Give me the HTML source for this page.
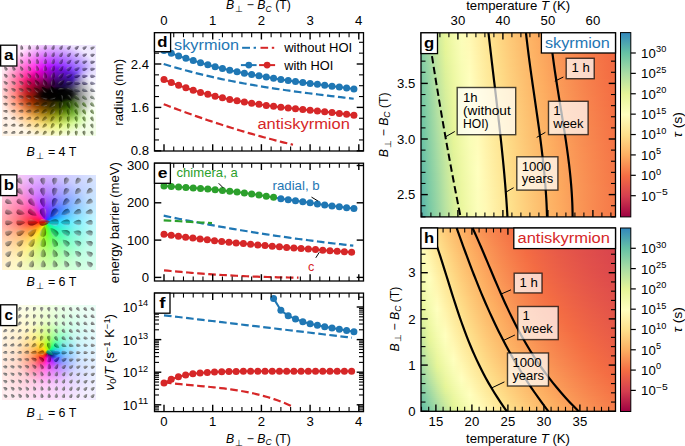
<!DOCTYPE html>
<html><head><meta charset="utf-8"><style>
html,body{margin:0;padding:0;background:#fff;}
#root{position:relative;width:685px;height:446px;overflow:hidden;background:#fff;font-family:"Liberation Sans",sans-serif;}
#root>div{position:absolute;}
svg{position:absolute;left:0;top:0;}
svg text{font-family:"Liberation Sans",sans-serif;}
</style></head><body><div id="root">
<div style="left:2px;top:44.5px;width:94px;height:91.5px;background:radial-gradient(ellipse 22px 8px at 55px 49.5px, rgba(0,0,0,0.97) 0%, rgba(0,0,0,0.9) 60%, rgba(0,0,0,0) 100%),radial-gradient(ellipse 40px 30px at 54px 50.5px, rgba(0,0,0,0.9) 0%, rgba(0,0,0,0.7) 40%, rgba(0,0,0,0.3) 70%, rgba(0,0,0,0) 100%),radial-gradient(ellipse 20px 30px at 88px 50.5px, rgba(255,255,255,0.95) 0%, rgba(255,255,255,0.75) 50%, rgba(255,255,255,0) 100%),radial-gradient(ellipse 52px 48px at 50px 44.5px, rgba(255,255,255,0) 0%, rgba(255,255,255,0) 45%, rgba(255,255,255,0.5) 75%, rgba(255,255,255,0.9) 100%),conic-gradient(from 0deg at 55px 48.5px, #9010ff 0deg, #6020ff 45deg, #c8c8ff 80deg, #e8fff0 95deg, #a0ff40 115deg, #80f000 140deg, #d8f000 180deg, #ffa000 225deg, #ff3000 260deg, #ff0060 290deg, #ff00e0 320deg, #c000ff 340deg, #9010ff 360deg)"></div>
<div style="left:2px;top:175px;width:94px;height:95px;background:radial-gradient(circle at 43.6px 47.3px, rgba(255,255,255,0) 0px, rgba(255,255,255,0.15) 12px, rgba(255,255,255,0.5) 30px, rgba(255,255,255,0.75) 48px, rgba(255,255,255,0.86) 68px),conic-gradient(from 0deg at 43.6px 47.3px, #7a00ff 0deg, #0050ff 50deg, #00e0ff 90deg, #00ff90 130deg, #60ff00 175deg, #ffe000 215deg, #ff6000 250deg, #ff0000 270deg, #ff0090 315deg, #b000ff 340deg, #7a00ff 360deg)"></div>
<div style="left:2px;top:305px;width:94px;height:95px;background:radial-gradient(ellipse 7px 5px at 48.7px 49.2px, rgba(0,0,40,0.8) 0%, rgba(0,0,0,0) 100%),radial-gradient(circle at 45.7px 48.2px, rgba(255,255,255,0) 0px, rgba(255,255,255,0.08) 7px, rgba(255,255,255,0.5) 18px, rgba(255,255,255,0.8) 32px, rgba(255,255,255,0.92) 55px),conic-gradient(from 0deg at 45.7px 48.2px, #90ff00 0deg, #00ff80 40deg, #00c0ff 80deg, #2040ff 120deg, #a000ff 150deg, #ff00e0 185deg, #ff0040 220deg, #ff4000 250deg, #ff9000 280deg, #ffe000 320deg, #90ff00 360deg)"></div>
<div style="left:421.00px;top:32.80px;width:194.50px;height:2.60px;background:linear-gradient(90deg,#88cfa5 0.0%,#acdea4 4.2%,#ceeb9d 8.3%,#e8f69b 12.5%,#f3faac 16.7%,#fcfeba 20.8%,#fff8b4 25.0%,#feefa4 29.2%,#fee696 33.3%,#fede89 37.5%,#fed380 41.7%,#fec977 45.8%,#fdbf70 50.0%,#fdb768 54.2%,#fdaf62 58.3%,#fca65d 62.5%,#fb9d59 66.7%,#f99455 70.8%,#f88d52 75.0%,#f7854e 79.2%,#f67f4b 83.3%,#f67848 87.5%,#f57245 91.7%,#f46d43 95.8%,#f16944 100.0%)"></div>
<div style="left:421.00px;top:34.80px;width:194.50px;height:2.60px;background:linear-gradient(90deg,#87cfa5 0.0%,#acdda4 4.2%,#cdeb9d 8.3%,#e8f69b 12.5%,#f2faab 16.7%,#fcfeba 20.8%,#fff8b4 25.0%,#feefa4 29.2%,#fee796 33.3%,#fede8a 37.5%,#fed380 41.7%,#fec978 45.8%,#fdc070 50.0%,#fdb769 54.2%,#fdaf62 58.3%,#fca65d 62.5%,#fb9d59 66.7%,#f99555 70.8%,#f88d52 75.0%,#f7864e 79.2%,#f67f4b 83.3%,#f67848 87.5%,#f57245 91.7%,#f46d43 95.8%,#f16944 100.0%)"></div>
<div style="left:421.00px;top:36.80px;width:194.50px;height:2.60px;background:linear-gradient(90deg,#87cfa5 0.0%,#abdda4 4.2%,#ccea9d 8.3%,#e7f69a 12.5%,#f2faab 16.7%,#fcfeba 20.8%,#fff9b5 25.0%,#feefa5 29.2%,#fee797 33.3%,#fedf8a 37.5%,#fed481 41.7%,#fec978 45.8%,#fdc070 50.0%,#fdb769 54.2%,#fdaf62 58.3%,#fca65d 62.5%,#fb9d59 66.7%,#fa9555 70.8%,#f88d52 75.0%,#f7864e 79.2%,#f67f4b 83.3%,#f67848 87.5%,#f57246 91.7%,#f46d43 95.8%,#f16944 100.0%)"></div>
<div style="left:421.00px;top:38.80px;width:194.50px;height:2.60px;background:linear-gradient(90deg,#86cea5 0.0%,#aadca4 4.2%,#cbea9d 8.3%,#e7f59a 12.5%,#f2faaa 16.7%,#fbfeb9 20.8%,#fff9b5 25.0%,#fff0a5 29.2%,#fee797 33.3%,#fedf8a 37.5%,#fed481 41.7%,#feca78 45.8%,#fdc070 50.0%,#fdb769 54.2%,#fdaf62 58.3%,#fca65d 62.5%,#fb9d59 66.7%,#fa9555 70.8%,#f88d52 75.0%,#f7864e 79.2%,#f67f4b 83.3%,#f67948 87.5%,#f57346 91.7%,#f46d43 95.8%,#f16944 100.0%)"></div>
<div style="left:421.00px;top:40.80px;width:194.50px;height:2.60px;background:linear-gradient(90deg,#85cea5 0.0%,#a9dca4 4.2%,#cbea9e 8.3%,#e7f599 12.5%,#f2faaa 16.7%,#fbfdb9 20.8%,#fff9b5 25.0%,#fff0a6 29.2%,#fee797 33.3%,#fedf8b 37.5%,#fed481 41.7%,#feca78 45.8%,#fdc070 50.0%,#fdb869 54.2%,#fdb062 58.3%,#fca75e 62.5%,#fb9e59 66.7%,#fa9556 70.8%,#f88d52 75.0%,#f7864f 79.2%,#f77f4b 83.3%,#f67948 87.5%,#f57346 91.7%,#f46d43 95.8%,#f16944 100.0%)"></div>
<div style="left:421.00px;top:42.80px;width:194.50px;height:2.60px;background:linear-gradient(90deg,#84cea5 0.0%,#a8dca4 4.2%,#caea9e 8.3%,#e6f599 12.5%,#f1faaa 16.7%,#fbfdb9 20.8%,#fffab6 25.0%,#fff0a6 29.2%,#fee898 33.3%,#fee08b 37.5%,#fed481 41.7%,#feca79 45.8%,#fdc171 50.0%,#fdb869 54.2%,#fdb063 58.3%,#fca75e 62.5%,#fb9e5a 66.7%,#fa9556 70.8%,#f98e52 75.0%,#f7864f 79.2%,#f77f4b 83.3%,#f67948 87.5%,#f57346 91.7%,#f46d43 95.8%,#f16944 100.0%)"></div>
<div style="left:421.00px;top:44.80px;width:194.50px;height:2.60px;background:linear-gradient(90deg,#83cea5 0.0%,#a7dba4 4.2%,#c9e99e 8.3%,#e6f598 12.5%,#f1f9a9 16.7%,#fbfdb8 20.8%,#fffab6 25.0%,#fff0a6 29.2%,#fee898 33.3%,#fee08b 37.5%,#fed582 41.7%,#feca79 45.8%,#fdc171 50.0%,#fdb86a 54.2%,#fdb063 58.3%,#fca75e 62.5%,#fb9e5a 66.7%,#fa9656 70.8%,#f98e52 75.0%,#f8864f 79.2%,#f7804c 83.3%,#f67949 87.5%,#f57346 91.7%,#f46d43 95.8%,#f26944 100.0%)"></div>
<div style="left:421.00px;top:46.80px;width:194.50px;height:2.60px;background:linear-gradient(90deg,#83cda5 0.0%,#a6dba4 4.2%,#c8e99e 8.3%,#e6f598 12.5%,#f1f9a9 16.7%,#fafdb8 20.8%,#fffab7 25.0%,#fff1a7 29.2%,#fee898 33.3%,#fee08c 37.5%,#fed582 41.7%,#fecb79 45.8%,#fdc171 50.0%,#fdb86a 54.2%,#fdb063 58.3%,#fca75e 62.5%,#fb9e5a 66.7%,#fa9656 70.8%,#f98e52 75.0%,#f8874f 79.2%,#f7804c 83.3%,#f67949 87.5%,#f57346 91.7%,#f46d43 95.8%,#f26944 100.0%)"></div>
<div style="left:421.00px;top:48.80px;width:194.50px;height:2.60px;background:linear-gradient(90deg,#82cda5 0.0%,#a5dba4 4.2%,#c8e99e 8.3%,#e5f598 12.5%,#f0f9a8 16.7%,#fafdb7 20.8%,#fffab7 25.0%,#fff1a7 29.2%,#fee899 33.3%,#fee18c 37.5%,#fed582 41.7%,#fecb79 45.8%,#fdc171 50.0%,#fdb96a 54.2%,#fdb163 58.3%,#fca85e 62.5%,#fb9f5a 66.7%,#fa9656 70.8%,#f98e52 75.0%,#f8874f 79.2%,#f7804c 83.3%,#f67949 87.5%,#f57346 91.7%,#f46e43 95.8%,#f26944 100.0%)"></div>
<div style="left:421.00px;top:50.80px;width:194.50px;height:2.60px;background:linear-gradient(90deg,#81cda5 0.0%,#a4daa4 4.2%,#c7e89e 8.3%,#e4f498 12.5%,#f0f9a8 16.7%,#fafdb7 20.8%,#fffbb8 25.0%,#fff1a8 29.2%,#fee999 33.3%,#fee18c 37.5%,#fed682 41.7%,#fecb7a 45.8%,#fdc272 50.0%,#fdb96a 54.2%,#fdb163 58.3%,#fca85e 62.5%,#fb9f5a 66.7%,#fa9656 70.8%,#f98e52 75.0%,#f8874f 79.2%,#f7804c 83.3%,#f67a49 87.5%,#f57346 91.7%,#f46e43 95.8%,#f26a44 100.0%)"></div>
<div style="left:421.00px;top:52.80px;width:194.50px;height:2.60px;background:linear-gradient(90deg,#80cca5 0.0%,#a3daa4 4.2%,#c6e89e 8.3%,#e4f498 12.5%,#f0f9a8 16.7%,#fafdb7 20.8%,#fffbb8 25.0%,#fff1a8 29.2%,#fee99a 33.3%,#fee18d 37.5%,#fed683 41.7%,#fecc7a 45.8%,#fdc272 50.0%,#fdb96a 54.2%,#fdb164 58.3%,#fca85e 62.5%,#fb9f5a 66.7%,#fa9756 70.8%,#f98f53 75.0%,#f8874f 79.2%,#f7804c 83.3%,#f67a49 87.5%,#f57446 91.7%,#f46e43 95.8%,#f26a44 100.0%)"></div>
<div style="left:421.00px;top:54.80px;width:194.50px;height:2.60px;background:linear-gradient(90deg,#80cca5 0.0%,#a2d9a4 4.2%,#c5e89f 8.3%,#e3f499 12.5%,#f0f9a7 16.7%,#f9fdb6 20.8%,#fffbb9 25.0%,#fff2a9 29.2%,#fee99a 33.3%,#fee18d 37.5%,#fed683 41.7%,#fecc7a 45.8%,#fdc272 50.0%,#fdb96b 54.2%,#fdb164 58.3%,#fca95e 62.5%,#fb9f5a 66.7%,#fa9756 70.8%,#f98f53 75.0%,#f8884f 79.2%,#f7814c 83.3%,#f67a49 87.5%,#f57446 91.7%,#f46e43 95.8%,#f26a44 100.0%)"></div>
<div style="left:421.00px;top:56.80px;width:194.50px;height:2.60px;background:linear-gradient(90deg,#7fcca5 0.0%,#a1d9a4 4.2%,#c5e79f 8.3%,#e2f499 12.5%,#eff9a7 16.7%,#f9fdb6 20.8%,#fffbb9 25.0%,#fff2a9 29.2%,#fee99a 33.3%,#fee18d 37.5%,#fed783 41.7%,#fecc7a 45.8%,#fdc372 50.0%,#fdba6b 54.2%,#fdb264 58.3%,#fca95f 62.5%,#fba05a 66.7%,#fa9756 70.8%,#f98f53 75.0%,#f8884f 79.2%,#f7814c 83.3%,#f67a49 87.5%,#f57446 91.7%,#f46e44 95.8%,#f26a44 100.0%)"></div>
<div style="left:421.00px;top:58.80px;width:194.50px;height:2.60px;background:linear-gradient(90deg,#7ecca5 0.0%,#a0d9a4 4.2%,#c4e79f 8.3%,#e2f399 12.5%,#eff9a6 16.7%,#f9fdb6 20.8%,#fffcba 25.0%,#fff2a9 29.2%,#fee99b 33.3%,#fee28e 37.5%,#fed783 41.7%,#fecd7b 45.8%,#fdc373 50.0%,#fdba6b 54.2%,#fdb264 58.3%,#fca95f 62.5%,#fba05b 66.7%,#fa9757 70.8%,#f98f53 75.0%,#f8884f 79.2%,#f7814c 83.3%,#f67a49 87.5%,#f57446 91.7%,#f46e44 95.8%,#f26a44 100.0%)"></div>
<div style="left:421.00px;top:60.80px;width:194.50px;height:2.60px;background:linear-gradient(90deg,#7ecba5 0.0%,#9fd8a4 4.2%,#c3e79f 8.3%,#e1f399 12.5%,#eff9a6 16.7%,#f9fcb5 20.8%,#fffcba 25.0%,#fff2aa 29.2%,#feea9b 33.3%,#fee28e 37.5%,#fed784 41.7%,#fecd7b 45.8%,#fdc373 50.0%,#fdba6b 54.2%,#fdb264 58.3%,#fca95f 62.5%,#fba05b 66.7%,#fa9857 70.8%,#f99053 75.0%,#f88850 79.2%,#f7814c 83.3%,#f67b49 87.5%,#f57446 91.7%,#f46f44 95.8%,#f26a44 100.0%)"></div>
<div style="left:421.00px;top:62.80px;width:194.50px;height:2.60px;background:linear-gradient(90deg,#7dcba5 0.0%,#9ed8a4 4.2%,#c2e79f 8.3%,#e0f399 12.5%,#eff8a6 16.7%,#f8fcb5 20.8%,#fffcba 25.0%,#fff3aa 29.2%,#feea9c 33.3%,#fee28e 37.5%,#fed884 41.7%,#fecd7b 45.8%,#fdc373 50.0%,#fdbb6c 54.2%,#fdb265 58.3%,#fcaa5f 62.5%,#fba15b 66.7%,#fa9857 70.8%,#f99053 75.0%,#f88850 79.2%,#f7814c 83.3%,#f67b49 87.5%,#f57547 91.7%,#f46f44 95.8%,#f26a44 100.0%)"></div>
<div style="left:421.00px;top:64.80px;width:194.50px;height:2.60px;background:linear-gradient(90deg,#7ccba5 0.0%,#9dd8a4 4.2%,#c2e69f 8.3%,#e0f299 12.5%,#eef8a5 16.7%,#f8fcb4 20.8%,#fffdbb 25.0%,#fff3ab 29.2%,#feea9c 33.3%,#fee28f 37.5%,#fed884 41.7%,#fecd7b 45.8%,#fdc473 50.0%,#fdbb6c 54.2%,#fdb365 58.3%,#fcaa5f 62.5%,#fba15b 66.7%,#fa9857 70.8%,#f99053 75.0%,#f88950 79.2%,#f7824d 83.3%,#f67b4a 87.5%,#f57547 91.7%,#f46f44 95.8%,#f26a44 100.0%)"></div>
<div style="left:421.00px;top:66.80px;width:194.50px;height:2.60px;background:linear-gradient(90deg,#7ccaa5 0.0%,#9cd7a4 4.2%,#c1e6a0 8.3%,#dff299 12.5%,#eef8a5 16.7%,#f8fcb4 20.8%,#fffdbb 25.0%,#fff3ab 29.2%,#feea9c 33.3%,#fee28f 37.5%,#fed885 41.7%,#fece7c 45.8%,#fdc474 50.0%,#fdbb6c 54.2%,#fdb365 58.3%,#fdaa5f 62.5%,#fba15b 66.7%,#fa9957 70.8%,#f99153 75.0%,#f88950 79.2%,#f7824d 83.3%,#f67b4a 87.5%,#f57547 91.7%,#f46f44 95.8%,#f26b44 100.0%)"></div>
<div style="left:421.00px;top:68.80px;width:194.50px;height:2.60px;background:linear-gradient(90deg,#7bcaa5 0.0%,#9cd7a4 4.2%,#c0e6a0 8.3%,#def29a 12.5%,#eef8a4 16.7%,#f8fcb4 20.8%,#fffdbc 25.0%,#fff3ac 29.2%,#feeb9d 33.3%,#fee390 37.5%,#fed985 41.7%,#fece7c 45.8%,#fdc474 50.0%,#fdbb6c 54.2%,#fdb365 58.3%,#fdab5f 62.5%,#fba15b 66.7%,#fa9957 70.8%,#f99154 75.0%,#f88950 79.2%,#f7824d 83.3%,#f67c4a 87.5%,#f57547 91.7%,#f46f44 95.8%,#f36b44 100.0%)"></div>
<div style="left:421.00px;top:70.80px;width:194.50px;height:2.60px;background:linear-gradient(90deg,#7acaa5 0.0%,#9bd7a4 4.2%,#c0e5a0 8.3%,#def29a 12.5%,#eef8a4 16.7%,#f8fcb3 20.8%,#fffdbc 25.0%,#fff4ac 29.2%,#feeb9d 33.3%,#fee390 37.5%,#fed985 41.7%,#fece7c 45.8%,#fdc574 50.0%,#fdbc6d 54.2%,#fdb366 58.3%,#fdab60 62.5%,#fba25b 66.7%,#fa9957 70.8%,#f99154 75.0%,#f88a50 79.2%,#f7834d 83.3%,#f67c4a 87.5%,#f57647 91.7%,#f47044 95.8%,#f36b44 100.0%)"></div>
<div style="left:421.00px;top:72.80px;width:194.50px;height:2.60px;background:linear-gradient(90deg,#7acaa5 0.0%,#9bd7a4 4.2%,#bfe5a0 8.3%,#ddf19a 12.5%,#edf8a4 16.7%,#f7fcb3 20.8%,#fffebd 25.0%,#fff4ac 29.2%,#feeb9e 33.3%,#fee390 37.5%,#fed985 41.7%,#fecf7d 45.8%,#fdc574 50.0%,#fdbc6d 54.2%,#fdb466 58.3%,#fdab60 62.5%,#fba25c 66.7%,#fa9958 70.8%,#f99154 75.0%,#f88a50 79.2%,#f7834d 83.3%,#f67c4a 87.5%,#f57647 91.7%,#f47044 95.8%,#f36b43 100.0%)"></div>
<div style="left:421.00px;top:74.80px;width:194.50px;height:2.60px;background:linear-gradient(90deg,#79c9a5 0.0%,#9ad6a4 4.2%,#bee5a0 8.3%,#ddf19a 12.5%,#edf8a3 16.7%,#f7fcb3 20.8%,#fffebd 25.0%,#fff4ad 29.2%,#feeb9e 33.3%,#fee391 37.5%,#feda86 41.7%,#fecf7d 45.8%,#fdc575 50.0%,#fdbc6d 54.2%,#fdb466 58.3%,#fdac60 62.5%,#fba25c 66.7%,#fa9a58 70.8%,#f99254 75.0%,#f88a50 79.2%,#f7834d 83.3%,#f67c4a 87.5%,#f57647 91.7%,#f47044 95.8%,#f36b43 100.0%)"></div>
<div style="left:421.00px;top:76.80px;width:194.50px;height:2.60px;background:linear-gradient(90deg,#78c9a5 0.0%,#99d6a4 4.2%,#bee5a0 8.3%,#dcf19a 12.5%,#edf8a3 16.7%,#f7fcb2 20.8%,#fffebe 25.0%,#fff4ad 29.2%,#feec9e 33.3%,#fee491 37.5%,#feda86 41.7%,#fecf7d 45.8%,#fdc675 50.0%,#fdbd6d 54.2%,#fdb466 58.3%,#fdac60 62.5%,#fba35c 66.7%,#fa9a58 70.8%,#f99254 75.0%,#f88a51 79.2%,#f7834d 83.3%,#f67d4a 87.5%,#f57647 91.7%,#f47045 95.8%,#f36b43 100.0%)"></div>
<div style="left:421.00px;top:78.80px;width:194.50px;height:2.60px;background:linear-gradient(90deg,#78c9a5 0.0%,#99d6a4 4.2%,#bde4a0 8.3%,#dbf19a 12.5%,#edf8a2 16.7%,#f7fcb2 20.8%,#fffebe 25.0%,#fff5ae 29.2%,#feec9f 33.3%,#fee491 37.5%,#feda86 41.7%,#fed07d 45.8%,#fdc675 50.0%,#fdbd6e 54.2%,#fdb567 58.3%,#fdac60 62.5%,#fba35c 66.7%,#fa9a58 70.8%,#f99254 75.0%,#f88b51 79.2%,#f7844d 83.3%,#f67d4a 87.5%,#f57747 91.7%,#f57145 95.8%,#f36c43 100.0%)"></div>
<div style="left:421.00px;top:80.80px;width:194.50px;height:2.60px;background:linear-gradient(90deg,#77c9a5 0.0%,#98d6a4 4.2%,#bce4a0 8.3%,#dbf09a 12.5%,#ecf8a2 16.7%,#f6fcb2 20.8%,#ffffbf 25.0%,#fff5ae 29.2%,#feec9f 33.3%,#fee492 37.5%,#fedb87 41.7%,#fed07e 45.8%,#fdc675 50.0%,#fdbd6e 54.2%,#fdb567 58.3%,#fdad60 62.5%,#fca35c 66.7%,#fa9b58 70.8%,#f99354 75.0%,#f88b51 79.2%,#f7844e 83.3%,#f67d4a 87.5%,#f57748 91.7%,#f57145 95.8%,#f36c43 100.0%)"></div>
<div style="left:421.00px;top:82.80px;width:194.50px;height:2.60px;background:linear-gradient(90deg,#76c8a5 0.0%,#98d5a4 4.2%,#bce4a1 8.3%,#daf09a 12.5%,#ecf7a2 16.7%,#f6fbb1 20.8%,#ffffbf 25.0%,#fff5ae 29.2%,#feeca0 33.3%,#fee492 37.5%,#fedb87 41.7%,#fed07e 45.8%,#fdc776 50.0%,#fdbd6e 54.2%,#fdb567 58.3%,#fdad61 62.5%,#fca45c 66.7%,#fa9b58 70.8%,#f99355 75.0%,#f88b51 79.2%,#f7844e 83.3%,#f67d4b 87.5%,#f57748 91.7%,#f57145 95.8%,#f36c43 100.0%)"></div>
<div style="left:421.00px;top:84.80px;width:194.50px;height:2.60px;background:linear-gradient(90deg,#76c8a5 0.0%,#97d5a4 4.2%,#bbe4a1 8.3%,#d9f09b 12.5%,#ecf7a1 16.7%,#f6fbb1 20.8%,#ffffbf 25.0%,#fff5af 29.2%,#feeda0 33.3%,#fee593 37.5%,#fedb87 41.7%,#fed17e 45.8%,#fdc776 50.0%,#fdbe6e 54.2%,#fdb567 58.3%,#fdae61 62.5%,#fca45c 66.7%,#fa9b58 70.8%,#f99355 75.0%,#f88c51 79.2%,#f7844e 83.3%,#f67e4b 87.5%,#f57748 91.7%,#f57145 95.8%,#f36c43 100.0%)"></div>
<div style="left:421.00px;top:86.80px;width:194.50px;height:2.60px;background:linear-gradient(90deg,#75c8a5 0.0%,#97d5a4 4.2%,#bae3a1 8.3%,#d9f09b 12.5%,#ecf7a1 16.7%,#f6fbb1 20.8%,#ffffbe 25.0%,#fff6af 29.2%,#feeda0 33.3%,#fee593 37.5%,#fedc87 41.7%,#fed17e 45.8%,#fec776 50.0%,#fdbe6f 54.2%,#fdb667 58.3%,#fdae61 62.5%,#fca55d 66.7%,#fa9c59 70.8%,#f99455 75.0%,#f88c51 79.2%,#f7854e 83.3%,#f67e4b 87.5%,#f57848 91.7%,#f57245 95.8%,#f46c43 100.0%)"></div>
<div style="left:421.00px;top:88.80px;width:194.50px;height:2.60px;background:linear-gradient(90deg,#74c8a5 0.0%,#96d5a4 4.2%,#bae3a1 8.3%,#d8ef9b 12.5%,#ebf7a1 16.7%,#f5fbb0 20.8%,#feffbe 25.0%,#fff6b0 29.2%,#feeda1 33.3%,#fee593 37.5%,#fedc88 41.7%,#fed17f 45.8%,#fec776 50.0%,#fdbe6f 54.2%,#fdb668 58.3%,#fdae61 62.5%,#fca55d 66.7%,#fb9c59 70.8%,#f99455 75.0%,#f88c51 79.2%,#f7854e 83.3%,#f67e4b 87.5%,#f67848 91.7%,#f57245 95.8%,#f46d43 100.0%)"></div>
<div style="left:421.00px;top:90.80px;width:194.50px;height:2.60px;background:linear-gradient(90deg,#74c7a5 0.0%,#95d5a4 4.2%,#b9e3a1 8.3%,#d8ef9b 12.5%,#ebf7a0 16.7%,#f5fbb0 20.8%,#feffbe 25.0%,#fff6b0 29.2%,#feeda1 33.3%,#fee594 37.5%,#fedd88 41.7%,#fed27f 45.8%,#fec877 50.0%,#fdbf6f 54.2%,#fdb668 58.3%,#fdae61 62.5%,#fca55d 66.7%,#fb9c59 70.8%,#f99455 75.0%,#f88d52 79.2%,#f7854e 83.3%,#f67f4b 87.5%,#f67848 91.7%,#f57245 95.8%,#f46d43 100.0%)"></div>
<div style="left:421.00px;top:92.80px;width:194.50px;height:2.60px;background:linear-gradient(90deg,#73c7a5 0.0%,#95d4a4 4.2%,#b8e2a1 8.3%,#d7ef9b 12.5%,#ebf7a0 16.7%,#f5fbaf 20.8%,#feffbd 25.0%,#fff6b1 29.2%,#feeda2 33.3%,#fee594 37.5%,#fedd88 41.7%,#fed27f 45.8%,#fec877 50.0%,#fdbf6f 54.2%,#fdb768 58.3%,#fdaf62 62.5%,#fca65d 66.7%,#fb9d59 70.8%,#f99555 75.0%,#f88d52 79.2%,#f7864e 83.3%,#f67f4b 87.5%,#f67948 91.7%,#f57346 95.8%,#f46d43 100.0%)"></div>
<div style="left:421.00px;top:94.80px;width:194.50px;height:2.60px;background:linear-gradient(90deg,#73c7a5 0.0%,#94d4a4 4.2%,#b8e2a1 8.3%,#d6ef9b 12.5%,#ebf79f 16.7%,#f5fbaf 20.8%,#fefebd 25.0%,#fff7b1 29.2%,#feeea2 33.3%,#fee694 37.5%,#fedd89 41.7%,#fed280 45.8%,#fec877 50.0%,#fdbf70 54.2%,#fdb768 58.3%,#fdaf62 62.5%,#fca65d 66.7%,#fb9d59 70.8%,#fa9555 75.0%,#f88d52 79.2%,#f7864f 83.3%,#f77f4b 87.5%,#f67948 91.7%,#f57346 95.8%,#f46d43 100.0%)"></div>
<div style="left:421.00px;top:96.80px;width:194.50px;height:2.60px;background:linear-gradient(90deg,#72c7a5 0.0%,#94d4a4 4.2%,#b7e2a2 8.3%,#d6ee9b 12.5%,#ebf79f 16.7%,#f5fbaf 20.8%,#fefebd 25.0%,#fff7b1 29.2%,#feeea2 33.3%,#fee695 37.5%,#fede89 41.7%,#fed380 45.8%,#fec977 50.0%,#fdc070 54.2%,#fdb769 58.3%,#fdaf62 62.5%,#fca65d 66.7%,#fb9d59 70.8%,#fa9556 75.0%,#f98e52 79.2%,#f8864f 83.3%,#f7804c 87.5%,#f67949 91.7%,#f57346 95.8%,#f46d43 100.0%)"></div>
<div style="left:421.00px;top:98.80px;width:194.50px;height:2.60px;background:linear-gradient(90deg,#71c6a5 0.0%,#93d4a4 4.2%,#b7e2a2 8.3%,#d5ee9b 12.5%,#eaf79f 16.7%,#f4fbae 20.8%,#fdfebc 25.0%,#fff7b2 29.2%,#feeea3 33.3%,#fee695 37.5%,#fede89 41.7%,#fed380 45.8%,#fec978 50.0%,#fdc070 54.2%,#fdb769 58.3%,#fdb062 62.5%,#fca75e 66.7%,#fb9e5a 70.8%,#fa9656 75.0%,#f98e52 79.2%,#f8874f 83.3%,#f7804c 87.5%,#f67949 91.7%,#f57346 95.8%,#f46e43 100.0%)"></div>
<div style="left:421.00px;top:100.80px;width:194.50px;height:2.60px;background:linear-gradient(90deg,#71c6a5 0.0%,#93d3a4 4.2%,#b6e1a2 8.3%,#d5ee9c 12.5%,#eaf79e 16.7%,#f4fbae 20.8%,#fdfebc 25.0%,#fff7b2 29.2%,#feeea3 33.3%,#fee696 37.5%,#fede8a 41.7%,#fed380 45.8%,#fec978 50.0%,#fdc070 54.2%,#fdb869 58.3%,#fdb063 62.5%,#fca75e 66.7%,#fb9e5a 70.8%,#fa9656 75.0%,#f98e52 79.2%,#f8874f 83.3%,#f7804c 87.5%,#f67a49 91.7%,#f57446 95.8%,#f46e43 100.0%)"></div>
<div style="left:421.00px;top:102.80px;width:194.50px;height:2.60px;background:linear-gradient(90deg,#70c6a5 0.0%,#92d3a4 4.2%,#b5e1a2 8.3%,#d4ee9c 12.5%,#eaf79e 16.7%,#f4fbae 20.8%,#fdfebc 25.0%,#fff8b3 29.2%,#feefa4 33.3%,#fee796 37.5%,#fedf8a 41.7%,#fed481 45.8%,#feca78 50.0%,#fdc071 54.2%,#fdb869 58.3%,#fdb063 62.5%,#fca75e 66.7%,#fb9e5a 70.8%,#fa9656 75.0%,#f98e52 79.2%,#f8874f 83.3%,#f7804c 87.5%,#f67a49 91.7%,#f57446 95.8%,#f46e44 100.0%)"></div>
<div style="left:421.00px;top:104.80px;width:194.50px;height:2.60px;background:linear-gradient(90deg,#70c6a5 0.0%,#91d3a4 4.2%,#b5e1a2 8.3%,#d4ed9c 12.5%,#eaf69e 16.7%,#f4faad 20.8%,#fdfebb 25.0%,#fff8b3 29.2%,#feefa4 33.3%,#fee796 37.5%,#fedf8a 41.7%,#fed481 45.8%,#feca79 50.0%,#fdc171 54.2%,#fdb86a 58.3%,#fdb063 62.5%,#fca85e 66.7%,#fb9f5a 70.8%,#fa9756 75.0%,#f98f53 79.2%,#f8884f 83.3%,#f7814c 87.5%,#f67a49 91.7%,#f57446 95.8%,#f46f44 100.0%)"></div>
<div style="left:421.00px;top:106.80px;width:194.50px;height:2.60px;background:linear-gradient(90deg,#6fc6a5 0.0%,#91d3a4 4.2%,#b4e1a2 8.3%,#d3ed9c 12.5%,#e9f69d 16.7%,#f4faad 20.8%,#fdfebb 25.0%,#fff8b3 29.2%,#feefa4 33.3%,#fee797 37.5%,#fedf8a 41.7%,#fed481 45.8%,#feca79 50.0%,#fdc171 54.2%,#fdb96a 58.3%,#fdb163 62.5%,#fca85e 66.7%,#fb9f5a 70.8%,#fa9756 75.0%,#f98f53 79.2%,#f8884f 83.3%,#f7814c 87.5%,#f67b49 91.7%,#f57546 95.8%,#f46f44 100.0%)"></div>
<div style="left:421.00px;top:108.80px;width:194.50px;height:2.60px;background:linear-gradient(90deg,#6ec5a5 0.0%,#90d3a4 4.2%,#b3e0a2 8.3%,#d2ed9c 12.5%,#e9f69d 16.7%,#f3faad 20.8%,#fcfebb 25.0%,#fff8b4 29.2%,#feefa5 33.3%,#fee797 37.5%,#fee08b 41.7%,#fed581 45.8%,#fecb79 50.0%,#fdc171 54.2%,#fdb96a 58.3%,#fdb164 62.5%,#fca85e 66.7%,#fb9f5a 70.8%,#fa9756 75.0%,#f98f53 79.2%,#f88850 83.3%,#f7814c 87.5%,#f67b49 91.7%,#f57547 95.8%,#f46f44 100.0%)"></div>
<div style="left:421.00px;top:110.80px;width:194.50px;height:2.60px;background:linear-gradient(90deg,#6ec5a5 0.0%,#90d2a4 4.2%,#b3e0a2 8.3%,#d2ed9c 12.5%,#e9f69d 16.7%,#f3faac 20.8%,#fcfeba 25.0%,#fff9b4 29.2%,#fff0a5 33.3%,#fee797 37.5%,#fee08b 41.7%,#fed582 45.8%,#fecb79 50.0%,#fdc272 54.2%,#fdb96a 58.3%,#fdb164 62.5%,#fca95f 66.7%,#fba05a 70.8%,#fa9857 75.0%,#f99053 79.2%,#f88850 83.3%,#f7824d 87.5%,#f67b4a 91.7%,#f57547 95.8%,#f46f44 100.0%)"></div>
<div style="left:421.00px;top:112.80px;width:194.50px;height:2.60px;background:linear-gradient(90deg,#6dc5a5 0.0%,#8fd2a4 4.2%,#b2e0a3 8.3%,#d1ed9c 12.5%,#e9f69c 16.7%,#f3faac 20.8%,#fcfeba 25.0%,#fff9b5 29.2%,#fff0a5 33.3%,#fee898 37.5%,#fee08b 41.7%,#fed582 45.8%,#fecb7a 50.0%,#fdc272 54.2%,#fdb96b 58.3%,#fdb264 62.5%,#fca95f 66.7%,#fba05b 70.8%,#fa9857 75.0%,#f99053 79.2%,#f88950 83.3%,#f7824d 87.5%,#f67c4a 91.7%,#f57547 95.8%,#f47044 100.0%)"></div>
<div style="left:421.00px;top:114.80px;width:194.50px;height:2.60px;background:linear-gradient(90deg,#6dc5a5 0.0%,#8fd2a4 4.2%,#b2e0a3 8.3%,#d1ec9c 12.5%,#e8f69c 16.7%,#f3faac 20.8%,#fcfeba 25.0%,#fff9b5 29.2%,#fff0a6 33.3%,#fee898 37.5%,#fee08c 41.7%,#fed682 45.8%,#fecc7a 50.0%,#fdc272 54.2%,#fdba6b 58.3%,#fdb264 62.5%,#fca95f 66.7%,#fba05b 70.8%,#fa9857 75.0%,#f99053 79.2%,#f88950 83.3%,#f7824d 87.5%,#f67c4a 91.7%,#f57647 95.8%,#f47044 100.0%)"></div>
<div style="left:421.00px;top:116.80px;width:194.50px;height:2.60px;background:linear-gradient(90deg,#6cc4a5 0.0%,#8ed2a4 4.2%,#b1dfa3 8.3%,#d0ec9c 12.5%,#e8f69c 16.7%,#f2faab 20.8%,#fbfeba 25.0%,#fff9b5 29.2%,#fff0a6 33.3%,#fee898 37.5%,#fee18c 41.7%,#fed683 45.8%,#fecc7a 50.0%,#fdc372 54.2%,#fdba6b 58.3%,#fdb264 62.5%,#fcaa5f 66.7%,#fba15b 70.8%,#fa9957 75.0%,#f99153 79.2%,#f88950 83.3%,#f7834d 87.5%,#f67c4a 91.7%,#f57647 95.8%,#f47044 100.0%)"></div>
<div style="left:421.00px;top:118.80px;width:194.50px;height:2.60px;background:linear-gradient(90deg,#6cc4a5 0.0%,#8ed2a4 4.2%,#b0dfa3 8.3%,#d0ec9d 12.5%,#e8f69b 16.7%,#f2faab 20.8%,#fbfeb9 25.0%,#fffab6 29.2%,#fff0a7 33.3%,#fee899 37.5%,#fee18c 41.7%,#fed683 45.8%,#fecc7a 50.0%,#fdc373 54.2%,#fdba6b 58.3%,#fdb265 62.5%,#fcaa5f 66.7%,#fba15b 70.8%,#fa9957 75.0%,#f99154 79.2%,#f88a50 83.3%,#f7834d 87.5%,#f67c4a 91.7%,#f57647 95.8%,#f47145 100.0%)"></div>
<div style="left:421.00px;top:120.80px;width:194.50px;height:2.60px;background:linear-gradient(90deg,#6bc4a5 0.0%,#8dd1a4 4.2%,#b0dfa3 8.3%,#cfec9d 12.5%,#e8f69b 16.7%,#f2faab 20.8%,#fbfdb9 25.0%,#fffab6 29.2%,#fff1a7 33.3%,#fee899 37.5%,#fee18d 41.7%,#fed783 45.8%,#fecc7b 50.0%,#fdc373 54.2%,#fdbb6c 58.3%,#fdb365 62.5%,#fdaa5f 66.7%,#fba25b 70.8%,#fa9957 75.0%,#f99154 79.2%,#f88a50 83.3%,#f7834d 87.5%,#f67d4a 91.7%,#f57747 95.8%,#f57145 100.0%)"></div>
<div style="left:421.00px;top:122.80px;width:194.50px;height:2.60px;background:linear-gradient(90deg,#6ac4a5 0.0%,#8dd1a4 4.2%,#afdfa3 8.3%,#ceeb9d 12.5%,#e8f69a 16.7%,#f2faaa 20.8%,#fbfdb9 25.0%,#fffab7 29.2%,#fff1a7 33.3%,#fee99a 37.5%,#fee18d 41.7%,#fed783 45.8%,#fecd7b 50.0%,#fdc373 54.2%,#fdbb6c 58.3%,#fdb365 62.5%,#fdab60 66.7%,#fba25b 70.8%,#fa9958 75.0%,#f99254 79.2%,#f88a51 83.3%,#f7834d 87.5%,#f67d4a 91.7%,#f57748 95.8%,#f57145 100.0%)"></div>
<div style="left:421.00px;top:124.80px;width:194.50px;height:2.60px;background:linear-gradient(90deg,#6ac4a5 0.0%,#8cd1a4 4.2%,#afdea3 8.3%,#ceeb9d 12.5%,#e7f69a 16.7%,#f2faaa 20.8%,#fbfdb8 25.0%,#fffab7 29.2%,#fff1a8 33.3%,#fee99a 37.5%,#fee18d 41.7%,#fed784 45.8%,#fecd7b 50.0%,#fdc473 54.2%,#fdbb6c 58.3%,#fdb365 62.5%,#fdab60 66.7%,#fba25c 70.8%,#fa9a58 75.0%,#f99254 79.2%,#f88b51 83.3%,#f7844d 87.5%,#f67d4a 91.7%,#f57748 95.8%,#f57145 100.0%)"></div>
<div style="left:421.00px;top:126.80px;width:194.50px;height:2.60px;background:linear-gradient(90deg,#69c3a5 0.0%,#8cd1a4 4.2%,#aedea3 8.3%,#cdeb9d 12.5%,#e7f59a 16.7%,#f1faaa 20.8%,#fbfdb8 25.0%,#fffab7 29.2%,#fff1a8 33.3%,#fee99a 37.5%,#fee28e 41.7%,#fed884 45.8%,#fecd7b 50.0%,#fdc474 54.2%,#fdbb6c 58.3%,#fdb366 62.5%,#fdab60 66.7%,#fba25c 70.8%,#fa9a58 75.0%,#f99254 79.2%,#f88b51 83.3%,#f7844e 87.5%,#f67e4b 91.7%,#f57748 95.8%,#f57245 100.0%)"></div>
<div style="left:421.00px;top:128.80px;width:194.50px;height:2.60px;background:linear-gradient(90deg,#69c3a5 0.0%,#8bd1a4 4.2%,#aedea3 8.3%,#cdeb9d 12.5%,#e7f599 16.7%,#f1f9a9 20.8%,#fafdb8 25.0%,#fffbb8 29.2%,#fff2a8 33.3%,#fee99b 37.5%,#fee28e 41.7%,#fed884 45.8%,#fece7c 50.0%,#fdc474 54.2%,#fdbc6d 58.3%,#fdb466 62.5%,#fdac60 66.7%,#fba35c 70.8%,#fa9a58 75.0%,#f99354 79.2%,#f88b51 83.3%,#f7844e 87.5%,#f67e4b 91.7%,#f57848 95.8%,#f57245 100.0%)"></div>
<div style="left:421.00px;top:130.80px;width:194.50px;height:2.60px;background:linear-gradient(90deg,#68c3a5 0.0%,#8bd0a4 4.2%,#addea4 8.3%,#cceb9d 12.5%,#e7f599 16.7%,#f1f9a9 20.8%,#fafdb7 25.0%,#fffbb8 29.2%,#fff2a9 33.3%,#feea9b 37.5%,#fee28e 41.7%,#fed884 45.8%,#fece7c 50.0%,#fdc574 54.2%,#fdbc6d 58.3%,#fdb466 62.5%,#fdac60 66.7%,#fba35c 70.8%,#fa9b58 75.0%,#f99354 79.2%,#f88c51 83.3%,#f7854e 87.5%,#f67e4b 91.7%,#f67848 95.8%,#f57245 100.0%)"></div>
<div style="left:421.00px;top:132.80px;width:194.50px;height:2.60px;background:linear-gradient(90deg,#68c3a5 0.0%,#8ad0a4 4.2%,#acdea4 8.3%,#ccea9d 12.5%,#e7f599 16.7%,#f1f9a9 20.8%,#fafdb7 25.0%,#fffbb8 29.2%,#fff2a9 33.3%,#feea9b 37.5%,#fee28f 41.7%,#fed885 45.8%,#fece7c 50.0%,#fdc574 54.2%,#fdbc6d 58.3%,#fdb466 62.5%,#fdac60 66.7%,#fca35c 70.8%,#fa9b58 75.0%,#f99355 79.2%,#f88c51 83.3%,#f7854e 87.5%,#f67e4b 91.7%,#f67848 95.8%,#f57245 100.0%)"></div>
<div style="left:421.00px;top:134.80px;width:194.50px;height:2.60px;background:linear-gradient(90deg,#67c2a5 0.0%,#8ad0a4 4.2%,#acdda4 8.3%,#cbea9d 12.5%,#e6f598 16.7%,#f1f9a9 20.8%,#fafdb7 25.0%,#fffbb9 29.2%,#fff2aa 33.3%,#feea9c 37.5%,#fee28f 41.7%,#fed985 45.8%,#fecf7c 50.0%,#fdc574 54.2%,#fdbd6d 58.3%,#fdb566 62.5%,#fdad60 66.7%,#fca45c 70.8%,#fa9b58 75.0%,#f99355 79.2%,#f88c51 83.3%,#f7854e 87.5%,#f67f4b 91.7%,#f67848 95.8%,#f57346 100.0%)"></div>
<div style="left:421.00px;top:136.80px;width:194.50px;height:2.60px;background:linear-gradient(90deg,#67c2a5 0.0%,#89d0a4 4.2%,#abdda4 8.3%,#cbea9e 12.5%,#e6f598 16.7%,#f0f9a8 20.8%,#fafdb7 25.0%,#fffcb9 29.2%,#fff2aa 33.3%,#feea9c 37.5%,#fee38f 41.7%,#fed985 45.8%,#fecf7d 50.0%,#fdc575 54.2%,#fdbd6d 58.3%,#fdb567 62.5%,#fdad61 66.7%,#fca45c 70.8%,#fa9c59 75.0%,#f99455 79.2%,#f88c51 83.3%,#f7854e 87.5%,#f67f4b 91.7%,#f67948 95.8%,#f57346 100.0%)"></div>
<div style="left:421.00px;top:138.80px;width:194.50px;height:2.60px;background:linear-gradient(90deg,#66c2a5 0.0%,#89d0a4 4.2%,#abdda4 8.3%,#caea9e 12.5%,#e6f598 16.7%,#f0f9a8 20.8%,#f9fdb6 25.0%,#fffcba 29.2%,#fff3aa 33.3%,#feea9c 37.5%,#fee390 41.7%,#fed985 45.8%,#fecf7d 50.0%,#fdc675 54.2%,#fdbd6e 58.3%,#fdb567 62.5%,#fdad61 66.7%,#fca45d 70.8%,#fb9c59 75.0%,#f99455 79.2%,#f88d52 83.3%,#f7864e 87.5%,#f77f4b 91.7%,#f67949 95.8%,#f57346 100.0%)"></div>
<div style="left:421.00px;top:140.80px;width:194.50px;height:2.60px;background:linear-gradient(90deg,#66c2a5 0.0%,#88cfa5 4.2%,#aadda4 8.3%,#cae99e 12.5%,#e5f598 16.7%,#f0f9a8 20.8%,#f9fdb6 25.0%,#fffcba 29.2%,#fff3ab 33.3%,#feeb9d 37.5%,#fee390 41.7%,#feda86 45.8%,#fecf7d 50.0%,#fdc675 54.2%,#fdbd6e 58.3%,#fdb567 62.5%,#fdae61 66.7%,#fca55d 70.8%,#fb9c59 75.0%,#f99455 79.2%,#f88d52 83.3%,#f7864f 87.5%,#f77f4c 91.7%,#f67949 95.8%,#f57346 100.0%)"></div>
<div style="left:421.00px;top:142.80px;width:194.50px;height:2.60px;background:linear-gradient(90deg,#65c1a5 0.0%,#88cfa5 4.2%,#a9dca4 8.3%,#c9e99e 12.5%,#e5f498 16.7%,#f0f9a7 20.8%,#f9fdb6 25.0%,#fffcba 29.2%,#fff3ab 33.3%,#feeb9d 37.5%,#fee390 41.7%,#feda86 45.8%,#fed07d 50.0%,#fdc675 54.2%,#fdbe6e 58.3%,#fdb667 62.5%,#fdae61 66.7%,#fca55d 70.8%,#fb9d59 75.0%,#f99555 79.2%,#f88d52 83.3%,#f7864f 87.5%,#f7804c 91.7%,#f67a49 95.8%,#f57446 100.0%)"></div>
<div style="left:421.00px;top:144.80px;width:194.50px;height:2.60px;background:linear-gradient(90deg,#65c1a6 0.0%,#87cfa5 4.2%,#a9dca4 8.3%,#c9e99e 12.5%,#e4f498 16.7%,#f0f9a7 20.8%,#f9fdb5 25.0%,#fffcbb 29.2%,#fff3ab 33.3%,#feeb9d 37.5%,#fee391 41.7%,#feda86 45.8%,#fed07e 50.0%,#fdc776 54.2%,#fdbe6e 58.3%,#fdb668 62.5%,#fdae61 66.7%,#fca55d 70.8%,#fb9d59 75.0%,#fa9555 79.2%,#f88d52 83.3%,#f8874f 87.5%,#f7804c 91.7%,#f67a49 95.8%,#f57446 100.0%)"></div>
<div style="left:421.00px;top:146.80px;width:194.50px;height:2.60px;background:linear-gradient(90deg,#64c0a6 0.0%,#87cfa5 4.2%,#a8dca4 8.3%,#c8e99e 12.5%,#e4f498 16.7%,#eff9a7 20.8%,#f9fcb5 25.0%,#fffdbb 29.2%,#fff3ac 33.3%,#feeb9e 37.5%,#fee491 41.7%,#feda86 45.8%,#fed07e 50.0%,#fdc776 54.2%,#fdbe6f 58.3%,#fdb668 62.5%,#fdaf61 66.7%,#fca65d 70.8%,#fb9d59 75.0%,#fa9556 79.2%,#f98e52 83.3%,#f8874f 87.5%,#f7804c 91.7%,#f67a49 95.8%,#f57446 100.0%)"></div>
<div style="left:421.00px;top:148.80px;width:194.50px;height:2.60px;background:linear-gradient(90deg,#64c0a6 0.0%,#86cfa5 4.2%,#a7dca4 8.3%,#c8e99e 12.5%,#e3f499 16.7%,#eff9a6 20.8%,#f8fcb5 25.0%,#fffdbb 29.2%,#fff4ac 33.3%,#feeb9e 37.5%,#fee491 41.7%,#fedb87 45.8%,#fed17e 50.0%,#fec776 54.2%,#fdbe6f 58.3%,#fdb668 62.5%,#fdaf62 66.7%,#fca65d 70.8%,#fb9d59 75.0%,#fa9556 79.2%,#f98e52 83.3%,#f8874f 87.5%,#f7804c 91.7%,#f67a49 95.8%,#f57446 100.0%)"></div>
<div style="left:421.00px;top:150.80px;width:194.50px;height:2.60px;background:linear-gradient(90deg,#64bfa6 0.0%,#86cea5 4.2%,#a7dba4 8.3%,#c7e89e 12.5%,#e3f499 16.7%,#eff9a6 20.8%,#f8fcb4 25.0%,#fffdbc 29.2%,#fff4ac 33.3%,#feeb9e 37.5%,#fee492 41.7%,#fedb87 45.8%,#fed17e 50.0%,#fec776 54.2%,#fdbf6f 58.3%,#fdb668 62.5%,#fdaf62 66.7%,#fca65d 70.8%,#fb9e59 75.0%,#fa9656 79.2%,#f98e52 83.3%,#f8874f 87.5%,#f7814c 91.7%,#f67a49 95.8%,#f57547 100.0%)"></div>
<div style="left:421.00px;top:152.80px;width:194.50px;height:2.60px;background:linear-gradient(90deg,#63bfa6 0.0%,#85cea5 4.2%,#a6dba4 8.3%,#c6e89e 12.5%,#e2f399 16.7%,#eff9a6 20.8%,#f8fcb4 25.0%,#fffdbc 29.2%,#fff4ad 33.3%,#feec9f 37.5%,#fee492 41.7%,#fedb87 45.8%,#fed17e 50.0%,#fec876 54.2%,#fdbf6f 58.3%,#fdb768 62.5%,#fdaf62 66.7%,#fca65e 70.8%,#fb9e5a 75.0%,#fa9656 79.2%,#f98f52 83.3%,#f8884f 87.5%,#f7814c 91.7%,#f67b49 95.8%,#f57547 100.0%)"></div>
<div style="left:421.00px;top:154.80px;width:194.50px;height:2.60px;background:linear-gradient(90deg,#63bea6 0.0%,#85cea5 4.2%,#a5dba4 8.3%,#c6e89f 12.5%,#e2f399 16.7%,#eff8a5 20.8%,#f8fcb4 25.0%,#fffebd 29.2%,#fff4ad 33.3%,#feec9f 37.5%,#fee492 41.7%,#fedc87 45.8%,#fed17f 50.0%,#fec877 54.2%,#fdbf6f 58.3%,#fdb769 62.5%,#fdaf62 66.7%,#fca75e 70.8%,#fb9e5a 75.0%,#fa9656 79.2%,#f98f53 83.3%,#f8884f 87.5%,#f7814c 91.7%,#f67b49 95.8%,#f57547 100.0%)"></div>
<div style="left:421.00px;top:156.80px;width:194.50px;height:2.60px;background:linear-gradient(90deg,#62bea7 0.0%,#84cea5 4.2%,#a5dba4 8.3%,#c5e89f 12.5%,#e1f399 16.7%,#eef8a5 20.8%,#f8fcb4 25.0%,#fffebd 29.2%,#fff4ad 33.3%,#feec9f 37.5%,#fee492 41.7%,#fedc88 45.8%,#fed27f 50.0%,#fec877 54.2%,#fdbf70 58.3%,#fdb769 62.5%,#fdb062 66.7%,#fca75e 70.8%,#fb9e5a 75.0%,#fa9656 79.2%,#f98f53 83.3%,#f8884f 87.5%,#f7814c 91.7%,#f67b4a 95.8%,#f57547 100.0%)"></div>
<div style="left:421.00px;top:158.80px;width:194.50px;height:2.60px;background:linear-gradient(90deg,#62bea7 0.0%,#84cea5 4.2%,#a4daa4 8.3%,#c5e89f 12.5%,#e1f399 16.7%,#eef8a5 20.8%,#f8fcb3 25.0%,#fffebd 29.2%,#fff5ae 33.3%,#feeca0 37.5%,#fee593 41.7%,#fedc88 45.8%,#fed27f 50.0%,#fec877 54.2%,#fdc070 58.3%,#fdb769 62.5%,#fdb063 66.7%,#fca75e 70.8%,#fb9f5a 75.0%,#fa9756 79.2%,#f98f53 83.3%,#f88850 87.5%,#f7824c 91.7%,#f67b4a 95.8%,#f57547 100.0%)"></div>
<div style="left:421.00px;top:160.80px;width:194.50px;height:2.60px;background:linear-gradient(90deg,#62bda7 0.0%,#83cda5 4.2%,#a3daa4 8.3%,#c4e79f 12.5%,#e0f399 16.7%,#eef8a5 20.8%,#f7fcb3 25.0%,#fffebe 29.2%,#fff5ae 33.3%,#feeca0 37.5%,#fee593 41.7%,#fedc88 45.8%,#fed27f 50.0%,#fec977 54.2%,#fdc070 58.3%,#fdb869 62.5%,#fdb063 66.7%,#fca85e 70.8%,#fb9f5a 75.0%,#fa9756 79.2%,#f98f53 83.3%,#f88850 87.5%,#f7824d 91.7%,#f67c4a 95.8%,#f57647 100.0%)"></div>
<div style="left:421.00px;top:162.80px;width:194.50px;height:2.60px;background:linear-gradient(90deg,#61bda7 0.0%,#83cda5 4.2%,#a3daa4 8.3%,#c4e79f 12.5%,#e0f399 16.7%,#eef8a4 20.8%,#f7fcb3 25.0%,#fffebe 29.2%,#fff5ae 33.3%,#feeda0 37.5%,#fee593 41.7%,#fedd88 45.8%,#fed280 50.0%,#fec977 54.2%,#fdc070 58.3%,#fdb869 62.5%,#fdb063 66.7%,#fca85e 70.8%,#fb9f5a 75.0%,#fa9756 79.2%,#f99053 83.3%,#f88950 87.5%,#f7824d 91.7%,#f67c4a 95.8%,#f57647 100.0%)"></div>
<div style="left:421.00px;top:164.80px;width:194.50px;height:2.60px;background:linear-gradient(90deg,#61bca7 0.0%,#82cda5 4.2%,#a2daa4 8.3%,#c3e79f 12.5%,#dff299 16.7%,#eef8a4 20.8%,#f7fcb3 25.0%,#ffffbe 29.2%,#fff5af 33.3%,#feeda0 37.5%,#fee594 41.7%,#fedd88 45.8%,#fed380 50.0%,#fec978 54.2%,#fdc070 58.3%,#fdb869 62.5%,#fdb063 66.7%,#fca85e 70.8%,#fb9f5a 75.0%,#fa9757 79.2%,#f99053 83.3%,#f88950 87.5%,#f7824d 91.7%,#f67c4a 95.8%,#f57647 100.0%)"></div>
<div style="left:421.00px;top:166.80px;width:194.50px;height:2.60px;background:linear-gradient(90deg,#60bca8 0.0%,#82cda5 4.2%,#a1d9a4 8.3%,#c3e79f 12.5%,#dff299 16.7%,#edf8a4 20.8%,#f7fcb2 25.0%,#ffffbf 29.2%,#fff5af 33.3%,#feeda1 37.5%,#fee594 41.7%,#fedd89 45.8%,#fed380 50.0%,#fec978 54.2%,#fdc070 58.3%,#fdb86a 62.5%,#fdb163 66.7%,#fca85e 70.8%,#fba05a 75.0%,#fa9857 79.2%,#f99053 83.3%,#f88950 87.5%,#f7824d 91.7%,#f67c4a 95.8%,#f57647 100.0%)"></div>
<div style="left:421.00px;top:168.80px;width:194.50px;height:2.60px;background:linear-gradient(90deg,#60bba8 0.0%,#81cda5 4.2%,#a1d9a4 8.3%,#c2e69f 12.5%,#def29a 16.7%,#edf8a3 20.8%,#f7fcb2 25.0%,#ffffbf 29.2%,#fff6af 33.3%,#feeda1 37.5%,#fee594 41.7%,#fedd89 45.8%,#fed380 50.0%,#fec978 54.2%,#fdc171 58.3%,#fdb86a 62.5%,#fdb163 66.7%,#fca85e 70.8%,#fba05a 75.0%,#fa9857 79.2%,#f99053 83.3%,#f88950 87.5%,#f7834d 91.7%,#f67c4a 95.8%,#f57647 100.0%)"></div>
<div style="left:421.00px;top:170.80px;width:194.50px;height:2.60px;background:linear-gradient(90deg,#60bba8 0.0%,#81cca5 4.2%,#a0d9a4 8.3%,#c2e69f 12.5%,#def29a 16.7%,#edf8a3 20.8%,#f6fcb2 25.0%,#ffffbf 29.2%,#fff6b0 33.3%,#feeda1 37.5%,#fee694 41.7%,#fede89 45.8%,#fed380 50.0%,#feca78 54.2%,#fdc171 58.3%,#fdb96a 62.5%,#fdb164 66.7%,#fca95f 70.8%,#fba05b 75.0%,#fa9857 79.2%,#f99153 83.3%,#f88950 87.5%,#f7834d 91.7%,#f67c4a 95.8%,#f57647 100.0%)"></div>
<div style="left:421.00px;top:172.80px;width:194.50px;height:2.60px;background:linear-gradient(90deg,#5fbaa8 0.0%,#80cca5 4.2%,#9fd8a4 8.3%,#c1e69f 12.5%,#ddf29a 16.7%,#edf8a3 20.8%,#f6fcb1 25.0%,#ffffbf 29.2%,#fff6b0 33.3%,#feeda2 37.5%,#fee695 41.7%,#fede89 45.8%,#fed481 50.0%,#feca78 54.2%,#fdc171 58.3%,#fdb96a 62.5%,#fdb164 66.7%,#fca95f 70.8%,#fba05b 75.0%,#fa9857 79.2%,#f99153 83.3%,#f88a50 87.5%,#f7834d 91.7%,#f67d4a 95.8%,#f57747 100.0%)"></div>
<div style="left:421.00px;top:174.80px;width:194.50px;height:2.60px;background:linear-gradient(90deg,#5fbaa8 0.0%,#80cca5 4.2%,#9fd8a4 8.3%,#c1e6a0 12.5%,#ddf19a 16.7%,#edf8a3 20.8%,#f6fbb1 25.0%,#ffffbe 29.2%,#fff6b0 33.3%,#feeea2 37.5%,#fee695 41.7%,#fede89 45.8%,#fed481 50.0%,#feca79 54.2%,#fdc171 58.3%,#fdb96a 62.5%,#fdb164 66.7%,#fca95f 70.8%,#fba15b 75.0%,#fa9857 79.2%,#f99154 83.3%,#f88a50 87.5%,#f7834d 91.7%,#f67d4a 95.8%,#f57748 100.0%)"></div>
<div style="left:421.00px;top:176.80px;width:194.50px;height:2.60px;background:linear-gradient(90deg,#5eb9a9 0.0%,#7fcca5 4.2%,#9ed8a4 8.3%,#c0e6a0 12.5%,#ddf19a 16.7%,#edf8a2 20.8%,#f6fbb1 25.0%,#feffbe 29.2%,#fff6b0 33.3%,#feeea2 37.5%,#fee695 41.7%,#fede8a 45.8%,#fed481 50.0%,#feca79 54.2%,#fdc171 58.3%,#fdb96a 62.5%,#fdb264 66.7%,#fca95f 70.8%,#fba15b 75.0%,#fa9957 79.2%,#f99154 83.3%,#f88a50 87.5%,#f7834d 91.7%,#f67d4a 95.8%,#f57748 100.0%)"></div>
<div style="left:421.00px;top:178.80px;width:194.50px;height:2.60px;background:linear-gradient(90deg,#5eb9a9 0.0%,#7fcca5 4.2%,#9ed8a4 8.3%,#c0e5a0 12.5%,#dcf19a 16.7%,#ecf8a2 20.8%,#f6fbb1 25.0%,#feffbe 29.2%,#fff7b1 33.3%,#feeea2 37.5%,#fee695 41.7%,#fedf8a 45.8%,#fed481 50.0%,#fecb79 54.2%,#fdc271 58.3%,#fdb96b 62.5%,#fdb264 66.7%,#fcaa5f 70.8%,#fba15b 75.0%,#fa9957 79.2%,#f99154 83.3%,#f88a50 87.5%,#f7834d 91.7%,#f67d4a 95.8%,#f57748 100.0%)"></div>
<div style="left:421.00px;top:180.80px;width:194.50px;height:2.60px;background:linear-gradient(90deg,#5db8a9 0.0%,#7ecba5 4.2%,#9dd7a4 8.3%,#bfe5a0 12.5%,#dcf19a 16.7%,#ecf7a2 20.8%,#f6fbb0 25.0%,#feffbe 29.2%,#fff7b1 33.3%,#feeea3 37.5%,#fee696 41.7%,#fedf8a 45.8%,#fed481 50.0%,#fecb79 54.2%,#fdc272 58.3%,#fdba6b 62.5%,#fdb264 66.7%,#fcaa5f 70.8%,#fba15b 75.0%,#fa9957 79.2%,#f99154 83.3%,#f88a50 87.5%,#f7844d 91.7%,#f67d4a 95.8%,#f57748 100.0%)"></div>
<div style="left:421.00px;top:182.80px;width:194.50px;height:2.60px;background:linear-gradient(90deg,#5db8a9 0.0%,#7ecba5 4.2%,#9cd7a4 8.3%,#bfe5a0 12.5%,#dbf19a 16.7%,#ecf7a1 20.8%,#f5fbb0 25.0%,#feffbd 29.2%,#fff7b1 33.3%,#feeea3 37.5%,#fee796 41.7%,#fedf8a 45.8%,#fed581 50.0%,#fecb79 54.2%,#fdc272 58.3%,#fdba6b 62.5%,#fdb264 66.7%,#fcaa5f 70.8%,#fba15b 75.0%,#fa9957 79.2%,#f99254 83.3%,#f88a51 87.5%,#f7844d 91.7%,#f67d4b 95.8%,#f57748 100.0%)"></div>
<div style="left:421.00px;top:184.80px;width:194.50px;height:2.60px;background:linear-gradient(90deg,#5db8a9 0.0%,#7dcba5 4.2%,#9cd7a4 8.3%,#bee5a0 12.5%,#dbf09a 16.7%,#ecf7a1 20.8%,#f5fbb0 25.0%,#feffbd 29.2%,#fff7b2 33.3%,#feeea3 37.5%,#fee796 41.7%,#fedf8a 45.8%,#fed582 50.0%,#fecb79 54.2%,#fdc272 58.3%,#fdba6b 62.5%,#fdb265 66.7%,#fcaa5f 70.8%,#fba15b 75.0%,#fa9957 79.2%,#f99254 83.3%,#f88b51 87.5%,#f7844e 91.7%,#f67d4b 95.8%,#f57748 100.0%)"></div>
<div style="left:421.00px;top:186.80px;width:194.50px;height:2.60px;background:linear-gradient(90deg,#5cb7aa 0.0%,#7dcba5 4.2%,#9bd7a4 8.3%,#bee5a0 12.5%,#daf09a 16.7%,#ecf7a1 20.8%,#f5fbb0 25.0%,#fefebd 29.2%,#fff7b2 33.3%,#feefa4 37.5%,#fee796 41.7%,#fee08b 45.8%,#fed582 50.0%,#fecb7a 54.2%,#fdc272 58.3%,#fdba6b 62.5%,#fdb265 66.7%,#fcaa5f 70.8%,#fba25b 75.0%,#fa9958 79.2%,#f99254 83.3%,#f88b51 87.5%,#f7844e 91.7%,#f67e4b 95.8%,#f57748 100.0%)"></div>
<div style="left:421.00px;top:188.80px;width:194.50px;height:2.60px;background:linear-gradient(90deg,#5cb7aa 0.0%,#7ccba5 4.2%,#9bd7a4 8.3%,#bde4a0 12.5%,#daf09a 16.7%,#ebf7a1 20.8%,#f5fbaf 25.0%,#fdfebd 29.2%,#fff7b2 33.3%,#feefa4 37.5%,#fee797 41.7%,#fee08b 45.8%,#fed582 50.0%,#fecb7a 54.2%,#fdc372 58.3%,#fdba6b 62.5%,#fdb265 66.7%,#fdaa5f 70.8%,#fba25b 75.0%,#fa9a58 79.2%,#f99254 83.3%,#f88b51 87.5%,#f7844e 91.7%,#f67e4b 95.8%,#f57848 100.0%)"></div>
<div style="left:421.00px;top:190.80px;width:194.50px;height:2.60px;background:linear-gradient(90deg,#5bb6aa 0.0%,#7ccaa5 4.2%,#9ad7a4 8.3%,#bde4a0 12.5%,#d9f09b 16.7%,#ebf7a0 20.8%,#f5fbaf 25.0%,#fdfebc 29.2%,#fff8b3 33.3%,#feefa4 37.5%,#fee797 41.7%,#fee08b 45.8%,#fed582 50.0%,#fecc7a 54.2%,#fdc372 58.3%,#fdba6b 62.5%,#fdb365 66.7%,#fdab5f 70.8%,#fba25b 75.0%,#fa9a58 79.2%,#f99254 83.3%,#f88b51 87.5%,#f7844e 91.7%,#f67e4b 95.8%,#f57848 100.0%)"></div>
<div style="left:421.00px;top:192.80px;width:194.50px;height:2.60px;background:linear-gradient(90deg,#5bb6aa 0.0%,#7bcaa5 4.2%,#9ad6a4 8.3%,#bce4a1 12.5%,#d9f09b 16.7%,#ebf7a0 20.8%,#f5fbaf 25.0%,#fdfebc 29.2%,#fff8b3 33.3%,#feefa4 37.5%,#fee797 41.7%,#fee08b 45.8%,#fed682 50.0%,#fecc7a 54.2%,#fdc372 58.3%,#fdba6b 62.5%,#fdb365 66.7%,#fdab60 70.8%,#fba25b 75.0%,#fa9a58 79.2%,#f99254 83.3%,#f88b51 87.5%,#f7844e 91.7%,#f67e4b 95.8%,#f57848 100.0%)"></div>
<div style="left:421.00px;top:194.80px;width:194.50px;height:2.60px;background:linear-gradient(90deg,#5ab5aa 0.0%,#7bcaa5 4.2%,#9ad6a4 8.3%,#bce4a1 12.5%,#d8ef9b 16.7%,#ebf7a0 20.8%,#f4fbaf 25.0%,#fdfebc 29.2%,#fff8b3 33.3%,#feefa5 37.5%,#fee797 41.7%,#fee08b 45.8%,#fed682 50.0%,#fecc7a 54.2%,#fdc373 58.3%,#fdbb6c 62.5%,#fdb365 66.7%,#fdab60 70.8%,#fba25c 75.0%,#fa9a58 79.2%,#f99254 83.3%,#f88b51 87.5%,#f7844e 91.7%,#f67e4b 95.8%,#f57848 100.0%)"></div>
<div style="left:421.00px;top:196.80px;width:194.50px;height:2.60px;background:linear-gradient(90deg,#5ab5ab 0.0%,#7acaa5 4.2%,#99d6a4 8.3%,#bbe4a1 12.5%,#d8ef9b 16.7%,#ebf79f 20.8%,#f4fbae 25.0%,#fdfebc 29.2%,#fff8b3 33.3%,#feefa5 37.5%,#fee898 41.7%,#fee08c 45.8%,#fed683 50.0%,#fecc7a 54.2%,#fdc373 58.3%,#fdbb6c 62.5%,#fdb365 66.7%,#fdab60 70.8%,#fba25c 75.0%,#fa9a58 79.2%,#f99254 83.3%,#f88b51 87.5%,#f7844e 91.7%,#f67e4b 95.8%,#f57848 100.0%)"></div>
<div style="left:421.00px;top:198.80px;width:194.50px;height:2.60px;background:linear-gradient(90deg,#5ab4ab 0.0%,#7acaa5 4.2%,#99d6a4 8.3%,#bbe3a1 12.5%,#d7ef9b 16.7%,#ebf79f 20.8%,#f4fbae 25.0%,#fdfebb 29.2%,#fff8b4 33.3%,#fff0a5 37.5%,#fee898 41.7%,#fee08c 45.8%,#fed683 50.0%,#fecc7a 54.2%,#fdc373 58.3%,#fdbb6c 62.5%,#fdb365 66.7%,#fdab60 70.8%,#fba25c 75.0%,#fa9a58 79.2%,#f99254 83.3%,#f88b51 87.5%,#f7844e 91.7%,#f67e4b 95.8%,#f57848 100.0%)"></div>
<div style="left:421.00px;top:200.80px;width:194.50px;height:2.60px;background:linear-gradient(90deg,#59b4ab 0.0%,#79c9a5 4.2%,#98d6a4 8.3%,#bae3a1 12.5%,#d7ef9b 16.7%,#eaf79f 20.8%,#f4fbae 25.0%,#fdfebb 29.2%,#fff8b4 33.3%,#fff0a5 37.5%,#fee898 41.7%,#fee18c 45.8%,#fed683 50.0%,#fecc7b 54.2%,#fdc373 58.3%,#fdbb6c 62.5%,#fdb365 66.7%,#fdab60 70.8%,#fba25c 75.0%,#fa9a58 79.2%,#f99354 83.3%,#f88b51 87.5%,#f7844e 91.7%,#f67e4b 95.8%,#f67848 100.0%)"></div>
<div style="left:421.00px;top:202.80px;width:194.50px;height:2.60px;background:linear-gradient(90deg,#59b3ab 0.0%,#79c9a5 4.2%,#98d5a4 8.3%,#bae3a1 12.5%,#d6ef9b 16.7%,#eaf79f 20.8%,#f4fbae 25.0%,#fcfebb 29.2%,#fff9b4 33.3%,#fff0a6 37.5%,#fee898 41.7%,#fee18c 45.8%,#fed683 50.0%,#fecd7b 54.2%,#fdc473 58.3%,#fdbb6c 62.5%,#fdb365 66.7%,#fdab60 70.8%,#fba35c 75.0%,#fa9a58 79.2%,#f99354 83.3%,#f88b51 87.5%,#f7844e 91.7%,#f67e4b 95.8%,#f67848 100.0%)"></div>
<div style="left:421.00px;top:204.80px;width:194.50px;height:2.60px;background:linear-gradient(90deg,#58b3ab 0.0%,#78c9a5 4.2%,#97d5a4 8.3%,#b9e3a1 12.5%,#d6ee9b 16.7%,#eaf79e 20.8%,#f4faad 25.0%,#fcfebb 29.2%,#fff9b4 33.3%,#fff0a6 37.5%,#fee899 41.7%,#fee18c 45.8%,#fed783 50.0%,#fecd7b 54.2%,#fdc473 58.3%,#fdbb6c 62.5%,#fdb366 66.7%,#fdac60 70.8%,#fba35c 75.0%,#fa9a58 79.2%,#f99354 83.3%,#f88b51 87.5%,#f7844e 91.7%,#f67e4b 95.8%,#f67848 100.0%)"></div>
<div style="left:421.00px;top:206.80px;width:194.50px;height:2.60px;background:linear-gradient(90deg,#58b2ac 0.0%,#77c9a5 4.2%,#97d5a4 8.3%,#b9e2a1 12.5%,#d6ee9b 16.7%,#eaf79e 20.8%,#f4faad 25.0%,#fcfebb 29.2%,#fff9b5 33.3%,#fff0a6 37.5%,#fee899 41.7%,#fee18d 45.8%,#fed783 50.0%,#fecd7b 54.2%,#fdc473 58.3%,#fdbb6c 62.5%,#fdb366 66.7%,#fdac60 70.8%,#fba35c 75.0%,#fa9a58 79.2%,#f99354 83.3%,#f88b51 87.5%,#f7844e 91.7%,#f67e4b 95.8%,#f57848 100.0%)"></div>
<div style="left:421.00px;top:208.80px;width:194.50px;height:2.60px;background:linear-gradient(90deg,#57b1ac 0.0%,#77c9a5 4.2%,#96d5a4 8.3%,#b8e2a1 12.5%,#d5ee9b 16.7%,#eaf69e 20.8%,#f3faad 25.0%,#fcfeba 29.2%,#fff9b5 33.3%,#fff0a6 37.5%,#fee899 41.7%,#fee18d 45.8%,#fed783 50.0%,#fecd7b 54.2%,#fdc473 58.3%,#fdbb6c 62.5%,#fdb466 66.7%,#fdac60 70.8%,#fba35c 75.0%,#fa9a58 79.2%,#f99354 83.3%,#f88b51 87.5%,#f7844e 91.7%,#f67e4b 95.8%,#f57848 100.0%)"></div>
<div style="left:421.00px;top:210.80px;width:194.50px;height:2.60px;background:linear-gradient(90deg,#57b1ac 0.0%,#76c8a5 4.2%,#96d5a4 8.3%,#b7e2a1 12.5%,#d5ee9c 16.7%,#eaf69d 20.8%,#f3faad 25.0%,#fcfeba 29.2%,#fff9b5 33.3%,#fff0a7 37.5%,#fee899 41.7%,#fee18d 45.8%,#fed783 50.0%,#fecd7b 54.2%,#fdc473 58.3%,#fdbb6c 62.5%,#fdb466 66.7%,#fdac60 70.8%,#fba35c 75.0%,#fa9b58 79.2%,#f99354 83.3%,#f88b51 87.5%,#f7844e 91.7%,#f67e4b 95.8%,#f57848 100.0%)"></div>
<div style="left:421.00px;top:212.80px;width:194.50px;height:2.60px;background:linear-gradient(90deg,#56b0ac 0.0%,#76c8a5 4.2%,#95d4a4 8.3%,#b7e2a2 12.5%,#d4ee9c 16.7%,#e9f69d 20.8%,#f3faac 25.0%,#fcfeba 29.2%,#fff9b5 33.3%,#fff1a7 37.5%,#fee999 41.7%,#fee18d 45.8%,#fed784 50.0%,#fecd7b 54.2%,#fdc474 58.3%,#fdbc6c 62.5%,#fdb466 66.7%,#fdac60 70.8%,#fba35c 75.0%,#fa9b58 79.2%,#f99354 83.3%,#f88b51 87.5%,#f7844e 91.7%,#f67e4b 95.8%,#f57848 100.0%)"></div>
<div style="left:421.00px;top:214.80px;width:194.50px;height:2.60px;background:linear-gradient(90deg,#56b0ad 0.0%,#75c8a5 4.2%,#95d4a4 8.3%,#b6e2a2 12.5%,#d4ee9c 16.7%,#e9f69d 20.8%,#f3faac 25.0%,#fcfeba 29.2%,#fff9b6 33.3%,#fff1a7 37.5%,#fee99a 41.7%,#fee18d 45.8%,#fed784 50.0%,#fecd7b 54.2%,#fdc474 58.3%,#fdbc6c 62.5%,#fdb466 66.7%,#fdac60 70.8%,#fba35c 75.0%,#fa9b58 79.2%,#f99354 83.3%,#f88b51 87.5%,#f7844e 91.7%,#f67e4b 95.8%,#f57848 100.0%)"></div>
<div style="left:421.00px;top:216.80px;width:194.50px;height:0.70px;background:linear-gradient(90deg,#55b0ad 0.0%,#75c8a5 4.2%,#94d4a4 8.3%,#b6e1a2 12.5%,#d3ed9c 16.7%,#e9f69d 20.8%,#f3faac 25.0%,#fcfeba 29.2%,#fffab6 33.3%,#fff1a7 37.5%,#fee99a 41.7%,#fee18d 45.8%,#fed784 50.0%,#fecd7b 54.2%,#fdc474 58.3%,#fdbc6c 62.5%,#fdb466 66.7%,#fdac60 70.8%,#fba35c 75.0%,#fa9b58 79.2%,#f99354 83.3%,#f88b51 87.5%,#f7844e 91.7%,#f67e4b 95.8%,#f57848 100.0%)"></div>
<div style="left:421.00px;top:228.00px;width:194.50px;height:2.60px;background:linear-gradient(90deg,#fff3ac 0.0%,#fee696 4.2%,#fed885 8.3%,#fec978 12.5%,#fdbc6d 16.7%,#fdb063 20.8%,#fba35c 25.0%,#fa9756 29.2%,#f88c51 33.3%,#f7824d 37.5%,#f67949 41.7%,#f57145 45.8%,#f36b44 50.0%,#ef6645 54.2%,#ec6146 58.3%,#ea5d47 62.5%,#e75948 66.7%,#e55649 70.8%,#e2524a 75.0%,#e04f4b 79.2%,#de4c4b 83.3%,#dd494c 87.5%,#db474d 91.7%,#d9444d 95.8%,#d8424e 100.0%)"></div>
<div style="left:421.00px;top:230.00px;width:194.50px;height:2.60px;background:linear-gradient(90deg,#fff5ae 0.0%,#fee798 4.2%,#feda86 8.3%,#feca79 12.5%,#fdbd6e 16.7%,#fdb164 20.8%,#fca45d 25.0%,#fa9857 29.2%,#f88d52 33.3%,#f7834d 37.5%,#f67a49 41.7%,#f57245 45.8%,#f36b43 50.0%,#f06645 54.2%,#ed6246 58.3%,#ea5e47 62.5%,#e75a48 66.7%,#e55649 70.8%,#e3534a 75.0%,#e04f4b 79.2%,#df4c4b 83.3%,#dd4a4c 87.5%,#db474d 91.7%,#d9454d 95.8%,#d8424e 100.0%)"></div>
<div style="left:421.00px;top:232.00px;width:194.50px;height:2.60px;background:linear-gradient(90deg,#fff6b0 0.0%,#fee999 4.2%,#fedc87 8.3%,#fecc7a 12.5%,#fdbe6f 16.7%,#fdb265 20.8%,#fca65d 25.0%,#fa9957 29.2%,#f98e52 33.3%,#f7844e 37.5%,#f67b4a 41.7%,#f57346 45.8%,#f36c43 50.0%,#f06745 54.2%,#ed6246 58.3%,#ea5e47 62.5%,#e75a48 66.7%,#e55649 70.8%,#e3534a 75.0%,#e1504a 79.2%,#df4d4b 83.3%,#dd4a4c 87.5%,#db474d 91.7%,#d9454d 95.8%,#d8424e 100.0%)"></div>
<div style="left:421.00px;top:234.00px;width:194.50px;height:2.60px;background:linear-gradient(90deg,#fff7b1 0.0%,#feea9b 4.2%,#fedd89 8.3%,#fecd7b 12.5%,#fdbf70 16.7%,#fdb365 20.8%,#fca75e 25.0%,#fa9a58 29.2%,#f98f53 33.3%,#f7854e 37.5%,#f67c4a 41.7%,#f57446 45.8%,#f46c43 50.0%,#f06744 54.2%,#ed6346 58.3%,#ea5e47 62.5%,#e85a48 66.7%,#e55749 70.8%,#e3534a 75.0%,#e1504a 79.2%,#df4d4b 83.3%,#dd4a4c 87.5%,#db474d 91.7%,#da454d 95.8%,#d8434e 100.0%)"></div>
<div style="left:421.00px;top:236.00px;width:194.50px;height:2.60px;background:linear-gradient(90deg,#fff8b3 0.0%,#feeb9d 4.2%,#fedf8a 8.3%,#fecf7c 12.5%,#fdc171 16.7%,#fdb466 20.8%,#fca85e 25.0%,#fa9c59 29.2%,#f99053 33.3%,#f7864f 37.5%,#f67d4a 41.7%,#f57547 45.8%,#f46d43 50.0%,#f16844 54.2%,#ee6346 58.3%,#eb5f47 62.5%,#e85b48 66.7%,#e65749 70.8%,#e3544a 75.0%,#e1504a 79.2%,#df4d4b 83.3%,#dd4a4c 87.5%,#db484d 91.7%,#da454d 95.8%,#d8434e 100.0%)"></div>
<div style="left:421.00px;top:238.00px;width:194.50px;height:2.60px;background:linear-gradient(90deg,#fff9b5 0.0%,#feec9f 4.2%,#fee08b 8.3%,#fed07e 12.5%,#fdc272 16.7%,#fdb667 20.8%,#fcaa5f 25.0%,#fb9d59 29.2%,#f99254 33.3%,#f8874f 37.5%,#f67e4b 41.7%,#f57647 45.8%,#f46e43 50.0%,#f16844 54.2%,#ee6445 58.3%,#eb5f47 62.5%,#e85b48 66.7%,#e65749 70.8%,#e35449 75.0%,#e1514a 79.2%,#df4d4b 83.3%,#dd4b4c 87.5%,#dc484c 91.7%,#da454d 95.8%,#d8434e 100.0%)"></div>
<div style="left:421.00px;top:240.00px;width:194.50px;height:2.60px;background:linear-gradient(90deg,#fffab7 0.0%,#feeda0 4.2%,#fee18d 8.3%,#fed17f 12.5%,#fdc373 16.7%,#fdb768 20.8%,#fdab60 25.0%,#fb9e5a 29.2%,#f99354 33.3%,#f88850 37.5%,#f67f4b 41.7%,#f57647 45.8%,#f46f44 50.0%,#f16944 54.2%,#ee6445 58.3%,#eb6046 62.5%,#e95c47 66.7%,#e65848 70.8%,#e45449 75.0%,#e1514a 79.2%,#df4e4b 83.3%,#dd4b4c 87.5%,#dc484c 91.7%,#da464d 95.8%,#d8434e 100.0%)"></div>
<div style="left:421.00px;top:242.00px;width:194.50px;height:2.60px;background:linear-gradient(90deg,#fffcb9 0.0%,#feeea2 4.2%,#fee28e 8.3%,#fed380 12.5%,#fdc474 16.7%,#fdb869 20.8%,#fdac60 25.0%,#fb9f5a 29.2%,#f99455 33.3%,#f88950 37.5%,#f7804c 41.7%,#f57748 45.8%,#f46f44 50.0%,#f26944 54.2%,#ef6545 58.3%,#ec6046 62.5%,#e95c47 66.7%,#e65848 70.8%,#e45549 75.0%,#e2514a 79.2%,#e04e4b 83.3%,#de4b4c 87.5%,#dc484c 91.7%,#da464d 95.8%,#d9434e 100.0%)"></div>
<div style="left:421.00px;top:244.00px;width:194.50px;height:2.60px;background:linear-gradient(90deg,#fffdbb 0.0%,#feefa4 4.2%,#fee390 8.3%,#fed481 12.5%,#fdc675 16.7%,#fdb96a 20.8%,#fdae61 25.0%,#fba15b 29.2%,#fa9555 33.3%,#f88a51 37.5%,#f7814c 41.7%,#f67848 45.8%,#f47044 50.0%,#f26a44 54.2%,#ef6545 58.3%,#ec6146 62.5%,#e95d47 66.7%,#e75948 70.8%,#e45549 75.0%,#e2524a 79.2%,#e04e4b 83.3%,#de4c4c 87.5%,#dc494c 91.7%,#da464d 95.8%,#d9444e 100.0%)"></div>
<div style="left:421.00px;top:246.00px;width:194.50px;height:2.60px;background:linear-gradient(90deg,#fffebd 0.0%,#fff0a5 4.2%,#fee491 8.3%,#fed582 12.5%,#fdc776 16.7%,#fdba6b 20.8%,#fdaf62 25.0%,#fba25b 29.2%,#fa9656 33.3%,#f88c51 37.5%,#f7824d 41.7%,#f67949 45.8%,#f57145 50.0%,#f26b44 54.2%,#ef6645 58.3%,#ec6146 62.5%,#e95d47 66.7%,#e75948 70.8%,#e45549 75.0%,#e2524a 79.2%,#e04f4b 83.3%,#de4c4b 87.5%,#dc494c 91.7%,#db464d 95.8%,#d9444e 100.0%)"></div>
<div style="left:421.00px;top:248.00px;width:194.50px;height:2.60px;background:linear-gradient(90deg,#ffffbf 0.0%,#fff1a7 4.2%,#fee593 8.3%,#fed783 12.5%,#fec877 16.7%,#fdbb6c 20.8%,#fdb063 25.0%,#fba35c 29.2%,#fa9757 33.3%,#f88d52 37.5%,#f7834d 41.7%,#f67a49 45.8%,#f57245 50.0%,#f36b43 54.2%,#f06645 58.3%,#ed6246 62.5%,#ea5d47 66.7%,#e75a48 70.8%,#e55649 75.0%,#e2524a 79.2%,#e04f4b 83.3%,#de4c4b 87.5%,#dc494c 91.7%,#db474d 95.8%,#d9444d 100.0%)"></div>
<div style="left:421.00px;top:250.00px;width:194.50px;height:2.60px;background:linear-gradient(90deg,#feffbe 0.0%,#fff2a9 4.2%,#fee694 8.3%,#fed884 12.5%,#fec978 16.7%,#fdbc6d 20.8%,#fdb163 25.0%,#fca45d 29.2%,#fa9857 33.3%,#f98e52 37.5%,#f7844e 41.7%,#f67b49 45.8%,#f57346 50.0%,#f36c43 54.2%,#f06745 58.3%,#ed6246 62.5%,#ea5e47 66.7%,#e75a48 70.8%,#e55649 75.0%,#e3534a 79.2%,#e1504b 83.3%,#df4d4b 87.5%,#dd4a4c 91.7%,#db474d 95.8%,#d9444d 100.0%)"></div>
<div style="left:421.00px;top:252.00px;width:194.50px;height:2.60px;background:linear-gradient(90deg,#fdfebc 0.0%,#fff3aa 4.2%,#fee696 8.3%,#fed985 12.5%,#fecb79 16.7%,#fdbd6e 20.8%,#fdb264 25.0%,#fca65d 29.2%,#fa9a58 33.3%,#f98f53 37.5%,#f7854e 41.7%,#f67c4a 45.8%,#f57446 50.0%,#f46c43 54.2%,#f06744 58.3%,#ed6346 62.5%,#ea5e47 66.7%,#e85a48 70.8%,#e55749 75.0%,#e3534a 79.2%,#e1504a 83.3%,#df4d4b 87.5%,#dd4a4c 91.7%,#db474d 95.8%,#d9454d 100.0%)"></div>
<div style="left:421.00px;top:254.00px;width:194.50px;height:2.60px;background:linear-gradient(90deg,#fcfebb 0.0%,#fff4ac 4.2%,#fee797 8.3%,#fedb87 12.5%,#fecc7a 16.7%,#fdbf6f 20.8%,#fdb365 25.0%,#fca75e 29.2%,#fa9b58 33.3%,#f99053 37.5%,#f7864f 41.7%,#f67d4a 45.8%,#f57547 50.0%,#f46d43 54.2%,#f16844 58.3%,#ee6345 62.5%,#eb5f47 66.7%,#e85b48 70.8%,#e65749 75.0%,#e35449 79.2%,#e1504a 83.3%,#df4d4b 87.5%,#dd4a4c 91.7%,#db484d 95.8%,#da454d 100.0%)"></div>
<div style="left:421.00px;top:256.00px;width:194.50px;height:2.60px;background:linear-gradient(90deg,#fcfeba 0.0%,#fff5ae 4.2%,#fee899 8.3%,#fedc88 12.5%,#fecd7b 16.7%,#fdc070 20.8%,#fdb466 25.0%,#fca85e 29.2%,#fb9c59 33.3%,#f99154 37.5%,#f8874f 41.7%,#f67e4b 45.8%,#f57647 50.0%,#f46e43 54.2%,#f16944 58.3%,#ee6445 62.5%,#eb6046 66.7%,#e85b47 70.8%,#e65848 75.0%,#e45449 79.2%,#e1514a 83.3%,#df4e4b 87.5%,#dd4b4c 91.7%,#dc484c 95.8%,#da454d 100.0%)"></div>
<div style="left:421.00px;top:258.00px;width:194.50px;height:2.60px;background:linear-gradient(90deg,#fbfdb8 0.0%,#fff6af 4.2%,#fee99a 8.3%,#fedd89 12.5%,#fece7c 16.7%,#fdc171 20.8%,#fdb567 25.0%,#fca95f 29.2%,#fb9d59 33.3%,#f99254 37.5%,#f8884f 41.7%,#f67f4b 45.8%,#f57747 50.0%,#f46f44 54.2%,#f16944 58.3%,#ee6445 62.5%,#eb6046 66.7%,#e95c47 70.8%,#e65848 75.0%,#e45549 79.2%,#e2514a 83.3%,#e04e4b 87.5%,#de4b4c 91.7%,#dc484c 95.8%,#da464d 100.0%)"></div>
<div style="left:421.00px;top:260.00px;width:194.50px;height:2.60px;background:linear-gradient(90deg,#fafdb7 0.0%,#fff7b1 4.2%,#feea9c 8.3%,#fedf8a 12.5%,#fecf7d 16.7%,#fdc272 20.8%,#fdb668 25.0%,#fdab5f 29.2%,#fb9e5a 33.3%,#f99355 37.5%,#f88950 41.7%,#f7804c 45.8%,#f57748 50.0%,#f47044 54.2%,#f26a44 58.3%,#ef6545 62.5%,#ec6146 66.7%,#e95d47 70.8%,#e75948 75.0%,#e45549 79.2%,#e2524a 83.3%,#e04f4b 87.5%,#de4c4c 91.7%,#dc494c 95.8%,#da464d 100.0%)"></div>
<div style="left:421.00px;top:262.00px;width:194.50px;height:2.60px;background:linear-gradient(90deg,#f9fdb6 0.0%,#fff8b3 4.2%,#feeb9d 8.3%,#fee08b 12.5%,#fed17e 16.7%,#fdc373 20.8%,#fdb769 25.0%,#fdac60 29.2%,#fba05a 33.3%,#f99455 37.5%,#f88a50 41.7%,#f7814c 45.8%,#f67848 50.0%,#f57145 54.2%,#f26a44 58.3%,#ef6645 62.5%,#ec6146 66.7%,#e95d47 70.8%,#e75948 75.0%,#e55649 79.2%,#e2524a 83.3%,#e04f4b 87.5%,#de4c4b 91.7%,#dc494c 95.8%,#db474d 100.0%)"></div>
<div style="left:421.00px;top:264.00px;width:194.50px;height:2.60px;background:linear-gradient(90deg,#f8fcb4 0.0%,#fff9b4 4.2%,#feec9f 8.3%,#fee18c 12.5%,#fed27f 16.7%,#fdc474 20.8%,#fdb86a 25.0%,#fdad61 29.2%,#fba15b 33.3%,#fa9656 37.5%,#f88b51 41.7%,#f7824d 45.8%,#f67949 50.0%,#f57245 54.2%,#f36b43 58.3%,#f06645 62.5%,#ed6246 66.7%,#ea5e47 70.8%,#e75a48 75.0%,#e55649 79.2%,#e3534a 83.3%,#e14f4b 87.5%,#df4d4b 91.7%,#dd4a4c 95.8%,#db474d 100.0%)"></div>
<div style="left:421.00px;top:266.00px;width:194.50px;height:2.60px;background:linear-gradient(90deg,#f7fcb3 0.0%,#fffab6 4.2%,#feeda0 8.3%,#fee28e 12.5%,#fed380 16.7%,#fdc575 20.8%,#fdb96a 25.0%,#fdae61 29.2%,#fba25b 33.3%,#fa9756 37.5%,#f88c51 41.7%,#f7834d 45.8%,#f67a49 50.0%,#f57246 54.2%,#f36c43 58.3%,#f06745 62.5%,#ed6246 66.7%,#ea5e47 70.8%,#e85a48 75.0%,#e55749 79.2%,#e3534a 83.3%,#e1504a 87.5%,#df4d4b 91.7%,#dd4a4c 95.8%,#db474d 100.0%)"></div>
<div style="left:421.00px;top:268.00px;width:194.50px;height:2.60px;background:linear-gradient(90deg,#f6fcb2 0.0%,#fffab7 4.2%,#feeea2 8.3%,#fee28f 12.5%,#fed481 16.7%,#fdc776 20.8%,#fdba6b 25.0%,#fdaf62 29.2%,#fca35c 33.3%,#fa9857 37.5%,#f88d52 41.7%,#f7844e 45.8%,#f67b4a 50.0%,#f57346 54.2%,#f46c43 58.3%,#f06744 62.5%,#ed6346 66.7%,#eb5f47 70.8%,#e85b48 75.0%,#e65749 79.2%,#e35449 83.3%,#e1504a 87.5%,#df4d4b 91.7%,#dd4b4c 95.8%,#dc484c 100.0%)"></div>
<div style="left:421.00px;top:270.00px;width:194.50px;height:2.60px;background:linear-gradient(90deg,#f6fbb0 0.0%,#fffbb9 4.2%,#feeea3 8.3%,#fee390 12.5%,#fed582 16.7%,#fec877 20.8%,#fdbb6c 25.0%,#fdb063 29.2%,#fca45d 33.3%,#fa9957 37.5%,#f98f52 41.7%,#f7854e 45.8%,#f67c4a 50.0%,#f57446 54.2%,#f46d43 58.3%,#f16844 62.5%,#ee6445 66.7%,#eb5f47 70.8%,#e85b48 75.0%,#e65848 79.2%,#e45449 83.3%,#e1514a 87.5%,#df4e4b 91.7%,#de4b4c 95.8%,#dc484c 100.0%)"></div>
<div style="left:421.00px;top:272.00px;width:194.50px;height:2.60px;background:linear-gradient(90deg,#f5fbaf 0.0%,#fffcbb 4.2%,#feefa5 8.3%,#fee492 12.5%,#fed783 16.7%,#fec977 20.8%,#fdbc6d 25.0%,#fdb164 29.2%,#fca65d 33.3%,#fa9a58 37.5%,#f99053 41.7%,#f7864f 45.8%,#f67d4b 50.0%,#f57547 54.2%,#f46e43 58.3%,#f16944 62.5%,#ee6445 66.7%,#eb6046 70.8%,#e95c47 75.0%,#e65848 79.2%,#e45549 83.3%,#e2514a 87.5%,#e04e4b 91.7%,#de4b4c 95.8%,#dc494c 100.0%)"></div>
<div style="left:421.00px;top:274.00px;width:194.50px;height:2.60px;background:linear-gradient(90deg,#f4fbae 0.0%,#fffdbc 4.2%,#fff0a6 8.3%,#fee593 12.5%,#fed884 16.7%,#feca78 20.8%,#fdbe6e 25.0%,#fdb265 29.2%,#fca75e 33.3%,#fa9b58 37.5%,#f99154 41.7%,#f8874f 45.8%,#f67e4b 50.0%,#f57647 54.2%,#f46f44 58.3%,#f26944 62.5%,#ef6545 66.7%,#ec6046 70.8%,#e95c47 75.0%,#e75948 79.2%,#e45549 83.3%,#e2524a 87.5%,#e04f4b 91.7%,#de4c4b 95.8%,#dc494c 100.0%)"></div>
<div style="left:421.00px;top:276.00px;width:194.50px;height:2.60px;background:linear-gradient(90deg,#f3faac 0.0%,#fffebe 4.2%,#fff1a8 8.3%,#fee694 12.5%,#fed985 16.7%,#fecb79 20.8%,#fdbf6f 25.0%,#fdb366 29.2%,#fca85e 33.3%,#fb9c59 37.5%,#f99254 41.7%,#f88850 45.8%,#f77f4b 50.0%,#f57748 54.2%,#f47044 58.3%,#f26a44 62.5%,#ef6545 66.7%,#ec6146 70.8%,#e95d47 75.0%,#e75948 79.2%,#e55649 83.3%,#e3524a 87.5%,#e04f4b 91.7%,#df4c4b 95.8%,#dd4a4c 100.0%)"></div>
<div style="left:421.00px;top:278.00px;width:194.50px;height:2.60px;background:linear-gradient(90deg,#f2faab 0.0%,#ffffbf 4.2%,#fff2a9 8.3%,#fee696 12.5%,#feda86 16.7%,#fecc7a 20.8%,#fdc070 25.0%,#fdb566 29.2%,#fca95f 33.3%,#fb9e59 37.5%,#f99355 41.7%,#f88950 45.8%,#f7804c 50.0%,#f67848 54.2%,#f57145 58.3%,#f26b44 62.5%,#ef6645 66.7%,#ed6246 70.8%,#ea5e47 75.0%,#e75a48 79.2%,#e55649 83.3%,#e3534a 87.5%,#e1504a 91.7%,#df4d4b 95.8%,#dd4a4c 100.0%)"></div>
<div style="left:421.00px;top:280.00px;width:194.50px;height:2.60px;background:linear-gradient(90deg,#f1faaa 0.0%,#feffbe 4.2%,#fff3ab 8.3%,#fee797 12.5%,#fedc87 16.7%,#fecd7b 20.8%,#fdc171 25.0%,#fdb667 29.2%,#fdab5f 33.3%,#fb9f5a 37.5%,#f99455 41.7%,#f88a51 45.8%,#f7814c 50.0%,#f67949 54.2%,#f57245 58.3%,#f36b43 62.5%,#f06745 66.7%,#ed6246 70.8%,#ea5e47 75.0%,#e85a48 79.2%,#e55749 83.3%,#e3544a 87.5%,#e1504a 91.7%,#df4d4b 95.8%,#dd4b4c 100.0%)"></div>
<div style="left:421.00px;top:282.00px;width:194.50px;height:2.60px;background:linear-gradient(90deg,#f1f9a9 0.0%,#fdfebc 4.2%,#fff4ac 8.3%,#fee899 12.5%,#fedd88 16.7%,#fecf7c 20.8%,#fdc272 25.0%,#fdb768 29.2%,#fdac60 33.3%,#fba05b 37.5%,#fa9556 41.7%,#f88b51 45.8%,#f7824d 50.0%,#f67a49 54.2%,#f57346 58.3%,#f36c43 62.5%,#f06744 66.7%,#ed6346 70.8%,#eb5f47 75.0%,#e85b48 79.2%,#e65749 83.3%,#e45449 87.5%,#e1514a 91.7%,#e04e4b 95.8%,#de4b4c 100.0%)"></div>
<div style="left:421.00px;top:284.00px;width:194.50px;height:2.60px;background:linear-gradient(90deg,#f0f9a7 0.0%,#fdfebb 4.2%,#fff5ad 8.3%,#fee99a 12.5%,#fede89 16.7%,#fed07d 20.8%,#fdc373 25.0%,#fdb869 29.2%,#fdad61 33.3%,#fba15b 37.5%,#fa9656 41.7%,#f88d52 45.8%,#f7844d 50.0%,#f67b4a 54.2%,#f57446 58.3%,#f46d43 62.5%,#f16844 66.7%,#ee6445 70.8%,#eb5f46 75.0%,#e95c47 79.2%,#e65848 83.3%,#e45549 87.5%,#e2514a 91.7%,#e04e4b 95.8%,#de4c4c 100.0%)"></div>
<div style="left:421.00px;top:286.00px;width:194.50px;height:2.60px;background:linear-gradient(90deg,#eff9a6 0.0%,#fcfeba 4.2%,#fff5af 8.3%,#feea9b 12.5%,#fedf8a 16.7%,#fed17e 20.8%,#fdc474 25.0%,#fdb96a 29.2%,#fdae61 33.3%,#fba35c 37.5%,#fa9857 41.7%,#f98e52 45.8%,#f7854e 50.0%,#f67c4a 54.2%,#f57547 58.3%,#f46e43 62.5%,#f16944 66.7%,#ee6445 70.8%,#eb6046 75.0%,#e95c47 79.2%,#e75948 83.3%,#e45549 87.5%,#e2524a 91.7%,#e04f4b 95.8%,#de4c4b 100.0%)"></div>
<div style="left:421.00px;top:288.00px;width:194.50px;height:2.60px;background:linear-gradient(90deg,#eef8a5 0.0%,#fbfdb9 4.2%,#fff6b0 8.3%,#feeb9d 12.5%,#fee08b 16.7%,#fed27f 20.8%,#fdc574 25.0%,#fdba6b 29.2%,#fdaf62 33.3%,#fca45c 37.5%,#fa9957 41.7%,#f98f53 45.8%,#f7864e 50.0%,#f67d4b 54.2%,#f57647 58.3%,#f46e44 62.5%,#f26944 66.7%,#ef6545 70.8%,#ec6146 75.0%,#e95d47 79.2%,#e75948 83.3%,#e55649 87.5%,#e3534a 91.7%,#e1504b 95.8%,#df4d4b 100.0%)"></div>
<div style="left:421.00px;top:290.00px;width:194.50px;height:2.60px;background:linear-gradient(90deg,#edf8a3 0.0%,#fafdb8 4.2%,#fff7b2 8.3%,#feeb9e 12.5%,#fee18d 16.7%,#fed380 20.8%,#fdc675 25.0%,#fdbb6c 29.2%,#fdb063 33.3%,#fca55d 37.5%,#fa9a58 41.7%,#f99053 45.8%,#f8874f 50.0%,#f67e4b 54.2%,#f57747 58.3%,#f46f44 62.5%,#f26a44 66.7%,#ef6545 70.8%,#ec6146 75.0%,#ea5d47 79.2%,#e75a48 83.3%,#e55649 87.5%,#e3534a 91.7%,#e1504a 95.8%,#df4d4b 100.0%)"></div>
<div style="left:421.00px;top:292.00px;width:194.50px;height:2.60px;background:linear-gradient(90deg,#ecf8a2 0.0%,#fafdb6 4.2%,#fff8b3 8.3%,#feec9f 12.5%,#fee28e 16.7%,#fed481 20.8%,#fec776 25.0%,#fdbc6d 29.2%,#fdb164 33.3%,#fca65d 37.5%,#fa9b58 41.7%,#f99154 45.8%,#f8884f 50.0%,#f77f4c 54.2%,#f57848 58.3%,#f47045 62.5%,#f26b44 66.7%,#ef6645 70.8%,#ed6246 75.0%,#ea5e47 79.2%,#e85a48 83.3%,#e55749 87.5%,#e35449 91.7%,#e1514a 95.8%,#df4e4b 100.0%)"></div>
<div style="left:421.00px;top:294.00px;width:194.50px;height:2.60px;background:linear-gradient(90deg,#ecf7a1 0.0%,#f9fcb5 4.2%,#fff9b5 8.3%,#feeda1 12.5%,#fee38f 16.7%,#fed582 20.8%,#fec877 25.0%,#fdbd6d 29.2%,#fdb265 33.3%,#fca75e 37.5%,#fb9c59 41.7%,#f99254 45.8%,#f88950 50.0%,#f7804c 54.2%,#f67948 58.3%,#f57145 62.5%,#f36b43 66.7%,#f06745 70.8%,#ed6346 75.0%,#eb5f47 79.2%,#e85b48 83.3%,#e65848 87.5%,#e45449 91.7%,#e2514a 95.8%,#e04e4b 100.0%)"></div>
<div style="left:421.00px;top:296.00px;width:194.50px;height:2.60px;background:linear-gradient(90deg,#ebf7a0 0.0%,#f8fcb4 4.2%,#fffab6 8.3%,#feeea2 12.5%,#fee391 16.7%,#fed783 20.8%,#feca78 25.0%,#fdbe6e 29.2%,#fdb366 33.3%,#fca95f 37.5%,#fb9e59 41.7%,#f99355 45.8%,#f88a50 50.0%,#f7824c 54.2%,#f67a49 58.3%,#f57245 62.5%,#f36c43 66.7%,#f06844 70.8%,#ee6345 75.0%,#eb5f46 79.2%,#e95c47 83.3%,#e65848 87.5%,#e45549 91.7%,#e2524a 95.8%,#e04f4b 100.0%)"></div>
<div style="left:421.00px;top:298.00px;width:194.50px;height:2.60px;background:linear-gradient(90deg,#eaf79e 0.0%,#f7fcb3 4.2%,#fffbb8 8.3%,#feefa4 12.5%,#fee492 16.7%,#fed884 20.8%,#fecb79 25.0%,#fdbf6f 29.2%,#fdb466 33.3%,#fcaa5f 37.5%,#fb9f5a 41.7%,#f99555 45.8%,#f88b51 50.0%,#f7834d 54.2%,#f67b49 58.3%,#f57346 62.5%,#f46d43 66.7%,#f16844 70.8%,#ee6445 75.0%,#eb6046 79.2%,#e95c47 83.3%,#e75948 87.5%,#e45549 91.7%,#e2524a 95.8%,#e14f4b 100.0%)"></div>
<div style="left:421.00px;top:300.00px;width:194.50px;height:2.60px;background:linear-gradient(90deg,#e9f69d 0.0%,#f6fcb2 4.2%,#fffcb9 8.3%,#feefa5 12.5%,#fee593 16.7%,#fed985 20.8%,#fecc7a 25.0%,#fdc070 29.2%,#fdb567 33.3%,#fdab60 37.5%,#fba05b 41.7%,#fa9656 45.8%,#f88c51 50.0%,#f7844d 54.2%,#f67c4a 58.3%,#f57446 62.5%,#f46e43 66.7%,#f16944 70.8%,#ee6545 75.0%,#ec6146 79.2%,#e95d47 83.3%,#e75948 87.5%,#e55649 91.7%,#e3534a 95.8%,#e1504a 100.0%)"></div>
<div style="left:421.00px;top:302.00px;width:194.50px;height:2.60px;background:linear-gradient(90deg,#e8f69c 0.0%,#f6fbb0 4.2%,#fffcbb 8.3%,#fff0a6 12.5%,#fee695 16.7%,#feda86 20.8%,#fecd7b 25.0%,#fdc171 29.2%,#fdb668 33.3%,#fdad60 37.5%,#fba15b 41.7%,#fa9756 45.8%,#f88d52 50.0%,#f7854e 54.2%,#f67d4a 58.3%,#f57547 62.5%,#f46f44 66.7%,#f26a44 70.8%,#ef6545 75.0%,#ec6146 79.2%,#ea5e47 83.3%,#e75a48 87.5%,#e55749 91.7%,#e35449 95.8%,#e1514a 100.0%)"></div>
<div style="left:421.00px;top:304.00px;width:194.50px;height:2.60px;background:linear-gradient(90deg,#e7f69a 0.0%,#f5fbaf 4.2%,#fffdbc 8.3%,#fff1a8 12.5%,#fee796 16.7%,#fedb87 20.8%,#fece7c 25.0%,#fdc272 29.2%,#fdb869 33.3%,#fdae61 37.5%,#fba25c 41.7%,#fa9857 45.8%,#f98f53 50.0%,#f7864f 54.2%,#f67e4b 58.3%,#f57747 62.5%,#f47044 66.7%,#f26a44 70.8%,#ef6645 75.0%,#ed6246 79.2%,#ea5e47 83.3%,#e85b48 87.5%,#e65749 91.7%,#e45449 95.8%,#e2514a 100.0%)"></div>
<div style="left:421.00px;top:306.00px;width:194.50px;height:2.60px;background:linear-gradient(90deg,#e7f599 0.0%,#f4fbae 4.2%,#fffebe 8.3%,#fff2a9 12.5%,#fee797 16.7%,#fedd88 20.8%,#fecf7d 25.0%,#fdc373 29.2%,#fdb96a 33.3%,#fdaf62 37.5%,#fca45c 41.7%,#fa9957 45.8%,#f99053 50.0%,#f8874f 54.2%,#f67f4b 58.3%,#f57848 62.5%,#f57145 66.7%,#f36b44 70.8%,#f06745 75.0%,#ed6346 79.2%,#eb5f47 83.3%,#e85b48 87.5%,#e65848 91.7%,#e45549 95.8%,#e2524a 100.0%)"></div>
<div style="left:421.00px;top:308.00px;width:194.50px;height:2.60px;background:linear-gradient(90deg,#e5f598 0.0%,#f3faad 4.2%,#ffffbf 8.3%,#fff3ab 12.5%,#fee899 16.7%,#fede89 20.8%,#fed07e 25.0%,#fdc474 29.2%,#fdba6b 33.3%,#fdb063 37.5%,#fca55d 41.7%,#fa9b58 45.8%,#f99154 50.0%,#f88850 54.2%,#f7804c 58.3%,#f67948 62.5%,#f57245 66.7%,#f36c43 70.8%,#f06744 75.0%,#ee6345 79.2%,#eb6046 83.3%,#e95c47 87.5%,#e75948 91.7%,#e45549 95.8%,#e2524a 100.0%)"></div>
<div style="left:421.00px;top:310.00px;width:194.50px;height:2.60px;background:linear-gradient(90deg,#e3f499 0.0%,#f3faac 4.2%,#feffbe 8.3%,#fff4ac 12.5%,#fee99a 16.7%,#fedf8a 20.8%,#fed27f 25.0%,#fdc675 29.2%,#fdbb6c 33.3%,#fdb163 37.5%,#fca65d 41.7%,#fa9c59 45.8%,#f99254 50.0%,#f88950 54.2%,#f7814c 58.3%,#f67a49 62.5%,#f57346 66.7%,#f46c43 70.8%,#f16844 75.0%,#ee6445 79.2%,#ec6046 83.3%,#e95d47 87.5%,#e75948 91.7%,#e55649 95.8%,#e3534a 100.0%)"></div>
<div style="left:421.00px;top:312.00px;width:194.50px;height:2.60px;background:linear-gradient(90deg,#e1f399 0.0%,#f2faaa 4.2%,#fdfebc 8.3%,#fff5ae 12.5%,#feea9b 16.7%,#fee08b 20.8%,#fed380 25.0%,#fdc776 29.2%,#fdbc6d 33.3%,#fdb264 37.5%,#fca85e 41.7%,#fb9d59 45.8%,#f99355 50.0%,#f88a51 54.2%,#f7824d 58.3%,#f67b49 62.5%,#f57446 66.7%,#f46d43 70.8%,#f16944 75.0%,#ef6545 79.2%,#ec6146 83.3%,#ea5d47 87.5%,#e75a48 91.7%,#e55749 95.8%,#e35449 100.0%)"></div>
<div style="left:421.00px;top:314.00px;width:194.50px;height:2.60px;background:linear-gradient(90deg,#dff299 0.0%,#f1f9a9 4.2%,#fdfebb 8.3%,#fff5af 12.5%,#feeb9d 16.7%,#fee18d 20.8%,#fed481 25.0%,#fec877 29.2%,#fdbd6d 33.3%,#fdb365 37.5%,#fca95f 41.7%,#fb9e5a 45.8%,#f99555 50.0%,#f88c51 54.2%,#f7834d 58.3%,#f67c4a 62.5%,#f57547 66.7%,#f46e44 70.8%,#f26a44 75.0%,#ef6545 79.2%,#ec6246 83.3%,#ea5e47 87.5%,#e85b48 91.7%,#e65749 95.8%,#e45449 100.0%)"></div>
<div style="left:421.00px;top:316.00px;width:194.50px;height:2.60px;background:linear-gradient(90deg,#ddf19a 0.0%,#f0f9a8 4.2%,#fcfeba 8.3%,#fff6b0 12.5%,#feeb9e 16.7%,#fee28e 20.8%,#fed582 25.0%,#fec978 29.2%,#fdbe6e 33.3%,#fdb466 37.5%,#fcaa5f 41.7%,#fb9f5a 45.8%,#fa9656 50.0%,#f88d52 54.2%,#f7854e 58.3%,#f67d4a 62.5%,#f57647 66.7%,#f46f44 70.8%,#f26a44 75.0%,#ef6645 79.2%,#ed6246 83.3%,#ea5f47 87.5%,#e85b48 91.7%,#e65848 95.8%,#e45549 100.0%)"></div>
<div style="left:421.00px;top:318.00px;width:194.50px;height:2.60px;background:linear-gradient(90deg,#dbf19a 0.0%,#eff9a7 4.2%,#fbfdb9 8.3%,#fff7b2 12.5%,#feeca0 16.7%,#fee38f 20.8%,#fed683 25.0%,#feca79 29.2%,#fdbf6f 33.3%,#fdb567 37.5%,#fdab60 41.7%,#fba15b 45.8%,#fa9756 50.0%,#f98e52 54.2%,#f7864e 58.3%,#f67e4b 62.5%,#f57748 66.7%,#f47045 70.8%,#f36b44 75.0%,#f06745 79.2%,#ed6346 83.3%,#eb5f47 87.5%,#e95c47 91.7%,#e75948 95.8%,#e55649 100.0%)"></div>
<div style="left:421.00px;top:320.00px;width:194.50px;height:2.60px;background:linear-gradient(90deg,#d9f09b 0.0%,#eef8a5 4.2%,#fafdb8 8.3%,#fff8b3 12.5%,#feeda1 16.7%,#fee391 20.8%,#fed884 25.0%,#fecb7a 29.2%,#fdc070 33.3%,#fdb668 37.5%,#fdad60 41.7%,#fba25b 45.8%,#fa9857 50.0%,#f98f53 54.2%,#f8874f 58.3%,#f77f4b 62.5%,#f67848 66.7%,#f57145 70.8%,#f36c43 75.0%,#f06844 79.2%,#ee6445 83.3%,#eb6046 87.5%,#e95d47 91.7%,#e75948 95.8%,#e55649 100.0%)"></div>
<div style="left:421.00px;top:322.00px;width:194.50px;height:2.60px;background:linear-gradient(90deg,#d7ef9b 0.0%,#eef8a4 4.2%,#fafdb7 8.3%,#fff9b5 12.5%,#feeea2 16.7%,#fee492 20.8%,#fed985 25.0%,#fecc7b 29.2%,#fdc171 33.3%,#fdb769 37.5%,#fdae61 41.7%,#fca35c 45.8%,#fa9958 50.0%,#f99053 54.2%,#f8884f 58.3%,#f7804c 62.5%,#f67949 66.7%,#f57246 70.8%,#f46c43 75.0%,#f16844 79.2%,#ee6445 83.3%,#ec6146 87.5%,#ea5d47 91.7%,#e75a48 95.8%,#e55749 100.0%)"></div>
<div style="left:421.00px;top:324.00px;width:194.50px;height:2.60px;background:linear-gradient(90deg,#d5ee9b 0.0%,#edf8a3 4.2%,#f9fdb5 8.3%,#fffab6 12.5%,#feefa4 16.7%,#fee593 20.8%,#feda86 25.0%,#fece7c 29.2%,#fdc272 33.3%,#fdb86a 37.5%,#fdaf62 41.7%,#fca55d 45.8%,#fa9b58 50.0%,#f99254 54.2%,#f88950 58.3%,#f7814c 62.5%,#f67a49 66.7%,#f57446 70.8%,#f46d43 75.0%,#f16944 79.2%,#ef6545 83.3%,#ec6146 87.5%,#ea5e47 91.7%,#e85b48 95.8%,#e65748 100.0%)"></div>
<div style="left:421.00px;top:326.00px;width:194.50px;height:2.60px;background:linear-gradient(90deg,#d3ed9c 0.0%,#ecf7a1 4.2%,#f8fcb4 8.3%,#fffbb8 12.5%,#fff0a5 16.7%,#fee695 20.8%,#fedb87 25.0%,#fecf7d 29.2%,#fdc473 33.3%,#fdb96b 37.5%,#fdb063 41.7%,#fca65d 45.8%,#fb9c59 50.0%,#f99354 54.2%,#f88a51 58.3%,#f7834d 62.5%,#f67b4a 66.7%,#f57547 70.8%,#f46e44 75.0%,#f26a44 79.2%,#ef6645 83.3%,#ed6246 87.5%,#ea5f47 91.7%,#e85b48 95.8%,#e65848 100.0%)"></div>
<div style="left:421.00px;top:328.00px;width:194.50px;height:2.60px;background:linear-gradient(90deg,#d1ec9c 0.0%,#ebf7a0 4.2%,#f7fcb3 8.3%,#fffcba 12.5%,#fff1a7 16.7%,#fee796 20.8%,#fedd88 25.0%,#fed07e 29.2%,#fdc574 33.3%,#fdba6b 37.5%,#fdb164 41.7%,#fca75e 45.8%,#fb9d59 50.0%,#f99455 54.2%,#f88c51 58.3%,#f7844d 62.5%,#f67c4a 66.7%,#f57647 70.8%,#f46f44 75.0%,#f26a44 79.2%,#f06745 83.3%,#ed6346 87.5%,#eb5f47 91.7%,#e95c47 95.8%,#e75948 100.0%)"></div>
<div style="left:421.00px;top:330.00px;width:194.50px;height:2.60px;background:linear-gradient(90deg,#ceeb9d 0.0%,#eaf79f 4.2%,#f6fcb2 8.3%,#fffdbb 12.5%,#fff1a8 16.7%,#fee798 20.8%,#fede89 25.0%,#fed17f 29.2%,#fdc675 33.3%,#fdbc6c 37.5%,#fdb265 41.7%,#fca95f 45.8%,#fb9f5a 50.0%,#fa9556 54.2%,#f88d52 58.3%,#f7854e 62.5%,#f67e4b 66.7%,#f57748 70.8%,#f47045 75.0%,#f36b43 79.2%,#f06744 83.3%,#ee6345 87.5%,#eb6046 91.7%,#e95d47 95.8%,#e75948 100.0%)"></div>
<div style="left:421.00px;top:332.00px;width:194.50px;height:2.60px;background:linear-gradient(90deg,#ccea9d 0.0%,#e9f69d 4.2%,#f6fbb0 8.3%,#fffebd 12.5%,#fff2aa 16.7%,#fee899 20.8%,#fedf8a 25.0%,#fed280 29.2%,#fec776 33.3%,#fdbd6d 37.5%,#fdb366 41.7%,#fcaa5f 45.8%,#fba05a 50.0%,#fa9756 54.2%,#f98e52 58.3%,#f7864f 62.5%,#f67f4b 66.7%,#f67848 70.8%,#f57245 75.0%,#f36c43 79.2%,#f16844 83.3%,#ee6445 87.5%,#ec6146 91.7%,#ea5d47 95.8%,#e85a48 100.0%)"></div>
<div style="left:421.00px;top:334.00px;width:194.50px;height:2.60px;background:linear-gradient(90deg,#caea9e 0.0%,#e8f69c 4.2%,#f5fbaf 8.3%,#ffffbe 12.5%,#fff3ab 16.7%,#fee99a 20.8%,#fee08c 25.0%,#fed481 29.2%,#fec877 33.3%,#fdbe6e 37.5%,#fdb566 41.7%,#fdab60 45.8%,#fba15b 50.0%,#fa9857 54.2%,#f98f53 58.3%,#f8874f 62.5%,#f7804c 66.7%,#f67949 70.8%,#f57346 75.0%,#f46d43 79.2%,#f16944 83.3%,#ef6545 87.5%,#ec6146 91.7%,#ea5e47 95.8%,#e85b48 100.0%)"></div>
<div style="left:421.00px;top:336.00px;width:194.50px;height:2.60px;background:linear-gradient(90deg,#c8e99e 0.0%,#e8f69a 4.2%,#f4fbae 8.3%,#ffffbe 12.5%,#fff4ad 16.7%,#feea9c 20.8%,#fee18d 25.0%,#fed582 29.2%,#fec978 33.3%,#fdbf6f 37.5%,#fdb667 41.7%,#fdad60 45.8%,#fba35c 50.0%,#fa9957 54.2%,#f99053 58.3%,#f88850 62.5%,#f7814c 66.7%,#f67a49 70.8%,#f57446 75.0%,#f46e43 79.2%,#f26944 83.3%,#ef6645 87.5%,#ed6246 91.7%,#eb5f47 95.8%,#e85c47 100.0%)"></div>
<div style="left:421.00px;top:338.00px;width:194.50px;height:2.60px;background:linear-gradient(90deg,#c5e89f 0.0%,#e7f599 4.2%,#f3faac 8.3%,#fefebd 12.5%,#fff5ae 16.7%,#feeb9d 20.8%,#fee28e 25.0%,#fed683 29.2%,#fecb79 33.3%,#fdc070 37.5%,#fdb768 41.7%,#fdae61 45.8%,#fca45c 50.0%,#fa9a58 54.2%,#f99254 58.3%,#f88a50 62.5%,#f7824d 66.7%,#f67b4a 70.8%,#f57547 75.0%,#f46f44 79.2%,#f26a44 83.3%,#f06645 87.5%,#ed6346 91.7%,#eb5f46 95.8%,#e95c47 100.0%)"></div>
<div style="left:421.00px;top:340.00px;width:194.50px;height:2.60px;background:linear-gradient(90deg,#c3e79f 0.0%,#e5f598 4.2%,#f2faab 8.3%,#fdfebc 12.5%,#fff6b0 16.7%,#feec9f 20.8%,#fee390 25.0%,#fed884 29.2%,#fecc7a 33.3%,#fdc171 37.5%,#fdb869 41.7%,#fdaf62 45.8%,#fca55d 50.0%,#fa9c59 54.2%,#f99355 58.3%,#f88b51 62.5%,#f7834d 66.7%,#f67c4a 70.8%,#f57647 75.0%,#f47044 79.2%,#f36b44 83.3%,#f06744 87.5%,#ee6445 91.7%,#ec6046 95.8%,#e95d47 100.0%)"></div>
<div style="left:421.00px;top:342.00px;width:194.50px;height:2.60px;background:linear-gradient(90deg,#c0e6a0 0.0%,#e3f499 4.2%,#f1faaa 8.3%,#fcfeba 12.5%,#fff7b2 16.7%,#feeda0 20.8%,#fee491 25.0%,#fed985 29.2%,#fecd7b 33.3%,#fdc372 37.5%,#fdb96a 41.7%,#fdb063 45.8%,#fca75e 50.0%,#fb9d59 54.2%,#f99455 58.3%,#f88c51 62.5%,#f7854e 66.7%,#f67e4b 70.8%,#f57748 75.0%,#f57145 79.2%,#f36c43 83.3%,#f16844 87.5%,#ee6445 91.7%,#ec6146 95.8%,#ea5e47 100.0%)"></div>
<div style="left:421.00px;top:344.00px;width:194.50px;height:2.60px;background:linear-gradient(90deg,#bee5a0 0.0%,#e1f399 4.2%,#f0f9a8 8.3%,#fbfeb9 12.5%,#fff8b3 16.7%,#feeea2 20.8%,#fee593 25.0%,#feda86 29.2%,#fece7c 33.3%,#fdc473 37.5%,#fdba6b 41.7%,#fdb164 45.8%,#fca85e 50.0%,#fb9e5a 54.2%,#fa9656 58.3%,#f88d52 62.5%,#f7864e 66.7%,#f67f4b 70.8%,#f67848 75.0%,#f57245 79.2%,#f46d43 83.3%,#f16944 87.5%,#ef6545 91.7%,#ec6246 95.8%,#ea5e47 100.0%)"></div>
<div style="left:421.00px;top:346.00px;width:194.50px;height:2.60px;background:linear-gradient(90deg,#bce4a1 0.0%,#dff29a 4.2%,#f0f9a7 8.3%,#fafdb8 12.5%,#fff9b5 16.7%,#feefa3 20.8%,#fee594 25.0%,#fedc87 29.2%,#fed07d 33.3%,#fdc574 37.5%,#fdbb6c 41.7%,#fdb365 45.8%,#fca95f 50.0%,#fba05a 54.2%,#fa9756 58.3%,#f98f53 62.5%,#f8874f 66.7%,#f7804c 70.8%,#f67949 75.0%,#f57346 79.2%,#f46d43 83.3%,#f26944 87.5%,#ef6645 91.7%,#ed6246 95.8%,#eb5f47 100.0%)"></div>
<div style="left:421.00px;top:348.00px;width:194.50px;height:2.60px;background:linear-gradient(90deg,#b9e3a1 0.0%,#dcf19a 4.2%,#eff8a5 8.3%,#fafdb6 12.5%,#fffab6 16.7%,#fff0a5 20.8%,#fee696 25.0%,#fedd88 29.2%,#fed17e 33.3%,#fdc675 37.5%,#fdbd6d 41.7%,#fdb466 45.8%,#fdab60 50.0%,#fba15b 54.2%,#fa9857 58.3%,#f99053 62.5%,#f88850 66.7%,#f7814c 70.8%,#f67b49 75.0%,#f57446 79.2%,#f46f44 83.3%,#f26a44 87.5%,#f06745 91.7%,#ed6346 95.8%,#eb6046 100.0%)"></div>
<div style="left:421.00px;top:350.00px;width:194.50px;height:2.60px;background:linear-gradient(90deg,#b6e2a2 0.0%,#daf09a 4.2%,#eef8a4 8.3%,#f9fcb5 12.5%,#fffbb8 16.7%,#fff0a7 20.8%,#fee797 25.0%,#fede8a 29.2%,#fed280 33.3%,#fec876 37.5%,#fdbe6e 41.7%,#fdb567 45.8%,#fdac60 50.0%,#fba35c 54.2%,#fa9a58 58.3%,#f99154 62.5%,#f88a50 66.7%,#f7824d 70.8%,#f67c4a 75.0%,#f57647 79.2%,#f47044 83.3%,#f36b44 87.5%,#f06744 91.7%,#ee6445 95.8%,#ec6046 100.0%)"></div>
<div style="left:421.00px;top:352.00px;width:194.50px;height:2.60px;background:linear-gradient(90deg,#b4e1a2 0.0%,#d7ef9b 4.2%,#edf8a2 8.3%,#f8fcb4 12.5%,#fffcba 16.7%,#fff1a8 20.8%,#fee899 25.0%,#fee08b 29.2%,#fed481 33.3%,#fec978 37.5%,#fdbf6f 41.7%,#fdb668 45.8%,#fdae61 50.0%,#fca45c 54.2%,#fa9b58 58.3%,#f99354 62.5%,#f88b51 66.7%,#f7844d 70.8%,#f67d4a 75.0%,#f57747 79.2%,#f57145 83.3%,#f36c43 87.5%,#f16844 91.7%,#ee6545 95.8%,#ec6146 100.0%)"></div>
<div style="left:421.00px;top:354.00px;width:194.50px;height:2.60px;background:linear-gradient(90deg,#b1e0a3 0.0%,#d5ee9b 4.2%,#ecf7a1 8.3%,#f7fcb2 12.5%,#fffdbc 16.7%,#fff2aa 20.8%,#fee99a 25.0%,#fee18c 29.2%,#fed582 33.3%,#feca79 37.5%,#fdc070 41.7%,#fdb769 45.8%,#fdaf62 50.0%,#fca55d 54.2%,#fb9c59 58.3%,#f99455 62.5%,#f88c51 66.7%,#f7854e 70.8%,#f67e4b 75.0%,#f67848 79.2%,#f57245 83.3%,#f46d43 87.5%,#f16944 91.7%,#ef6545 95.8%,#ed6246 100.0%)"></div>
<div style="left:421.00px;top:356.00px;width:194.50px;height:2.60px;background:linear-gradient(90deg,#aedea3 0.0%,#d3ed9c 4.2%,#ebf79f 8.3%,#f6fbb1 12.5%,#fffebd 16.7%,#fff3ac 20.8%,#feea9c 25.0%,#fee28e 29.2%,#fed683 33.3%,#fecb7a 37.5%,#fdc171 41.7%,#fdb86a 45.8%,#fdb063 50.0%,#fca75e 54.2%,#fb9e59 58.3%,#fa9556 62.5%,#f88d52 66.7%,#f7864f 70.8%,#f77f4b 75.0%,#f67949 79.2%,#f57346 83.3%,#f46e43 87.5%,#f26a44 91.7%,#ef6645 95.8%,#ed6346 100.0%)"></div>
<div style="left:421.00px;top:358.00px;width:194.50px;height:2.60px;background:linear-gradient(90deg,#acdda4 0.0%,#d0ec9c 4.2%,#eaf79e 8.3%,#f5fbaf 12.5%,#ffffbf 16.7%,#fff4ad 20.8%,#feeb9d 25.0%,#fee38f 29.2%,#fed884 33.3%,#fecd7b 37.5%,#fdc372 41.7%,#fdba6b 45.8%,#fdb164 50.0%,#fca85e 54.2%,#fb9f5a 58.3%,#fa9756 62.5%,#f98f53 66.7%,#f8874f 70.8%,#f7814c 75.0%,#f67a49 79.2%,#f57446 83.3%,#f46f44 87.5%,#f26a44 91.7%,#f06745 95.8%,#ee6345 100.0%)"></div>
<div style="left:421.00px;top:360.00px;width:194.50px;height:2.60px;background:linear-gradient(90deg,#a9dca4 0.0%,#cdeb9d 4.2%,#e9f69c 8.3%,#f4fbae 12.5%,#feffbd 16.7%,#fff5af 20.8%,#feec9f 25.0%,#fee391 29.2%,#fed985 33.3%,#fece7c 37.5%,#fdc474 41.7%,#fdbb6c 45.8%,#fdb265 50.0%,#fcaa5f 54.2%,#fba15b 58.3%,#fa9857 62.5%,#f99053 66.7%,#f88950 70.8%,#f7824d 75.0%,#f67b4a 79.2%,#f57547 83.3%,#f47044 87.5%,#f36b43 91.7%,#f06844 95.8%,#ee6445 100.0%)"></div>
<div style="left:421.00px;top:362.00px;width:194.50px;height:2.60px;background:linear-gradient(90deg,#a5dba4 0.0%,#cbea9e 4.2%,#e8f69b 8.3%,#f3faad 12.5%,#fdfebc 16.7%,#fff7b1 20.8%,#feeda1 25.0%,#fee492 29.2%,#fedb87 33.3%,#fecf7d 37.5%,#fdc575 41.7%,#fdbc6d 45.8%,#fdb466 50.0%,#fdab60 54.2%,#fba25b 58.3%,#fa9957 62.5%,#f99154 66.7%,#f88a50 70.8%,#f7834d 75.0%,#f67d4a 79.2%,#f57747 83.3%,#f57145 87.5%,#f36c43 91.7%,#f16844 95.8%,#ef6545 100.0%)"></div>
<div style="left:421.00px;top:364.00px;width:194.50px;height:2.60px;background:linear-gradient(90deg,#a2d9a4 0.0%,#c8e99e 4.2%,#e7f599 8.3%,#f2faab 12.5%,#fcfebb 16.7%,#fff8b3 20.8%,#feeea2 25.0%,#fee594 29.2%,#fedc88 33.3%,#fed17e 37.5%,#fdc776 41.7%,#fdbd6e 45.8%,#fdb567 50.0%,#fdad60 54.2%,#fca35c 58.3%,#fa9b58 62.5%,#f99354 66.7%,#f88b51 70.8%,#f7844e 75.0%,#f67e4b 79.2%,#f57848 83.3%,#f57245 87.5%,#f46d43 91.7%,#f16944 95.8%,#ef6645 100.0%)"></div>
<div style="left:421.00px;top:366.00px;width:194.50px;height:2.60px;background:linear-gradient(90deg,#9ed8a4 0.0%,#c5e89f 4.2%,#e5f598 8.3%,#f1f9a9 12.5%,#fbfdb9 16.7%,#fff9b4 20.8%,#feefa4 25.0%,#fee696 29.2%,#fede89 33.3%,#fed27f 37.5%,#fec877 41.7%,#fdbf6f 45.8%,#fdb668 50.0%,#fdae61 54.2%,#fca55d 58.3%,#fb9c59 62.5%,#f99455 66.7%,#f88d52 70.8%,#f7864e 75.0%,#f77f4b 79.2%,#f67949 83.3%,#f57346 87.5%,#f46e43 91.7%,#f26a44 95.8%,#f06645 100.0%)"></div>
<div style="left:421.00px;top:368.00px;width:194.50px;height:2.60px;background:linear-gradient(90deg,#9bd7a4 0.0%,#c3e79f 4.2%,#e2f499 8.3%,#f0f9a8 12.5%,#fafdb8 16.7%,#fffab6 20.8%,#fff0a6 25.0%,#fee797 29.2%,#fedf8a 33.3%,#fed481 37.5%,#fec978 41.7%,#fdc070 45.8%,#fdb769 50.0%,#fdaf62 54.2%,#fca65e 58.3%,#fb9e59 62.5%,#fa9656 66.7%,#f98e52 70.8%,#f8874f 75.0%,#f7804c 79.2%,#f67a49 83.3%,#f57446 87.5%,#f46f44 91.7%,#f36b44 95.8%,#f06744 100.0%)"></div>
<div style="left:421.00px;top:370.00px;width:194.50px;height:2.60px;background:linear-gradient(90deg,#99d6a4 0.0%,#c0e5a0 4.2%,#e0f399 8.3%,#eff9a6 12.5%,#f9fdb6 16.7%,#fffbb8 20.8%,#fff1a8 25.0%,#fee899 29.2%,#fee08c 33.3%,#fed582 37.5%,#fecb79 41.7%,#fdc171 45.8%,#fdb96a 50.0%,#fdb163 54.2%,#fca85e 58.3%,#fb9f5a 62.5%,#fa9756 66.7%,#f98f53 70.8%,#f88850 75.0%,#f7824d 79.2%,#f67b4a 83.3%,#f57647 87.5%,#f47044 91.7%,#f36c43 95.8%,#f16844 100.0%)"></div>
<div style="left:421.00px;top:372.00px;width:194.50px;height:2.60px;background:linear-gradient(90deg,#96d5a4 0.0%,#bde4a0 4.2%,#ddf19a 8.3%,#eef8a5 12.5%,#f8fcb5 16.7%,#fffcba 20.8%,#fff2a9 25.0%,#fee99b 29.2%,#fee18d 33.3%,#fed783 37.5%,#fecc7a 41.7%,#fdc372 45.8%,#fdba6b 50.0%,#fdb264 54.2%,#fcaa5f 58.3%,#fba15b 62.5%,#fa9857 66.7%,#f99154 70.8%,#f88a50 75.0%,#f7834d 79.2%,#f67d4a 83.3%,#f57748 87.5%,#f57145 91.7%,#f46c43 95.8%,#f16944 100.0%)"></div>
<div style="left:421.00px;top:374.00px;width:194.50px;height:2.60px;background:linear-gradient(90deg,#94d4a4 0.0%,#bae3a1 4.2%,#daf09a 8.3%,#edf8a3 12.5%,#f7fcb3 16.7%,#fffdbc 20.8%,#fff3ab 25.0%,#feea9c 29.2%,#fee28f 33.3%,#fed884 37.5%,#fece7c 41.7%,#fdc474 45.8%,#fdbb6c 50.0%,#fdb365 54.2%,#fdab60 58.3%,#fba25c 62.5%,#fa9a58 66.7%,#f99254 70.8%,#f88b51 75.0%,#f7844e 79.2%,#f67e4b 83.3%,#f67848 87.5%,#f57346 91.7%,#f46d43 95.8%,#f26a44 100.0%)"></div>
<div style="left:421.00px;top:376.00px;width:194.50px;height:2.60px;background:linear-gradient(90deg,#91d3a4 0.0%,#b7e2a2 4.2%,#d8ef9b 8.3%,#ecf7a1 12.5%,#f6fcb1 16.7%,#fffebe 20.8%,#fff4ad 25.0%,#feeb9e 29.2%,#fee391 33.3%,#feda86 37.5%,#fecf7d 41.7%,#fdc575 45.8%,#fdbd6d 50.0%,#fdb466 54.2%,#fdad60 58.3%,#fca45c 62.5%,#fa9b58 66.7%,#f99455 70.8%,#f88c51 75.0%,#f7864e 79.2%,#f77f4b 83.3%,#f67949 87.5%,#f57446 91.7%,#f46e44 95.8%,#f26a44 100.0%)"></div>
<div style="left:421.00px;top:378.00px;width:194.50px;height:2.60px;background:linear-gradient(90deg,#8ed2a4 0.0%,#b4e1a2 4.2%,#d5ee9b 8.3%,#ebf79f 12.5%,#f5fbb0 16.7%,#feffbe 20.8%,#fff6af 25.0%,#feeca0 29.2%,#fee492 33.3%,#fedb87 37.5%,#fed17e 41.7%,#fdc776 45.8%,#fdbe6e 50.0%,#fdb668 54.2%,#fdae61 58.3%,#fca55d 62.5%,#fb9d59 66.7%,#fa9555 70.8%,#f98e52 75.0%,#f8874f 79.2%,#f7814c 83.3%,#f67b49 87.5%,#f57547 91.7%,#f47044 95.8%,#f36b43 100.0%)"></div>
<div style="left:421.00px;top:380.00px;width:194.50px;height:2.60px;background:linear-gradient(90deg,#8cd1a4 0.0%,#b1dfa3 4.2%,#d2ed9c 8.3%,#eaf69e 12.5%,#f4fbae 16.7%,#fefebd 20.8%,#fff7b1 25.0%,#feeea2 29.2%,#fee594 33.3%,#fedd88 37.5%,#fed27f 41.7%,#fec877 45.8%,#fdbf70 50.0%,#fdb769 54.2%,#fdaf62 58.3%,#fca75e 62.5%,#fb9e5a 66.7%,#fa9656 70.8%,#f98f53 75.0%,#f88850 79.2%,#f7824d 83.3%,#f67c4a 87.5%,#f57647 91.7%,#f57145 95.8%,#f36c43 100.0%)"></div>
<div style="left:421.00px;top:382.00px;width:194.50px;height:2.60px;background:linear-gradient(90deg,#89d0a4 0.0%,#aedea3 4.2%,#cfec9d 8.3%,#e9f69c 12.5%,#f3faad 16.7%,#fcfebb 20.8%,#fff8b3 25.0%,#feefa4 29.2%,#fee696 33.3%,#fede8a 37.5%,#fed481 41.7%,#feca78 45.8%,#fdc171 50.0%,#fdb86a 54.2%,#fdb163 58.3%,#fca85e 62.5%,#fba05a 66.7%,#fa9857 70.8%,#f99153 75.0%,#f88a50 79.2%,#f7834d 83.3%,#f67d4a 87.5%,#f57748 91.7%,#f57245 95.8%,#f46d43 100.0%)"></div>
<div style="left:421.00px;top:384.00px;width:194.50px;height:2.60px;background:linear-gradient(90deg,#86cea5 0.0%,#aadda4 4.2%,#ccea9d 8.3%,#e7f69a 12.5%,#f2faab 16.7%,#fbfeb9 20.8%,#fff9b5 25.0%,#fff0a6 29.2%,#fee898 33.3%,#fee08b 37.5%,#fed582 41.7%,#fecb7a 45.8%,#fdc272 50.0%,#fdba6b 54.2%,#fdb264 58.3%,#fcaa5f 62.5%,#fba15b 66.7%,#fa9958 70.8%,#f99254 75.0%,#f88b51 79.2%,#f7854e 83.3%,#f67e4b 87.5%,#f67948 91.7%,#f57346 95.8%,#f46e44 100.0%)"></div>
<div style="left:421.00px;top:386.00px;width:194.50px;height:2.60px;background:linear-gradient(90deg,#83cda5 0.0%,#a6dba4 4.2%,#c9e99e 8.3%,#e6f598 12.5%,#f1f9a9 16.7%,#fafdb8 20.8%,#fffab7 25.0%,#fff1a7 29.2%,#fee999 33.3%,#fee18d 37.5%,#fed783 41.7%,#fecd7b 45.8%,#fdc473 50.0%,#fdbb6c 54.2%,#fdb366 58.3%,#fdac60 62.5%,#fba35c 66.7%,#fa9b58 70.8%,#f99355 75.0%,#f88c52 79.2%,#f7864f 83.3%,#f7804c 87.5%,#f67a49 91.7%,#f57546 95.8%,#f46f44 100.0%)"></div>
<div style="left:421.00px;top:388.00px;width:194.50px;height:2.60px;background:linear-gradient(90deg,#80cca5 0.0%,#a3daa4 4.2%,#c6e89f 8.3%,#e3f499 12.5%,#f0f9a7 16.7%,#f9fdb6 20.8%,#fffcb9 25.0%,#fff2a9 29.2%,#feea9b 33.3%,#fee28f 37.5%,#fed885 41.7%,#fece7c 45.8%,#fdc574 50.0%,#fdbd6d 54.2%,#fdb567 58.3%,#fdad61 62.5%,#fca55d 66.7%,#fb9d59 70.8%,#fa9555 75.0%,#f98e52 79.2%,#f8874f 83.3%,#f7814c 87.5%,#f67b4a 91.7%,#f57647 95.8%,#f47145 100.0%)"></div>
<div style="left:421.00px;top:390.00px;width:194.50px;height:2.60px;background:linear-gradient(90deg,#7dcba5 0.0%,#9fd8a4 4.2%,#c3e79f 8.3%,#e1f399 12.5%,#eff8a5 16.7%,#f8fcb4 20.8%,#fffdbb 25.0%,#fff3ab 29.2%,#feeb9d 33.3%,#fee390 37.5%,#feda86 41.7%,#fed07d 45.8%,#fdc776 50.0%,#fdbe6e 54.2%,#fdb668 58.3%,#fdaf62 62.5%,#fca65d 66.7%,#fb9e5a 70.8%,#fa9656 75.0%,#f98f53 79.2%,#f88950 83.3%,#f7824d 87.5%,#f67d4a 91.7%,#f57748 95.8%,#f57245 100.0%)"></div>
<div style="left:421.00px;top:392.00px;width:194.50px;height:2.60px;background:linear-gradient(90deg,#7acaa5 0.0%,#9bd7a4 4.2%,#c0e5a0 8.3%,#def29a 12.5%,#edf8a4 16.7%,#f7fcb3 20.8%,#fffebd 25.0%,#fff5ad 29.2%,#feec9f 33.3%,#fee492 37.5%,#fedc87 41.7%,#fed17f 45.8%,#fec877 50.0%,#fdbf70 54.2%,#fdb769 58.3%,#fdb063 62.5%,#fca85e 66.7%,#fba05a 70.8%,#fa9857 75.0%,#f99154 79.2%,#f88a50 83.3%,#f7844e 87.5%,#f67e4b 91.7%,#f67848 95.8%,#f57346 100.0%)"></div>
<div style="left:421.00px;top:394.00px;width:194.50px;height:2.60px;background:linear-gradient(90deg,#77c8a5 0.0%,#98d6a4 4.2%,#bce4a0 8.3%,#daf09a 12.5%,#ecf7a2 16.7%,#f6fbb1 20.8%,#ffffbf 25.0%,#fff6b0 29.2%,#feeda1 33.3%,#fee594 37.5%,#fedd89 41.7%,#fed380 45.8%,#feca78 50.0%,#fdc171 54.2%,#fdb96a 58.3%,#fdb164 62.5%,#fcaa5f 66.7%,#fba15b 70.8%,#fa9a58 75.0%,#f99254 79.2%,#f88c51 83.3%,#f7854e 87.5%,#f77f4b 91.7%,#f67a49 95.8%,#f57446 100.0%)"></div>
<div style="left:421.00px;top:396.00px;width:194.50px;height:2.60px;background:linear-gradient(90deg,#73c7a5 0.0%,#95d4a4 4.2%,#b9e3a1 8.3%,#d7ef9b 12.5%,#ebf7a0 16.7%,#f5fbaf 20.8%,#fefebd 25.0%,#fff7b2 29.2%,#feeea3 33.3%,#fee796 37.5%,#fedf8a 41.7%,#fed582 45.8%,#fecb79 50.0%,#fdc272 54.2%,#fdba6b 58.3%,#fdb365 62.5%,#fdab60 66.7%,#fba35c 70.8%,#fa9b58 75.0%,#f99455 79.2%,#f88d52 83.3%,#f8874f 87.5%,#f7814c 91.7%,#f67b49 95.8%,#f57647 100.0%)"></div>
<div style="left:421.00px;top:398.00px;width:194.50px;height:2.60px;background:linear-gradient(90deg,#70c6a5 0.0%,#92d3a4 4.2%,#b5e1a2 8.3%,#d4ee9c 12.5%,#eaf79e 16.7%,#f4faad 20.8%,#fdfebb 25.0%,#fff8b4 29.2%,#fff0a5 33.3%,#fee898 37.5%,#fee18c 41.7%,#fed683 45.8%,#fecd7b 50.0%,#fdc473 54.2%,#fdbc6d 58.3%,#fdb466 62.5%,#fdad61 66.7%,#fca55d 70.8%,#fb9d59 75.0%,#fa9556 79.2%,#f98f52 83.3%,#f88850 87.5%,#f7824d 91.7%,#f67c4a 95.8%,#f57748 100.0%)"></div>
<div style="left:421.00px;top:400.00px;width:194.50px;height:2.60px;background:linear-gradient(90deg,#6dc5a5 0.0%,#8fd2a4 4.2%,#b2e0a3 8.3%,#d1ec9c 12.5%,#e8f69c 16.7%,#f3faac 20.8%,#fbfeb9 25.0%,#fffab6 29.2%,#fff1a7 33.3%,#fee99a 37.5%,#fee28e 41.7%,#fed884 45.8%,#fece7c 50.0%,#fdc575 54.2%,#fdbd6e 58.3%,#fdb667 62.5%,#fdaf62 66.7%,#fca65d 70.8%,#fb9e5a 75.0%,#fa9756 79.2%,#f99053 83.3%,#f88a50 87.5%,#f7834d 91.7%,#f67e4b 95.8%,#f67848 100.0%)"></div>
<div style="left:421.00px;top:402.00px;width:194.50px;height:2.60px;background:linear-gradient(90deg,#69c3a5 0.0%,#8cd1a4 4.2%,#aedea3 8.3%,#ceeb9d 12.5%,#e7f59a 16.7%,#f1faaa 20.8%,#fafdb8 25.0%,#fffbb8 29.2%,#fff2a9 33.3%,#feea9c 37.5%,#fee390 41.7%,#feda86 45.8%,#fed07e 50.0%,#fec776 54.2%,#fdbf6f 58.3%,#fdb769 62.5%,#fdb063 66.7%,#fca85e 70.8%,#fba05b 75.0%,#fa9957 79.2%,#f99254 83.3%,#f88b51 87.5%,#f7854e 91.7%,#f77f4b 95.8%,#f67a49 100.0%)"></div>
<div style="left:421.00px;top:404.00px;width:194.50px;height:2.60px;background:linear-gradient(90deg,#66c2a5 0.0%,#89d0a4 4.2%,#abdda4 8.3%,#caea9e 12.5%,#e6f598 16.7%,#f0f9a8 20.8%,#f9fdb6 25.0%,#fffcbb 29.2%,#fff3ab 33.3%,#feeb9e 37.5%,#fee492 41.7%,#fedc87 45.8%,#fed27f 50.0%,#fec977 54.2%,#fdc070 58.3%,#fdb96a 62.5%,#fdb164 66.7%,#fcaa5f 70.8%,#fba25b 75.0%,#fa9a58 79.2%,#f99355 83.3%,#f88d52 87.5%,#f8864f 91.7%,#f7804c 95.8%,#f67b49 100.0%)"></div>
<div style="left:421.00px;top:406.00px;width:194.50px;height:2.60px;background:linear-gradient(90deg,#63bfa6 0.0%,#85cea5 4.2%,#a6dba4 8.3%,#c7e89e 12.5%,#e2f499 16.7%,#eff9a6 20.8%,#f8fcb4 25.0%,#fffebd 29.2%,#fff5ae 33.3%,#feeda0 37.5%,#fee594 41.7%,#fedd89 45.8%,#fed380 50.0%,#feca79 54.2%,#fdc272 58.3%,#fdba6b 62.5%,#fdb365 66.7%,#fdac60 70.8%,#fca35c 75.0%,#fa9c59 79.2%,#fa9555 83.3%,#f98e52 87.5%,#f8884f 91.7%,#f7824d 95.8%,#f67c4a 100.0%)"></div>
<div style="left:421.00px;top:408.00px;width:194.50px;height:2.60px;background:linear-gradient(90deg,#60bca8 0.0%,#82cda5 4.2%,#a2daa4 8.3%,#c3e79f 12.5%,#dff299 16.7%,#eef8a4 20.8%,#f7fcb2 25.0%,#ffffbf 29.2%,#fff6b0 33.3%,#feeea2 37.5%,#fee696 41.7%,#fedf8a 45.8%,#fed582 50.0%,#fecc7a 54.2%,#fdc373 58.3%,#fdbc6c 62.5%,#fdb466 66.7%,#fdad61 70.8%,#fca55d 75.0%,#fb9e59 79.2%,#fa9656 83.3%,#f99053 87.5%,#f88950 91.7%,#f7834d 95.8%,#f67e4b 100.0%)"></div>
<div style="left:421.00px;top:410.00px;width:194.50px;height:1.90px;background:linear-gradient(90deg,#5db8a9 0.0%,#7fcca5 4.2%,#9ed8a4 8.3%,#c0e5a0 12.5%,#dcf19a 16.7%,#ecf7a2 20.8%,#f5fbb0 25.0%,#fefebd 29.2%,#fff7b2 33.3%,#feefa4 37.5%,#fee898 41.7%,#fee18c 45.8%,#fed783 50.0%,#fece7c 54.2%,#fdc574 58.3%,#fdbd6e 62.5%,#fdb668 66.7%,#fdaf62 70.8%,#fca75e 75.0%,#fb9f5a 79.2%,#fa9857 83.3%,#f99154 87.5%,#f88b51 91.7%,#f7854e 95.8%,#f77f4b 100.0%)"></div>
<svg width="685" height="446" viewBox="0 0 685 446">
<defs><linearGradient id="cg" x1="0" y1="0" x2="1" y2="0"><stop offset="0" stop-color="#000" stop-opacity="0.45"/><stop offset="0.5" stop-color="#000" stop-opacity="0.1"/><stop offset="1" stop-color="#fff" stop-opacity="0.45"/></linearGradient></defs>
<path d="M0,3.01 C2.01,0.60 2.01,-1.66 0,-1.66 C-2.01,-1.66 -2.01,0.60 0,3.01Z" fill="#8e888c" fill-opacity="0.85" transform="translate(5.9,48.0) rotate(-199)"/>
<path d="M0,3.01 C2.01,0.60 2.01,-1.66 0,-1.66 C-2.01,-1.66 -2.01,0.60 0,3.01Z" fill="url(#cg)" transform="translate(5.9,48.0) rotate(-199)"/>
<path d="M0,3.03 C2.02,0.61 2.02,-1.67 0,-1.67 C-2.02,-1.67 -2.02,0.61 0,3.03Z" fill="#8f858c" fill-opacity="0.85" transform="translate(5.9,55.1) rotate(-203)"/>
<path d="M0,3.03 C2.02,0.61 2.02,-1.67 0,-1.67 C-2.02,-1.67 -2.02,0.61 0,3.03Z" fill="url(#cg)" transform="translate(5.9,55.1) rotate(-203)"/>
<path d="M0,3.06 C2.03,0.61 2.03,-1.68 0,-1.68 C-2.03,-1.68 -2.03,0.61 0,3.06Z" fill="#91828a" fill-opacity="0.85" transform="translate(5.9,62.1) rotate(-209)"/>
<path d="M0,3.06 C2.03,0.61 2.03,-1.68 0,-1.68 C-2.03,-1.68 -2.03,0.61 0,3.06Z" fill="url(#cg)" transform="translate(5.9,62.1) rotate(-209)"/>
<path d="M0,3.10 C2.04,0.62 2.04,-1.70 0,-1.70 C-2.04,-1.70 -2.04,0.62 0,3.10Z" fill="#937e87" fill-opacity="0.85" transform="translate(5.9,69.1) rotate(-215)"/>
<path d="M0,3.10 C2.04,0.62 2.04,-1.70 0,-1.70 C-2.04,-1.70 -2.04,0.62 0,3.10Z" fill="url(#cg)" transform="translate(5.9,69.1) rotate(-215)"/>
<path d="M0,3.13 C2.05,0.63 2.05,-1.72 0,-1.72 C-2.05,-1.72 -2.05,0.63 0,3.13Z" fill="#947a83" fill-opacity="0.85" transform="translate(5.9,76.2) rotate(-222)"/>
<path d="M0,3.13 C2.05,0.63 2.05,-1.72 0,-1.72 C-2.05,-1.72 -2.05,0.63 0,3.13Z" fill="url(#cg)" transform="translate(5.9,76.2) rotate(-222)"/>
<path d="M0,3.16 C2.06,0.63 2.06,-1.74 0,-1.74 C-2.06,-1.74 -2.06,0.63 0,3.16Z" fill="#96787f" fill-opacity="0.85" transform="translate(5.9,83.2) rotate(-229)"/>
<path d="M0,3.16 C2.06,0.63 2.06,-1.74 0,-1.74 C-2.06,-1.74 -2.06,0.63 0,3.16Z" fill="url(#cg)" transform="translate(5.9,83.2) rotate(-229)"/>
<path d="M0,3.18 C2.06,0.64 2.06,-1.75 0,-1.75 C-2.06,-1.75 -2.06,0.64 0,3.18Z" fill="#97787a" fill-opacity="0.85" transform="translate(5.9,90.2) rotate(-237)"/>
<path d="M0,3.18 C2.06,0.64 2.06,-1.75 0,-1.75 C-2.06,-1.75 -2.06,0.64 0,3.18Z" fill="url(#cg)" transform="translate(5.9,90.2) rotate(-237)"/>
<path d="M0,3.17 C2.06,0.63 2.06,-1.75 0,-1.75 C-2.06,-1.75 -2.06,0.63 0,3.17Z" fill="#977a77" fill-opacity="0.85" transform="translate(5.9,97.3) rotate(115)"/>
<path d="M0,3.17 C2.06,0.63 2.06,-1.75 0,-1.75 C-2.06,-1.75 -2.06,0.63 0,3.17Z" fill="url(#cg)" transform="translate(5.9,97.3) rotate(115)"/>
<path d="M0,3.16 C2.06,0.63 2.06,-1.74 0,-1.74 C-2.06,-1.74 -2.06,0.63 0,3.16Z" fill="#967e77" fill-opacity="0.85" transform="translate(5.9,104.3) rotate(107)"/>
<path d="M0,3.16 C2.06,0.63 2.06,-1.74 0,-1.74 C-2.06,-1.74 -2.06,0.63 0,3.16Z" fill="url(#cg)" transform="translate(5.9,104.3) rotate(107)"/>
<path d="M0,3.13 C2.05,0.63 2.05,-1.72 0,-1.72 C-2.05,-1.72 -2.05,0.63 0,3.13Z" fill="#94827a" fill-opacity="0.85" transform="translate(5.9,111.4) rotate(100)"/>
<path d="M0,3.13 C2.05,0.63 2.05,-1.72 0,-1.72 C-2.05,-1.72 -2.05,0.63 0,3.13Z" fill="url(#cg)" transform="translate(5.9,111.4) rotate(100)"/>
<path d="M0,3.09 C2.04,0.62 2.04,-1.70 0,-1.70 C-2.04,-1.70 -2.04,0.62 0,3.09Z" fill="#92867f" fill-opacity="0.85" transform="translate(5.9,118.4) rotate(94)"/>
<path d="M0,3.09 C2.04,0.62 2.04,-1.70 0,-1.70 C-2.04,-1.70 -2.04,0.62 0,3.09Z" fill="url(#cg)" transform="translate(5.9,118.4) rotate(94)"/>
<path d="M0,3.06 C2.03,0.61 2.03,-1.68 0,-1.68 C-2.03,-1.68 -2.03,0.61 0,3.06Z" fill="#908983" fill-opacity="0.85" transform="translate(5.9,125.4) rotate(88)"/>
<path d="M0,3.06 C2.03,0.61 2.03,-1.68 0,-1.68 C-2.03,-1.68 -2.03,0.61 0,3.06Z" fill="url(#cg)" transform="translate(5.9,125.4) rotate(88)"/>
<path d="M0,3.03 C2.02,0.61 2.02,-1.67 0,-1.67 C-2.02,-1.67 -2.02,0.61 0,3.03Z" fill="#8f8b86" fill-opacity="0.85" transform="translate(5.9,132.5) rotate(82)"/>
<path d="M0,3.03 C2.02,0.61 2.02,-1.67 0,-1.67 C-2.02,-1.67 -2.02,0.61 0,3.03Z" fill="url(#cg)" transform="translate(5.9,132.5) rotate(82)"/>
<path d="M0,3.04 C2.02,0.61 2.02,-1.67 0,-1.67 C-2.02,-1.67 -2.02,0.61 0,3.04Z" fill="#90848d" fill-opacity="0.85" transform="translate(13.8,48.0) rotate(-194)"/>
<path d="M0,3.04 C2.02,0.61 2.02,-1.67 0,-1.67 C-2.02,-1.67 -2.02,0.61 0,3.04Z" fill="url(#cg)" transform="translate(13.8,48.0) rotate(-194)"/>
<path d="M0,3.08 C2.03,0.62 2.03,-1.70 0,-1.70 C-2.03,-1.70 -2.03,0.62 0,3.08Z" fill="#927f8d" fill-opacity="0.85" transform="translate(13.8,55.1) rotate(-199)"/>
<path d="M0,3.08 C2.03,0.62 2.03,-1.70 0,-1.70 C-2.03,-1.70 -2.03,0.62 0,3.08Z" fill="url(#cg)" transform="translate(13.8,55.1) rotate(-199)"/>
<path d="M0,3.14 C2.05,0.63 2.05,-1.73 0,-1.73 C-2.05,-1.73 -2.05,0.63 0,3.14Z" fill="#95798b" fill-opacity="0.85" transform="translate(13.8,62.1) rotate(-204)"/>
<path d="M0,3.14 C2.05,0.63 2.05,-1.73 0,-1.73 C-2.05,-1.73 -2.05,0.63 0,3.14Z" fill="url(#cg)" transform="translate(13.8,62.1) rotate(-204)"/>
<path d="M0,3.21 C2.07,0.64 2.07,-1.76 0,-1.76 C-2.07,-1.76 -2.07,0.64 0,3.21Z" fill="#987186" fill-opacity="0.85" transform="translate(13.8,69.1) rotate(-211)"/>
<path d="M0,3.21 C2.07,0.64 2.07,-1.76 0,-1.76 C-2.07,-1.76 -2.07,0.64 0,3.21Z" fill="url(#cg)" transform="translate(13.8,69.1) rotate(-211)"/>
<path d="M0,3.27 C2.09,0.65 2.09,-1.80 0,-1.80 C-2.09,-1.80 -2.09,0.65 0,3.27Z" fill="#9c697d" fill-opacity="0.85" transform="translate(13.8,76.2) rotate(-219)"/>
<path d="M0,3.27 C2.09,0.65 2.09,-1.80 0,-1.80 C-2.09,-1.80 -2.09,0.65 0,3.27Z" fill="url(#cg)" transform="translate(13.8,76.2) rotate(-219)"/>
<path d="M0,3.33 C2.11,0.67 2.11,-1.83 0,-1.83 C-2.11,-1.83 -2.11,0.67 0,3.33Z" fill="#9f6674" fill-opacity="0.85" transform="translate(13.8,83.2) rotate(-227)"/>
<path d="M0,3.33 C2.11,0.67 2.11,-1.83 0,-1.83 C-2.11,-1.83 -2.11,0.67 0,3.33Z" fill="url(#cg)" transform="translate(13.8,83.2) rotate(-227)"/>
<path d="M0,3.35 C2.12,0.67 2.12,-1.84 0,-1.84 C-2.12,-1.84 -2.12,0.67 0,3.35Z" fill="#a0666b" fill-opacity="0.85" transform="translate(13.8,90.2) rotate(-236)"/>
<path d="M0,3.35 C2.12,0.67 2.12,-1.84 0,-1.84 C-2.12,-1.84 -2.12,0.67 0,3.35Z" fill="url(#cg)" transform="translate(13.8,90.2) rotate(-236)"/>
<path d="M0,3.35 C2.12,0.67 2.12,-1.84 0,-1.84 C-2.12,-1.84 -2.12,0.67 0,3.35Z" fill="#a06b64" fill-opacity="0.85" transform="translate(13.8,97.3) rotate(114)"/>
<path d="M0,3.35 C2.12,0.67 2.12,-1.84 0,-1.84 C-2.12,-1.84 -2.12,0.67 0,3.35Z" fill="url(#cg)" transform="translate(13.8,97.3) rotate(114)"/>
<path d="M0,3.32 C2.11,0.66 2.11,-1.82 0,-1.82 C-2.11,-1.82 -2.11,0.66 0,3.32Z" fill="#9e7364" fill-opacity="0.85" transform="translate(13.8,104.3) rotate(105)"/>
<path d="M0,3.32 C2.11,0.66 2.11,-1.82 0,-1.82 C-2.11,-1.82 -2.11,0.66 0,3.32Z" fill="url(#cg)" transform="translate(13.8,104.3) rotate(105)"/>
<path d="M0,3.26 C2.09,0.65 2.09,-1.79 0,-1.79 C-2.09,-1.79 -2.09,0.65 0,3.26Z" fill="#9b7c6b" fill-opacity="0.85" transform="translate(13.8,111.4) rotate(97)"/>
<path d="M0,3.26 C2.09,0.65 2.09,-1.79 0,-1.79 C-2.09,-1.79 -2.09,0.65 0,3.26Z" fill="url(#cg)" transform="translate(13.8,111.4) rotate(97)"/>
<path d="M0,3.19 C2.07,0.64 2.07,-1.76 0,-1.76 C-2.07,-1.76 -2.07,0.64 0,3.19Z" fill="#988373" fill-opacity="0.85" transform="translate(13.8,118.4) rotate(90)"/>
<path d="M0,3.19 C2.07,0.64 2.07,-1.76 0,-1.76 C-2.07,-1.76 -2.07,0.64 0,3.19Z" fill="url(#cg)" transform="translate(13.8,118.4) rotate(90)"/>
<path d="M0,3.13 C2.05,0.63 2.05,-1.72 0,-1.72 C-2.05,-1.72 -2.05,0.63 0,3.13Z" fill="#94887a" fill-opacity="0.85" transform="translate(13.8,125.4) rotate(83)"/>
<path d="M0,3.13 C2.05,0.63 2.05,-1.72 0,-1.72 C-2.05,-1.72 -2.05,0.63 0,3.13Z" fill="url(#cg)" transform="translate(13.8,125.4) rotate(83)"/>
<path d="M0,3.07 C2.03,0.61 2.03,-1.69 0,-1.69 C-2.03,-1.69 -2.03,0.61 0,3.07Z" fill="#918a80" fill-opacity="0.85" transform="translate(13.8,132.5) rotate(78)"/>
<path d="M0,3.07 C2.03,0.61 2.03,-1.69 0,-1.69 C-2.03,-1.69 -2.03,0.61 0,3.07Z" fill="url(#cg)" transform="translate(13.8,132.5) rotate(78)"/>
<path d="M0,3.09 C2.04,0.62 2.04,-1.70 0,-1.70 C-2.04,-1.70 -2.04,0.62 0,3.09Z" fill="#927f90" fill-opacity="0.85" transform="translate(21.6,48.0) rotate(-188)"/>
<path d="M0,3.09 C2.04,0.62 2.04,-1.70 0,-1.70 C-2.04,-1.70 -2.04,0.62 0,3.09Z" fill="url(#cg)" transform="translate(21.6,48.0) rotate(-188)"/>
<path d="M0,3.16 C2.06,0.63 2.06,-1.74 0,-1.74 C-2.06,-1.74 -2.06,0.63 0,3.16Z" fill="#967690" fill-opacity="0.85" transform="translate(21.6,55.1) rotate(-193)"/>
<path d="M0,3.16 C2.06,0.63 2.06,-1.74 0,-1.74 C-2.06,-1.74 -2.06,0.63 0,3.16Z" fill="url(#cg)" transform="translate(21.6,55.1) rotate(-193)"/>
<path d="M0,3.26 C2.09,0.65 2.09,-1.79 0,-1.79 C-2.09,-1.79 -2.09,0.65 0,3.26Z" fill="#9b6b8e" fill-opacity="0.85" transform="translate(21.6,62.1) rotate(-199)"/>
<path d="M0,3.26 C2.09,0.65 2.09,-1.79 0,-1.79 C-2.09,-1.79 -2.09,0.65 0,3.26Z" fill="url(#cg)" transform="translate(21.6,62.1) rotate(-199)"/>
<path d="M0,3.37 C2.12,0.67 2.12,-1.85 0,-1.85 C-2.12,-1.85 -2.12,0.67 0,3.37Z" fill="#a15e87" fill-opacity="0.85" transform="translate(21.6,69.1) rotate(-206)"/>
<path d="M0,3.37 C2.12,0.67 2.12,-1.85 0,-1.85 C-2.12,-1.85 -2.12,0.67 0,3.37Z" fill="url(#cg)" transform="translate(21.6,69.1) rotate(-206)"/>
<path d="M0,3.48 C2.16,0.70 2.16,-1.92 0,-1.92 C-2.16,-1.92 -2.16,0.70 0,3.48Z" fill="#a75179" fill-opacity="0.85" transform="translate(21.6,76.2) rotate(-215)"/>
<path d="M0,3.48 C2.16,0.70 2.16,-1.92 0,-1.92 C-2.16,-1.92 -2.16,0.70 0,3.48Z" fill="url(#cg)" transform="translate(21.6,76.2) rotate(-215)"/>
<path d="M0,3.57 C2.19,0.71 2.19,-1.97 0,-1.97 C-2.19,-1.97 -2.19,0.71 0,3.57Z" fill="#a34561" fill-opacity="0.85" transform="translate(21.6,83.2) rotate(-225)"/>
<path d="M0,3.57 C2.19,0.71 2.19,-1.97 0,-1.97 C-2.19,-1.97 -2.19,0.71 0,3.57Z" fill="url(#cg)" transform="translate(21.6,83.2) rotate(-225)"/>
<path d="M0,3.62 C2.20,0.72 2.20,-1.99 0,-1.99 C-2.20,-1.99 -2.20,0.72 0,3.62Z" fill="#99424a" fill-opacity="0.85" transform="translate(21.6,90.2) rotate(-236)"/>
<path d="M0,3.62 C2.20,0.72 2.20,-1.99 0,-1.99 C-2.20,-1.99 -2.20,0.72 0,3.62Z" fill="url(#cg)" transform="translate(21.6,90.2) rotate(-236)"/>
<path d="M0,3.62 C2.20,0.72 2.20,-1.99 0,-1.99 C-2.20,-1.99 -2.20,0.72 0,3.62Z" fill="#96483c" fill-opacity="0.85" transform="translate(21.6,97.3) rotate(113)"/>
<path d="M0,3.62 C2.20,0.72 2.20,-1.99 0,-1.99 C-2.20,-1.99 -2.20,0.72 0,3.62Z" fill="url(#cg)" transform="translate(21.6,97.3) rotate(113)"/>
<path d="M0,3.56 C2.18,0.71 2.18,-1.96 0,-1.96 C-2.18,-1.96 -2.18,0.71 0,3.56Z" fill="#9c5c42" fill-opacity="0.85" transform="translate(21.6,104.3) rotate(102)"/>
<path d="M0,3.56 C2.18,0.71 2.18,-1.96 0,-1.96 C-2.18,-1.96 -2.18,0.71 0,3.56Z" fill="url(#cg)" transform="translate(21.6,104.3) rotate(102)"/>
<path d="M0,3.46 C2.15,0.69 2.15,-1.90 0,-1.90 C-2.15,-1.90 -2.15,0.69 0,3.46Z" fill="#a67553" fill-opacity="0.85" transform="translate(21.6,111.4) rotate(93)"/>
<path d="M0,3.46 C2.15,0.69 2.15,-1.90 0,-1.90 C-2.15,-1.90 -2.15,0.69 0,3.46Z" fill="url(#cg)" transform="translate(21.6,111.4) rotate(93)"/>
<path d="M0,3.35 C2.12,0.67 2.12,-1.84 0,-1.84 C-2.12,-1.84 -2.12,0.67 0,3.35Z" fill="#a08161" fill-opacity="0.85" transform="translate(21.6,118.4) rotate(84)"/>
<path d="M0,3.35 C2.12,0.67 2.12,-1.84 0,-1.84 C-2.12,-1.84 -2.12,0.67 0,3.35Z" fill="url(#cg)" transform="translate(21.6,118.4) rotate(84)"/>
<path d="M0,3.24 C2.08,0.65 2.08,-1.78 0,-1.78 C-2.08,-1.78 -2.08,0.65 0,3.24Z" fill="#9a886e" fill-opacity="0.85" transform="translate(21.6,125.4) rotate(78)"/>
<path d="M0,3.24 C2.08,0.65 2.08,-1.78 0,-1.78 C-2.08,-1.78 -2.08,0.65 0,3.24Z" fill="url(#cg)" transform="translate(21.6,125.4) rotate(78)"/>
<path d="M0,3.14 C2.05,0.63 2.05,-1.73 0,-1.73 C-2.05,-1.73 -2.05,0.63 0,3.14Z" fill="#958b78" fill-opacity="0.85" transform="translate(21.6,132.5) rotate(72)"/>
<path d="M0,3.14 C2.05,0.63 2.05,-1.73 0,-1.73 C-2.05,-1.73 -2.05,0.63 0,3.14Z" fill="url(#cg)" transform="translate(21.6,132.5) rotate(72)"/>
<path d="M0,3.15 C2.05,0.63 2.05,-1.73 0,-1.73 C-2.05,-1.73 -2.05,0.63 0,3.15Z" fill="#927893" fill-opacity="0.85" transform="translate(29.4,48.0) rotate(-182)"/>
<path d="M0,3.15 C2.05,0.63 2.05,-1.73 0,-1.73 C-2.05,-1.73 -2.05,0.63 0,3.15Z" fill="url(#cg)" transform="translate(29.4,48.0) rotate(-182)"/>
<path d="M0,3.26 C2.09,0.65 2.09,-1.79 0,-1.79 C-2.09,-1.79 -2.09,0.65 0,3.26Z" fill="#996b97" fill-opacity="0.85" transform="translate(29.4,55.1) rotate(-186)"/>
<path d="M0,3.26 C2.09,0.65 2.09,-1.79 0,-1.79 C-2.09,-1.79 -2.09,0.65 0,3.26Z" fill="url(#cg)" transform="translate(29.4,55.1) rotate(-186)"/>
<path d="M0,3.41 C2.14,0.68 2.14,-1.88 0,-1.88 C-2.14,-1.88 -2.14,0.68 0,3.41Z" fill="#a35998" fill-opacity="0.85" transform="translate(29.4,62.1) rotate(-192)"/>
<path d="M0,3.41 C2.14,0.68 2.14,-1.88 0,-1.88 C-2.14,-1.88 -2.14,0.68 0,3.41Z" fill="url(#cg)" transform="translate(29.4,62.1) rotate(-192)"/>
<path d="M0,3.58 C2.19,0.72 2.19,-1.97 0,-1.97 C-2.19,-1.97 -2.19,0.72 0,3.58Z" fill="#ac4590" fill-opacity="0.85" transform="translate(29.4,69.1) rotate(-199)"/>
<path d="M0,3.58 C2.19,0.72 2.19,-1.97 0,-1.97 C-2.19,-1.97 -2.19,0.72 0,3.58Z" fill="url(#cg)" transform="translate(29.4,69.1) rotate(-199)"/>
<path d="M0,3.76 C2.24,0.75 2.24,-2.07 0,-2.07 C-2.24,-2.07 -2.24,0.75 0,3.76Z" fill="#a62d72" fill-opacity="0.85" transform="translate(29.4,76.2) rotate(-209)"/>
<path d="M0,3.76 C2.24,0.75 2.24,-2.07 0,-2.07 C-2.24,-2.07 -2.24,0.75 0,3.76Z" fill="url(#cg)" transform="translate(29.4,76.2) rotate(-209)"/>
<path d="M0,3.89 C2.29,0.78 2.29,-2.14 0,-2.14 C-2.29,-2.14 -2.29,0.78 0,3.89Z" fill="#921a46" fill-opacity="0.85" transform="translate(29.4,83.2) rotate(-220)"/>
<path d="M0,3.89 C2.29,0.78 2.29,-2.14 0,-2.14 C-2.29,-2.14 -2.29,0.78 0,3.89Z" fill="url(#cg)" transform="translate(29.4,83.2) rotate(-220)"/>
<path d="M0,3.97 C2.31,0.79 2.31,-2.18 0,-2.18 C-2.31,-2.18 -2.31,0.79 0,3.97Z" fill="#831b27" fill-opacity="0.85" transform="translate(29.4,90.2) rotate(-234)"/>
<path d="M0,3.97 C2.31,0.79 2.31,-2.18 0,-2.18 C-2.31,-2.18 -2.31,0.79 0,3.97Z" fill="url(#cg)" transform="translate(29.4,90.2) rotate(-234)"/>
<path d="M0,3.96 C2.31,0.79 2.31,-2.18 0,-2.18 C-2.31,-2.18 -2.31,0.79 0,3.96Z" fill="#7f2513" fill-opacity="0.85" transform="translate(29.4,97.3) rotate(111)"/>
<path d="M0,3.96 C2.31,0.79 2.31,-2.18 0,-2.18 C-2.31,-2.18 -2.31,0.79 0,3.96Z" fill="url(#cg)" transform="translate(29.4,97.3) rotate(111)"/>
<path d="M0,3.87 C2.28,0.77 2.28,-2.13 0,-2.13 C-2.28,-2.13 -2.28,0.77 0,3.87Z" fill="#8a411b" fill-opacity="0.85" transform="translate(29.4,104.3) rotate(98)"/>
<path d="M0,3.87 C2.28,0.77 2.28,-2.13 0,-2.13 C-2.28,-2.13 -2.28,0.77 0,3.87Z" fill="url(#cg)" transform="translate(29.4,104.3) rotate(98)"/>
<path d="M0,3.72 C2.23,0.74 2.23,-2.05 0,-2.05 C-2.23,-2.05 -2.23,0.74 0,3.72Z" fill="#9a632e" fill-opacity="0.85" transform="translate(29.4,111.4) rotate(86)"/>
<path d="M0,3.72 C2.23,0.74 2.23,-2.05 0,-2.05 C-2.23,-2.05 -2.23,0.74 0,3.72Z" fill="url(#cg)" transform="translate(29.4,111.4) rotate(86)"/>
<path d="M0,3.55 C2.18,0.71 2.18,-1.95 0,-1.95 C-2.18,-1.95 -2.18,0.71 0,3.55Z" fill="#aa834a" fill-opacity="0.85" transform="translate(29.4,118.4) rotate(77)"/>
<path d="M0,3.55 C2.18,0.71 2.18,-1.95 0,-1.95 C-2.18,-1.95 -2.18,0.71 0,3.55Z" fill="url(#cg)" transform="translate(29.4,118.4) rotate(77)"/>
<path d="M0,3.38 C2.12,0.68 2.12,-1.86 0,-1.86 C-2.12,-1.86 -2.12,0.68 0,3.38Z" fill="#a08a5d" fill-opacity="0.85" transform="translate(29.4,125.4) rotate(70)"/>
<path d="M0,3.38 C2.12,0.68 2.12,-1.86 0,-1.86 C-2.12,-1.86 -2.12,0.68 0,3.38Z" fill="url(#cg)" transform="translate(29.4,125.4) rotate(70)"/>
<path d="M0,3.23 C2.08,0.65 2.08,-1.78 0,-1.78 C-2.08,-1.78 -2.08,0.65 0,3.23Z" fill="#988c6e" fill-opacity="0.85" transform="translate(29.4,132.5) rotate(65)"/>
<path d="M0,3.23 C2.08,0.65 2.08,-1.78 0,-1.78 C-2.08,-1.78 -2.08,0.65 0,3.23Z" fill="url(#cg)" transform="translate(29.4,132.5) rotate(65)"/>
<path d="M0,3.21 C2.07,0.64 2.07,-1.77 0,-1.77 C-2.07,-1.77 -2.07,0.64 0,3.21Z" fill="#917098" fill-opacity="0.85" transform="translate(37.2,48.0) rotate(-174)"/>
<path d="M0,3.21 C2.07,0.64 2.07,-1.77 0,-1.77 C-2.07,-1.77 -2.07,0.64 0,3.21Z" fill="url(#cg)" transform="translate(37.2,48.0) rotate(-174)"/>
<path d="M0,3.37 C2.12,0.67 2.12,-1.85 0,-1.85 C-2.12,-1.85 -2.12,0.67 0,3.37Z" fill="#975e9e" fill-opacity="0.85" transform="translate(37.2,55.1) rotate(-177)"/>
<path d="M0,3.37 C2.12,0.67 2.12,-1.85 0,-1.85 C-2.12,-1.85 -2.12,0.67 0,3.37Z" fill="url(#cg)" transform="translate(37.2,55.1) rotate(-177)"/>
<path d="M0,3.58 C2.19,0.72 2.19,-1.97 0,-1.97 C-2.19,-1.97 -2.19,0.72 0,3.58Z" fill="#a346a4" fill-opacity="0.85" transform="translate(37.2,62.1) rotate(-183)"/>
<path d="M0,3.58 C2.19,0.72 2.19,-1.97 0,-1.97 C-2.19,-1.97 -2.19,0.72 0,3.58Z" fill="url(#cg)" transform="translate(37.2,62.1) rotate(-183)"/>
<path d="M0,3.81 C2.26,0.76 2.26,-2.10 0,-2.10 C-2.26,-2.10 -2.26,0.76 0,3.81Z" fill="#b52aa5" fill-opacity="0.85" transform="translate(37.2,69.1) rotate(-190)"/>
<path d="M0,3.81 C2.26,0.76 2.26,-2.10 0,-2.10 C-2.26,-2.10 -2.26,0.76 0,3.81Z" fill="url(#cg)" transform="translate(37.2,69.1) rotate(-190)"/>
<path d="M0,4.05 C2.34,0.81 2.34,-2.23 0,-2.23 C-2.34,-2.23 -2.34,0.81 0,4.05Z" fill="#9a0c72" fill-opacity="0.85" transform="translate(37.2,76.2) rotate(-200)"/>
<path d="M0,4.05 C2.34,0.81 2.34,-2.23 0,-2.23 C-2.34,-2.23 -2.34,0.81 0,4.05Z" fill="url(#cg)" transform="translate(37.2,76.2) rotate(-200)"/>
<path d="M0,4.24 C2.39,0.85 2.39,-2.33 0,-2.33 C-2.39,-2.33 -2.39,0.85 0,4.24Z" fill="#770039" fill-opacity="0.85" transform="translate(37.2,83.2) rotate(-214)"/>
<path d="M0,4.24 C2.39,0.85 2.39,-2.33 0,-2.33 C-2.39,-2.33 -2.39,0.85 0,4.24Z" fill="url(#cg)" transform="translate(37.2,83.2) rotate(-214)"/>
<path d="M0,4.34 C2.43,0.87 2.43,-2.39 0,-2.39 C-2.43,-2.39 -2.43,0.87 0,4.34Z" fill="#570714" fill-opacity="0.85" transform="translate(37.2,90.2) rotate(-232)"/>
<path d="M0,4.34 C2.43,0.87 2.43,-2.39 0,-2.39 C-2.43,-2.39 -2.43,0.87 0,4.34Z" fill="url(#cg)" transform="translate(37.2,90.2) rotate(-232)"/>
<path d="M0,4.33 C2.42,0.87 2.42,-2.38 0,-2.38 C-2.42,-2.38 -2.42,0.87 0,4.33Z" fill="#4f1100" fill-opacity="0.85" transform="translate(37.2,97.3) rotate(108)"/>
<path d="M0,4.33 C2.42,0.87 2.42,-2.38 0,-2.38 C-2.42,-2.38 -2.42,0.87 0,4.33Z" fill="url(#cg)" transform="translate(37.2,97.3) rotate(108)"/>
<path d="M0,4.20 C2.38,0.84 2.38,-2.31 0,-2.31 C-2.38,-2.31 -2.38,0.84 0,4.20Z" fill="#692e00" fill-opacity="0.85" transform="translate(37.2,104.3) rotate(90)"/>
<path d="M0,4.20 C2.38,0.84 2.38,-2.31 0,-2.31 C-2.38,-2.31 -2.38,0.84 0,4.20Z" fill="url(#cg)" transform="translate(37.2,104.3) rotate(90)"/>
<path d="M0,4.00 C2.32,0.80 2.32,-2.20 0,-2.20 C-2.32,-2.20 -2.32,0.80 0,4.00Z" fill="#8c5a0f" fill-opacity="0.85" transform="translate(37.2,111.4) rotate(77)"/>
<path d="M0,4.00 C2.32,0.80 2.32,-2.20 0,-2.20 C-2.32,-2.20 -2.32,0.80 0,4.00Z" fill="url(#cg)" transform="translate(37.2,111.4) rotate(77)"/>
<path d="M0,3.76 C2.24,0.75 2.24,-2.07 0,-2.07 C-2.24,-2.07 -2.24,0.75 0,3.76Z" fill="#a37e2c" fill-opacity="0.85" transform="translate(37.2,118.4) rotate(68)"/>
<path d="M0,3.76 C2.24,0.75 2.24,-2.07 0,-2.07 C-2.24,-2.07 -2.24,0.75 0,3.76Z" fill="url(#cg)" transform="translate(37.2,118.4) rotate(68)"/>
<path d="M0,3.53 C2.17,0.71 2.17,-1.94 0,-1.94 C-2.17,-1.94 -2.17,0.71 0,3.53Z" fill="#a58f4c" fill-opacity="0.85" transform="translate(37.2,125.4) rotate(61)"/>
<path d="M0,3.53 C2.17,0.71 2.17,-1.94 0,-1.94 C-2.17,-1.94 -2.17,0.71 0,3.53Z" fill="url(#cg)" transform="translate(37.2,125.4) rotate(61)"/>
<path d="M0,3.33 C2.11,0.67 2.11,-1.83 0,-1.83 C-2.11,-1.83 -2.11,0.67 0,3.33Z" fill="#9b9062" fill-opacity="0.85" transform="translate(37.2,132.5) rotate(57)"/>
<path d="M0,3.33 C2.11,0.67 2.11,-1.83 0,-1.83 C-2.11,-1.83 -2.11,0.67 0,3.33Z" fill="url(#cg)" transform="translate(37.2,132.5) rotate(57)"/>
<path d="M0,3.27 C2.09,0.65 2.09,-1.80 0,-1.80 C-2.09,-1.80 -2.09,0.65 0,3.27Z" fill="#8d6a9c" fill-opacity="0.85" transform="translate(45.1,48.0) rotate(-165)"/>
<path d="M0,3.27 C2.09,0.65 2.09,-1.80 0,-1.80 C-2.09,-1.80 -2.09,0.65 0,3.27Z" fill="url(#cg)" transform="translate(45.1,48.0) rotate(-165)"/>
<path d="M0,3.47 C2.15,0.69 2.15,-1.91 0,-1.91 C-2.15,-1.91 -2.15,0.69 0,3.47Z" fill="#9054a6" fill-opacity="0.85" transform="translate(45.1,55.1) rotate(-167)"/>
<path d="M0,3.47 C2.15,0.69 2.15,-1.91 0,-1.91 C-2.15,-1.91 -2.15,0.69 0,3.47Z" fill="url(#cg)" transform="translate(45.1,55.1) rotate(-167)"/>
<path d="M0,3.72 C2.23,0.74 2.23,-2.05 0,-2.05 C-2.23,-2.05 -2.23,0.74 0,3.72Z" fill="#9635b3" fill-opacity="0.85" transform="translate(45.1,62.1) rotate(-171)"/>
<path d="M0,3.72 C2.23,0.74 2.23,-2.05 0,-2.05 C-2.23,-2.05 -2.23,0.74 0,3.72Z" fill="url(#cg)" transform="translate(45.1,62.1) rotate(-171)"/>
<path d="M0,4.02 C2.32,0.80 2.32,-2.21 0,-2.21 C-2.32,-2.21 -2.32,0.80 0,4.02Z" fill="#9611aa" fill-opacity="0.85" transform="translate(45.1,69.1) rotate(-177)"/>
<path d="M0,4.02 C2.32,0.80 2.32,-2.21 0,-2.21 C-2.32,-2.21 -2.32,0.80 0,4.02Z" fill="url(#cg)" transform="translate(45.1,69.1) rotate(-177)"/>
<path d="M0,4.31 C2.42,0.86 2.42,-2.37 0,-2.37 C-2.42,-2.37 -2.42,0.86 0,4.31Z" fill="#83007e" fill-opacity="0.85" transform="translate(45.1,76.2) rotate(-185)"/>
<path d="M0,4.31 C2.42,0.86 2.42,-2.37 0,-2.37 C-2.42,-2.37 -2.42,0.86 0,4.31Z" fill="url(#cg)" transform="translate(45.1,76.2) rotate(-185)"/>
<path d="M0,4.54 C2.49,0.91 2.49,-2.50 0,-2.50 C-2.49,-2.50 -2.49,0.91 0,4.54Z" fill="#53003a" fill-opacity="0.85" transform="translate(45.1,83.2) rotate(-201)"/>
<path d="M0,4.54 C2.49,0.91 2.49,-2.50 0,-2.50 C-2.49,-2.50 -2.49,0.91 0,4.54Z" fill="url(#cg)" transform="translate(45.1,83.2) rotate(-201)"/>
<path d="M0,4.67 C2.53,0.93 2.53,-2.57 0,-2.57 C-2.53,-2.57 -2.53,0.93 0,4.67Z" fill="#130105" fill-opacity="0.85" transform="translate(45.1,90.2) rotate(-227)"/>
<path d="M0,4.67 C2.53,0.93 2.53,-2.57 0,-2.57 C-2.53,-2.57 -2.53,0.93 0,4.67Z" fill="url(#cg)" transform="translate(45.1,90.2) rotate(-227)"/>
<path d="M0,4.65 C2.52,0.93 2.52,-2.56 0,-2.56 C-2.52,-2.56 -2.52,0.93 0,4.65Z" fill="#0e0400" fill-opacity="0.85" transform="translate(45.1,97.3) rotate(100)"/>
<path d="M0,4.65 C2.52,0.93 2.52,-2.56 0,-2.56 C-2.52,-2.56 -2.52,0.93 0,4.65Z" fill="url(#cg)" transform="translate(45.1,97.3) rotate(100)"/>
<path d="M0,4.50 C2.47,0.90 2.47,-2.47 0,-2.47 C-2.47,-2.47 -2.47,0.90 0,4.50Z" fill="#412800" fill-opacity="0.85" transform="translate(45.1,104.3) rotate(76)"/>
<path d="M0,4.50 C2.47,0.90 2.47,-2.47 0,-2.47 C-2.47,-2.47 -2.47,0.90 0,4.50Z" fill="url(#cg)" transform="translate(45.1,104.3) rotate(76)"/>
<path d="M0,4.25 C2.40,0.85 2.40,-2.34 0,-2.34 C-2.40,-2.34 -2.40,0.85 0,4.25Z" fill="#715400" fill-opacity="0.85" transform="translate(45.1,111.4) rotate(63)"/>
<path d="M0,4.25 C2.40,0.85 2.40,-2.34 0,-2.34 C-2.40,-2.34 -2.40,0.85 0,4.25Z" fill="url(#cg)" transform="translate(45.1,111.4) rotate(63)"/>
<path d="M0,3.95 C2.30,0.79 2.30,-2.17 0,-2.17 C-2.30,-2.17 -2.30,0.79 0,3.95Z" fill="#957f16" fill-opacity="0.85" transform="translate(45.1,118.4) rotate(55)"/>
<path d="M0,3.95 C2.30,0.79 2.30,-2.17 0,-2.17 C-2.30,-2.17 -2.30,0.79 0,3.95Z" fill="url(#cg)" transform="translate(45.1,118.4) rotate(55)"/>
<path d="M0,3.66 C2.21,0.73 2.21,-2.01 0,-2.01 C-2.21,-2.01 -2.21,0.73 0,3.66Z" fill="#a7993c" fill-opacity="0.85" transform="translate(45.1,125.4) rotate(50)"/>
<path d="M0,3.66 C2.21,0.73 2.21,-2.01 0,-2.01 C-2.21,-2.01 -2.21,0.73 0,3.66Z" fill="url(#cg)" transform="translate(45.1,125.4) rotate(50)"/>
<path d="M0,3.42 C2.14,0.68 2.14,-1.88 0,-1.88 C-2.14,-1.88 -2.14,0.68 0,3.42Z" fill="#9c9659" fill-opacity="0.85" transform="translate(45.1,132.5) rotate(47)"/>
<path d="M0,3.42 C2.14,0.68 2.14,-1.88 0,-1.88 C-2.14,-1.88 -2.14,0.68 0,3.42Z" fill="url(#cg)" transform="translate(45.1,132.5) rotate(47)"/>
<path d="M0,3.30 C2.10,0.66 2.10,-1.82 0,-1.82 C-2.10,-1.82 -2.10,0.66 0,3.30Z" fill="#88689e" fill-opacity="0.85" transform="translate(52.9,48.0) rotate(-155)"/>
<path d="M0,3.30 C2.10,0.66 2.10,-1.82 0,-1.82 C-2.10,-1.82 -2.10,0.66 0,3.30Z" fill="url(#cg)" transform="translate(52.9,48.0) rotate(-155)"/>
<path d="M0,3.52 C2.17,0.70 2.17,-1.94 0,-1.94 C-2.17,-1.94 -2.17,0.70 0,3.52Z" fill="#8650a9" fill-opacity="0.85" transform="translate(52.9,55.1) rotate(-156)"/>
<path d="M0,3.52 C2.17,0.70 2.17,-1.94 0,-1.94 C-2.17,-1.94 -2.17,0.70 0,3.52Z" fill="url(#cg)" transform="translate(52.9,55.1) rotate(-156)"/>
<path d="M0,3.81 C2.26,0.76 2.26,-2.09 0,-2.09 C-2.26,-2.09 -2.26,0.76 0,3.81Z" fill="#8531b8" fill-opacity="0.85" transform="translate(52.9,62.1) rotate(-158)"/>
<path d="M0,3.81 C2.26,0.76 2.26,-2.09 0,-2.09 C-2.26,-2.09 -2.26,0.76 0,3.81Z" fill="url(#cg)" transform="translate(52.9,62.1) rotate(-158)"/>
<path d="M0,4.13 C2.36,0.83 2.36,-2.27 0,-2.27 C-2.36,-2.27 -2.36,0.83 0,4.13Z" fill="#740aaf" fill-opacity="0.85" transform="translate(52.9,69.1) rotate(-160)"/>
<path d="M0,4.13 C2.36,0.83 2.36,-2.27 0,-2.27 C-2.36,-2.27 -2.36,0.83 0,4.13Z" fill="url(#cg)" transform="translate(52.9,69.1) rotate(-160)"/>
<path d="M0,4.46 C2.46,0.89 2.46,-2.45 0,-2.45 C-2.46,-2.45 -2.46,0.89 0,4.46Z" fill="#56027c" fill-opacity="0.85" transform="translate(52.9,76.2) rotate(-164)"/>
<path d="M0,4.46 C2.46,0.89 2.46,-2.45 0,-2.45 C-2.46,-2.45 -2.46,0.89 0,4.46Z" fill="url(#cg)" transform="translate(52.9,76.2) rotate(-164)"/>
<path d="M0,4.72 C2.54,0.94 2.54,-2.60 0,-2.60 C-2.54,-2.60 -2.54,0.94 0,4.72Z" fill="#30003c" fill-opacity="0.85" transform="translate(52.9,83.2) rotate(-173)"/>
<path d="M0,4.72 C2.54,0.94 2.54,-2.60 0,-2.60 C-2.54,-2.60 -2.54,0.94 0,4.72Z" fill="url(#cg)" transform="translate(52.9,83.2) rotate(-173)"/>
<path d="M0,4.86 C2.59,0.97 2.59,-2.67 0,-2.67 C-2.59,-2.67 -2.59,0.97 0,4.86Z" fill="#030002" fill-opacity="0.85" transform="translate(52.9,90.2) rotate(-206)"/>
<path d="M0,4.86 C2.59,0.97 2.59,-2.67 0,-2.67 C-2.59,-2.67 -2.59,0.97 0,4.86Z" fill="url(#cg)" transform="translate(52.9,90.2) rotate(-206)"/>
<path d="M0,4.84 C2.58,0.97 2.58,-2.66 0,-2.66 C-2.58,-2.66 -2.58,0.97 0,4.84Z" fill="#030200" fill-opacity="0.85" transform="translate(52.9,97.3) rotate(74)"/>
<path d="M0,4.84 C2.58,0.97 2.58,-2.66 0,-2.66 C-2.58,-2.66 -2.58,0.97 0,4.84Z" fill="url(#cg)" transform="translate(52.9,97.3) rotate(74)"/>
<path d="M0,4.67 C2.53,0.93 2.53,-2.57 0,-2.57 C-2.53,-2.57 -2.53,0.93 0,4.67Z" fill="#312b00" fill-opacity="0.85" transform="translate(52.9,104.3) rotate(50)"/>
<path d="M0,4.67 C2.53,0.93 2.53,-2.57 0,-2.57 C-2.53,-2.57 -2.53,0.93 0,4.67Z" fill="url(#cg)" transform="translate(52.9,104.3) rotate(50)"/>
<path d="M0,4.39 C2.44,0.88 2.44,-2.42 0,-2.42 C-2.44,-2.42 -2.44,0.88 0,4.39Z" fill="#5b5700" fill-opacity="0.85" transform="translate(52.9,111.4) rotate(43)"/>
<path d="M0,4.39 C2.44,0.88 2.44,-2.42 0,-2.42 C-2.44,-2.42 -2.44,0.88 0,4.39Z" fill="url(#cg)" transform="translate(52.9,111.4) rotate(43)"/>
<path d="M0,4.06 C2.34,0.81 2.34,-2.23 0,-2.23 C-2.34,-2.23 -2.34,0.81 0,4.06Z" fill="#89890b" fill-opacity="0.85" transform="translate(52.9,118.4) rotate(39)"/>
<path d="M0,4.06 C2.34,0.81 2.34,-2.23 0,-2.23 C-2.34,-2.23 -2.34,0.81 0,4.06Z" fill="url(#cg)" transform="translate(52.9,118.4) rotate(39)"/>
<path d="M0,3.74 C2.24,0.75 2.24,-2.06 0,-2.06 C-2.24,-2.06 -2.24,0.75 0,3.74Z" fill="#a4a733" fill-opacity="0.85" transform="translate(52.9,125.4) rotate(37)"/>
<path d="M0,3.74 C2.24,0.75 2.24,-2.06 0,-2.06 C-2.24,-2.06 -2.24,0.75 0,3.74Z" fill="url(#cg)" transform="translate(52.9,125.4) rotate(37)"/>
<path d="M0,3.47 C2.15,0.69 2.15,-1.91 0,-1.91 C-2.15,-1.91 -2.15,0.69 0,3.47Z" fill="#9b9e53" fill-opacity="0.85" transform="translate(52.9,132.5) rotate(36)"/>
<path d="M0,3.47 C2.15,0.69 2.15,-1.91 0,-1.91 C-2.15,-1.91 -2.15,0.69 0,3.47Z" fill="url(#cg)" transform="translate(52.9,132.5) rotate(36)"/>
<path d="M0,3.31 C2.10,0.66 2.10,-1.82 0,-1.82 C-2.10,-1.82 -2.10,0.66 0,3.31Z" fill="#84699e" fill-opacity="0.85" transform="translate(60.8,48.0) rotate(-145)"/>
<path d="M0,3.31 C2.10,0.66 2.10,-1.82 0,-1.82 C-2.10,-1.82 -2.10,0.66 0,3.31Z" fill="url(#cg)" transform="translate(60.8,48.0) rotate(-145)"/>
<path d="M0,3.52 C2.17,0.70 2.17,-1.94 0,-1.94 C-2.17,-1.94 -2.17,0.70 0,3.52Z" fill="#7f53a9" fill-opacity="0.85" transform="translate(60.8,55.1) rotate(-144)"/>
<path d="M0,3.52 C2.17,0.70 2.17,-1.94 0,-1.94 C-2.17,-1.94 -2.17,0.70 0,3.52Z" fill="url(#cg)" transform="translate(60.8,55.1) rotate(-144)"/>
<path d="M0,3.81 C2.26,0.76 2.26,-2.09 0,-2.09 C-2.26,-2.09 -2.26,0.76 0,3.81Z" fill="#7735b8" fill-opacity="0.85" transform="translate(60.8,62.1) rotate(-143)"/>
<path d="M0,3.81 C2.26,0.76 2.26,-2.09 0,-2.09 C-2.26,-2.09 -2.26,0.76 0,3.81Z" fill="url(#cg)" transform="translate(60.8,62.1) rotate(-143)"/>
<path d="M0,4.14 C2.36,0.83 2.36,-2.28 0,-2.28 C-2.36,-2.28 -2.36,0.83 0,4.14Z" fill="#5f11b0" fill-opacity="0.85" transform="translate(60.8,69.1) rotate(-141)"/>
<path d="M0,4.14 C2.36,0.83 2.36,-2.28 0,-2.28 C-2.36,-2.28 -2.36,0.83 0,4.14Z" fill="url(#cg)" transform="translate(60.8,69.1) rotate(-141)"/>
<path d="M0,4.46 C2.46,0.89 2.46,-2.45 0,-2.45 C-2.46,-2.45 -2.46,0.89 0,4.46Z" fill="#410a7e" fill-opacity="0.85" transform="translate(60.8,76.2) rotate(-137)"/>
<path d="M0,4.46 C2.46,0.89 2.46,-2.45 0,-2.45 C-2.46,-2.45 -2.46,0.89 0,4.46Z" fill="url(#cg)" transform="translate(60.8,76.2) rotate(-137)"/>
<path d="M0,4.73 C2.55,0.95 2.55,-2.60 0,-2.60 C-2.55,-2.60 -2.55,0.95 0,4.73Z" fill="#1f0640" fill-opacity="0.85" transform="translate(60.8,83.2) rotate(-129)"/>
<path d="M0,4.73 C2.55,0.95 2.55,-2.60 0,-2.60 C-2.55,-2.60 -2.55,0.95 0,4.73Z" fill="url(#cg)" transform="translate(60.8,83.2) rotate(-129)"/>
<path d="M0,4.86 C2.59,0.97 2.59,-2.68 0,-2.68 C-2.59,-2.68 -2.59,0.97 0,4.86Z" fill="#020104" fill-opacity="0.85" transform="translate(60.8,90.2) rotate(-96)"/>
<path d="M0,4.86 C2.59,0.97 2.59,-2.68 0,-2.68 C-2.59,-2.68 -2.59,0.97 0,4.86Z" fill="url(#cg)" transform="translate(60.8,90.2) rotate(-96)"/>
<path d="M0,4.85 C2.58,0.97 2.58,-2.67 0,-2.67 C-2.58,-2.67 -2.58,0.97 0,4.85Z" fill="#010300" fill-opacity="0.85" transform="translate(60.8,97.3) rotate(-11)"/>
<path d="M0,4.85 C2.58,0.97 2.58,-2.67 0,-2.67 C-2.58,-2.67 -2.58,0.97 0,4.85Z" fill="url(#cg)" transform="translate(60.8,97.3) rotate(-11)"/>
<path d="M0,4.68 C2.53,0.94 2.53,-2.57 0,-2.57 C-2.53,-2.57 -2.53,0.94 0,4.68Z" fill="#253300" fill-opacity="0.85" transform="translate(60.8,104.3) rotate(12)"/>
<path d="M0,4.68 C2.53,0.94 2.53,-2.57 0,-2.57 C-2.53,-2.57 -2.53,0.94 0,4.68Z" fill="url(#cg)" transform="translate(60.8,104.3) rotate(12)"/>
<path d="M0,4.40 C2.44,0.88 2.44,-2.42 0,-2.42 C-2.44,-2.42 -2.44,0.88 0,4.40Z" fill="#4e6200" fill-opacity="0.85" transform="translate(60.8,111.4) rotate(18)"/>
<path d="M0,4.40 C2.44,0.88 2.44,-2.42 0,-2.42 C-2.44,-2.42 -2.44,0.88 0,4.40Z" fill="url(#cg)" transform="translate(60.8,111.4) rotate(18)"/>
<path d="M0,4.06 C2.34,0.81 2.34,-2.23 0,-2.23 C-2.34,-2.23 -2.34,0.81 0,4.06Z" fill="#7b940b" fill-opacity="0.85" transform="translate(60.8,118.4) rotate(22)"/>
<path d="M0,4.06 C2.34,0.81 2.34,-2.23 0,-2.23 C-2.34,-2.23 -2.34,0.81 0,4.06Z" fill="url(#cg)" transform="translate(60.8,118.4) rotate(22)"/>
<path d="M0,3.74 C2.24,0.75 2.24,-2.06 0,-2.06 C-2.24,-2.06 -2.24,0.75 0,3.74Z" fill="#99ad33" fill-opacity="0.85" transform="translate(60.8,125.4) rotate(23)"/>
<path d="M0,3.74 C2.24,0.75 2.24,-2.06 0,-2.06 C-2.24,-2.06 -2.24,0.75 0,3.74Z" fill="url(#cg)" transform="translate(60.8,125.4) rotate(23)"/>
<path d="M0,3.47 C2.15,0.69 2.15,-1.91 0,-1.91 C-2.15,-1.91 -2.15,0.69 0,3.47Z" fill="#96a153" fill-opacity="0.85" transform="translate(60.8,132.5) rotate(25)"/>
<path d="M0,3.47 C2.15,0.69 2.15,-1.91 0,-1.91 C-2.15,-1.91 -2.15,0.69 0,3.47Z" fill="url(#cg)" transform="translate(60.8,132.5) rotate(25)"/>
<path d="M0,3.27 C2.09,0.65 2.09,-1.80 0,-1.80 C-2.09,-1.80 -2.09,0.65 0,3.27Z" fill="#836e9c" fill-opacity="0.85" transform="translate(68.6,48.0) rotate(-136)"/>
<path d="M0,3.27 C2.09,0.65 2.09,-1.80 0,-1.80 C-2.09,-1.80 -2.09,0.65 0,3.27Z" fill="url(#cg)" transform="translate(68.6,48.0) rotate(-136)"/>
<path d="M0,3.47 C2.15,0.69 2.15,-1.91 0,-1.91 C-2.15,-1.91 -2.15,0.69 0,3.47Z" fill="#7c5aa6" fill-opacity="0.85" transform="translate(68.6,55.1) rotate(-133)"/>
<path d="M0,3.47 C2.15,0.69 2.15,-1.91 0,-1.91 C-2.15,-1.91 -2.15,0.69 0,3.47Z" fill="url(#cg)" transform="translate(68.6,55.1) rotate(-133)"/>
<path d="M0,3.73 C2.23,0.75 2.23,-2.05 0,-2.05 C-2.23,-2.05 -2.23,0.75 0,3.73Z" fill="#7240b4" fill-opacity="0.85" transform="translate(68.6,62.1) rotate(-129)"/>
<path d="M0,3.73 C2.23,0.75 2.23,-2.05 0,-2.05 C-2.23,-2.05 -2.23,0.75 0,3.73Z" fill="url(#cg)" transform="translate(68.6,62.1) rotate(-129)"/>
<path d="M0,4.02 C2.33,0.80 2.33,-2.21 0,-2.21 C-2.33,-2.21 -2.33,0.80 0,4.02Z" fill="#5b21b4" fill-opacity="0.85" transform="translate(68.6,69.1) rotate(-124)"/>
<path d="M0,4.02 C2.33,0.80 2.33,-2.21 0,-2.21 C-2.33,-2.21 -2.33,0.80 0,4.02Z" fill="url(#cg)" transform="translate(68.6,69.1) rotate(-124)"/>
<path d="M0,4.32 C2.42,0.86 2.42,-2.37 0,-2.37 C-2.42,-2.37 -2.42,0.86 0,4.32Z" fill="#3c108f" fill-opacity="0.85" transform="translate(68.6,76.2) rotate(-115)"/>
<path d="M0,4.32 C2.42,0.86 2.42,-2.37 0,-2.37 C-2.42,-2.37 -2.42,0.86 0,4.32Z" fill="url(#cg)" transform="translate(68.6,76.2) rotate(-115)"/>
<path d="M0,4.55 C2.49,0.91 2.49,-2.50 0,-2.50 C-2.49,-2.50 -2.49,0.91 0,4.55Z" fill="#271359" fill-opacity="0.85" transform="translate(68.6,83.2) rotate(-100)"/>
<path d="M0,4.55 C2.49,0.91 2.49,-2.50 0,-2.50 C-2.49,-2.50 -2.49,0.91 0,4.55Z" fill="url(#cg)" transform="translate(68.6,83.2) rotate(-100)"/>
<path d="M0,4.68 C2.53,0.94 2.53,-2.57 0,-2.57 C-2.53,-2.57 -2.53,0.94 0,4.68Z" fill="#0e0e13" fill-opacity="0.85" transform="translate(68.6,90.2) rotate(-73)"/>
<path d="M0,4.68 C2.53,0.94 2.53,-2.57 0,-2.57 C-2.53,-2.57 -2.53,0.94 0,4.68Z" fill="url(#cg)" transform="translate(68.6,90.2) rotate(-73)"/>
<path d="M0,4.66 C2.53,0.93 2.53,-2.56 0,-2.56 C-2.53,-2.56 -2.53,0.93 0,4.66Z" fill="#090e06" fill-opacity="0.85" transform="translate(68.6,97.3) rotate(-40)"/>
<path d="M0,4.66 C2.53,0.93 2.53,-2.56 0,-2.56 C-2.53,-2.56 -2.53,0.93 0,4.66Z" fill="url(#cg)" transform="translate(68.6,97.3) rotate(-40)"/>
<path d="M0,4.51 C2.48,0.90 2.48,-2.48 0,-2.48 C-2.48,-2.48 -2.48,0.90 0,4.51Z" fill="#274504" fill-opacity="0.85" transform="translate(68.6,104.3) rotate(-16)"/>
<path d="M0,4.51 C2.48,0.90 2.48,-2.48 0,-2.48 C-2.48,-2.48 -2.48,0.90 0,4.51Z" fill="url(#cg)" transform="translate(68.6,104.3) rotate(-16)"/>
<path d="M0,4.26 C2.40,0.85 2.40,-2.34 0,-2.34 C-2.40,-2.34 -2.40,0.85 0,4.26Z" fill="#467400" fill-opacity="0.85" transform="translate(68.6,111.4) rotate(-2)"/>
<path d="M0,4.26 C2.40,0.85 2.40,-2.34 0,-2.34 C-2.40,-2.34 -2.40,0.85 0,4.26Z" fill="url(#cg)" transform="translate(68.6,111.4) rotate(-2)"/>
<path d="M0,3.96 C2.31,0.79 2.31,-2.18 0,-2.18 C-2.31,-2.18 -2.31,0.79 0,3.96Z" fill="#6f9916" fill-opacity="0.85" transform="translate(68.6,118.4) rotate(5)"/>
<path d="M0,3.96 C2.31,0.79 2.31,-2.18 0,-2.18 C-2.31,-2.18 -2.31,0.79 0,3.96Z" fill="url(#cg)" transform="translate(68.6,118.4) rotate(5)"/>
<path d="M0,3.66 C2.21,0.73 2.21,-2.02 0,-2.02 C-2.21,-2.02 -2.21,0.73 0,3.66Z" fill="#8baa3c" fill-opacity="0.85" transform="translate(68.6,125.4) rotate(10)"/>
<path d="M0,3.66 C2.21,0.73 2.21,-2.02 0,-2.02 C-2.21,-2.02 -2.21,0.73 0,3.66Z" fill="url(#cg)" transform="translate(68.6,125.4) rotate(10)"/>
<path d="M0,3.42 C2.14,0.68 2.14,-1.88 0,-1.88 C-2.14,-1.88 -2.14,0.68 0,3.42Z" fill="#8d9f58" fill-opacity="0.85" transform="translate(68.6,132.5) rotate(14)"/>
<path d="M0,3.42 C2.14,0.68 2.14,-1.88 0,-1.88 C-2.14,-1.88 -2.14,0.68 0,3.42Z" fill="url(#cg)" transform="translate(68.6,132.5) rotate(14)"/>
<path d="M0,3.22 C2.08,0.64 2.08,-1.77 0,-1.77 C-2.08,-1.77 -2.08,0.64 0,3.22Z" fill="#837499" fill-opacity="0.85" transform="translate(76.4,48.0) rotate(-127)"/>
<path d="M0,3.22 C2.08,0.64 2.08,-1.77 0,-1.77 C-2.08,-1.77 -2.08,0.64 0,3.22Z" fill="url(#cg)" transform="translate(76.4,48.0) rotate(-127)"/>
<path d="M0,3.37 C2.12,0.67 2.12,-1.86 0,-1.86 C-2.12,-1.86 -2.12,0.67 0,3.37Z" fill="#7c64a1" fill-opacity="0.85" transform="translate(76.4,55.1) rotate(-123)"/>
<path d="M0,3.37 C2.12,0.67 2.12,-1.86 0,-1.86 C-2.12,-1.86 -2.12,0.67 0,3.37Z" fill="url(#cg)" transform="translate(76.4,55.1) rotate(-123)"/>
<path d="M0,3.58 C2.19,0.72 2.19,-1.97 0,-1.97 C-2.19,-1.97 -2.19,0.72 0,3.58Z" fill="#7250ac" fill-opacity="0.85" transform="translate(76.4,62.1) rotate(-118)"/>
<path d="M0,3.58 C2.19,0.72 2.19,-1.97 0,-1.97 C-2.19,-1.97 -2.19,0.72 0,3.58Z" fill="url(#cg)" transform="translate(76.4,62.1) rotate(-118)"/>
<path d="M0,3.82 C2.26,0.76 2.26,-2.10 0,-2.10 C-2.26,-2.10 -2.26,0.76 0,3.82Z" fill="#633ab9" fill-opacity="0.85" transform="translate(76.4,69.1) rotate(-111)"/>
<path d="M0,3.82 C2.26,0.76 2.26,-2.10 0,-2.10 C-2.26,-2.10 -2.26,0.76 0,3.82Z" fill="url(#cg)" transform="translate(76.4,69.1) rotate(-111)"/>
<path d="M0,4.06 C2.34,0.81 2.34,-2.23 0,-2.23 C-2.34,-2.23 -2.34,0.81 0,4.06Z" fill="#4a29a0" fill-opacity="0.85" transform="translate(76.4,76.2) rotate(-101)"/>
<path d="M0,4.06 C2.34,0.81 2.34,-2.23 0,-2.23 C-2.34,-2.23 -2.34,0.81 0,4.06Z" fill="url(#cg)" transform="translate(76.4,76.2) rotate(-101)"/>
<path d="M0,4.25 C2.40,0.85 2.40,-2.34 0,-2.34 C-2.40,-2.34 -2.40,0.85 0,4.25Z" fill="#4b3c80" fill-opacity="0.85" transform="translate(76.4,83.2) rotate(-87)"/>
<path d="M0,4.25 C2.40,0.85 2.40,-2.34 0,-2.34 C-2.40,-2.34 -2.40,0.85 0,4.25Z" fill="url(#cg)" transform="translate(76.4,83.2) rotate(-87)"/>
<path d="M0,4.36 C2.43,0.87 2.43,-2.40 0,-2.40 C-2.43,-2.40 -2.43,0.87 0,4.36Z" fill="#4e4f61" fill-opacity="0.85" transform="translate(76.4,90.2) rotate(-68)"/>
<path d="M0,4.36 C2.43,0.87 2.43,-2.40 0,-2.40 C-2.43,-2.40 -2.43,0.87 0,4.36Z" fill="url(#cg)" transform="translate(76.4,90.2) rotate(-68)"/>
<path d="M0,4.34 C2.43,0.87 2.43,-2.39 0,-2.39 C-2.43,-2.39 -2.43,0.87 0,4.34Z" fill="#46573c" fill-opacity="0.85" transform="translate(76.4,97.3) rotate(-48)"/>
<path d="M0,4.34 C2.43,0.87 2.43,-2.39 0,-2.39 C-2.43,-2.39 -2.43,0.87 0,4.34Z" fill="url(#cg)" transform="translate(76.4,97.3) rotate(-48)"/>
<path d="M0,4.22 C2.39,0.84 2.39,-2.32 0,-2.32 C-2.39,-2.32 -2.39,0.84 0,4.22Z" fill="#457217" fill-opacity="0.85" transform="translate(76.4,104.3) rotate(-30)"/>
<path d="M0,4.22 C2.39,0.84 2.39,-2.32 0,-2.32 C-2.39,-2.32 -2.39,0.84 0,4.22Z" fill="url(#cg)" transform="translate(76.4,104.3) rotate(-30)"/>
<path d="M0,4.01 C2.32,0.80 2.32,-2.21 0,-2.21 C-2.32,-2.21 -2.32,0.80 0,4.01Z" fill="#558c17" fill-opacity="0.85" transform="translate(76.4,111.4) rotate(-17)"/>
<path d="M0,4.01 C2.32,0.80 2.32,-2.21 0,-2.21 C-2.32,-2.21 -2.32,0.80 0,4.01Z" fill="url(#cg)" transform="translate(76.4,111.4) rotate(-17)"/>
<path d="M0,3.77 C2.25,0.75 2.25,-2.07 0,-2.07 C-2.25,-2.07 -2.25,0.75 0,3.77Z" fill="#6ea32c" fill-opacity="0.85" transform="translate(76.4,118.4) rotate(-7)"/>
<path d="M0,3.77 C2.25,0.75 2.25,-2.07 0,-2.07 C-2.25,-2.07 -2.25,0.75 0,3.77Z" fill="url(#cg)" transform="translate(76.4,118.4) rotate(-7)"/>
<path d="M0,3.53 C2.17,0.71 2.17,-1.94 0,-1.94 C-2.17,-1.94 -2.17,0.71 0,3.53Z" fill="#82a44b" fill-opacity="0.85" transform="translate(76.4,125.4) rotate(-1)"/>
<path d="M0,3.53 C2.17,0.71 2.17,-1.94 0,-1.94 C-2.17,-1.94 -2.17,0.71 0,3.53Z" fill="url(#cg)" transform="translate(76.4,125.4) rotate(-1)"/>
<path d="M0,3.34 C2.11,0.67 2.11,-1.83 0,-1.83 C-2.11,-1.83 -2.11,0.67 0,3.34Z" fill="#889c62" fill-opacity="0.85" transform="translate(76.4,132.5) rotate(4)"/>
<path d="M0,3.34 C2.11,0.67 2.11,-1.83 0,-1.83 C-2.11,-1.83 -2.11,0.67 0,3.34Z" fill="url(#cg)" transform="translate(76.4,132.5) rotate(4)"/>
<path d="M0,3.15 C2.05,0.63 2.05,-1.73 0,-1.73 C-2.05,-1.73 -2.05,0.63 0,3.15Z" fill="#847b95" fill-opacity="0.85" transform="translate(84.2,48.0) rotate(-119)"/>
<path d="M0,3.15 C2.05,0.63 2.05,-1.73 0,-1.73 C-2.05,-1.73 -2.05,0.63 0,3.15Z" fill="url(#cg)" transform="translate(84.2,48.0) rotate(-119)"/>
<path d="M0,3.27 C2.09,0.65 2.09,-1.80 0,-1.80 C-2.09,-1.80 -2.09,0.65 0,3.27Z" fill="#7f709c" fill-opacity="0.85" transform="translate(84.2,55.1) rotate(-114)"/>
<path d="M0,3.27 C2.09,0.65 2.09,-1.80 0,-1.80 C-2.09,-1.80 -2.09,0.65 0,3.27Z" fill="url(#cg)" transform="translate(84.2,55.1) rotate(-114)"/>
<path d="M0,3.42 C2.14,0.68 2.14,-1.88 0,-1.88 C-2.14,-1.88 -2.14,0.68 0,3.42Z" fill="#7661a4" fill-opacity="0.85" transform="translate(84.2,62.1) rotate(-109)"/>
<path d="M0,3.42 C2.14,0.68 2.14,-1.88 0,-1.88 C-2.14,-1.88 -2.14,0.68 0,3.42Z" fill="url(#cg)" transform="translate(84.2,62.1) rotate(-109)"/>
<path d="M0,3.59 C2.19,0.72 2.19,-1.98 0,-1.98 C-2.19,-1.98 -2.19,0.72 0,3.59Z" fill="#7059ad" fill-opacity="0.85" transform="translate(84.2,69.1) rotate(-101)"/>
<path d="M0,3.59 C2.19,0.72 2.19,-1.98 0,-1.98 C-2.19,-1.98 -2.19,0.72 0,3.59Z" fill="url(#cg)" transform="translate(84.2,69.1) rotate(-101)"/>
<path d="M0,3.77 C2.25,0.75 2.25,-2.07 0,-2.07 C-2.25,-2.07 -2.25,0.75 0,3.77Z" fill="#715dac" fill-opacity="0.85" transform="translate(84.2,76.2) rotate(-92)"/>
<path d="M0,3.77 C2.25,0.75 2.25,-2.07 0,-2.07 C-2.25,-2.07 -2.25,0.75 0,3.77Z" fill="url(#cg)" transform="translate(84.2,76.2) rotate(-92)"/>
<path d="M0,3.91 C2.29,0.78 2.29,-2.15 0,-2.15 C-2.29,-2.15 -2.29,0.78 0,3.91Z" fill="#6f6699" fill-opacity="0.85" transform="translate(84.2,83.2) rotate(-80)"/>
<path d="M0,3.91 C2.29,0.78 2.29,-2.15 0,-2.15 C-2.29,-2.15 -2.29,0.78 0,3.91Z" fill="url(#cg)" transform="translate(84.2,83.2) rotate(-80)"/>
<path d="M0,3.98 C2.31,0.80 2.31,-2.19 0,-2.19 C-2.31,-2.19 -2.31,0.80 0,3.98Z" fill="#76798a" fill-opacity="0.85" transform="translate(84.2,90.2) rotate(-66)"/>
<path d="M0,3.98 C2.31,0.80 2.31,-2.19 0,-2.19 C-2.31,-2.19 -2.31,0.80 0,3.98Z" fill="url(#cg)" transform="translate(84.2,90.2) rotate(-66)"/>
<path d="M0,3.97 C2.31,0.79 2.31,-2.18 0,-2.18 C-2.31,-2.18 -2.31,0.79 0,3.97Z" fill="#788972" fill-opacity="0.85" transform="translate(84.2,97.3) rotate(-51)"/>
<path d="M0,3.97 C2.31,0.79 2.31,-2.18 0,-2.18 C-2.31,-2.18 -2.31,0.79 0,3.97Z" fill="url(#cg)" transform="translate(84.2,97.3) rotate(-51)"/>
<path d="M0,3.88 C2.28,0.78 2.28,-2.13 0,-2.13 C-2.28,-2.13 -2.28,0.78 0,3.88Z" fill="#699142" fill-opacity="0.85" transform="translate(84.2,104.3) rotate(-37)"/>
<path d="M0,3.88 C2.28,0.78 2.28,-2.13 0,-2.13 C-2.28,-2.13 -2.28,0.78 0,3.88Z" fill="url(#cg)" transform="translate(84.2,104.3) rotate(-37)"/>
<path d="M0,3.73 C2.24,0.75 2.24,-2.05 0,-2.05 C-2.24,-2.05 -2.24,0.75 0,3.73Z" fill="#719e41" fill-opacity="0.85" transform="translate(84.2,111.4) rotate(-26)"/>
<path d="M0,3.73 C2.24,0.75 2.24,-2.05 0,-2.05 C-2.24,-2.05 -2.24,0.75 0,3.73Z" fill="url(#cg)" transform="translate(84.2,111.4) rotate(-26)"/>
<path d="M0,3.55 C2.18,0.71 2.18,-1.95 0,-1.95 C-2.18,-1.95 -2.18,0.71 0,3.55Z" fill="#7da74f" fill-opacity="0.85" transform="translate(84.2,118.4) rotate(-17)"/>
<path d="M0,3.55 C2.18,0.71 2.18,-1.95 0,-1.95 C-2.18,-1.95 -2.18,0.71 0,3.55Z" fill="url(#cg)" transform="translate(84.2,118.4) rotate(-17)"/>
<path d="M0,3.38 C2.13,0.68 2.13,-1.86 0,-1.86 C-2.13,-1.86 -2.13,0.68 0,3.38Z" fill="#7f9e5d" fill-opacity="0.85" transform="translate(84.2,125.4) rotate(-10)"/>
<path d="M0,3.38 C2.13,0.68 2.13,-1.86 0,-1.86 C-2.13,-1.86 -2.13,0.68 0,3.38Z" fill="url(#cg)" transform="translate(84.2,125.4) rotate(-10)"/>
<path d="M0,3.24 C2.08,0.65 2.08,-1.78 0,-1.78 C-2.08,-1.78 -2.08,0.65 0,3.24Z" fill="#86976d" fill-opacity="0.85" transform="translate(84.2,132.5) rotate(-5)"/>
<path d="M0,3.24 C2.08,0.65 2.08,-1.78 0,-1.78 C-2.08,-1.78 -2.08,0.65 0,3.24Z" fill="url(#cg)" transform="translate(84.2,132.5) rotate(-5)"/>
<path d="M0,3.09 C2.04,0.62 2.04,-1.70 0,-1.70 C-2.04,-1.70 -2.04,0.62 0,3.09Z" fill="#878192" fill-opacity="0.85" transform="translate(92.1,48.0) rotate(-112)"/>
<path d="M0,3.09 C2.04,0.62 2.04,-1.70 0,-1.70 C-2.04,-1.70 -2.04,0.62 0,3.09Z" fill="url(#cg)" transform="translate(92.1,48.0) rotate(-112)"/>
<path d="M0,3.17 C2.06,0.63 2.06,-1.74 0,-1.74 C-2.06,-1.74 -2.06,0.63 0,3.17Z" fill="#827a96" fill-opacity="0.85" transform="translate(92.1,55.1) rotate(-107)"/>
<path d="M0,3.17 C2.06,0.63 2.06,-1.74 0,-1.74 C-2.06,-1.74 -2.06,0.63 0,3.17Z" fill="url(#cg)" transform="translate(92.1,55.1) rotate(-107)"/>
<path d="M0,3.27 C2.09,0.65 2.09,-1.80 0,-1.80 C-2.09,-1.80 -2.09,0.65 0,3.27Z" fill="#7f749b" fill-opacity="0.85" transform="translate(92.1,62.1) rotate(-101)"/>
<path d="M0,3.27 C2.09,0.65 2.09,-1.80 0,-1.80 C-2.09,-1.80 -2.09,0.65 0,3.27Z" fill="url(#cg)" transform="translate(92.1,62.1) rotate(-101)"/>
<path d="M0,3.38 C2.13,0.68 2.13,-1.86 0,-1.86 C-2.13,-1.86 -2.13,0.68 0,3.38Z" fill="#7f73a2" fill-opacity="0.85" transform="translate(92.1,69.1) rotate(-94)"/>
<path d="M0,3.38 C2.13,0.68 2.13,-1.86 0,-1.86 C-2.13,-1.86 -2.13,0.68 0,3.38Z" fill="url(#cg)" transform="translate(92.1,69.1) rotate(-94)"/>
<path d="M0,3.49 C2.16,0.70 2.16,-1.92 0,-1.92 C-2.16,-1.92 -2.16,0.70 0,3.49Z" fill="#857ba8" fill-opacity="0.85" transform="translate(92.1,76.2) rotate(-86)"/>
<path d="M0,3.49 C2.16,0.70 2.16,-1.92 0,-1.92 C-2.16,-1.92 -2.16,0.70 0,3.49Z" fill="url(#cg)" transform="translate(92.1,76.2) rotate(-86)"/>
<path d="M0,3.59 C2.19,0.72 2.19,-1.97 0,-1.97 C-2.19,-1.97 -2.19,0.72 0,3.59Z" fill="#8d89aa" fill-opacity="0.85" transform="translate(92.1,83.2) rotate(-76)"/>
<path d="M0,3.59 C2.19,0.72 2.19,-1.97 0,-1.97 C-2.19,-1.97 -2.19,0.72 0,3.59Z" fill="url(#cg)" transform="translate(92.1,83.2) rotate(-76)"/>
<path d="M0,3.63 C2.21,0.73 2.21,-2.00 0,-2.00 C-2.21,-2.00 -2.21,0.73 0,3.63Z" fill="#8f929e" fill-opacity="0.85" transform="translate(92.1,90.2) rotate(-64)"/>
<path d="M0,3.63 C2.21,0.73 2.21,-2.00 0,-2.00 C-2.21,-2.00 -2.21,0.73 0,3.63Z" fill="url(#cg)" transform="translate(92.1,90.2) rotate(-64)"/>
<path d="M0,3.63 C2.20,0.73 2.20,-2.00 0,-2.00 C-2.20,-2.00 -2.20,0.73 0,3.63Z" fill="#929e91" fill-opacity="0.85" transform="translate(92.1,97.3) rotate(-53)"/>
<path d="M0,3.63 C2.20,0.73 2.20,-2.00 0,-2.00 C-2.20,-2.00 -2.20,0.73 0,3.63Z" fill="url(#cg)" transform="translate(92.1,97.3) rotate(-53)"/>
<path d="M0,3.57 C2.19,0.71 2.19,-1.96 0,-1.96 C-2.19,-1.96 -2.19,0.71 0,3.57Z" fill="#8aa473" fill-opacity="0.85" transform="translate(92.1,104.3) rotate(-42)"/>
<path d="M0,3.57 C2.19,0.71 2.19,-1.96 0,-1.96 C-2.19,-1.96 -2.19,0.71 0,3.57Z" fill="url(#cg)" transform="translate(92.1,104.3) rotate(-42)"/>
<path d="M0,3.47 C2.15,0.69 2.15,-1.91 0,-1.91 C-2.15,-1.91 -2.15,0.69 0,3.47Z" fill="#86a665" fill-opacity="0.85" transform="translate(92.1,111.4) rotate(-32)"/>
<path d="M0,3.47 C2.15,0.69 2.15,-1.91 0,-1.91 C-2.15,-1.91 -2.15,0.69 0,3.47Z" fill="url(#cg)" transform="translate(92.1,111.4) rotate(-32)"/>
<path d="M0,3.35 C2.12,0.67 2.12,-1.85 0,-1.85 C-2.12,-1.85 -2.12,0.67 0,3.35Z" fill="#859f69" fill-opacity="0.85" transform="translate(92.1,118.4) rotate(-24)"/>
<path d="M0,3.35 C2.12,0.67 2.12,-1.85 0,-1.85 C-2.12,-1.85 -2.12,0.67 0,3.35Z" fill="url(#cg)" transform="translate(92.1,118.4) rotate(-24)"/>
<path d="M0,3.24 C2.08,0.65 2.08,-1.78 0,-1.78 C-2.08,-1.78 -2.08,0.65 0,3.24Z" fill="#859870" fill-opacity="0.85" transform="translate(92.1,125.4) rotate(-17)"/>
<path d="M0,3.24 C2.08,0.65 2.08,-1.78 0,-1.78 C-2.08,-1.78 -2.08,0.65 0,3.24Z" fill="url(#cg)" transform="translate(92.1,125.4) rotate(-17)"/>
<path d="M0,3.15 C2.05,0.63 2.05,-1.73 0,-1.73 C-2.05,-1.73 -2.05,0.63 0,3.15Z" fill="#879478" fill-opacity="0.85" transform="translate(92.1,132.5) rotate(-12)"/>
<path d="M0,3.15 C2.05,0.63 2.05,-1.73 0,-1.73 C-2.05,-1.73 -2.05,0.63 0,3.15Z" fill="url(#cg)" transform="translate(92.1,132.5) rotate(-12)"/>
<path d="M0,4.50 C3.33,0.90 3.33,-2.48 0,-2.48 C-3.33,-2.48 -3.33,0.90 0,4.50Z" fill="#8f868b" fill-opacity="0.62" transform="translate(7.9,180.3) rotate(-42)"/>
<path d="M0,4.50 C3.33,0.90 3.33,-2.48 0,-2.48 C-3.33,-2.48 -3.33,0.90 0,4.50Z" fill="url(#cg)" transform="translate(7.9,180.3) rotate(-42)"/>
<path d="M0,4.62 C3.37,0.92 3.37,-2.54 0,-2.54 C-3.37,-2.54 -3.37,0.92 0,4.62Z" fill="#937d88" fill-opacity="0.62" transform="translate(7.9,190.8) rotate(-50)"/>
<path d="M0,4.62 C3.37,0.92 3.37,-2.54 0,-2.54 C-3.37,-2.54 -3.37,0.92 0,4.62Z" fill="url(#cg)" transform="translate(7.9,190.8) rotate(-50)"/>
<path d="M0,4.78 C3.43,0.96 3.43,-2.63 0,-2.63 C-3.43,-2.63 -3.43,0.96 0,4.78Z" fill="#99707f" fill-opacity="0.62" transform="translate(7.9,201.4) rotate(-61)"/>
<path d="M0,4.78 C3.43,0.96 3.43,-2.63 0,-2.63 C-3.43,-2.63 -3.43,0.96 0,4.78Z" fill="url(#cg)" transform="translate(7.9,201.4) rotate(-61)"/>
<path d="M0,4.94 C3.48,0.99 3.48,-2.72 0,-2.72 C-3.48,-2.72 -3.48,0.99 0,4.94Z" fill="#9f636f" fill-opacity="0.62" transform="translate(7.9,211.9) rotate(-75)"/>
<path d="M0,4.94 C3.48,0.99 3.48,-2.72 0,-2.72 C-3.48,-2.72 -3.48,0.99 0,4.94Z" fill="url(#cg)" transform="translate(7.9,211.9) rotate(-75)"/>
<path d="M0,5.01 C3.50,1.00 3.50,-2.75 0,-2.75 C-3.50,-2.75 -3.50,1.00 0,5.01Z" fill="#a15e5e" fill-opacity="0.62" transform="translate(7.9,222.5) rotate(270)"/>
<path d="M0,5.01 C3.50,1.00 3.50,-2.75 0,-2.75 C-3.50,-2.75 -3.50,1.00 0,5.01Z" fill="url(#cg)" transform="translate(7.9,222.5) rotate(270)"/>
<path d="M0,4.94 C3.48,0.99 3.48,-2.72 0,-2.72 C-3.48,-2.72 -3.48,0.99 0,4.94Z" fill="#9f7563" fill-opacity="0.62" transform="translate(7.9,233.1) rotate(254)"/>
<path d="M0,4.94 C3.48,0.99 3.48,-2.72 0,-2.72 C-3.48,-2.72 -3.48,0.99 0,4.94Z" fill="url(#cg)" transform="translate(7.9,233.1) rotate(254)"/>
<path d="M0,4.78 C3.42,0.96 3.42,-2.63 0,-2.63 C-3.42,-2.63 -3.42,0.96 0,4.78Z" fill="#998570" fill-opacity="0.62" transform="translate(7.9,243.6) rotate(241)"/>
<path d="M0,4.78 C3.42,0.96 3.42,-2.63 0,-2.63 C-3.42,-2.63 -3.42,0.96 0,4.78Z" fill="url(#cg)" transform="translate(7.9,243.6) rotate(241)"/>
<path d="M0,4.61 C3.37,0.92 3.37,-2.54 0,-2.54 C-3.37,-2.54 -3.37,0.92 0,4.61Z" fill="#938c7d" fill-opacity="0.62" transform="translate(7.9,254.2) rotate(230)"/>
<path d="M0,4.61 C3.37,0.92 3.37,-2.54 0,-2.54 C-3.37,-2.54 -3.37,0.92 0,4.61Z" fill="url(#cg)" transform="translate(7.9,254.2) rotate(230)"/>
<path d="M0,4.50 C3.33,0.90 3.33,-2.47 0,-2.47 C-3.33,-2.47 -3.33,0.90 0,4.50Z" fill="#8f8d86" fill-opacity="0.62" transform="translate(7.9,264.7) rotate(222)"/>
<path d="M0,4.50 C3.33,0.90 3.33,-2.47 0,-2.47 C-3.33,-2.47 -3.33,0.90 0,4.50Z" fill="url(#cg)" transform="translate(7.9,264.7) rotate(222)"/>
<path d="M0,4.61 C3.37,0.92 3.37,-2.54 0,-2.54 C-3.37,-2.54 -3.37,0.92 0,4.61Z" fill="#8f7d8e" fill-opacity="0.62" transform="translate(19.6,180.3) rotate(-32)"/>
<path d="M0,4.61 C3.37,0.92 3.37,-2.54 0,-2.54 C-3.37,-2.54 -3.37,0.92 0,4.61Z" fill="url(#cg)" transform="translate(19.6,180.3) rotate(-32)"/>
<path d="M0,4.87 C3.46,0.97 3.46,-2.68 0,-2.68 C-3.46,-2.68 -3.46,0.97 0,4.87Z" fill="#99698b" fill-opacity="0.62" transform="translate(19.6,190.8) rotate(-40)"/>
<path d="M0,4.87 C3.46,0.97 3.46,-2.68 0,-2.68 C-3.46,-2.68 -3.46,0.97 0,4.87Z" fill="url(#cg)" transform="translate(19.6,190.8) rotate(-40)"/>
<path d="M0,5.25 C3.59,1.05 3.59,-2.89 0,-2.89 C-3.59,-2.89 -3.59,1.05 0,5.25Z" fill="#aa4b79" fill-opacity="0.62" transform="translate(19.6,201.4) rotate(-51)"/>
<path d="M0,5.25 C3.59,1.05 3.59,-2.89 0,-2.89 C-3.59,-2.89 -3.59,1.05 0,5.25Z" fill="url(#cg)" transform="translate(19.6,201.4) rotate(-51)"/>
<path d="M0,5.62 C3.72,1.12 3.72,-3.09 0,-3.09 C-3.72,-3.09 -3.72,1.12 0,5.62Z" fill="#b72e53" fill-opacity="0.62" transform="translate(19.6,211.9) rotate(-68)"/>
<path d="M0,5.62 C3.72,1.12 3.72,-3.09 0,-3.09 C-3.72,-3.09 -3.72,1.12 0,5.62Z" fill="url(#cg)" transform="translate(19.6,211.9) rotate(-68)"/>
<path d="M0,5.77 C3.77,1.15 3.77,-3.17 0,-3.17 C-3.77,-3.17 -3.77,1.15 0,5.77Z" fill="#bc2322" fill-opacity="0.62" transform="translate(19.6,222.5) rotate(270)"/>
<path d="M0,5.77 C3.77,1.15 3.77,-3.17 0,-3.17 C-3.77,-3.17 -3.77,1.15 0,5.77Z" fill="url(#cg)" transform="translate(19.6,222.5) rotate(270)"/>
<path d="M0,5.61 C3.71,1.12 3.71,-3.08 0,-3.08 C-3.71,-3.08 -3.71,1.12 0,5.61Z" fill="#b7672f" fill-opacity="0.62" transform="translate(19.6,233.1) rotate(248)"/>
<path d="M0,5.61 C3.71,1.12 3.71,-3.08 0,-3.08 C-3.71,-3.08 -3.71,1.12 0,5.61Z" fill="url(#cg)" transform="translate(19.6,233.1) rotate(248)"/>
<path d="M0,5.24 C3.58,1.05 3.58,-2.88 0,-2.88 C-3.58,-2.88 -3.58,1.05 0,5.24Z" fill="#a9894c" fill-opacity="0.62" transform="translate(19.6,243.6) rotate(231)"/>
<path d="M0,5.24 C3.58,1.05 3.58,-2.88 0,-2.88 C-3.58,-2.88 -3.58,1.05 0,5.24Z" fill="url(#cg)" transform="translate(19.6,243.6) rotate(231)"/>
<path d="M0,4.86 C3.45,0.97 3.45,-2.67 0,-2.67 C-3.45,-2.67 -3.45,0.97 0,4.86Z" fill="#9c936a" fill-opacity="0.62" transform="translate(19.6,254.2) rotate(219)"/>
<path d="M0,4.86 C3.45,0.97 3.45,-2.67 0,-2.67 C-3.45,-2.67 -3.45,0.97 0,4.86Z" fill="url(#cg)" transform="translate(19.6,254.2) rotate(219)"/>
<path d="M0,4.60 C3.36,0.92 3.36,-2.53 0,-2.53 C-3.36,-2.53 -3.36,0.92 0,4.60Z" fill="#91907e" fill-opacity="0.62" transform="translate(19.6,264.7) rotate(211)"/>
<path d="M0,4.60 C3.36,0.92 3.36,-2.53 0,-2.53 C-3.36,-2.53 -3.36,0.92 0,4.60Z" fill="url(#cg)" transform="translate(19.6,264.7) rotate(211)"/>
<path d="M0,4.74 C3.41,0.95 3.41,-2.61 0,-2.61 C-3.41,-2.61 -3.41,0.95 0,4.74Z" fill="#8c7397" fill-opacity="0.62" transform="translate(31.4,180.3) rotate(-19)"/>
<path d="M0,4.74 C3.41,0.95 3.41,-2.61 0,-2.61 C-3.41,-2.61 -3.41,0.95 0,4.74Z" fill="url(#cg)" transform="translate(31.4,180.3) rotate(-19)"/>
<path d="M0,5.18 C3.56,1.04 3.56,-2.85 0,-2.85 C-3.56,-2.85 -3.56,1.04 0,5.18Z" fill="#9150a1" fill-opacity="0.62" transform="translate(31.4,190.8) rotate(-24)"/>
<path d="M0,5.18 C3.56,1.04 3.56,-2.85 0,-2.85 C-3.56,-2.85 -3.56,1.04 0,5.18Z" fill="url(#cg)" transform="translate(31.4,190.8) rotate(-24)"/>
<path d="M0,5.83 C3.79,1.17 3.79,-3.20 0,-3.20 C-3.79,-3.20 -3.79,1.17 0,5.83Z" fill="#a91e97" fill-opacity="0.62" transform="translate(31.4,201.4) rotate(-34)"/>
<path d="M0,5.83 C3.79,1.17 3.79,-3.20 0,-3.20 C-3.79,-3.20 -3.79,1.17 0,5.83Z" fill="url(#cg)" transform="translate(31.4,201.4) rotate(-34)"/>
<path d="M0,6.45 C4.00,1.29 4.00,-3.55 0,-3.55 C-4.00,-3.55 -4.00,1.29 0,6.45Z" fill="#cc005c" fill-opacity="0.62" transform="translate(31.4,211.9) rotate(-54)"/>
<path d="M0,6.45 C4.00,1.29 4.00,-3.55 0,-3.55 C-4.00,-3.55 -4.00,1.29 0,6.45Z" fill="url(#cg)" transform="translate(31.4,211.9) rotate(-54)"/>
<path d="M0,6.70 C4.09,1.34 4.09,-3.69 0,-3.69 C-4.09,-3.69 -4.09,1.34 0,6.70Z" fill="#cc0300" fill-opacity="0.62" transform="translate(31.4,222.5) rotate(269)"/>
<path d="M0,6.70 C4.09,1.34 4.09,-3.69 0,-3.69 C-4.09,-3.69 -4.09,1.34 0,6.70Z" fill="url(#cg)" transform="translate(31.4,222.5) rotate(269)"/>
<path d="M0,6.43 C4.00,1.29 4.00,-3.54 0,-3.54 C-4.00,-3.54 -4.00,1.29 0,6.43Z" fill="#cc7f00" fill-opacity="0.62" transform="translate(31.4,233.1) rotate(233)"/>
<path d="M0,6.43 C4.00,1.29 4.00,-3.54 0,-3.54 C-4.00,-3.54 -4.00,1.29 0,6.43Z" fill="url(#cg)" transform="translate(31.4,233.1) rotate(233)"/>
<path d="M0,5.80 C3.78,1.16 3.78,-3.19 0,-3.19 C-3.78,-3.19 -3.78,1.16 0,5.80Z" fill="#baab20" fill-opacity="0.62" transform="translate(31.4,243.6) rotate(214)"/>
<path d="M0,5.80 C3.78,1.16 3.78,-3.19 0,-3.19 C-3.78,-3.19 -3.78,1.16 0,5.80Z" fill="url(#cg)" transform="translate(31.4,243.6) rotate(214)"/>
<path d="M0,5.16 C3.56,1.03 3.56,-2.84 0,-2.84 C-3.56,-2.84 -3.56,1.03 0,5.16Z" fill="#989f52" fill-opacity="0.62" transform="translate(31.4,254.2) rotate(204)"/>
<path d="M0,5.16 C3.56,1.03 3.56,-2.84 0,-2.84 C-3.56,-2.84 -3.56,1.03 0,5.16Z" fill="url(#cg)" transform="translate(31.4,254.2) rotate(204)"/>
<path d="M0,4.73 C3.41,0.95 3.41,-2.60 0,-2.60 C-3.41,-2.60 -3.41,0.95 0,4.73Z" fill="#8e9574" fill-opacity="0.62" transform="translate(31.4,264.7) rotate(199)"/>
<path d="M0,4.73 C3.41,0.95 3.41,-2.60 0,-2.60 C-3.41,-2.60 -3.41,0.95 0,4.73Z" fill="url(#cg)" transform="translate(31.4,264.7) rotate(199)"/>
<path d="M0,4.82 C3.44,0.96 3.44,-2.65 0,-2.65 C-3.44,-2.65 -3.44,0.96 0,4.82Z" fill="#846d9a" fill-opacity="0.62" transform="translate(43.1,180.3) rotate(-3)"/>
<path d="M0,4.82 C3.44,0.96 3.44,-2.65 0,-2.65 C-3.44,-2.65 -3.44,0.96 0,4.82Z" fill="url(#cg)" transform="translate(43.1,180.3) rotate(-3)"/>
<path d="M0,5.37 C3.63,1.07 3.63,-2.95 0,-2.95 C-3.63,-2.95 -3.63,1.07 0,5.37Z" fill="#7b42ae" fill-opacity="0.62" transform="translate(43.1,190.8) rotate(-4)"/>
<path d="M0,5.37 C3.63,1.07 3.63,-2.95 0,-2.95 C-3.63,-2.95 -3.63,1.07 0,5.37Z" fill="url(#cg)" transform="translate(43.1,190.8) rotate(-4)"/>
<path d="M0,6.17 C3.90,1.23 3.90,-3.39 0,-3.39 C-3.90,-3.39 -3.90,1.23 0,6.17Z" fill="#7103cb" fill-opacity="0.62" transform="translate(43.1,201.4) rotate(-7)"/>
<path d="M0,6.17 C3.90,1.23 3.90,-3.39 0,-3.39 C-3.90,-3.39 -3.90,1.23 0,6.17Z" fill="url(#cg)" transform="translate(43.1,201.4) rotate(-7)"/>
<path d="M0,6.94 C4.17,1.39 4.17,-3.82 0,-3.82 C-4.17,-3.82 -4.17,1.39 0,6.94Z" fill="#7f00cc" fill-opacity="0.62" transform="translate(43.1,211.9) rotate(-13)"/>
<path d="M0,6.94 C4.17,1.39 4.17,-3.82 0,-3.82 C-4.17,-3.82 -4.17,1.39 0,6.94Z" fill="url(#cg)" transform="translate(43.1,211.9) rotate(-13)"/>
<path d="M0,7.26 C4.28,1.45 4.28,-3.99 0,-3.99 C-4.28,-3.99 -4.28,1.45 0,7.26Z" fill="#cc1200" fill-opacity="0.62" transform="translate(43.1,222.5) rotate(265)"/>
<path d="M0,7.26 C4.28,1.45 4.28,-3.99 0,-3.99 C-4.28,-3.99 -4.28,1.45 0,7.26Z" fill="url(#cg)" transform="translate(43.1,222.5) rotate(265)"/>
<path d="M0,6.92 C4.16,1.38 4.16,-3.80 0,-3.80 C-4.16,-3.80 -4.16,1.38 0,6.92Z" fill="#86c100" fill-opacity="0.62" transform="translate(43.1,233.1) rotate(193)"/>
<path d="M0,6.92 C4.16,1.38 4.16,-3.80 0,-3.80 C-4.16,-3.80 -4.16,1.38 0,6.92Z" fill="url(#cg)" transform="translate(43.1,233.1) rotate(193)"/>
<path d="M0,6.13 C3.89,1.23 3.89,-3.37 0,-3.37 C-3.89,-3.37 -3.89,1.23 0,6.13Z" fill="#73c206" fill-opacity="0.62" transform="translate(43.1,243.6) rotate(187)"/>
<path d="M0,6.13 C3.89,1.23 3.89,-3.37 0,-3.37 C-3.89,-3.37 -3.89,1.23 0,6.13Z" fill="url(#cg)" transform="translate(43.1,243.6) rotate(187)"/>
<path d="M0,5.34 C3.62,1.07 3.62,-2.94 0,-2.94 C-3.62,-2.94 -3.62,1.07 0,5.34Z" fill="#7baa44" fill-opacity="0.62" transform="translate(43.1,254.2) rotate(184)"/>
<path d="M0,5.34 C3.62,1.07 3.62,-2.94 0,-2.94 C-3.62,-2.94 -3.62,1.07 0,5.34Z" fill="url(#cg)" transform="translate(43.1,254.2) rotate(184)"/>
<path d="M0,4.80 C3.43,0.96 3.43,-2.64 0,-2.64 C-3.43,-2.64 -3.43,0.96 0,4.80Z" fill="#84996e" fill-opacity="0.62" transform="translate(43.1,264.7) rotate(183)"/>
<path d="M0,4.80 C3.43,0.96 3.43,-2.64 0,-2.64 C-3.43,-2.64 -3.43,0.96 0,4.80Z" fill="url(#cg)" transform="translate(43.1,264.7) rotate(183)"/>
<path d="M0,4.79 C3.43,0.96 3.43,-2.63 0,-2.63 C-3.43,-2.63 -3.43,0.96 0,4.79Z" fill="#7e7399" fill-opacity="0.62" transform="translate(54.9,180.3) rotate(12)"/>
<path d="M0,4.79 C3.43,0.96 3.43,-2.63 0,-2.63 C-3.43,-2.63 -3.43,0.96 0,4.79Z" fill="url(#cg)" transform="translate(54.9,180.3) rotate(12)"/>
<path d="M0,5.29 C3.60,1.06 3.60,-2.91 0,-2.91 C-3.60,-2.91 -3.60,1.06 0,5.29Z" fill="#6852ab" fill-opacity="0.62" transform="translate(54.9,190.8) rotate(16)"/>
<path d="M0,5.29 C3.60,1.06 3.60,-2.91 0,-2.91 C-3.60,-2.91 -3.60,1.06 0,5.29Z" fill="url(#cg)" transform="translate(54.9,190.8) rotate(16)"/>
<path d="M0,6.02 C3.85,1.20 3.85,-3.31 0,-3.31 C-3.85,-3.31 -3.85,1.20 0,6.02Z" fill="#3c2ac5" fill-opacity="0.62" transform="translate(54.9,201.4) rotate(24)"/>
<path d="M0,6.02 C3.85,1.20 3.85,-3.31 0,-3.31 C-3.85,-3.31 -3.85,1.20 0,6.02Z" fill="url(#cg)" transform="translate(54.9,201.4) rotate(24)"/>
<path d="M0,6.73 C4.10,1.35 4.10,-3.70 0,-3.70 C-4.10,-3.70 -4.10,1.35 0,6.73Z" fill="#1036cc" fill-opacity="0.62" transform="translate(54.9,211.9) rotate(42)"/>
<path d="M0,6.73 C4.10,1.35 4.10,-3.70 0,-3.70 C-4.10,-3.70 -4.10,1.35 0,6.73Z" fill="url(#cg)" transform="translate(54.9,211.9) rotate(42)"/>
<path d="M0,7.02 C4.20,1.40 4.20,-3.86 0,-3.86 C-4.20,-3.86 -4.20,1.40 0,7.02Z" fill="#00b4c9" fill-opacity="0.62" transform="translate(54.9,222.5) rotate(91)"/>
<path d="M0,7.02 C4.20,1.40 4.20,-3.86 0,-3.86 C-4.20,-3.86 -4.20,1.40 0,7.02Z" fill="url(#cg)" transform="translate(54.9,222.5) rotate(91)"/>
<path d="M0,6.71 C4.09,1.34 4.09,-3.69 0,-3.69 C-4.09,-3.69 -4.09,1.34 0,6.71Z" fill="#10cc5c" fill-opacity="0.62" transform="translate(54.9,233.1) rotate(139)"/>
<path d="M0,6.71 C4.09,1.34 4.09,-3.69 0,-3.69 C-4.09,-3.69 -4.09,1.34 0,6.71Z" fill="url(#cg)" transform="translate(54.9,233.1) rotate(139)"/>
<path d="M0,5.99 C3.84,1.20 3.84,-3.29 0,-3.29 C-3.84,-3.29 -3.84,1.20 0,5.99Z" fill="#39c43b" fill-opacity="0.62" transform="translate(54.9,243.6) rotate(156)"/>
<path d="M0,5.99 C3.84,1.20 3.84,-3.29 0,-3.29 C-3.84,-3.29 -3.84,1.20 0,5.99Z" fill="url(#cg)" transform="translate(54.9,243.6) rotate(156)"/>
<path d="M0,5.26 C3.59,1.05 3.59,-2.89 0,-2.89 C-3.59,-2.89 -3.59,1.05 0,5.26Z" fill="#65aa58" fill-opacity="0.62" transform="translate(54.9,254.2) rotate(164)"/>
<path d="M0,5.26 C3.59,1.05 3.59,-2.89 0,-2.89 C-3.59,-2.89 -3.59,1.05 0,5.26Z" fill="url(#cg)" transform="translate(54.9,254.2) rotate(164)"/>
<path d="M0,4.77 C3.42,0.95 3.42,-2.62 0,-2.62 C-3.42,-2.62 -3.42,0.95 0,4.77Z" fill="#7d9974" fill-opacity="0.62" transform="translate(54.9,264.7) rotate(168)"/>
<path d="M0,4.77 C3.42,0.95 3.42,-2.62 0,-2.62 C-3.42,-2.62 -3.42,0.95 0,4.77Z" fill="url(#cg)" transform="translate(54.9,264.7) rotate(168)"/>
<path d="M0,4.67 C3.39,0.93 3.39,-2.57 0,-2.57 C-3.39,-2.57 -3.39,0.93 0,4.67Z" fill="#7f7d95" fill-opacity="0.62" transform="translate(66.6,180.3) rotate(27)"/>
<path d="M0,4.67 C3.39,0.93 3.39,-2.57 0,-2.57 C-3.39,-2.57 -3.39,0.93 0,4.67Z" fill="url(#cg)" transform="translate(66.6,180.3) rotate(27)"/>
<path d="M0,5.00 C3.50,1.00 3.50,-2.75 0,-2.75 C-3.50,-2.75 -3.50,1.00 0,5.00Z" fill="#696ca1" fill-opacity="0.62" transform="translate(66.6,190.8) rotate(34)"/>
<path d="M0,5.00 C3.50,1.00 3.50,-2.75 0,-2.75 C-3.50,-2.75 -3.50,1.00 0,5.00Z" fill="url(#cg)" transform="translate(66.6,190.8) rotate(34)"/>
<path d="M0,5.50 C3.67,1.10 3.67,-3.02 0,-3.02 C-3.67,-3.02 -3.67,1.10 0,5.50Z" fill="#3d5ab3" fill-opacity="0.62" transform="translate(66.6,201.4) rotate(45)"/>
<path d="M0,5.50 C3.67,1.10 3.67,-3.02 0,-3.02 C-3.67,-3.02 -3.67,1.10 0,5.50Z" fill="url(#cg)" transform="translate(66.6,201.4) rotate(45)"/>
<path d="M0,5.97 C3.84,1.19 3.84,-3.29 0,-3.29 C-3.84,-3.29 -3.84,1.19 0,5.97Z" fill="#126cc4" fill-opacity="0.62" transform="translate(66.6,211.9) rotate(64)"/>
<path d="M0,5.97 C3.84,1.19 3.84,-3.29 0,-3.29 C-3.84,-3.29 -3.84,1.19 0,5.97Z" fill="url(#cg)" transform="translate(66.6,211.9) rotate(64)"/>
<path d="M0,6.17 C3.91,1.23 3.91,-3.39 0,-3.39 C-3.91,-3.39 -3.91,1.23 0,6.17Z" fill="#03b3c9" fill-opacity="0.62" transform="translate(66.6,222.5) rotate(91)"/>
<path d="M0,6.17 C3.91,1.23 3.91,-3.39 0,-3.39 C-3.91,-3.39 -3.91,1.23 0,6.17Z" fill="url(#cg)" transform="translate(66.6,222.5) rotate(91)"/>
<path d="M0,5.96 C3.83,1.19 3.83,-3.28 0,-3.28 C-3.83,-3.28 -3.83,1.19 0,5.96Z" fill="#13bc8f" fill-opacity="0.62" transform="translate(66.6,233.1) rotate(117)"/>
<path d="M0,5.96 C3.83,1.19 3.83,-3.28 0,-3.28 C-3.83,-3.28 -3.83,1.19 0,5.96Z" fill="url(#cg)" transform="translate(66.6,233.1) rotate(117)"/>
<path d="M0,5.48 C3.67,1.10 3.67,-3.01 0,-3.01 C-3.67,-3.01 -3.67,1.10 0,5.48Z" fill="#3fb275" fill-opacity="0.62" transform="translate(66.6,243.6) rotate(135)"/>
<path d="M0,5.48 C3.67,1.10 3.67,-3.01 0,-3.01 C-3.67,-3.01 -3.67,1.10 0,5.48Z" fill="url(#cg)" transform="translate(66.6,243.6) rotate(135)"/>
<path d="M0,4.99 C3.50,1.00 3.50,-2.74 0,-2.74 C-3.50,-2.74 -3.50,1.00 0,4.99Z" fill="#69a077" fill-opacity="0.62" transform="translate(66.6,254.2) rotate(147)"/>
<path d="M0,4.99 C3.50,1.00 3.50,-2.74 0,-2.74 C-3.50,-2.74 -3.50,1.00 0,4.99Z" fill="url(#cg)" transform="translate(66.6,254.2) rotate(147)"/>
<path d="M0,4.66 C3.38,0.93 3.38,-2.56 0,-2.56 C-3.38,-2.56 -3.38,0.93 0,4.66Z" fill="#7f9481" fill-opacity="0.62" transform="translate(66.6,264.7) rotate(154)"/>
<path d="M0,4.66 C3.38,0.93 3.38,-2.56 0,-2.56 C-3.38,-2.56 -3.38,0.93 0,4.66Z" fill="url(#cg)" transform="translate(66.6,264.7) rotate(154)"/>
<path d="M0,4.54 C3.34,0.91 3.34,-2.50 0,-2.50 C-3.34,-2.50 -3.34,0.91 0,4.54Z" fill="#848690" fill-opacity="0.62" transform="translate(78.4,180.3) rotate(38)"/>
<path d="M0,4.54 C3.34,0.91 3.34,-2.50 0,-2.50 C-3.34,-2.50 -3.34,0.91 0,4.54Z" fill="url(#cg)" transform="translate(78.4,180.3) rotate(38)"/>
<path d="M0,4.71 C3.40,0.94 3.40,-2.59 0,-2.59 C-3.40,-2.59 -3.40,0.94 0,4.71Z" fill="#777f96" fill-opacity="0.62" transform="translate(78.4,190.8) rotate(46)"/>
<path d="M0,4.71 C3.40,0.94 3.40,-2.59 0,-2.59 C-3.40,-2.59 -3.40,0.94 0,4.71Z" fill="url(#cg)" transform="translate(78.4,190.8) rotate(46)"/>
<path d="M0,4.95 C3.48,0.99 3.48,-2.72 0,-2.72 C-3.48,-2.72 -3.48,0.99 0,4.95Z" fill="#627c9f" fill-opacity="0.62" transform="translate(78.4,201.4) rotate(57)"/>
<path d="M0,4.95 C3.48,0.99 3.48,-2.72 0,-2.72 C-3.48,-2.72 -3.48,0.99 0,4.95Z" fill="url(#cg)" transform="translate(78.4,201.4) rotate(57)"/>
<path d="M0,5.19 C3.57,1.04 3.57,-2.85 0,-2.85 C-3.57,-2.85 -3.57,1.04 0,5.19Z" fill="#5087a8" fill-opacity="0.62" transform="translate(78.4,211.9) rotate(72)"/>
<path d="M0,5.19 C3.57,1.04 3.57,-2.85 0,-2.85 C-3.57,-2.85 -3.57,1.04 0,5.19Z" fill="url(#cg)" transform="translate(78.4,211.9) rotate(72)"/>
<path d="M0,5.29 C3.60,1.06 3.60,-2.91 0,-2.91 C-3.60,-2.91 -3.60,1.06 0,5.29Z" fill="#489fab" fill-opacity="0.62" transform="translate(78.4,222.5) rotate(90)"/>
<path d="M0,5.29 C3.60,1.06 3.60,-2.91 0,-2.91 C-3.60,-2.91 -3.60,1.06 0,5.29Z" fill="url(#cg)" transform="translate(78.4,222.5) rotate(90)"/>
<path d="M0,5.18 C3.56,1.04 3.56,-2.85 0,-2.85 C-3.56,-2.85 -3.56,1.04 0,5.18Z" fill="#50a296" fill-opacity="0.62" transform="translate(78.4,233.1) rotate(108)"/>
<path d="M0,5.18 C3.56,1.04 3.56,-2.85 0,-2.85 C-3.56,-2.85 -3.56,1.04 0,5.18Z" fill="url(#cg)" transform="translate(78.4,233.1) rotate(108)"/>
<path d="M0,4.94 C3.48,0.99 3.48,-2.72 0,-2.72 C-3.48,-2.72 -3.48,0.99 0,4.94Z" fill="#639d89" fill-opacity="0.62" transform="translate(78.4,243.6) rotate(123)"/>
<path d="M0,4.94 C3.48,0.99 3.48,-2.72 0,-2.72 C-3.48,-2.72 -3.48,0.99 0,4.94Z" fill="url(#cg)" transform="translate(78.4,243.6) rotate(123)"/>
<path d="M0,4.70 C3.40,0.94 3.40,-2.59 0,-2.59 C-3.40,-2.59 -3.40,0.94 0,4.70Z" fill="#779686" fill-opacity="0.62" transform="translate(78.4,254.2) rotate(134)"/>
<path d="M0,4.70 C3.40,0.94 3.40,-2.59 0,-2.59 C-3.40,-2.59 -3.40,0.94 0,4.70Z" fill="url(#cg)" transform="translate(78.4,254.2) rotate(134)"/>
<path d="M0,4.54 C3.34,0.91 3.34,-2.50 0,-2.50 C-3.34,-2.50 -3.34,0.91 0,4.54Z" fill="#849088" fill-opacity="0.62" transform="translate(78.4,264.7) rotate(142)"/>
<path d="M0,4.54 C3.34,0.91 3.34,-2.50 0,-2.50 C-3.34,-2.50 -3.34,0.91 0,4.54Z" fill="url(#cg)" transform="translate(78.4,264.7) rotate(142)"/>
<path d="M0,4.46 C3.32,0.89 3.32,-2.46 0,-2.46 C-3.32,-2.46 -3.32,0.89 0,4.46Z" fill="#898a8e" fill-opacity="0.62" transform="translate(90.1,180.3) rotate(47)"/>
<path d="M0,4.46 C3.32,0.89 3.32,-2.46 0,-2.46 C-3.32,-2.46 -3.32,0.89 0,4.46Z" fill="url(#cg)" transform="translate(90.1,180.3) rotate(47)"/>
<path d="M0,4.53 C3.34,0.91 3.34,-2.49 0,-2.49 C-3.34,-2.49 -3.34,0.91 0,4.53Z" fill="#848890" fill-opacity="0.62" transform="translate(90.1,190.8) rotate(55)"/>
<path d="M0,4.53 C3.34,0.91 3.34,-2.49 0,-2.49 C-3.34,-2.49 -3.34,0.91 0,4.53Z" fill="url(#cg)" transform="translate(90.1,190.8) rotate(55)"/>
<path d="M0,4.61 C3.37,0.92 3.37,-2.54 0,-2.54 C-3.37,-2.54 -3.37,0.92 0,4.61Z" fill="#7d8893" fill-opacity="0.62" transform="translate(90.1,201.4) rotate(65)"/>
<path d="M0,4.61 C3.37,0.92 3.37,-2.54 0,-2.54 C-3.37,-2.54 -3.37,0.92 0,4.61Z" fill="url(#cg)" transform="translate(90.1,201.4) rotate(65)"/>
<path d="M0,4.70 C3.40,0.94 3.40,-2.59 0,-2.59 C-3.40,-2.59 -3.40,0.94 0,4.70Z" fill="#768c96" fill-opacity="0.62" transform="translate(90.1,211.9) rotate(77)"/>
<path d="M0,4.70 C3.40,0.94 3.40,-2.59 0,-2.59 C-3.40,-2.59 -3.40,0.94 0,4.70Z" fill="url(#cg)" transform="translate(90.1,211.9) rotate(77)"/>
<path d="M0,4.74 C3.41,0.95 3.41,-2.60 0,-2.60 C-3.41,-2.60 -3.41,0.95 0,4.74Z" fill="#739397" fill-opacity="0.62" transform="translate(90.1,222.5) rotate(90)"/>
<path d="M0,4.74 C3.41,0.95 3.41,-2.60 0,-2.60 C-3.41,-2.60 -3.41,0.95 0,4.74Z" fill="url(#cg)" transform="translate(90.1,222.5) rotate(90)"/>
<path d="M0,4.70 C3.40,0.94 3.40,-2.58 0,-2.58 C-3.40,-2.58 -3.40,0.94 0,4.70Z" fill="#769391" fill-opacity="0.62" transform="translate(90.1,233.1) rotate(104)"/>
<path d="M0,4.70 C3.40,0.94 3.40,-2.58 0,-2.58 C-3.40,-2.58 -3.40,0.94 0,4.70Z" fill="url(#cg)" transform="translate(90.1,233.1) rotate(104)"/>
<path d="M0,4.61 C3.37,0.92 3.37,-2.54 0,-2.54 C-3.37,-2.54 -3.37,0.92 0,4.61Z" fill="#7d928d" fill-opacity="0.62" transform="translate(90.1,243.6) rotate(116)"/>
<path d="M0,4.61 C3.37,0.92 3.37,-2.54 0,-2.54 C-3.37,-2.54 -3.37,0.92 0,4.61Z" fill="url(#cg)" transform="translate(90.1,243.6) rotate(116)"/>
<path d="M0,4.52 C3.34,0.90 3.34,-2.49 0,-2.49 C-3.34,-2.49 -3.34,0.90 0,4.52Z" fill="#84908b" fill-opacity="0.62" transform="translate(90.1,254.2) rotate(126)"/>
<path d="M0,4.52 C3.34,0.90 3.34,-2.49 0,-2.49 C-3.34,-2.49 -3.34,0.90 0,4.52Z" fill="url(#cg)" transform="translate(90.1,254.2) rotate(126)"/>
<path d="M0,4.46 C3.31,0.89 3.31,-2.45 0,-2.45 C-3.31,-2.45 -3.31,0.89 0,4.46Z" fill="#898e8b" fill-opacity="0.62" transform="translate(90.1,264.7) rotate(134)"/>
<path d="M0,4.46 C3.31,0.89 3.31,-2.45 0,-2.45 C-3.31,-2.45 -3.31,0.89 0,4.46Z" fill="url(#cg)" transform="translate(90.1,264.7) rotate(134)"/>
<path d="M0,2.98 C2.10,0.60 2.10,-1.64 0,-1.64 C-2.10,-1.64 -2.10,0.60 0,2.98Z" fill="#8c8c8c" fill-opacity="0.80" transform="translate(5.6,308.7) rotate(43)"/>
<path d="M0,2.98 C2.10,0.60 2.10,-1.64 0,-1.64 C-2.10,-1.64 -2.10,0.60 0,2.98Z" fill="url(#cg)" transform="translate(5.6,308.7) rotate(43)"/>
<path d="M0,2.98 C2.10,0.60 2.10,-1.64 0,-1.64 C-2.10,-1.64 -2.10,0.60 0,2.98Z" fill="#8c8c8c" fill-opacity="0.80" transform="translate(5.6,316.0) rotate(48)"/>
<path d="M0,2.98 C2.10,0.60 2.10,-1.64 0,-1.64 C-2.10,-1.64 -2.10,0.60 0,2.98Z" fill="url(#cg)" transform="translate(5.6,316.0) rotate(48)"/>
<path d="M0,2.98 C2.10,0.60 2.10,-1.64 0,-1.64 C-2.10,-1.64 -2.10,0.60 0,2.98Z" fill="#8c8c8c" fill-opacity="0.80" transform="translate(5.6,323.3) rotate(55)"/>
<path d="M0,2.98 C2.10,0.60 2.10,-1.64 0,-1.64 C-2.10,-1.64 -2.10,0.60 0,2.98Z" fill="url(#cg)" transform="translate(5.6,323.3) rotate(55)"/>
<path d="M0,2.98 C2.10,0.60 2.10,-1.64 0,-1.64 C-2.10,-1.64 -2.10,0.60 0,2.98Z" fill="#8c8c8c" fill-opacity="0.80" transform="translate(5.6,330.6) rotate(62)"/>
<path d="M0,2.98 C2.10,0.60 2.10,-1.64 0,-1.64 C-2.10,-1.64 -2.10,0.60 0,2.98Z" fill="url(#cg)" transform="translate(5.6,330.6) rotate(62)"/>
<path d="M0,2.98 C2.10,0.60 2.10,-1.64 0,-1.64 C-2.10,-1.64 -2.10,0.60 0,2.98Z" fill="#8c8c8c" fill-opacity="0.80" transform="translate(5.6,337.9) rotate(70)"/>
<path d="M0,2.98 C2.10,0.60 2.10,-1.64 0,-1.64 C-2.10,-1.64 -2.10,0.60 0,2.98Z" fill="url(#cg)" transform="translate(5.6,337.9) rotate(70)"/>
<path d="M0,2.98 C2.10,0.60 2.10,-1.64 0,-1.64 C-2.10,-1.64 -2.10,0.60 0,2.98Z" fill="#8c8c8c" fill-opacity="0.80" transform="translate(5.6,345.2) rotate(79)"/>
<path d="M0,2.98 C2.10,0.60 2.10,-1.64 0,-1.64 C-2.10,-1.64 -2.10,0.60 0,2.98Z" fill="url(#cg)" transform="translate(5.6,345.2) rotate(79)"/>
<path d="M0,2.98 C2.10,0.60 2.10,-1.64 0,-1.64 C-2.10,-1.64 -2.10,0.60 0,2.98Z" fill="#8c8c8c" fill-opacity="0.80" transform="translate(5.6,352.5) rotate(89)"/>
<path d="M0,2.98 C2.10,0.60 2.10,-1.64 0,-1.64 C-2.10,-1.64 -2.10,0.60 0,2.98Z" fill="url(#cg)" transform="translate(5.6,352.5) rotate(89)"/>
<path d="M0,2.98 C2.10,0.60 2.10,-1.64 0,-1.64 C-2.10,-1.64 -2.10,0.60 0,2.98Z" fill="#8c8c8c" fill-opacity="0.80" transform="translate(5.6,359.8) rotate(-261)"/>
<path d="M0,2.98 C2.10,0.60 2.10,-1.64 0,-1.64 C-2.10,-1.64 -2.10,0.60 0,2.98Z" fill="url(#cg)" transform="translate(5.6,359.8) rotate(-261)"/>
<path d="M0,2.98 C2.10,0.60 2.10,-1.64 0,-1.64 C-2.10,-1.64 -2.10,0.60 0,2.98Z" fill="#8c8c8c" fill-opacity="0.80" transform="translate(5.6,367.1) rotate(-252)"/>
<path d="M0,2.98 C2.10,0.60 2.10,-1.64 0,-1.64 C-2.10,-1.64 -2.10,0.60 0,2.98Z" fill="url(#cg)" transform="translate(5.6,367.1) rotate(-252)"/>
<path d="M0,2.98 C2.10,0.60 2.10,-1.64 0,-1.64 C-2.10,-1.64 -2.10,0.60 0,2.98Z" fill="#8c8c8c" fill-opacity="0.80" transform="translate(5.6,374.4) rotate(-243)"/>
<path d="M0,2.98 C2.10,0.60 2.10,-1.64 0,-1.64 C-2.10,-1.64 -2.10,0.60 0,2.98Z" fill="url(#cg)" transform="translate(5.6,374.4) rotate(-243)"/>
<path d="M0,2.98 C2.10,0.60 2.10,-1.64 0,-1.64 C-2.10,-1.64 -2.10,0.60 0,2.98Z" fill="#8c8c8c" fill-opacity="0.80" transform="translate(5.6,381.7) rotate(-236)"/>
<path d="M0,2.98 C2.10,0.60 2.10,-1.64 0,-1.64 C-2.10,-1.64 -2.10,0.60 0,2.98Z" fill="url(#cg)" transform="translate(5.6,381.7) rotate(-236)"/>
<path d="M0,2.98 C2.10,0.60 2.10,-1.64 0,-1.64 C-2.10,-1.64 -2.10,0.60 0,2.98Z" fill="#8c8c8c" fill-opacity="0.80" transform="translate(5.6,389.0) rotate(-230)"/>
<path d="M0,2.98 C2.10,0.60 2.10,-1.64 0,-1.64 C-2.10,-1.64 -2.10,0.60 0,2.98Z" fill="url(#cg)" transform="translate(5.6,389.0) rotate(-230)"/>
<path d="M0,2.98 C2.10,0.60 2.10,-1.64 0,-1.64 C-2.10,-1.64 -2.10,0.60 0,2.98Z" fill="#8c8c8c" fill-opacity="0.80" transform="translate(5.6,396.3) rotate(-224)"/>
<path d="M0,2.98 C2.10,0.60 2.10,-1.64 0,-1.64 C-2.10,-1.64 -2.10,0.60 0,2.98Z" fill="url(#cg)" transform="translate(5.6,396.3) rotate(-224)"/>
<path d="M0,2.98 C2.10,0.60 2.10,-1.64 0,-1.64 C-2.10,-1.64 -2.10,0.60 0,2.98Z" fill="#8c8c8c" fill-opacity="0.80" transform="translate(12.8,308.7) rotate(38)"/>
<path d="M0,2.98 C2.10,0.60 2.10,-1.64 0,-1.64 C-2.10,-1.64 -2.10,0.60 0,2.98Z" fill="url(#cg)" transform="translate(12.8,308.7) rotate(38)"/>
<path d="M0,2.98 C2.10,0.60 2.10,-1.64 0,-1.64 C-2.10,-1.64 -2.10,0.60 0,2.98Z" fill="#8c8c8c" fill-opacity="0.80" transform="translate(12.8,316.0) rotate(43)"/>
<path d="M0,2.98 C2.10,0.60 2.10,-1.64 0,-1.64 C-2.10,-1.64 -2.10,0.60 0,2.98Z" fill="url(#cg)" transform="translate(12.8,316.0) rotate(43)"/>
<path d="M0,2.98 C2.10,0.60 2.10,-1.64 0,-1.64 C-2.10,-1.64 -2.10,0.60 0,2.98Z" fill="#8c8c8c" fill-opacity="0.80" transform="translate(12.8,323.3) rotate(49)"/>
<path d="M0,2.98 C2.10,0.60 2.10,-1.64 0,-1.64 C-2.10,-1.64 -2.10,0.60 0,2.98Z" fill="url(#cg)" transform="translate(12.8,323.3) rotate(49)"/>
<path d="M0,2.98 C2.10,0.60 2.10,-1.64 0,-1.64 C-2.10,-1.64 -2.10,0.60 0,2.98Z" fill="#8c8c8c" fill-opacity="0.80" transform="translate(12.8,330.6) rotate(57)"/>
<path d="M0,2.98 C2.10,0.60 2.10,-1.64 0,-1.64 C-2.10,-1.64 -2.10,0.60 0,2.98Z" fill="url(#cg)" transform="translate(12.8,330.6) rotate(57)"/>
<path d="M0,2.98 C2.10,0.60 2.10,-1.64 0,-1.64 C-2.10,-1.64 -2.10,0.60 0,2.98Z" fill="#8c8c8b" fill-opacity="0.80" transform="translate(12.8,337.9) rotate(66)"/>
<path d="M0,2.98 C2.10,0.60 2.10,-1.64 0,-1.64 C-2.10,-1.64 -2.10,0.60 0,2.98Z" fill="url(#cg)" transform="translate(12.8,337.9) rotate(66)"/>
<path d="M0,2.99 C2.10,0.60 2.10,-1.64 0,-1.64 C-2.10,-1.64 -2.10,0.60 0,2.99Z" fill="#8d8c8a" fill-opacity="0.80" transform="translate(12.8,345.2) rotate(77)"/>
<path d="M0,2.99 C2.10,0.60 2.10,-1.64 0,-1.64 C-2.10,-1.64 -2.10,0.60 0,2.99Z" fill="url(#cg)" transform="translate(12.8,345.2) rotate(77)"/>
<path d="M0,2.99 C2.11,0.60 2.11,-1.65 0,-1.65 C-2.11,-1.65 -2.11,0.60 0,2.99Z" fill="#8d8b8a" fill-opacity="0.80" transform="translate(12.8,352.5) rotate(89)"/>
<path d="M0,2.99 C2.11,0.60 2.11,-1.65 0,-1.65 C-2.11,-1.65 -2.11,0.60 0,2.99Z" fill="url(#cg)" transform="translate(12.8,352.5) rotate(89)"/>
<path d="M0,2.99 C2.10,0.60 2.10,-1.64 0,-1.64 C-2.10,-1.64 -2.10,0.60 0,2.99Z" fill="#8d8b8a" fill-opacity="0.80" transform="translate(12.8,359.8) rotate(-259)"/>
<path d="M0,2.99 C2.10,0.60 2.10,-1.64 0,-1.64 C-2.10,-1.64 -2.10,0.60 0,2.99Z" fill="url(#cg)" transform="translate(12.8,359.8) rotate(-259)"/>
<path d="M0,2.98 C2.10,0.60 2.10,-1.64 0,-1.64 C-2.10,-1.64 -2.10,0.60 0,2.98Z" fill="#8c8b8b" fill-opacity="0.80" transform="translate(12.8,367.1) rotate(-248)"/>
<path d="M0,2.98 C2.10,0.60 2.10,-1.64 0,-1.64 C-2.10,-1.64 -2.10,0.60 0,2.98Z" fill="url(#cg)" transform="translate(12.8,367.1) rotate(-248)"/>
<path d="M0,2.98 C2.10,0.60 2.10,-1.64 0,-1.64 C-2.10,-1.64 -2.10,0.60 0,2.98Z" fill="#8c8c8c" fill-opacity="0.80" transform="translate(12.8,374.4) rotate(-239)"/>
<path d="M0,2.98 C2.10,0.60 2.10,-1.64 0,-1.64 C-2.10,-1.64 -2.10,0.60 0,2.98Z" fill="url(#cg)" transform="translate(12.8,374.4) rotate(-239)"/>
<path d="M0,2.98 C2.10,0.60 2.10,-1.64 0,-1.64 C-2.10,-1.64 -2.10,0.60 0,2.98Z" fill="#8c8c8c" fill-opacity="0.80" transform="translate(12.8,381.7) rotate(-231)"/>
<path d="M0,2.98 C2.10,0.60 2.10,-1.64 0,-1.64 C-2.10,-1.64 -2.10,0.60 0,2.98Z" fill="url(#cg)" transform="translate(12.8,381.7) rotate(-231)"/>
<path d="M0,2.98 C2.10,0.60 2.10,-1.64 0,-1.64 C-2.10,-1.64 -2.10,0.60 0,2.98Z" fill="#8c8c8c" fill-opacity="0.80" transform="translate(12.8,389.0) rotate(-224)"/>
<path d="M0,2.98 C2.10,0.60 2.10,-1.64 0,-1.64 C-2.10,-1.64 -2.10,0.60 0,2.98Z" fill="url(#cg)" transform="translate(12.8,389.0) rotate(-224)"/>
<path d="M0,2.98 C2.10,0.60 2.10,-1.64 0,-1.64 C-2.10,-1.64 -2.10,0.60 0,2.98Z" fill="#8c8c8c" fill-opacity="0.80" transform="translate(12.8,396.3) rotate(-219)"/>
<path d="M0,2.98 C2.10,0.60 2.10,-1.64 0,-1.64 C-2.10,-1.64 -2.10,0.60 0,2.98Z" fill="url(#cg)" transform="translate(12.8,396.3) rotate(-219)"/>
<path d="M0,2.98 C2.10,0.60 2.10,-1.64 0,-1.64 C-2.10,-1.64 -2.10,0.60 0,2.98Z" fill="#8c8c8c" fill-opacity="0.80" transform="translate(20.1,308.7) rotate(32)"/>
<path d="M0,2.98 C2.10,0.60 2.10,-1.64 0,-1.64 C-2.10,-1.64 -2.10,0.60 0,2.98Z" fill="url(#cg)" transform="translate(20.1,308.7) rotate(32)"/>
<path d="M0,2.98 C2.10,0.60 2.10,-1.64 0,-1.64 C-2.10,-1.64 -2.10,0.60 0,2.98Z" fill="#8c8c8c" fill-opacity="0.80" transform="translate(20.1,316.0) rotate(37)"/>
<path d="M0,2.98 C2.10,0.60 2.10,-1.64 0,-1.64 C-2.10,-1.64 -2.10,0.60 0,2.98Z" fill="url(#cg)" transform="translate(20.1,316.0) rotate(37)"/>
<path d="M0,2.98 C2.10,0.60 2.10,-1.64 0,-1.64 C-2.10,-1.64 -2.10,0.60 0,2.98Z" fill="#8c8c8c" fill-opacity="0.80" transform="translate(20.1,323.3) rotate(43)"/>
<path d="M0,2.98 C2.10,0.60 2.10,-1.64 0,-1.64 C-2.10,-1.64 -2.10,0.60 0,2.98Z" fill="url(#cg)" transform="translate(20.1,323.3) rotate(43)"/>
<path d="M0,2.99 C2.10,0.60 2.10,-1.64 0,-1.64 C-2.10,-1.64 -2.10,0.60 0,2.99Z" fill="#8d8c8a" fill-opacity="0.80" transform="translate(20.1,330.6) rotate(51)"/>
<path d="M0,2.99 C2.10,0.60 2.10,-1.64 0,-1.64 C-2.10,-1.64 -2.10,0.60 0,2.99Z" fill="url(#cg)" transform="translate(20.1,330.6) rotate(51)"/>
<path d="M0,3.01 C2.11,0.60 2.11,-1.66 0,-1.66 C-2.11,-1.66 -2.11,0.60 0,3.01Z" fill="#8e8c87" fill-opacity="0.80" transform="translate(20.1,337.9) rotate(61)"/>
<path d="M0,3.01 C2.11,0.60 2.11,-1.66 0,-1.66 C-2.11,-1.66 -2.11,0.60 0,3.01Z" fill="url(#cg)" transform="translate(20.1,337.9) rotate(61)"/>
<path d="M0,3.05 C2.12,0.61 2.12,-1.68 0,-1.68 C-2.12,-1.68 -2.12,0.61 0,3.05Z" fill="#908b83" fill-opacity="0.80" transform="translate(20.1,345.2) rotate(74)"/>
<path d="M0,3.05 C2.12,0.61 2.12,-1.68 0,-1.68 C-2.12,-1.68 -2.12,0.61 0,3.05Z" fill="url(#cg)" transform="translate(20.1,345.2) rotate(74)"/>
<path d="M0,3.07 C2.13,0.61 2.13,-1.69 0,-1.69 C-2.13,-1.69 -2.13,0.61 0,3.07Z" fill="#918981" fill-opacity="0.80" transform="translate(20.1,352.5) rotate(89)"/>
<path d="M0,3.07 C2.13,0.61 2.13,-1.69 0,-1.69 C-2.13,-1.69 -2.13,0.61 0,3.07Z" fill="url(#cg)" transform="translate(20.1,352.5) rotate(89)"/>
<path d="M0,3.06 C2.13,0.61 2.13,-1.68 0,-1.68 C-2.13,-1.68 -2.13,0.61 0,3.06Z" fill="#908782" fill-opacity="0.80" transform="translate(20.1,359.8) rotate(-257)"/>
<path d="M0,3.06 C2.13,0.61 2.13,-1.68 0,-1.68 C-2.13,-1.68 -2.13,0.61 0,3.06Z" fill="url(#cg)" transform="translate(20.1,359.8) rotate(-257)"/>
<path d="M0,3.02 C2.12,0.60 2.12,-1.66 0,-1.66 C-2.12,-1.66 -2.12,0.60 0,3.02Z" fill="#8e8887" fill-opacity="0.80" transform="translate(20.1,367.1) rotate(-243)"/>
<path d="M0,3.02 C2.12,0.60 2.12,-1.66 0,-1.66 C-2.12,-1.66 -2.12,0.60 0,3.02Z" fill="url(#cg)" transform="translate(20.1,367.1) rotate(-243)"/>
<path d="M0,2.99 C2.11,0.60 2.11,-1.65 0,-1.65 C-2.11,-1.65 -2.11,0.60 0,2.99Z" fill="#8d8a8a" fill-opacity="0.80" transform="translate(20.1,374.4) rotate(-232)"/>
<path d="M0,2.99 C2.11,0.60 2.11,-1.65 0,-1.65 C-2.11,-1.65 -2.11,0.60 0,2.99Z" fill="url(#cg)" transform="translate(20.1,374.4) rotate(-232)"/>
<path d="M0,2.98 C2.10,0.60 2.10,-1.64 0,-1.64 C-2.10,-1.64 -2.10,0.60 0,2.98Z" fill="#8c8c8c" fill-opacity="0.80" transform="translate(20.1,381.7) rotate(-224)"/>
<path d="M0,2.98 C2.10,0.60 2.10,-1.64 0,-1.64 C-2.10,-1.64 -2.10,0.60 0,2.98Z" fill="url(#cg)" transform="translate(20.1,381.7) rotate(-224)"/>
<path d="M0,2.98 C2.10,0.60 2.10,-1.64 0,-1.64 C-2.10,-1.64 -2.10,0.60 0,2.98Z" fill="#8c8c8c" fill-opacity="0.80" transform="translate(20.1,389.0) rotate(-218)"/>
<path d="M0,2.98 C2.10,0.60 2.10,-1.64 0,-1.64 C-2.10,-1.64 -2.10,0.60 0,2.98Z" fill="url(#cg)" transform="translate(20.1,389.0) rotate(-218)"/>
<path d="M0,2.98 C2.10,0.60 2.10,-1.64 0,-1.64 C-2.10,-1.64 -2.10,0.60 0,2.98Z" fill="#8c8c8c" fill-opacity="0.80" transform="translate(20.1,396.3) rotate(-213)"/>
<path d="M0,2.98 C2.10,0.60 2.10,-1.64 0,-1.64 C-2.10,-1.64 -2.10,0.60 0,2.98Z" fill="url(#cg)" transform="translate(20.1,396.3) rotate(-213)"/>
<path d="M0,2.98 C2.10,0.60 2.10,-1.64 0,-1.64 C-2.10,-1.64 -2.10,0.60 0,2.98Z" fill="#8c8c8c" fill-opacity="0.80" transform="translate(27.3,308.7) rotate(25)"/>
<path d="M0,2.98 C2.10,0.60 2.10,-1.64 0,-1.64 C-2.10,-1.64 -2.10,0.60 0,2.98Z" fill="url(#cg)" transform="translate(27.3,308.7) rotate(25)"/>
<path d="M0,2.98 C2.10,0.60 2.10,-1.64 0,-1.64 C-2.10,-1.64 -2.10,0.60 0,2.98Z" fill="#8c8c8c" fill-opacity="0.80" transform="translate(27.3,316.0) rotate(29)"/>
<path d="M0,2.98 C2.10,0.60 2.10,-1.64 0,-1.64 C-2.10,-1.64 -2.10,0.60 0,2.98Z" fill="url(#cg)" transform="translate(27.3,316.0) rotate(29)"/>
<path d="M0,2.99 C2.10,0.60 2.10,-1.64 0,-1.64 C-2.10,-1.64 -2.10,0.60 0,2.99Z" fill="#8c8c8b" fill-opacity="0.80" transform="translate(27.3,323.3) rotate(34)"/>
<path d="M0,2.99 C2.10,0.60 2.10,-1.64 0,-1.64 C-2.10,-1.64 -2.10,0.60 0,2.99Z" fill="url(#cg)" transform="translate(27.3,323.3) rotate(34)"/>
<path d="M0,3.03 C2.12,0.61 2.12,-1.66 0,-1.66 C-2.12,-1.66 -2.12,0.61 0,3.03Z" fill="#8f8e86" fill-opacity="0.80" transform="translate(27.3,330.6) rotate(42)"/>
<path d="M0,3.03 C2.12,0.61 2.12,-1.66 0,-1.66 C-2.12,-1.66 -2.12,0.61 0,3.03Z" fill="url(#cg)" transform="translate(27.3,330.6) rotate(42)"/>
<path d="M0,3.13 C2.15,0.63 2.15,-1.72 0,-1.72 C-2.15,-1.72 -2.15,0.63 0,3.13Z" fill="#948e7a" fill-opacity="0.80" transform="translate(27.3,337.9) rotate(53)"/>
<path d="M0,3.13 C2.15,0.63 2.15,-1.72 0,-1.72 C-2.15,-1.72 -2.15,0.63 0,3.13Z" fill="url(#cg)" transform="translate(27.3,337.9) rotate(53)"/>
<path d="M0,3.27 C2.20,0.65 2.20,-1.80 0,-1.80 C-2.20,-1.80 -2.20,0.65 0,3.27Z" fill="#9c8a6a" fill-opacity="0.80" transform="translate(27.3,345.2) rotate(69)"/>
<path d="M0,3.27 C2.20,0.65 2.20,-1.80 0,-1.80 C-2.20,-1.80 -2.20,0.65 0,3.27Z" fill="url(#cg)" transform="translate(27.3,345.2) rotate(69)"/>
<path d="M0,3.35 C2.22,0.67 2.22,-1.84 0,-1.84 C-2.22,-1.84 -2.22,0.67 0,3.35Z" fill="#a07f60" fill-opacity="0.80" transform="translate(27.3,352.5) rotate(88)"/>
<path d="M0,3.35 C2.22,0.67 2.22,-1.84 0,-1.84 C-2.22,-1.84 -2.22,0.67 0,3.35Z" fill="url(#cg)" transform="translate(27.3,352.5) rotate(88)"/>
<path d="M0,3.29 C2.20,0.66 2.20,-1.81 0,-1.81 C-2.20,-1.81 -2.20,0.66 0,3.29Z" fill="#9d7667" fill-opacity="0.80" transform="translate(27.3,359.8) rotate(-252)"/>
<path d="M0,3.29 C2.20,0.66 2.20,-1.81 0,-1.81 C-2.20,-1.81 -2.20,0.66 0,3.29Z" fill="url(#cg)" transform="translate(27.3,359.8) rotate(-252)"/>
<path d="M0,3.15 C2.16,0.63 2.16,-1.73 0,-1.73 C-2.16,-1.73 -2.16,0.63 0,3.15Z" fill="#957b7b" fill-opacity="0.80" transform="translate(27.3,367.1) rotate(-236)"/>
<path d="M0,3.15 C2.16,0.63 2.16,-1.73 0,-1.73 C-2.16,-1.73 -2.16,0.63 0,3.15Z" fill="url(#cg)" transform="translate(27.3,367.1) rotate(-236)"/>
<path d="M0,3.04 C2.12,0.61 2.12,-1.67 0,-1.67 C-2.12,-1.67 -2.12,0.61 0,3.04Z" fill="#8f8587" fill-opacity="0.80" transform="translate(27.3,374.4) rotate(-224)"/>
<path d="M0,3.04 C2.12,0.61 2.12,-1.67 0,-1.67 C-2.12,-1.67 -2.12,0.61 0,3.04Z" fill="url(#cg)" transform="translate(27.3,374.4) rotate(-224)"/>
<path d="M0,2.99 C2.11,0.60 2.11,-1.64 0,-1.64 C-2.11,-1.64 -2.11,0.60 0,2.99Z" fill="#8d8a8b" fill-opacity="0.80" transform="translate(27.3,381.7) rotate(-216)"/>
<path d="M0,2.99 C2.11,0.60 2.11,-1.64 0,-1.64 C-2.11,-1.64 -2.11,0.60 0,2.99Z" fill="url(#cg)" transform="translate(27.3,381.7) rotate(-216)"/>
<path d="M0,2.98 C2.10,0.60 2.10,-1.64 0,-1.64 C-2.10,-1.64 -2.10,0.60 0,2.98Z" fill="#8c8c8c" fill-opacity="0.80" transform="translate(27.3,389.0) rotate(-210)"/>
<path d="M0,2.98 C2.10,0.60 2.10,-1.64 0,-1.64 C-2.10,-1.64 -2.10,0.60 0,2.98Z" fill="url(#cg)" transform="translate(27.3,389.0) rotate(-210)"/>
<path d="M0,2.98 C2.10,0.60 2.10,-1.64 0,-1.64 C-2.10,-1.64 -2.10,0.60 0,2.98Z" fill="#8c8c8c" fill-opacity="0.80" transform="translate(27.3,396.3) rotate(-205)"/>
<path d="M0,2.98 C2.10,0.60 2.10,-1.64 0,-1.64 C-2.10,-1.64 -2.10,0.60 0,2.98Z" fill="url(#cg)" transform="translate(27.3,396.3) rotate(-205)"/>
<path d="M0,2.98 C2.10,0.60 2.10,-1.64 0,-1.64 C-2.10,-1.64 -2.10,0.60 0,2.98Z" fill="#8c8c8c" fill-opacity="0.80" transform="translate(34.5,308.7) rotate(16)"/>
<path d="M0,2.98 C2.10,0.60 2.10,-1.64 0,-1.64 C-2.10,-1.64 -2.10,0.60 0,2.98Z" fill="url(#cg)" transform="translate(34.5,308.7) rotate(16)"/>
<path d="M0,2.98 C2.10,0.60 2.10,-1.64 0,-1.64 C-2.10,-1.64 -2.10,0.60 0,2.98Z" fill="#8c8c8b" fill-opacity="0.80" transform="translate(34.5,316.0) rotate(19)"/>
<path d="M0,2.98 C2.10,0.60 2.10,-1.64 0,-1.64 C-2.10,-1.64 -2.10,0.60 0,2.98Z" fill="url(#cg)" transform="translate(34.5,316.0) rotate(19)"/>
<path d="M0,3.00 C2.11,0.60 2.11,-1.65 0,-1.65 C-2.11,-1.65 -2.11,0.60 0,3.00Z" fill="#8d8d89" fill-opacity="0.80" transform="translate(34.5,323.3) rotate(24)"/>
<path d="M0,3.00 C2.11,0.60 2.11,-1.65 0,-1.65 C-2.11,-1.65 -2.11,0.60 0,3.00Z" fill="url(#cg)" transform="translate(34.5,323.3) rotate(24)"/>
<path d="M0,3.11 C2.14,0.62 2.14,-1.71 0,-1.71 C-2.14,-1.71 -2.14,0.62 0,3.11Z" fill="#91917d" fill-opacity="0.80" transform="translate(34.5,330.6) rotate(30)"/>
<path d="M0,3.11 C2.14,0.62 2.14,-1.71 0,-1.71 C-2.14,-1.71 -2.14,0.62 0,3.11Z" fill="url(#cg)" transform="translate(34.5,330.6) rotate(30)"/>
<path d="M0,3.37 C2.23,0.67 2.23,-1.85 0,-1.85 C-2.23,-1.85 -2.23,0.67 0,3.37Z" fill="#a1985e" fill-opacity="0.80" transform="translate(34.5,337.9) rotate(41)"/>
<path d="M0,3.37 C2.23,0.67 2.23,-1.85 0,-1.85 C-2.23,-1.85 -2.23,0.67 0,3.37Z" fill="url(#cg)" transform="translate(34.5,337.9) rotate(41)"/>
<path d="M0,3.74 C2.35,0.75 2.35,-2.06 0,-2.06 C-2.35,-2.06 -2.35,0.75 0,3.74Z" fill="#b59233" fill-opacity="0.80" transform="translate(34.5,345.2) rotate(59)"/>
<path d="M0,3.74 C2.35,0.75 2.35,-2.06 0,-2.06 C-2.35,-2.06 -2.35,0.75 0,3.74Z" fill="url(#cg)" transform="translate(34.5,345.2) rotate(59)"/>
<path d="M0,3.95 C2.42,0.79 2.42,-2.17 0,-2.17 C-2.42,-2.17 -2.42,0.79 0,3.95Z" fill="#c06c1a" fill-opacity="0.80" transform="translate(34.5,352.5) rotate(87)"/>
<path d="M0,3.95 C2.42,0.79 2.42,-2.17 0,-2.17 C-2.42,-2.17 -2.42,0.79 0,3.95Z" fill="url(#cg)" transform="translate(34.5,352.5) rotate(87)"/>
<path d="M0,3.80 C2.37,0.76 2.37,-2.09 0,-2.09 C-2.37,-2.09 -2.37,0.76 0,3.80Z" fill="#b84734" fill-opacity="0.80" transform="translate(34.5,359.8) rotate(-243)"/>
<path d="M0,3.80 C2.37,0.76 2.37,-2.09 0,-2.09 C-2.37,-2.09 -2.37,0.76 0,3.80Z" fill="url(#cg)" transform="translate(34.5,359.8) rotate(-243)"/>
<path d="M0,3.43 C2.25,0.69 2.25,-1.89 0,-1.89 C-2.25,-1.89 -2.25,0.69 0,3.43Z" fill="#a45968" fill-opacity="0.80" transform="translate(34.5,367.1) rotate(-223)"/>
<path d="M0,3.43 C2.25,0.69 2.25,-1.89 0,-1.89 C-2.25,-1.89 -2.25,0.69 0,3.43Z" fill="url(#cg)" transform="translate(34.5,367.1) rotate(-223)"/>
<path d="M0,3.14 C2.16,0.63 2.16,-1.73 0,-1.73 C-2.16,-1.73 -2.16,0.63 0,3.14Z" fill="#957884" fill-opacity="0.80" transform="translate(34.5,374.4) rotate(-212)"/>
<path d="M0,3.14 C2.16,0.63 2.16,-1.73 0,-1.73 C-2.16,-1.73 -2.16,0.63 0,3.14Z" fill="url(#cg)" transform="translate(34.5,374.4) rotate(-212)"/>
<path d="M0,3.02 C2.11,0.60 2.11,-1.66 0,-1.66 C-2.11,-1.66 -2.11,0.60 0,3.02Z" fill="#8e878b" fill-opacity="0.80" transform="translate(34.5,381.7) rotate(-205)"/>
<path d="M0,3.02 C2.11,0.60 2.11,-1.66 0,-1.66 C-2.11,-1.66 -2.11,0.60 0,3.02Z" fill="url(#cg)" transform="translate(34.5,381.7) rotate(-205)"/>
<path d="M0,2.98 C2.10,0.60 2.10,-1.64 0,-1.64 C-2.10,-1.64 -2.10,0.60 0,2.98Z" fill="#8c8b8c" fill-opacity="0.80" transform="translate(34.5,389.0) rotate(-200)"/>
<path d="M0,2.98 C2.10,0.60 2.10,-1.64 0,-1.64 C-2.10,-1.64 -2.10,0.60 0,2.98Z" fill="url(#cg)" transform="translate(34.5,389.0) rotate(-200)"/>
<path d="M0,2.98 C2.10,0.60 2.10,-1.64 0,-1.64 C-2.10,-1.64 -2.10,0.60 0,2.98Z" fill="#8c8c8c" fill-opacity="0.80" transform="translate(34.5,396.3) rotate(-197)"/>
<path d="M0,2.98 C2.10,0.60 2.10,-1.64 0,-1.64 C-2.10,-1.64 -2.10,0.60 0,2.98Z" fill="url(#cg)" transform="translate(34.5,396.3) rotate(-197)"/>
<path d="M0,2.98 C2.10,0.60 2.10,-1.64 0,-1.64 C-2.10,-1.64 -2.10,0.60 0,2.98Z" fill="#8c8c8c" fill-opacity="0.80" transform="translate(41.8,308.7) rotate(8)"/>
<path d="M0,2.98 C2.10,0.60 2.10,-1.64 0,-1.64 C-2.10,-1.64 -2.10,0.60 0,2.98Z" fill="url(#cg)" transform="translate(41.8,308.7) rotate(8)"/>
<path d="M0,2.98 C2.10,0.60 2.10,-1.64 0,-1.64 C-2.10,-1.64 -2.10,0.60 0,2.98Z" fill="#8c8c8b" fill-opacity="0.80" transform="translate(41.8,316.0) rotate(9)"/>
<path d="M0,2.98 C2.10,0.60 2.10,-1.64 0,-1.64 C-2.10,-1.64 -2.10,0.60 0,2.98Z" fill="url(#cg)" transform="translate(41.8,316.0) rotate(9)"/>
<path d="M0,3.03 C2.12,0.61 2.12,-1.66 0,-1.66 C-2.12,-1.66 -2.12,0.61 0,3.03Z" fill="#8c8e86" fill-opacity="0.80" transform="translate(41.8,323.3) rotate(11)"/>
<path d="M0,3.03 C2.12,0.61 2.12,-1.66 0,-1.66 C-2.12,-1.66 -2.12,0.61 0,3.03Z" fill="url(#cg)" transform="translate(41.8,323.3) rotate(11)"/>
<path d="M0,3.20 C2.17,0.64 2.17,-1.76 0,-1.76 C-2.17,-1.76 -2.17,0.64 0,3.20Z" fill="#8d9672" fill-opacity="0.80" transform="translate(41.8,330.6) rotate(15)"/>
<path d="M0,3.20 C2.17,0.64 2.17,-1.76 0,-1.76 C-2.17,-1.76 -2.17,0.64 0,3.20Z" fill="url(#cg)" transform="translate(41.8,330.6) rotate(15)"/>
<path d="M0,3.65 C2.32,0.73 2.32,-2.01 0,-2.01 C-2.32,-2.01 -2.32,0.73 0,3.65Z" fill="#98a83e" fill-opacity="0.80" transform="translate(41.8,337.9) rotate(21)"/>
<path d="M0,3.65 C2.32,0.73 2.32,-2.01 0,-2.01 C-2.32,-2.01 -2.32,0.73 0,3.65Z" fill="url(#cg)" transform="translate(41.8,337.9) rotate(21)"/>
<path d="M0,4.28 C2.53,0.86 2.53,-2.35 0,-2.35 C-2.53,-2.35 -2.53,0.86 0,4.28Z" fill="#c4b500" fill-opacity="0.80" transform="translate(41.8,345.2) rotate(37)"/>
<path d="M0,4.28 C2.53,0.86 2.53,-2.35 0,-2.35 C-2.53,-2.35 -2.53,0.86 0,4.28Z" fill="url(#cg)" transform="translate(41.8,345.2) rotate(37)"/>
<path d="M0,4.65 C2.65,0.93 2.65,-2.56 0,-2.56 C-2.65,-2.56 -2.65,0.93 0,4.65Z" fill="#cc6c00" fill-opacity="0.80" transform="translate(41.8,352.5) rotate(83)"/>
<path d="M0,4.65 C2.65,0.93 2.65,-2.56 0,-2.56 C-2.65,-2.56 -2.65,0.93 0,4.65Z" fill="url(#cg)" transform="translate(41.8,352.5) rotate(83)"/>
<path d="M0,4.39 C2.56,0.88 2.56,-2.41 0,-2.41 C-2.56,-2.41 -2.56,0.88 0,4.39Z" fill="#cc0330" fill-opacity="0.80" transform="translate(41.8,359.8) rotate(-222)"/>
<path d="M0,4.39 C2.56,0.88 2.56,-2.41 0,-2.41 C-2.56,-2.41 -2.56,0.88 0,4.39Z" fill="url(#cg)" transform="translate(41.8,359.8) rotate(-222)"/>
<path d="M0,3.76 C2.36,0.75 2.36,-2.07 0,-2.07 C-2.36,-2.07 -2.36,0.75 0,3.76Z" fill="#b6307a" fill-opacity="0.80" transform="translate(41.8,367.1) rotate(-203)"/>
<path d="M0,3.76 C2.36,0.75 2.36,-2.07 0,-2.07 C-2.36,-2.07 -2.36,0.75 0,3.76Z" fill="url(#cg)" transform="translate(41.8,367.1) rotate(-203)"/>
<path d="M0,3.26 C2.19,0.65 2.19,-1.80 0,-1.80 C-2.19,-1.80 -2.19,0.65 0,3.26Z" fill="#9b6a8c" fill-opacity="0.80" transform="translate(41.8,374.4) rotate(-196)"/>
<path d="M0,3.26 C2.19,0.65 2.19,-1.80 0,-1.80 C-2.19,-1.80 -2.19,0.65 0,3.26Z" fill="url(#cg)" transform="translate(41.8,374.4) rotate(-196)"/>
<path d="M0,3.04 C2.12,0.61 2.12,-1.67 0,-1.67 C-2.12,-1.67 -2.12,0.61 0,3.04Z" fill="#90848d" fill-opacity="0.80" transform="translate(41.8,381.7) rotate(-192)"/>
<path d="M0,3.04 C2.12,0.61 2.12,-1.67 0,-1.67 C-2.12,-1.67 -2.12,0.61 0,3.04Z" fill="url(#cg)" transform="translate(41.8,381.7) rotate(-192)"/>
<path d="M0,2.99 C2.10,0.60 2.10,-1.64 0,-1.64 C-2.10,-1.64 -2.10,0.60 0,2.99Z" fill="#8d8b8c" fill-opacity="0.80" transform="translate(41.8,389.0) rotate(-189)"/>
<path d="M0,2.99 C2.10,0.60 2.10,-1.64 0,-1.64 C-2.10,-1.64 -2.10,0.60 0,2.99Z" fill="url(#cg)" transform="translate(41.8,389.0) rotate(-189)"/>
<path d="M0,2.98 C2.10,0.60 2.10,-1.64 0,-1.64 C-2.10,-1.64 -2.10,0.60 0,2.98Z" fill="#8c8c8c" fill-opacity="0.80" transform="translate(41.8,396.3) rotate(-188)"/>
<path d="M0,2.98 C2.10,0.60 2.10,-1.64 0,-1.64 C-2.10,-1.64 -2.10,0.60 0,2.98Z" fill="url(#cg)" transform="translate(41.8,396.3) rotate(-188)"/>
<path d="M0,2.98 C2.10,0.60 2.10,-1.64 0,-1.64 C-2.10,-1.64 -2.10,0.60 0,2.98Z" fill="#8c8c8c" fill-opacity="0.80" transform="translate(49.0,308.7) rotate(-2)"/>
<path d="M0,2.98 C2.10,0.60 2.10,-1.64 0,-1.64 C-2.10,-1.64 -2.10,0.60 0,2.98Z" fill="url(#cg)" transform="translate(49.0,308.7) rotate(-2)"/>
<path d="M0,2.98 C2.10,0.60 2.10,-1.64 0,-1.64 C-2.10,-1.64 -2.10,0.60 0,2.98Z" fill="#8c8c8b" fill-opacity="0.80" transform="translate(49.0,316.0) rotate(-2)"/>
<path d="M0,2.98 C2.10,0.60 2.10,-1.64 0,-1.64 C-2.10,-1.64 -2.10,0.60 0,2.98Z" fill="url(#cg)" transform="translate(49.0,316.0) rotate(-2)"/>
<path d="M0,3.03 C2.12,0.61 2.12,-1.67 0,-1.67 C-2.12,-1.67 -2.12,0.61 0,3.03Z" fill="#8a8f86" fill-opacity="0.80" transform="translate(49.0,323.3) rotate(-2)"/>
<path d="M0,3.03 C2.12,0.61 2.12,-1.67 0,-1.67 C-2.12,-1.67 -2.12,0.61 0,3.03Z" fill="url(#cg)" transform="translate(49.0,323.3) rotate(-2)"/>
<path d="M0,3.23 C2.18,0.65 2.18,-1.78 0,-1.78 C-2.18,-1.78 -2.18,0.65 0,3.23Z" fill="#859a70" fill-opacity="0.80" transform="translate(49.0,330.6) rotate(-3)"/>
<path d="M0,3.23 C2.18,0.65 2.18,-1.78 0,-1.78 C-2.18,-1.78 -2.18,0.65 0,3.23Z" fill="url(#cg)" transform="translate(49.0,330.6) rotate(-3)"/>
<path d="M0,3.74 C2.35,0.75 2.35,-2.06 0,-2.06 C-2.35,-2.06 -2.35,0.75 0,3.74Z" fill="#73b53b" fill-opacity="0.80" transform="translate(49.0,337.9) rotate(-5)"/>
<path d="M0,3.74 C2.35,0.75 2.35,-2.06 0,-2.06 C-2.35,-2.06 -2.35,0.75 0,3.74Z" fill="url(#cg)" transform="translate(49.0,337.9) rotate(-5)"/>
<path d="M0,4.46 C2.59,0.89 2.59,-2.45 0,-2.45 C-2.59,-2.45 -2.59,0.89 0,4.46Z" fill="#59cc18" fill-opacity="0.80" transform="translate(49.0,345.2) rotate(-9)"/>
<path d="M0,4.46 C2.59,0.89 2.59,-2.45 0,-2.45 C-2.59,-2.45 -2.59,0.89 0,4.46Z" fill="url(#cg)" transform="translate(49.0,345.2) rotate(-9)"/>
<path d="M0,4.88 C2.72,0.98 2.72,-2.69 0,-2.69 C-2.72,-2.69 -2.72,0.98 0,4.88Z" fill="#00b19e" fill-opacity="0.80" transform="translate(49.0,352.5) rotate(-62)"/>
<path d="M0,4.88 C2.72,0.98 2.72,-2.69 0,-2.69 C-2.72,-2.69 -2.72,0.98 0,4.88Z" fill="url(#cg)" transform="translate(49.0,352.5) rotate(-62)"/>
<path d="M0,4.59 C2.63,0.92 2.63,-2.52 0,-2.52 C-2.63,-2.52 -2.63,0.92 0,4.59Z" fill="#a900bf" fill-opacity="0.80" transform="translate(49.0,359.8) rotate(-169)"/>
<path d="M0,4.59 C2.63,0.92 2.63,-2.52 0,-2.52 C-2.63,-2.52 -2.63,0.92 0,4.59Z" fill="url(#cg)" transform="translate(49.0,359.8) rotate(-169)"/>
<path d="M0,3.87 C2.39,0.77 2.39,-2.13 0,-2.13 C-2.39,-2.13 -2.39,0.77 0,3.87Z" fill="#ab24af" fill-opacity="0.80" transform="translate(49.0,367.1) rotate(-175)"/>
<path d="M0,3.87 C2.39,0.77 2.39,-2.13 0,-2.13 C-2.39,-2.13 -2.39,0.77 0,3.87Z" fill="url(#cg)" transform="translate(49.0,367.1) rotate(-175)"/>
<path d="M0,3.30 C2.21,0.66 2.21,-1.82 0,-1.82 C-2.21,-1.82 -2.21,0.66 0,3.30Z" fill="#986698" fill-opacity="0.80" transform="translate(49.0,374.4) rotate(-176)"/>
<path d="M0,3.30 C2.21,0.66 2.21,-1.82 0,-1.82 C-2.21,-1.82 -2.21,0.66 0,3.30Z" fill="url(#cg)" transform="translate(49.0,374.4) rotate(-176)"/>
<path d="M0,3.05 C2.13,0.61 2.13,-1.68 0,-1.68 C-2.13,-1.68 -2.13,0.61 0,3.05Z" fill="#8f838f" fill-opacity="0.80" transform="translate(49.0,381.7) rotate(-177)"/>
<path d="M0,3.05 C2.13,0.61 2.13,-1.68 0,-1.68 C-2.13,-1.68 -2.13,0.61 0,3.05Z" fill="url(#cg)" transform="translate(49.0,381.7) rotate(-177)"/>
<path d="M0,2.99 C2.10,0.60 2.10,-1.64 0,-1.64 C-2.10,-1.64 -2.10,0.60 0,2.99Z" fill="#8d8b8c" fill-opacity="0.80" transform="translate(49.0,389.0) rotate(-178)"/>
<path d="M0,2.99 C2.10,0.60 2.10,-1.64 0,-1.64 C-2.10,-1.64 -2.10,0.60 0,2.99Z" fill="url(#cg)" transform="translate(49.0,389.0) rotate(-178)"/>
<path d="M0,2.98 C2.10,0.60 2.10,-1.64 0,-1.64 C-2.10,-1.64 -2.10,0.60 0,2.98Z" fill="#8c8c8c" fill-opacity="0.80" transform="translate(49.0,396.3) rotate(-178)"/>
<path d="M0,2.98 C2.10,0.60 2.10,-1.64 0,-1.64 C-2.10,-1.64 -2.10,0.60 0,2.98Z" fill="url(#cg)" transform="translate(49.0,396.3) rotate(-178)"/>
<path d="M0,2.98 C2.10,0.60 2.10,-1.64 0,-1.64 C-2.10,-1.64 -2.10,0.60 0,2.98Z" fill="#8c8c8c" fill-opacity="0.80" transform="translate(56.2,308.7) rotate(-11)"/>
<path d="M0,2.98 C2.10,0.60 2.10,-1.64 0,-1.64 C-2.10,-1.64 -2.10,0.60 0,2.98Z" fill="url(#cg)" transform="translate(56.2,308.7) rotate(-11)"/>
<path d="M0,2.98 C2.10,0.60 2.10,-1.64 0,-1.64 C-2.10,-1.64 -2.10,0.60 0,2.98Z" fill="#8c8c8b" fill-opacity="0.80" transform="translate(56.2,316.0) rotate(-13)"/>
<path d="M0,2.98 C2.10,0.60 2.10,-1.64 0,-1.64 C-2.10,-1.64 -2.10,0.60 0,2.98Z" fill="url(#cg)" transform="translate(56.2,316.0) rotate(-13)"/>
<path d="M0,3.02 C2.11,0.60 2.11,-1.66 0,-1.66 C-2.11,-1.66 -2.11,0.60 0,3.02Z" fill="#898e88" fill-opacity="0.80" transform="translate(56.2,323.3) rotate(-16)"/>
<path d="M0,3.02 C2.11,0.60 2.11,-1.66 0,-1.66 C-2.11,-1.66 -2.11,0.60 0,3.02Z" fill="url(#cg)" transform="translate(56.2,323.3) rotate(-16)"/>
<path d="M0,3.17 C2.16,0.63 2.16,-1.74 0,-1.74 C-2.16,-1.74 -2.16,0.63 0,3.17Z" fill="#7e967e" fill-opacity="0.80" transform="translate(56.2,330.6) rotate(-21)"/>
<path d="M0,3.17 C2.16,0.63 2.16,-1.74 0,-1.74 C-2.16,-1.74 -2.16,0.63 0,3.17Z" fill="url(#cg)" transform="translate(56.2,330.6) rotate(-21)"/>
<path d="M0,3.55 C2.29,0.71 2.29,-1.95 0,-1.95 C-2.29,-1.95 -2.29,0.71 0,3.55Z" fill="#58ab6c" fill-opacity="0.80" transform="translate(56.2,337.9) rotate(-29)"/>
<path d="M0,3.55 C2.29,0.71 2.29,-1.95 0,-1.95 C-2.29,-1.95 -2.29,0.71 0,3.55Z" fill="url(#cg)" transform="translate(56.2,337.9) rotate(-29)"/>
<path d="M0,4.10 C2.47,0.82 2.47,-2.26 0,-2.26 C-2.47,-2.26 -2.47,0.82 0,4.10Z" fill="#09c079" fill-opacity="0.80" transform="translate(56.2,345.2) rotate(-47)"/>
<path d="M0,4.10 C2.47,0.82 2.47,-2.26 0,-2.26 C-2.47,-2.26 -2.47,0.82 0,4.10Z" fill="url(#cg)" transform="translate(56.2,345.2) rotate(-47)"/>
<path d="M0,4.42 C2.57,0.88 2.57,-2.43 0,-2.43 C-2.57,-2.43 -2.57,0.88 0,4.42Z" fill="#038ccc" fill-opacity="0.80" transform="translate(56.2,352.5) rotate(-85)"/>
<path d="M0,4.42 C2.57,0.88 2.57,-2.43 0,-2.43 C-2.57,-2.43 -2.57,0.88 0,4.42Z" fill="url(#cg)" transform="translate(56.2,352.5) rotate(-85)"/>
<path d="M0,4.20 C2.50,0.84 2.50,-2.31 0,-2.31 C-2.50,-2.31 -2.50,0.84 0,4.20Z" fill="#3426cc" fill-opacity="0.80" transform="translate(56.2,359.8) rotate(-128)"/>
<path d="M0,4.20 C2.50,0.84 2.50,-2.31 0,-2.31 C-2.50,-2.31 -2.50,0.84 0,4.20Z" fill="url(#cg)" transform="translate(56.2,359.8) rotate(-128)"/>
<path d="M0,3.65 C2.32,0.73 2.32,-2.01 0,-2.01 C-2.32,-2.01 -2.32,0.73 0,3.65Z" fill="#823eb0" fill-opacity="0.80" transform="translate(56.2,367.1) rotate(-148)"/>
<path d="M0,3.65 C2.32,0.73 2.32,-2.01 0,-2.01 C-2.32,-2.01 -2.32,0.73 0,3.65Z" fill="url(#cg)" transform="translate(56.2,367.1) rotate(-148)"/>
<path d="M0,3.22 C2.18,0.64 2.18,-1.77 0,-1.77 C-2.18,-1.77 -2.18,0.64 0,3.22Z" fill="#8d6f98" fill-opacity="0.80" transform="translate(56.2,374.4) rotate(-158)"/>
<path d="M0,3.22 C2.18,0.64 2.18,-1.77 0,-1.77 C-2.18,-1.77 -2.18,0.64 0,3.22Z" fill="url(#cg)" transform="translate(56.2,374.4) rotate(-158)"/>
<path d="M0,3.04 C2.12,0.61 2.12,-1.67 0,-1.67 C-2.12,-1.67 -2.12,0.61 0,3.04Z" fill="#8d858f" fill-opacity="0.80" transform="translate(56.2,381.7) rotate(-163)"/>
<path d="M0,3.04 C2.12,0.61 2.12,-1.67 0,-1.67 C-2.12,-1.67 -2.12,0.61 0,3.04Z" fill="url(#cg)" transform="translate(56.2,381.7) rotate(-163)"/>
<path d="M0,2.98 C2.10,0.60 2.10,-1.64 0,-1.64 C-2.10,-1.64 -2.10,0.60 0,2.98Z" fill="#8c8b8c" fill-opacity="0.80" transform="translate(56.2,389.0) rotate(-167)"/>
<path d="M0,2.98 C2.10,0.60 2.10,-1.64 0,-1.64 C-2.10,-1.64 -2.10,0.60 0,2.98Z" fill="url(#cg)" transform="translate(56.2,389.0) rotate(-167)"/>
<path d="M0,2.98 C2.10,0.60 2.10,-1.64 0,-1.64 C-2.10,-1.64 -2.10,0.60 0,2.98Z" fill="#8c8c8c" fill-opacity="0.80" transform="translate(56.2,396.3) rotate(-169)"/>
<path d="M0,2.98 C2.10,0.60 2.10,-1.64 0,-1.64 C-2.10,-1.64 -2.10,0.60 0,2.98Z" fill="url(#cg)" transform="translate(56.2,396.3) rotate(-169)"/>
<path d="M0,2.98 C2.10,0.60 2.10,-1.64 0,-1.64 C-2.10,-1.64 -2.10,0.60 0,2.98Z" fill="#8c8c8c" fill-opacity="0.80" transform="translate(63.5,308.7) rotate(-19)"/>
<path d="M0,2.98 C2.10,0.60 2.10,-1.64 0,-1.64 C-2.10,-1.64 -2.10,0.60 0,2.98Z" fill="url(#cg)" transform="translate(63.5,308.7) rotate(-19)"/>
<path d="M0,2.98 C2.10,0.60 2.10,-1.64 0,-1.64 C-2.10,-1.64 -2.10,0.60 0,2.98Z" fill="#8c8c8c" fill-opacity="0.80" transform="translate(63.5,316.0) rotate(-23)"/>
<path d="M0,2.98 C2.10,0.60 2.10,-1.64 0,-1.64 C-2.10,-1.64 -2.10,0.60 0,2.98Z" fill="url(#cg)" transform="translate(63.5,316.0) rotate(-23)"/>
<path d="M0,3.00 C2.11,0.60 2.11,-1.65 0,-1.65 C-2.11,-1.65 -2.11,0.60 0,3.00Z" fill="#8a8d8b" fill-opacity="0.80" transform="translate(63.5,323.3) rotate(-28)"/>
<path d="M0,3.00 C2.11,0.60 2.11,-1.65 0,-1.65 C-2.11,-1.65 -2.11,0.60 0,3.00Z" fill="url(#cg)" transform="translate(63.5,323.3) rotate(-28)"/>
<path d="M0,3.07 C2.13,0.61 2.13,-1.69 0,-1.69 C-2.13,-1.69 -2.13,0.61 0,3.07Z" fill="#829188" fill-opacity="0.80" transform="translate(63.5,330.6) rotate(-35)"/>
<path d="M0,3.07 C2.13,0.61 2.13,-1.69 0,-1.69 C-2.13,-1.69 -2.13,0.61 0,3.07Z" fill="url(#cg)" transform="translate(63.5,330.6) rotate(-35)"/>
<path d="M0,3.27 C2.20,0.65 2.20,-1.80 0,-1.80 C-2.20,-1.80 -2.20,0.65 0,3.27Z" fill="#6a9a86" fill-opacity="0.80" transform="translate(63.5,337.9) rotate(-46)"/>
<path d="M0,3.27 C2.20,0.65 2.20,-1.80 0,-1.80 C-2.20,-1.80 -2.20,0.65 0,3.27Z" fill="url(#cg)" transform="translate(63.5,337.9) rotate(-46)"/>
<path d="M0,3.54 C2.29,0.71 2.29,-1.95 0,-1.95 C-2.29,-1.95 -2.29,0.71 0,3.54Z" fill="#4a9c96" fill-opacity="0.80" transform="translate(63.5,345.2) rotate(-63)"/>
<path d="M0,3.54 C2.29,0.71 2.29,-1.95 0,-1.95 C-2.29,-1.95 -2.29,0.71 0,3.54Z" fill="url(#cg)" transform="translate(63.5,345.2) rotate(-63)"/>
<path d="M0,3.70 C2.34,0.74 2.34,-2.04 0,-2.04 C-2.34,-2.04 -2.34,0.74 0,3.70Z" fill="#3a89b3" fill-opacity="0.80" transform="translate(63.5,352.5) rotate(-87)"/>
<path d="M0,3.70 C2.34,0.74 2.34,-2.04 0,-2.04 C-2.34,-2.04 -2.34,0.74 0,3.70Z" fill="url(#cg)" transform="translate(63.5,352.5) rotate(-87)"/>
<path d="M0,3.59 C2.30,0.72 2.30,-1.97 0,-1.97 C-2.30,-1.97 -2.30,0.72 0,3.59Z" fill="#4f68ad" fill-opacity="0.80" transform="translate(63.5,359.8) rotate(-113)"/>
<path d="M0,3.59 C2.30,0.72 2.30,-1.97 0,-1.97 C-2.30,-1.97 -2.30,0.72 0,3.59Z" fill="url(#cg)" transform="translate(63.5,359.8) rotate(-113)"/>
<path d="M0,3.32 C2.21,0.66 2.21,-1.82 0,-1.82 C-2.21,-1.82 -2.21,0.66 0,3.32Z" fill="#776d9e" fill-opacity="0.80" transform="translate(63.5,367.1) rotate(-131)"/>
<path d="M0,3.32 C2.21,0.66 2.21,-1.82 0,-1.82 C-2.21,-1.82 -2.21,0.66 0,3.32Z" fill="url(#cg)" transform="translate(63.5,367.1) rotate(-131)"/>
<path d="M0,3.10 C2.14,0.62 2.14,-1.71 0,-1.71 C-2.14,-1.71 -2.14,0.62 0,3.10Z" fill="#887f93" fill-opacity="0.80" transform="translate(63.5,374.4) rotate(-143)"/>
<path d="M0,3.10 C2.14,0.62 2.14,-1.71 0,-1.71 C-2.14,-1.71 -2.14,0.62 0,3.10Z" fill="url(#cg)" transform="translate(63.5,374.4) rotate(-143)"/>
<path d="M0,3.01 C2.11,0.60 2.11,-1.65 0,-1.65 C-2.11,-1.65 -2.11,0.60 0,3.01Z" fill="#8c888e" fill-opacity="0.80" transform="translate(63.5,381.7) rotate(-151)"/>
<path d="M0,3.01 C2.11,0.60 2.11,-1.65 0,-1.65 C-2.11,-1.65 -2.11,0.60 0,3.01Z" fill="url(#cg)" transform="translate(63.5,381.7) rotate(-151)"/>
<path d="M0,2.98 C2.10,0.60 2.10,-1.64 0,-1.64 C-2.10,-1.64 -2.10,0.60 0,2.98Z" fill="#8c8b8c" fill-opacity="0.80" transform="translate(63.5,389.0) rotate(-156)"/>
<path d="M0,2.98 C2.10,0.60 2.10,-1.64 0,-1.64 C-2.10,-1.64 -2.10,0.60 0,2.98Z" fill="url(#cg)" transform="translate(63.5,389.0) rotate(-156)"/>
<path d="M0,2.98 C2.10,0.60 2.10,-1.64 0,-1.64 C-2.10,-1.64 -2.10,0.60 0,2.98Z" fill="#8c8c8c" fill-opacity="0.80" transform="translate(63.5,396.3) rotate(-160)"/>
<path d="M0,2.98 C2.10,0.60 2.10,-1.64 0,-1.64 C-2.10,-1.64 -2.10,0.60 0,2.98Z" fill="url(#cg)" transform="translate(63.5,396.3) rotate(-160)"/>
<path d="M0,2.98 C2.10,0.60 2.10,-1.64 0,-1.64 C-2.10,-1.64 -2.10,0.60 0,2.98Z" fill="#8c8c8c" fill-opacity="0.80" transform="translate(70.7,308.7) rotate(-27)"/>
<path d="M0,2.98 C2.10,0.60 2.10,-1.64 0,-1.64 C-2.10,-1.64 -2.10,0.60 0,2.98Z" fill="url(#cg)" transform="translate(70.7,308.7) rotate(-27)"/>
<path d="M0,2.98 C2.10,0.60 2.10,-1.64 0,-1.64 C-2.10,-1.64 -2.10,0.60 0,2.98Z" fill="#8c8c8c" fill-opacity="0.80" transform="translate(70.7,316.0) rotate(-32)"/>
<path d="M0,2.98 C2.10,0.60 2.10,-1.64 0,-1.64 C-2.10,-1.64 -2.10,0.60 0,2.98Z" fill="url(#cg)" transform="translate(70.7,316.0) rotate(-32)"/>
<path d="M0,2.98 C2.10,0.60 2.10,-1.64 0,-1.64 C-2.10,-1.64 -2.10,0.60 0,2.98Z" fill="#8b8c8c" fill-opacity="0.80" transform="translate(70.7,323.3) rotate(-38)"/>
<path d="M0,2.98 C2.10,0.60 2.10,-1.64 0,-1.64 C-2.10,-1.64 -2.10,0.60 0,2.98Z" fill="url(#cg)" transform="translate(70.7,323.3) rotate(-38)"/>
<path d="M0,3.01 C2.11,0.60 2.11,-1.65 0,-1.65 C-2.11,-1.65 -2.11,0.60 0,3.01Z" fill="#888e8b" fill-opacity="0.80" transform="translate(70.7,330.6) rotate(-45)"/>
<path d="M0,3.01 C2.11,0.60 2.11,-1.65 0,-1.65 C-2.11,-1.65 -2.11,0.60 0,3.01Z" fill="url(#cg)" transform="translate(70.7,330.6) rotate(-45)"/>
<path d="M0,3.07 C2.13,0.61 2.13,-1.69 0,-1.69 C-2.13,-1.69 -2.13,0.61 0,3.07Z" fill="#81908c" fill-opacity="0.80" transform="translate(70.7,337.9) rotate(-56)"/>
<path d="M0,3.07 C2.13,0.61 2.13,-1.69 0,-1.69 C-2.13,-1.69 -2.13,0.61 0,3.07Z" fill="url(#cg)" transform="translate(70.7,337.9) rotate(-56)"/>
<path d="M0,3.17 C2.16,0.63 2.16,-1.74 0,-1.74 C-2.16,-1.74 -2.16,0.63 0,3.17Z" fill="#769092" fill-opacity="0.80" transform="translate(70.7,345.2) rotate(-71)"/>
<path d="M0,3.17 C2.16,0.63 2.16,-1.74 0,-1.74 C-2.16,-1.74 -2.16,0.63 0,3.17Z" fill="url(#cg)" transform="translate(70.7,345.2) rotate(-71)"/>
<path d="M0,3.22 C2.18,0.64 2.18,-1.77 0,-1.77 C-2.18,-1.77 -2.18,0.64 0,3.22Z" fill="#718a99" fill-opacity="0.80" transform="translate(70.7,352.5) rotate(-88)"/>
<path d="M0,3.22 C2.18,0.64 2.18,-1.77 0,-1.77 C-2.18,-1.77 -2.18,0.64 0,3.22Z" fill="url(#cg)" transform="translate(70.7,352.5) rotate(-88)"/>
<path d="M0,3.18 C2.17,0.64 2.17,-1.75 0,-1.75 C-2.17,-1.75 -2.17,0.64 0,3.18Z" fill="#778397" fill-opacity="0.80" transform="translate(70.7,359.8) rotate(-106)"/>
<path d="M0,3.18 C2.17,0.64 2.17,-1.75 0,-1.75 C-2.17,-1.75 -2.17,0.64 0,3.18Z" fill="url(#cg)" transform="translate(70.7,359.8) rotate(-106)"/>
<path d="M0,3.09 C2.14,0.62 2.14,-1.70 0,-1.70 C-2.14,-1.70 -2.14,0.62 0,3.09Z" fill="#818392" fill-opacity="0.80" transform="translate(70.7,367.1) rotate(-121)"/>
<path d="M0,3.09 C2.14,0.62 2.14,-1.70 0,-1.70 C-2.14,-1.70 -2.14,0.62 0,3.09Z" fill="url(#cg)" transform="translate(70.7,367.1) rotate(-121)"/>
<path d="M0,3.02 C2.11,0.60 2.11,-1.66 0,-1.66 C-2.11,-1.66 -2.11,0.60 0,3.02Z" fill="#8a888e" fill-opacity="0.80" transform="translate(70.7,374.4) rotate(-133)"/>
<path d="M0,3.02 C2.11,0.60 2.11,-1.66 0,-1.66 C-2.11,-1.66 -2.11,0.60 0,3.02Z" fill="url(#cg)" transform="translate(70.7,374.4) rotate(-133)"/>
<path d="M0,2.99 C2.10,0.60 2.10,-1.64 0,-1.64 C-2.10,-1.64 -2.10,0.60 0,2.99Z" fill="#8c8b8d" fill-opacity="0.80" transform="translate(70.7,381.7) rotate(-141)"/>
<path d="M0,2.99 C2.10,0.60 2.10,-1.64 0,-1.64 C-2.10,-1.64 -2.10,0.60 0,2.99Z" fill="url(#cg)" transform="translate(70.7,381.7) rotate(-141)"/>
<path d="M0,2.98 C2.10,0.60 2.10,-1.64 0,-1.64 C-2.10,-1.64 -2.10,0.60 0,2.98Z" fill="#8c8c8c" fill-opacity="0.80" transform="translate(70.7,389.0) rotate(-147)"/>
<path d="M0,2.98 C2.10,0.60 2.10,-1.64 0,-1.64 C-2.10,-1.64 -2.10,0.60 0,2.98Z" fill="url(#cg)" transform="translate(70.7,389.0) rotate(-147)"/>
<path d="M0,2.98 C2.10,0.60 2.10,-1.64 0,-1.64 C-2.10,-1.64 -2.10,0.60 0,2.98Z" fill="#8c8c8c" fill-opacity="0.80" transform="translate(70.7,396.3) rotate(-152)"/>
<path d="M0,2.98 C2.10,0.60 2.10,-1.64 0,-1.64 C-2.10,-1.64 -2.10,0.60 0,2.98Z" fill="url(#cg)" transform="translate(70.7,396.3) rotate(-152)"/>
<path d="M0,2.98 C2.10,0.60 2.10,-1.64 0,-1.64 C-2.10,-1.64 -2.10,0.60 0,2.98Z" fill="#8c8c8c" fill-opacity="0.80" transform="translate(77.9,308.7) rotate(-34)"/>
<path d="M0,2.98 C2.10,0.60 2.10,-1.64 0,-1.64 C-2.10,-1.64 -2.10,0.60 0,2.98Z" fill="url(#cg)" transform="translate(77.9,308.7) rotate(-34)"/>
<path d="M0,2.98 C2.10,0.60 2.10,-1.64 0,-1.64 C-2.10,-1.64 -2.10,0.60 0,2.98Z" fill="#8c8c8c" fill-opacity="0.80" transform="translate(77.9,316.0) rotate(-39)"/>
<path d="M0,2.98 C2.10,0.60 2.10,-1.64 0,-1.64 C-2.10,-1.64 -2.10,0.60 0,2.98Z" fill="url(#cg)" transform="translate(77.9,316.0) rotate(-39)"/>
<path d="M0,2.98 C2.10,0.60 2.10,-1.64 0,-1.64 C-2.10,-1.64 -2.10,0.60 0,2.98Z" fill="#8c8c8c" fill-opacity="0.80" transform="translate(77.9,323.3) rotate(-45)"/>
<path d="M0,2.98 C2.10,0.60 2.10,-1.64 0,-1.64 C-2.10,-1.64 -2.10,0.60 0,2.98Z" fill="url(#cg)" transform="translate(77.9,323.3) rotate(-45)"/>
<path d="M0,2.98 C2.10,0.60 2.10,-1.64 0,-1.64 C-2.10,-1.64 -2.10,0.60 0,2.98Z" fill="#8b8c8c" fill-opacity="0.80" transform="translate(77.9,330.6) rotate(-53)"/>
<path d="M0,2.98 C2.10,0.60 2.10,-1.64 0,-1.64 C-2.10,-1.64 -2.10,0.60 0,2.98Z" fill="url(#cg)" transform="translate(77.9,330.6) rotate(-53)"/>
<path d="M0,3.00 C2.11,0.60 2.11,-1.65 0,-1.65 C-2.11,-1.65 -2.11,0.60 0,3.00Z" fill="#898d8c" fill-opacity="0.80" transform="translate(77.9,337.9) rotate(-63)"/>
<path d="M0,3.00 C2.11,0.60 2.11,-1.65 0,-1.65 C-2.11,-1.65 -2.11,0.60 0,3.00Z" fill="url(#cg)" transform="translate(77.9,337.9) rotate(-63)"/>
<path d="M0,3.02 C2.11,0.60 2.11,-1.66 0,-1.66 C-2.11,-1.66 -2.11,0.60 0,3.02Z" fill="#878d8e" fill-opacity="0.80" transform="translate(77.9,345.2) rotate(-75)"/>
<path d="M0,3.02 C2.11,0.60 2.11,-1.66 0,-1.66 C-2.11,-1.66 -2.11,0.60 0,3.02Z" fill="url(#cg)" transform="translate(77.9,345.2) rotate(-75)"/>
<path d="M0,3.03 C2.12,0.61 2.12,-1.67 0,-1.67 C-2.12,-1.67 -2.12,0.61 0,3.03Z" fill="#868c8f" fill-opacity="0.80" transform="translate(77.9,352.5) rotate(-89)"/>
<path d="M0,3.03 C2.12,0.61 2.12,-1.67 0,-1.67 C-2.12,-1.67 -2.12,0.61 0,3.03Z" fill="url(#cg)" transform="translate(77.9,352.5) rotate(-89)"/>
<path d="M0,3.02 C2.11,0.60 2.11,-1.66 0,-1.66 C-2.11,-1.66 -2.11,0.60 0,3.02Z" fill="#878a8e" fill-opacity="0.80" transform="translate(77.9,359.8) rotate(-102)"/>
<path d="M0,3.02 C2.11,0.60 2.11,-1.66 0,-1.66 C-2.11,-1.66 -2.11,0.60 0,3.02Z" fill="url(#cg)" transform="translate(77.9,359.8) rotate(-102)"/>
<path d="M0,3.00 C2.11,0.60 2.11,-1.65 0,-1.65 C-2.11,-1.65 -2.11,0.60 0,3.00Z" fill="#8a8a8d" fill-opacity="0.80" transform="translate(77.9,367.1) rotate(-115)"/>
<path d="M0,3.00 C2.11,0.60 2.11,-1.65 0,-1.65 C-2.11,-1.65 -2.11,0.60 0,3.00Z" fill="url(#cg)" transform="translate(77.9,367.1) rotate(-115)"/>
<path d="M0,2.98 C2.10,0.60 2.10,-1.64 0,-1.64 C-2.10,-1.64 -2.10,0.60 0,2.98Z" fill="#8b8b8c" fill-opacity="0.80" transform="translate(77.9,374.4) rotate(-125)"/>
<path d="M0,2.98 C2.10,0.60 2.10,-1.64 0,-1.64 C-2.10,-1.64 -2.10,0.60 0,2.98Z" fill="url(#cg)" transform="translate(77.9,374.4) rotate(-125)"/>
<path d="M0,2.98 C2.10,0.60 2.10,-1.64 0,-1.64 C-2.10,-1.64 -2.10,0.60 0,2.98Z" fill="#8c8c8c" fill-opacity="0.80" transform="translate(77.9,381.7) rotate(-133)"/>
<path d="M0,2.98 C2.10,0.60 2.10,-1.64 0,-1.64 C-2.10,-1.64 -2.10,0.60 0,2.98Z" fill="url(#cg)" transform="translate(77.9,381.7) rotate(-133)"/>
<path d="M0,2.98 C2.10,0.60 2.10,-1.64 0,-1.64 C-2.10,-1.64 -2.10,0.60 0,2.98Z" fill="#8c8c8c" fill-opacity="0.80" transform="translate(77.9,389.0) rotate(-140)"/>
<path d="M0,2.98 C2.10,0.60 2.10,-1.64 0,-1.64 C-2.10,-1.64 -2.10,0.60 0,2.98Z" fill="url(#cg)" transform="translate(77.9,389.0) rotate(-140)"/>
<path d="M0,2.98 C2.10,0.60 2.10,-1.64 0,-1.64 C-2.10,-1.64 -2.10,0.60 0,2.98Z" fill="#8c8c8c" fill-opacity="0.80" transform="translate(77.9,396.3) rotate(-145)"/>
<path d="M0,2.98 C2.10,0.60 2.10,-1.64 0,-1.64 C-2.10,-1.64 -2.10,0.60 0,2.98Z" fill="url(#cg)" transform="translate(77.9,396.3) rotate(-145)"/>
<path d="M0,2.98 C2.10,0.60 2.10,-1.64 0,-1.64 C-2.10,-1.64 -2.10,0.60 0,2.98Z" fill="#8c8c8c" fill-opacity="0.80" transform="translate(85.2,308.7) rotate(-40)"/>
<path d="M0,2.98 C2.10,0.60 2.10,-1.64 0,-1.64 C-2.10,-1.64 -2.10,0.60 0,2.98Z" fill="url(#cg)" transform="translate(85.2,308.7) rotate(-40)"/>
<path d="M0,2.98 C2.10,0.60 2.10,-1.64 0,-1.64 C-2.10,-1.64 -2.10,0.60 0,2.98Z" fill="#8c8c8c" fill-opacity="0.80" transform="translate(85.2,316.0) rotate(-45)"/>
<path d="M0,2.98 C2.10,0.60 2.10,-1.64 0,-1.64 C-2.10,-1.64 -2.10,0.60 0,2.98Z" fill="url(#cg)" transform="translate(85.2,316.0) rotate(-45)"/>
<path d="M0,2.98 C2.10,0.60 2.10,-1.64 0,-1.64 C-2.10,-1.64 -2.10,0.60 0,2.98Z" fill="#8c8c8c" fill-opacity="0.80" transform="translate(85.2,323.3) rotate(-51)"/>
<path d="M0,2.98 C2.10,0.60 2.10,-1.64 0,-1.64 C-2.10,-1.64 -2.10,0.60 0,2.98Z" fill="url(#cg)" transform="translate(85.2,323.3) rotate(-51)"/>
<path d="M0,2.98 C2.10,0.60 2.10,-1.64 0,-1.64 C-2.10,-1.64 -2.10,0.60 0,2.98Z" fill="#8c8c8c" fill-opacity="0.80" transform="translate(85.2,330.6) rotate(-59)"/>
<path d="M0,2.98 C2.10,0.60 2.10,-1.64 0,-1.64 C-2.10,-1.64 -2.10,0.60 0,2.98Z" fill="url(#cg)" transform="translate(85.2,330.6) rotate(-59)"/>
<path d="M0,2.98 C2.10,0.60 2.10,-1.64 0,-1.64 C-2.10,-1.64 -2.10,0.60 0,2.98Z" fill="#8c8c8c" fill-opacity="0.80" transform="translate(85.2,337.9) rotate(-68)"/>
<path d="M0,2.98 C2.10,0.60 2.10,-1.64 0,-1.64 C-2.10,-1.64 -2.10,0.60 0,2.98Z" fill="url(#cg)" transform="translate(85.2,337.9) rotate(-68)"/>
<path d="M0,2.98 C2.10,0.60 2.10,-1.64 0,-1.64 C-2.10,-1.64 -2.10,0.60 0,2.98Z" fill="#8b8c8c" fill-opacity="0.80" transform="translate(85.2,345.2) rotate(-78)"/>
<path d="M0,2.98 C2.10,0.60 2.10,-1.64 0,-1.64 C-2.10,-1.64 -2.10,0.60 0,2.98Z" fill="url(#cg)" transform="translate(85.2,345.2) rotate(-78)"/>
<path d="M0,2.98 C2.10,0.60 2.10,-1.64 0,-1.64 C-2.10,-1.64 -2.10,0.60 0,2.98Z" fill="#8b8c8c" fill-opacity="0.80" transform="translate(85.2,352.5) rotate(-89)"/>
<path d="M0,2.98 C2.10,0.60 2.10,-1.64 0,-1.64 C-2.10,-1.64 -2.10,0.60 0,2.98Z" fill="url(#cg)" transform="translate(85.2,352.5) rotate(-89)"/>
<path d="M0,2.98 C2.10,0.60 2.10,-1.64 0,-1.64 C-2.10,-1.64 -2.10,0.60 0,2.98Z" fill="#8b8c8c" fill-opacity="0.80" transform="translate(85.2,359.8) rotate(-100)"/>
<path d="M0,2.98 C2.10,0.60 2.10,-1.64 0,-1.64 C-2.10,-1.64 -2.10,0.60 0,2.98Z" fill="url(#cg)" transform="translate(85.2,359.8) rotate(-100)"/>
<path d="M0,2.98 C2.10,0.60 2.10,-1.64 0,-1.64 C-2.10,-1.64 -2.10,0.60 0,2.98Z" fill="#8c8c8c" fill-opacity="0.80" transform="translate(85.2,367.1) rotate(-110)"/>
<path d="M0,2.98 C2.10,0.60 2.10,-1.64 0,-1.64 C-2.10,-1.64 -2.10,0.60 0,2.98Z" fill="url(#cg)" transform="translate(85.2,367.1) rotate(-110)"/>
<path d="M0,2.98 C2.10,0.60 2.10,-1.64 0,-1.64 C-2.10,-1.64 -2.10,0.60 0,2.98Z" fill="#8c8c8c" fill-opacity="0.80" transform="translate(85.2,374.4) rotate(-120)"/>
<path d="M0,2.98 C2.10,0.60 2.10,-1.64 0,-1.64 C-2.10,-1.64 -2.10,0.60 0,2.98Z" fill="url(#cg)" transform="translate(85.2,374.4) rotate(-120)"/>
<path d="M0,2.98 C2.10,0.60 2.10,-1.64 0,-1.64 C-2.10,-1.64 -2.10,0.60 0,2.98Z" fill="#8c8c8c" fill-opacity="0.80" transform="translate(85.2,381.7) rotate(-127)"/>
<path d="M0,2.98 C2.10,0.60 2.10,-1.64 0,-1.64 C-2.10,-1.64 -2.10,0.60 0,2.98Z" fill="url(#cg)" transform="translate(85.2,381.7) rotate(-127)"/>
<path d="M0,2.98 C2.10,0.60 2.10,-1.64 0,-1.64 C-2.10,-1.64 -2.10,0.60 0,2.98Z" fill="#8c8c8c" fill-opacity="0.80" transform="translate(85.2,389.0) rotate(-134)"/>
<path d="M0,2.98 C2.10,0.60 2.10,-1.64 0,-1.64 C-2.10,-1.64 -2.10,0.60 0,2.98Z" fill="url(#cg)" transform="translate(85.2,389.0) rotate(-134)"/>
<path d="M0,2.98 C2.10,0.60 2.10,-1.64 0,-1.64 C-2.10,-1.64 -2.10,0.60 0,2.98Z" fill="#8c8c8c" fill-opacity="0.80" transform="translate(85.2,396.3) rotate(-139)"/>
<path d="M0,2.98 C2.10,0.60 2.10,-1.64 0,-1.64 C-2.10,-1.64 -2.10,0.60 0,2.98Z" fill="url(#cg)" transform="translate(85.2,396.3) rotate(-139)"/>
<path d="M0,2.98 C2.10,0.60 2.10,-1.64 0,-1.64 C-2.10,-1.64 -2.10,0.60 0,2.98Z" fill="#8c8c8c" fill-opacity="0.80" transform="translate(92.4,308.7) rotate(-45)"/>
<path d="M0,2.98 C2.10,0.60 2.10,-1.64 0,-1.64 C-2.10,-1.64 -2.10,0.60 0,2.98Z" fill="url(#cg)" transform="translate(92.4,308.7) rotate(-45)"/>
<path d="M0,2.98 C2.10,0.60 2.10,-1.64 0,-1.64 C-2.10,-1.64 -2.10,0.60 0,2.98Z" fill="#8c8c8c" fill-opacity="0.80" transform="translate(92.4,316.0) rotate(-50)"/>
<path d="M0,2.98 C2.10,0.60 2.10,-1.64 0,-1.64 C-2.10,-1.64 -2.10,0.60 0,2.98Z" fill="url(#cg)" transform="translate(92.4,316.0) rotate(-50)"/>
<path d="M0,2.98 C2.10,0.60 2.10,-1.64 0,-1.64 C-2.10,-1.64 -2.10,0.60 0,2.98Z" fill="#8c8c8c" fill-opacity="0.80" transform="translate(92.4,323.3) rotate(-56)"/>
<path d="M0,2.98 C2.10,0.60 2.10,-1.64 0,-1.64 C-2.10,-1.64 -2.10,0.60 0,2.98Z" fill="url(#cg)" transform="translate(92.4,323.3) rotate(-56)"/>
<path d="M0,2.98 C2.10,0.60 2.10,-1.64 0,-1.64 C-2.10,-1.64 -2.10,0.60 0,2.98Z" fill="#8c8c8c" fill-opacity="0.80" transform="translate(92.4,330.6) rotate(-63)"/>
<path d="M0,2.98 C2.10,0.60 2.10,-1.64 0,-1.64 C-2.10,-1.64 -2.10,0.60 0,2.98Z" fill="url(#cg)" transform="translate(92.4,330.6) rotate(-63)"/>
<path d="M0,2.98 C2.10,0.60 2.10,-1.64 0,-1.64 C-2.10,-1.64 -2.10,0.60 0,2.98Z" fill="#8c8c8c" fill-opacity="0.80" transform="translate(92.4,337.9) rotate(-71)"/>
<path d="M0,2.98 C2.10,0.60 2.10,-1.64 0,-1.64 C-2.10,-1.64 -2.10,0.60 0,2.98Z" fill="url(#cg)" transform="translate(92.4,337.9) rotate(-71)"/>
<path d="M0,2.98 C2.10,0.60 2.10,-1.64 0,-1.64 C-2.10,-1.64 -2.10,0.60 0,2.98Z" fill="#8c8c8c" fill-opacity="0.80" transform="translate(92.4,345.2) rotate(-80)"/>
<path d="M0,2.98 C2.10,0.60 2.10,-1.64 0,-1.64 C-2.10,-1.64 -2.10,0.60 0,2.98Z" fill="url(#cg)" transform="translate(92.4,345.2) rotate(-80)"/>
<path d="M0,2.98 C2.10,0.60 2.10,-1.64 0,-1.64 C-2.10,-1.64 -2.10,0.60 0,2.98Z" fill="#8c8c8c" fill-opacity="0.80" transform="translate(92.4,352.5) rotate(-89)"/>
<path d="M0,2.98 C2.10,0.60 2.10,-1.64 0,-1.64 C-2.10,-1.64 -2.10,0.60 0,2.98Z" fill="url(#cg)" transform="translate(92.4,352.5) rotate(-89)"/>
<path d="M0,2.98 C2.10,0.60 2.10,-1.64 0,-1.64 C-2.10,-1.64 -2.10,0.60 0,2.98Z" fill="#8c8c8c" fill-opacity="0.80" transform="translate(92.4,359.8) rotate(-98)"/>
<path d="M0,2.98 C2.10,0.60 2.10,-1.64 0,-1.64 C-2.10,-1.64 -2.10,0.60 0,2.98Z" fill="url(#cg)" transform="translate(92.4,359.8) rotate(-98)"/>
<path d="M0,2.98 C2.10,0.60 2.10,-1.64 0,-1.64 C-2.10,-1.64 -2.10,0.60 0,2.98Z" fill="#8c8c8c" fill-opacity="0.80" transform="translate(92.4,367.1) rotate(-107)"/>
<path d="M0,2.98 C2.10,0.60 2.10,-1.64 0,-1.64 C-2.10,-1.64 -2.10,0.60 0,2.98Z" fill="url(#cg)" transform="translate(92.4,367.1) rotate(-107)"/>
<path d="M0,2.98 C2.10,0.60 2.10,-1.64 0,-1.64 C-2.10,-1.64 -2.10,0.60 0,2.98Z" fill="#8c8c8c" fill-opacity="0.80" transform="translate(92.4,374.4) rotate(-115)"/>
<path d="M0,2.98 C2.10,0.60 2.10,-1.64 0,-1.64 C-2.10,-1.64 -2.10,0.60 0,2.98Z" fill="url(#cg)" transform="translate(92.4,374.4) rotate(-115)"/>
<path d="M0,2.98 C2.10,0.60 2.10,-1.64 0,-1.64 C-2.10,-1.64 -2.10,0.60 0,2.98Z" fill="#8c8c8c" fill-opacity="0.80" transform="translate(92.4,381.7) rotate(-123)"/>
<path d="M0,2.98 C2.10,0.60 2.10,-1.64 0,-1.64 C-2.10,-1.64 -2.10,0.60 0,2.98Z" fill="url(#cg)" transform="translate(92.4,381.7) rotate(-123)"/>
<path d="M0,2.98 C2.10,0.60 2.10,-1.64 0,-1.64 C-2.10,-1.64 -2.10,0.60 0,2.98Z" fill="#8c8c8c" fill-opacity="0.80" transform="translate(92.4,389.0) rotate(-129)"/>
<path d="M0,2.98 C2.10,0.60 2.10,-1.64 0,-1.64 C-2.10,-1.64 -2.10,0.60 0,2.98Z" fill="url(#cg)" transform="translate(92.4,389.0) rotate(-129)"/>
<path d="M0,2.98 C2.10,0.60 2.10,-1.64 0,-1.64 C-2.10,-1.64 -2.10,0.60 0,2.98Z" fill="#8c8c8c" fill-opacity="0.80" transform="translate(92.4,396.3) rotate(-134)"/>
<path d="M0,2.98 C2.10,0.60 2.10,-1.64 0,-1.64 C-2.10,-1.64 -2.10,0.60 0,2.98Z" fill="url(#cg)" transform="translate(92.4,396.3) rotate(-134)"/>
<rect x="0.65" y="45.20" width="16.20" height="20.80" fill="#fff" stroke="#000" stroke-width="1.3" />
<text x="8.85" y="60.20" font-size="15.16" fill="#000" text-anchor="middle" font-weight="bold" textLength="9.65" lengthAdjust="spacingAndGlyphs" >a</text>
<rect x="0.65" y="174.80" width="16.20" height="20.80" fill="#fff" stroke="#000" stroke-width="1.3" />
<text x="8.85" y="189.80" font-size="15.16" fill="#000" text-anchor="middle" font-weight="bold" textLength="10.24" lengthAdjust="spacingAndGlyphs" >b</text>
<rect x="0.65" y="304.80" width="16.20" height="20.80" fill="#fff" stroke="#000" stroke-width="1.3" />
<text x="8.85" y="319.80" font-size="15.16" fill="#000" text-anchor="middle" font-weight="bold" textLength="8.48" lengthAdjust="spacingAndGlyphs" >c</text>
<text x="51.4" y="156.40" font-size="12.19" text-anchor="middle" textLength="50.0" lengthAdjust="spacingAndGlyphs"><tspan font-style="italic">B</tspan><tspan font-size="8.53" dx="1.5" dy="2.8">⊥</tspan><tspan dy="-2.8"> = 4 T</tspan></text>
<text x="51.4" y="286.40" font-size="12.19" text-anchor="middle" textLength="50.0" lengthAdjust="spacingAndGlyphs"><tspan font-style="italic">B</tspan><tspan font-size="8.53" dx="1.5" dy="2.8">⊥</tspan><tspan dy="-2.8"> = 6 T</tspan></text>
<text x="51.4" y="416.80" font-size="12.19" text-anchor="middle" textLength="50.0" lengthAdjust="spacingAndGlyphs"><tspan font-style="italic">B</tspan><tspan font-size="8.53" dx="1.5" dy="2.8">⊥</tspan><tspan dy="-2.8"> = 6 T</tspan></text>
<path d="M163.70,64.00 L166.92,65.00 L170.14,65.97 L173.36,66.93 L176.58,67.87 L179.80,68.78 L183.02,69.68 L186.24,70.56 L189.46,71.42 L192.68,72.26 L195.90,73.08 L199.12,73.88 L202.34,74.67 L205.56,75.44 L208.78,76.19 L212.01,76.93 L215.23,77.65 L218.45,78.36 L221.67,79.05 L224.89,79.73 L228.11,80.39 L231.33,81.04 L234.55,81.67 L237.77,82.29 L240.99,82.90 L244.21,83.49 L247.43,84.08 L250.65,84.65 L253.87,85.20 L257.09,85.75 L260.31,86.29 L263.53,86.82 L266.75,87.33 L269.97,87.84 L273.19,88.33 L276.41,88.82 L279.63,89.30 L282.85,89.77 L286.07,90.23 L289.29,90.69 L292.51,91.14 L295.73,91.58 L298.95,92.01 L302.17,92.44 L305.39,92.86 L308.62,93.28 L311.84,93.69 L315.06,94.09 L318.28,94.50 L321.50,94.89 L324.72,95.29 L327.94,95.68 L331.16,96.07 L334.38,96.45 L337.60,96.83 L340.82,97.21 L344.04,97.59 L347.26,97.97 L350.48,98.35 L353.70,98.72" fill="none" stroke="#1f77b4" stroke-width="2.2" stroke-dasharray="7.6,3.5" />
<path d="M163.70,104.16 L166.64,105.29 L169.58,106.42 L172.52,107.54 L175.45,108.65 L178.39,109.74 L181.33,110.83 L184.27,111.91 L187.21,112.98 L190.15,114.03 L193.09,115.08 L196.02,116.12 L198.96,117.14 L201.90,118.16 L204.84,119.17 L207.78,120.17 L210.72,121.15 L213.66,122.13 L216.60,123.10 L219.53,124.05 L222.47,125.00 L225.41,125.94 L228.35,126.86 L231.29,127.78 L234.23,128.69 L237.17,129.58 L240.10,130.47 L243.04,131.34 L245.98,132.21 L248.92,133.07 L251.86,133.91 L254.80,134.75 L257.74,135.58 L260.68,136.39 L263.61,137.20 L266.55,137.99 L269.49,138.78 L272.43,139.55 L275.37,140.32 L278.31,141.08 L281.25,141.82 L284.18,142.56 L287.12,143.28 L290.06,144.00 L293.00,144.70" fill="none" stroke="#d62728" stroke-width="2.2" stroke-dasharray="7.6,3.5" />
<path d="M164.00,50.59 L171.31,53.33 L178.61,55.91 L185.91,58.34 L193.22,60.62 L200.53,62.77 L207.83,64.79 L215.13,66.68 L222.44,68.46 L229.75,70.13 L237.05,71.70 L244.36,73.17 L251.66,74.56 L258.97,75.87 L266.27,77.10 L273.57,78.27 L280.88,79.39 L288.19,80.45 L295.49,81.47 L302.80,82.45 L310.10,83.41 L317.40,84.34 L324.71,85.26 L332.01,86.18 L339.32,87.09 L346.62,88.01 L353.93,88.95" fill="none" stroke="#1f77b4" stroke-width="2.0" />
<path d="M164.00,79.60 L171.31,82.57 L178.61,85.33 L185.91,87.87 L193.22,90.22 L200.53,92.38 L207.83,94.37 L215.13,96.20 L222.44,97.87 L229.75,99.41 L237.05,100.81 L244.36,102.10 L251.66,103.28 L258.97,104.37 L266.27,105.38 L273.57,106.31 L280.88,107.18 L288.19,108.01 L295.49,108.80 L302.80,109.56 L310.10,110.31 L317.40,111.06 L324.71,111.81 L332.01,112.59 L339.32,113.39 L346.62,114.24 L353.93,115.15" fill="none" stroke="#d62728" stroke-width="2.0" />
<circle cx="164.00" cy="50.59" r="3.5" fill="#1f77b4"/>
<circle cx="171.31" cy="53.33" r="3.5" fill="#1f77b4"/>
<circle cx="178.61" cy="55.91" r="3.5" fill="#1f77b4"/>
<circle cx="185.91" cy="58.34" r="3.5" fill="#1f77b4"/>
<circle cx="193.22" cy="60.62" r="3.5" fill="#1f77b4"/>
<circle cx="200.53" cy="62.77" r="3.5" fill="#1f77b4"/>
<circle cx="207.83" cy="64.79" r="3.5" fill="#1f77b4"/>
<circle cx="215.13" cy="66.68" r="3.5" fill="#1f77b4"/>
<circle cx="222.44" cy="68.46" r="3.5" fill="#1f77b4"/>
<circle cx="229.75" cy="70.13" r="3.5" fill="#1f77b4"/>
<circle cx="237.05" cy="71.70" r="3.5" fill="#1f77b4"/>
<circle cx="244.36" cy="73.17" r="3.5" fill="#1f77b4"/>
<circle cx="251.66" cy="74.56" r="3.5" fill="#1f77b4"/>
<circle cx="258.97" cy="75.87" r="3.5" fill="#1f77b4"/>
<circle cx="266.27" cy="77.10" r="3.5" fill="#1f77b4"/>
<circle cx="273.57" cy="78.27" r="3.5" fill="#1f77b4"/>
<circle cx="280.88" cy="79.39" r="3.5" fill="#1f77b4"/>
<circle cx="288.19" cy="80.45" r="3.5" fill="#1f77b4"/>
<circle cx="295.49" cy="81.47" r="3.5" fill="#1f77b4"/>
<circle cx="302.80" cy="82.45" r="3.5" fill="#1f77b4"/>
<circle cx="310.10" cy="83.41" r="3.5" fill="#1f77b4"/>
<circle cx="317.40" cy="84.34" r="3.5" fill="#1f77b4"/>
<circle cx="324.71" cy="85.26" r="3.5" fill="#1f77b4"/>
<circle cx="332.01" cy="86.18" r="3.5" fill="#1f77b4"/>
<circle cx="339.32" cy="87.09" r="3.5" fill="#1f77b4"/>
<circle cx="346.62" cy="88.01" r="3.5" fill="#1f77b4"/>
<circle cx="353.93" cy="88.95" r="3.5" fill="#1f77b4"/>
<circle cx="164.00" cy="79.60" r="3.5" fill="#d62728"/>
<circle cx="171.31" cy="82.57" r="3.5" fill="#d62728"/>
<circle cx="178.61" cy="85.33" r="3.5" fill="#d62728"/>
<circle cx="185.91" cy="87.87" r="3.5" fill="#d62728"/>
<circle cx="193.22" cy="90.22" r="3.5" fill="#d62728"/>
<circle cx="200.53" cy="92.38" r="3.5" fill="#d62728"/>
<circle cx="207.83" cy="94.37" r="3.5" fill="#d62728"/>
<circle cx="215.13" cy="96.20" r="3.5" fill="#d62728"/>
<circle cx="222.44" cy="97.87" r="3.5" fill="#d62728"/>
<circle cx="229.75" cy="99.41" r="3.5" fill="#d62728"/>
<circle cx="237.05" cy="100.81" r="3.5" fill="#d62728"/>
<circle cx="244.36" cy="102.10" r="3.5" fill="#d62728"/>
<circle cx="251.66" cy="103.28" r="3.5" fill="#d62728"/>
<circle cx="258.97" cy="104.37" r="3.5" fill="#d62728"/>
<circle cx="266.27" cy="105.38" r="3.5" fill="#d62728"/>
<circle cx="273.57" cy="106.31" r="3.5" fill="#d62728"/>
<circle cx="280.88" cy="107.18" r="3.5" fill="#d62728"/>
<circle cx="288.19" cy="108.01" r="3.5" fill="#d62728"/>
<circle cx="295.49" cy="108.80" r="3.5" fill="#d62728"/>
<circle cx="302.80" cy="109.56" r="3.5" fill="#d62728"/>
<circle cx="310.10" cy="110.31" r="3.5" fill="#d62728"/>
<circle cx="317.40" cy="111.06" r="3.5" fill="#d62728"/>
<circle cx="324.71" cy="111.81" r="3.5" fill="#d62728"/>
<circle cx="332.01" cy="112.59" r="3.5" fill="#d62728"/>
<circle cx="339.32" cy="113.39" r="3.5" fill="#d62728"/>
<circle cx="346.62" cy="114.24" r="3.5" fill="#d62728"/>
<circle cx="353.93" cy="115.15" r="3.5" fill="#d62728"/>
<rect x="154.50" y="32.70" width="209.00" height="118.30" fill="none" stroke="#000" stroke-width="1.3" />
<line x1="164.00" y1="151.00" x2="164.00" y2="144.20" stroke="#000" stroke-width="1.4" />
<line x1="164.00" y1="32.70" x2="164.00" y2="39.50" stroke="#000" stroke-width="1.4" />
<line x1="212.70" y1="151.00" x2="212.70" y2="144.20" stroke="#000" stroke-width="1.4" />
<line x1="212.70" y1="32.70" x2="212.70" y2="39.50" stroke="#000" stroke-width="1.4" />
<line x1="261.40" y1="151.00" x2="261.40" y2="144.20" stroke="#000" stroke-width="1.4" />
<line x1="261.40" y1="32.70" x2="261.40" y2="39.50" stroke="#000" stroke-width="1.4" />
<line x1="310.10" y1="151.00" x2="310.10" y2="144.20" stroke="#000" stroke-width="1.4" />
<line x1="310.10" y1="32.70" x2="310.10" y2="39.50" stroke="#000" stroke-width="1.4" />
<line x1="358.80" y1="151.00" x2="358.80" y2="144.20" stroke="#000" stroke-width="1.4" />
<line x1="358.80" y1="32.70" x2="358.80" y2="39.50" stroke="#000" stroke-width="1.4" />
<line x1="173.74" y1="151.00" x2="173.74" y2="146.50" stroke="#000" stroke-width="1.1" />
<line x1="173.74" y1="32.70" x2="173.74" y2="37.20" stroke="#000" stroke-width="1.1" />
<line x1="183.48" y1="151.00" x2="183.48" y2="146.50" stroke="#000" stroke-width="1.1" />
<line x1="183.48" y1="32.70" x2="183.48" y2="37.20" stroke="#000" stroke-width="1.1" />
<line x1="193.22" y1="151.00" x2="193.22" y2="146.50" stroke="#000" stroke-width="1.1" />
<line x1="193.22" y1="32.70" x2="193.22" y2="37.20" stroke="#000" stroke-width="1.1" />
<line x1="202.96" y1="151.00" x2="202.96" y2="146.50" stroke="#000" stroke-width="1.1" />
<line x1="202.96" y1="32.70" x2="202.96" y2="37.20" stroke="#000" stroke-width="1.1" />
<line x1="222.44" y1="151.00" x2="222.44" y2="146.50" stroke="#000" stroke-width="1.1" />
<line x1="222.44" y1="32.70" x2="222.44" y2="37.20" stroke="#000" stroke-width="1.1" />
<line x1="232.18" y1="151.00" x2="232.18" y2="146.50" stroke="#000" stroke-width="1.1" />
<line x1="232.18" y1="32.70" x2="232.18" y2="37.20" stroke="#000" stroke-width="1.1" />
<line x1="241.92" y1="151.00" x2="241.92" y2="146.50" stroke="#000" stroke-width="1.1" />
<line x1="241.92" y1="32.70" x2="241.92" y2="37.20" stroke="#000" stroke-width="1.1" />
<line x1="251.66" y1="151.00" x2="251.66" y2="146.50" stroke="#000" stroke-width="1.1" />
<line x1="251.66" y1="32.70" x2="251.66" y2="37.20" stroke="#000" stroke-width="1.1" />
<line x1="271.14" y1="151.00" x2="271.14" y2="146.50" stroke="#000" stroke-width="1.1" />
<line x1="271.14" y1="32.70" x2="271.14" y2="37.20" stroke="#000" stroke-width="1.1" />
<line x1="280.88" y1="151.00" x2="280.88" y2="146.50" stroke="#000" stroke-width="1.1" />
<line x1="280.88" y1="32.70" x2="280.88" y2="37.20" stroke="#000" stroke-width="1.1" />
<line x1="290.62" y1="151.00" x2="290.62" y2="146.50" stroke="#000" stroke-width="1.1" />
<line x1="290.62" y1="32.70" x2="290.62" y2="37.20" stroke="#000" stroke-width="1.1" />
<line x1="300.36" y1="151.00" x2="300.36" y2="146.50" stroke="#000" stroke-width="1.1" />
<line x1="300.36" y1="32.70" x2="300.36" y2="37.20" stroke="#000" stroke-width="1.1" />
<line x1="319.84" y1="151.00" x2="319.84" y2="146.50" stroke="#000" stroke-width="1.1" />
<line x1="319.84" y1="32.70" x2="319.84" y2="37.20" stroke="#000" stroke-width="1.1" />
<line x1="329.58" y1="151.00" x2="329.58" y2="146.50" stroke="#000" stroke-width="1.1" />
<line x1="329.58" y1="32.70" x2="329.58" y2="37.20" stroke="#000" stroke-width="1.1" />
<line x1="339.32" y1="151.00" x2="339.32" y2="146.50" stroke="#000" stroke-width="1.1" />
<line x1="339.32" y1="32.70" x2="339.32" y2="37.20" stroke="#000" stroke-width="1.1" />
<line x1="349.06" y1="151.00" x2="349.06" y2="146.50" stroke="#000" stroke-width="1.1" />
<line x1="349.06" y1="32.70" x2="349.06" y2="37.20" stroke="#000" stroke-width="1.1" />
<line x1="154.50" y1="150.80" x2="161.30" y2="150.80" stroke="#000" stroke-width="1.4" />
<line x1="363.50" y1="150.80" x2="356.70" y2="150.80" stroke="#000" stroke-width="1.4" />
<line x1="154.50" y1="107.40" x2="161.30" y2="107.40" stroke="#000" stroke-width="1.4" />
<line x1="363.50" y1="107.40" x2="356.70" y2="107.40" stroke="#000" stroke-width="1.4" />
<line x1="154.50" y1="64.00" x2="161.30" y2="64.00" stroke="#000" stroke-width="1.4" />
<line x1="363.50" y1="64.00" x2="356.70" y2="64.00" stroke="#000" stroke-width="1.4" />
<line x1="154.50" y1="139.95" x2="159.00" y2="139.95" stroke="#000" stroke-width="1.1" />
<line x1="363.50" y1="139.95" x2="359.00" y2="139.95" stroke="#000" stroke-width="1.1" />
<line x1="154.50" y1="129.10" x2="159.00" y2="129.10" stroke="#000" stroke-width="1.1" />
<line x1="363.50" y1="129.10" x2="359.00" y2="129.10" stroke="#000" stroke-width="1.1" />
<line x1="154.50" y1="118.25" x2="159.00" y2="118.25" stroke="#000" stroke-width="1.1" />
<line x1="363.50" y1="118.25" x2="359.00" y2="118.25" stroke="#000" stroke-width="1.1" />
<line x1="154.50" y1="96.55" x2="159.00" y2="96.55" stroke="#000" stroke-width="1.1" />
<line x1="363.50" y1="96.55" x2="359.00" y2="96.55" stroke="#000" stroke-width="1.1" />
<line x1="154.50" y1="85.70" x2="159.00" y2="85.70" stroke="#000" stroke-width="1.1" />
<line x1="363.50" y1="85.70" x2="359.00" y2="85.70" stroke="#000" stroke-width="1.1" />
<line x1="154.50" y1="74.85" x2="159.00" y2="74.85" stroke="#000" stroke-width="1.1" />
<line x1="363.50" y1="74.85" x2="359.00" y2="74.85" stroke="#000" stroke-width="1.1" />
<line x1="154.50" y1="53.15" x2="159.00" y2="53.15" stroke="#000" stroke-width="1.1" />
<line x1="363.50" y1="53.15" x2="359.00" y2="53.15" stroke="#000" stroke-width="1.1" />
<line x1="154.50" y1="42.30" x2="159.00" y2="42.30" stroke="#000" stroke-width="1.1" />
<line x1="363.50" y1="42.30" x2="359.00" y2="42.30" stroke="#000" stroke-width="1.1" />
<text x="164.00" y="24.70" font-size="12.19" fill="#000" text-anchor="middle" textLength="7.32" lengthAdjust="spacingAndGlyphs" >0</text>
<text x="212.70" y="24.70" font-size="12.19" fill="#000" text-anchor="middle" textLength="7.32" lengthAdjust="spacingAndGlyphs" >1</text>
<text x="261.40" y="24.70" font-size="12.19" fill="#000" text-anchor="middle" textLength="7.32" lengthAdjust="spacingAndGlyphs" >2</text>
<text x="310.10" y="24.70" font-size="12.19" fill="#000" text-anchor="middle" textLength="7.32" lengthAdjust="spacingAndGlyphs" >3</text>
<text x="358.80" y="24.70" font-size="12.19" fill="#000" text-anchor="middle" textLength="7.32" lengthAdjust="spacingAndGlyphs" >4</text>
<text x="149.00" y="155.40" font-size="12.19" fill="#000" text-anchor="end" textLength="18.29" lengthAdjust="spacingAndGlyphs" >0.8</text>
<text x="149.00" y="112.00" font-size="12.19" fill="#000" text-anchor="end" textLength="18.29" lengthAdjust="spacingAndGlyphs" >1.6</text>
<text x="149.00" y="68.60" font-size="12.19" fill="#000" text-anchor="end" textLength="18.29" lengthAdjust="spacingAndGlyphs" >2.4</text>
<text x="174.10" y="50.40" font-size="15.16" fill="#1f77b4" textLength="65.03" lengthAdjust="spacingAndGlyphs" >skyrmion</text>
<text x="257.40" y="128.80" font-size="15.16" fill="#d62728" textLength="92.44" lengthAdjust="spacingAndGlyphs" >antiskyrmion</text>
<line x1="242.10" y1="47.80" x2="250.00" y2="47.80" stroke="#1f77b4" stroke-width="2.0" />
<line x1="253.60" y1="47.80" x2="256.00" y2="47.80" stroke="#1f77b4" stroke-width="2.0" />
<line x1="260.50" y1="47.80" x2="268.10" y2="47.80" stroke="#d62728" stroke-width="2.0" />
<line x1="271.80" y1="47.80" x2="274.20" y2="47.80" stroke="#d62728" stroke-width="2.0" />
<line x1="240.90" y1="65.10" x2="256.60" y2="65.10" stroke="#1f77b4" stroke-width="2.0" />
<line x1="259.10" y1="65.10" x2="275.10" y2="65.10" stroke="#d62728" stroke-width="2.0" />
<circle cx="248.80" cy="65.10" r="3.4" fill="#1f77b4"/>
<circle cx="267.10" cy="65.10" r="3.4" fill="#d62728"/>
<text x="284.20" y="52.40" font-size="12.19" fill="#000" textLength="67.98" lengthAdjust="spacingAndGlyphs" >without HOI</text>
<text x="284.20" y="70.00" font-size="12.19" fill="#000" textLength="49.15" lengthAdjust="spacingAndGlyphs" >with HOI</text>
<text x="0.00" y="0.00" font-size="12.19" fill="#000" text-anchor="middle" textLength="66.67" lengthAdjust="spacingAndGlyphs" transform="translate(123.2,92.3) rotate(-90)">radius (nm)</text>
<rect x="154.50" y="32.70" width="16.10" height="19.00" fill="#fff" stroke="#000" stroke-width="1.3" />
<text x="162.50" y="47.00" font-size="15.16" fill="#000" text-anchor="middle" font-weight="bold" textLength="10.24" lengthAdjust="spacingAndGlyphs" >d</text>
<text x="258.40" y="9.30" font-size="12.19" text-anchor="middle" textLength="64.80" lengthAdjust="spacingAndGlyphs" ><tspan font-style="italic">B</tspan><tspan font-size="8.53" dx="1.2" dy="2.6">⊥</tspan><tspan dy="-2.6"> − </tspan><tspan font-style="italic">B</tspan><tspan font-size="8.53" font-style="italic" dy="2.2">C</tspan><tspan dy="-2.2"> (T)</tspan></text>
<path d="M163.70,215.70 L166.91,216.37 L170.13,217.03 L173.34,217.69 L176.55,218.34 L179.77,218.99 L182.98,219.63 L186.19,220.26 L189.41,220.89 L192.62,221.52 L195.84,222.13 L199.05,222.75 L202.26,223.35 L205.48,223.95 L208.69,224.55 L211.90,225.14 L215.12,225.73 L218.33,226.31 L221.54,226.88 L224.76,227.45 L227.97,228.01 L231.18,228.57 L234.40,229.12 L237.61,229.66 L240.83,230.21 L244.04,230.74 L247.25,231.27 L250.47,231.79 L253.68,232.31 L256.89,232.82 L260.11,233.33 L263.32,233.83 L266.53,234.33 L269.75,234.82 L272.96,235.31 L276.17,235.79 L279.39,236.26 L282.60,236.73 L285.82,237.19 L289.03,237.65 L292.24,238.10 L295.46,238.55 L298.67,238.99 L301.88,239.42 L305.10,239.85 L308.31,240.28 L311.52,240.69 L314.74,241.11 L317.95,241.52 L321.16,241.92 L324.38,242.31 L327.59,242.70 L330.81,243.09 L334.02,243.47 L337.23,243.84 L340.45,244.21 L343.66,244.58 L346.87,244.93 L350.09,245.29 L353.30,245.63" fill="none" stroke="#1f77b4" stroke-width="2.2" stroke-dasharray="7.6,3.5" />
<path d="M163.70,220.31 L169.07,220.62 L174.43,220.93 L179.80,221.25 L185.17,221.56 L190.53,221.87 L195.90,222.19 L201.27,222.50 L206.63,222.82 L212.00,223.13" fill="none" stroke="#2ca02c" stroke-width="2.2" stroke-dasharray="7.6,3.5" />
<path d="M164.00,270.30 L167.45,270.64 L170.90,270.98 L174.35,271.30 L177.79,271.62 L181.24,271.93 L184.69,272.23 L188.14,272.52 L191.59,272.81 L195.04,273.09 L198.49,273.35 L201.94,273.62 L205.38,273.87 L208.83,274.11 L212.28,274.35 L215.73,274.58 L219.18,274.80 L222.63,275.01 L226.08,275.21 L229.53,275.41 L232.97,275.59 L236.42,275.77 L239.87,275.94 L243.32,276.11 L246.77,276.26 L250.22,276.41 L253.67,276.55 L257.12,276.68 L260.56,276.80 L264.01,276.91 L267.46,277.02 L270.91,277.11 L274.36,277.20 L277.81,277.28 L281.26,277.36 L284.71,277.42 L288.15,277.48 L291.60,277.53 L295.05,277.57 L298.50,277.60" fill="none" stroke="#d62728" stroke-width="2.2" stroke-dasharray="7.6,3.5" />
<path d="M164.00,186.09 L171.31,186.48 L178.61,186.91 L185.91,187.38 L193.22,187.89 L200.53,188.46 L207.83,189.08 L215.13,189.75 L222.44,190.47 L229.75,191.26 L237.05,192.11 L244.36,193.02 L251.66,194.00 L258.97,195.05 L266.27,196.18 L273.57,197.37" fill="none" stroke="#2ca02c" stroke-width="2.0" />
<path d="M273.57,197.37 L280.88,198.63 L288.19,199.69 L295.49,200.75 L302.80,201.81 L310.10,202.85 L317.40,203.88 L324.71,204.89 L332.01,205.88 L339.32,206.82 L346.62,207.73 L353.93,208.60" fill="none" stroke="#1f77b4" stroke-width="2.0" />
<path d="M164.00,234.28 L171.22,235.29 L178.43,236.26 L185.65,237.20 L192.86,238.10 L200.08,238.98 L207.29,239.82 L214.51,240.63 L221.72,241.41 L228.94,242.16 L236.15,242.89 L243.37,243.59 L250.58,244.28 L257.80,244.94 L265.02,245.58 L272.23,246.20 L279.45,246.80 L286.66,247.39 L293.88,247.97 L301.09,248.53 L308.31,249.08 L315.52,249.62 L322.74,250.15 L329.95,250.68 L337.17,251.20 L344.38,251.72 L351.60,252.23" fill="none" stroke="#d62728" stroke-width="2.0" />
<circle cx="164.00" cy="186.09" r="3.5" fill="#2ca02c"/>
<circle cx="171.31" cy="186.48" r="3.5" fill="#2ca02c"/>
<circle cx="178.61" cy="186.91" r="3.5" fill="#2ca02c"/>
<circle cx="185.91" cy="187.38" r="3.5" fill="#2ca02c"/>
<circle cx="193.22" cy="187.89" r="3.5" fill="#2ca02c"/>
<circle cx="200.53" cy="188.46" r="3.5" fill="#2ca02c"/>
<circle cx="207.83" cy="189.08" r="3.5" fill="#2ca02c"/>
<circle cx="215.13" cy="189.75" r="3.5" fill="#2ca02c"/>
<circle cx="222.44" cy="190.47" r="3.5" fill="#2ca02c"/>
<circle cx="229.75" cy="191.26" r="3.5" fill="#2ca02c"/>
<circle cx="237.05" cy="192.11" r="3.5" fill="#2ca02c"/>
<circle cx="244.36" cy="193.02" r="3.5" fill="#2ca02c"/>
<circle cx="251.66" cy="194.00" r="3.5" fill="#2ca02c"/>
<circle cx="258.97" cy="195.05" r="3.5" fill="#2ca02c"/>
<circle cx="266.27" cy="196.18" r="3.5" fill="#2ca02c"/>
<circle cx="273.57" cy="197.37" r="3.5" fill="#2ca02c"/>
<circle cx="280.88" cy="198.63" r="3.5" fill="#1f77b4"/>
<circle cx="288.19" cy="199.69" r="3.5" fill="#1f77b4"/>
<circle cx="295.49" cy="200.75" r="3.5" fill="#1f77b4"/>
<circle cx="302.80" cy="201.81" r="3.5" fill="#1f77b4"/>
<circle cx="310.10" cy="202.85" r="3.5" fill="#1f77b4"/>
<circle cx="317.40" cy="203.88" r="3.5" fill="#1f77b4"/>
<circle cx="324.71" cy="204.89" r="3.5" fill="#1f77b4"/>
<circle cx="332.01" cy="205.88" r="3.5" fill="#1f77b4"/>
<circle cx="339.32" cy="206.82" r="3.5" fill="#1f77b4"/>
<circle cx="346.62" cy="207.73" r="3.5" fill="#1f77b4"/>
<circle cx="353.93" cy="208.60" r="3.5" fill="#1f77b4"/>
<circle cx="164.00" cy="234.28" r="3.5" fill="#d62728"/>
<circle cx="171.22" cy="235.29" r="3.5" fill="#d62728"/>
<circle cx="178.43" cy="236.26" r="3.5" fill="#d62728"/>
<circle cx="185.65" cy="237.20" r="3.5" fill="#d62728"/>
<circle cx="192.86" cy="238.10" r="3.5" fill="#d62728"/>
<circle cx="200.08" cy="238.98" r="3.5" fill="#d62728"/>
<circle cx="207.29" cy="239.82" r="3.5" fill="#d62728"/>
<circle cx="214.51" cy="240.63" r="3.5" fill="#d62728"/>
<circle cx="221.72" cy="241.41" r="3.5" fill="#d62728"/>
<circle cx="228.94" cy="242.16" r="3.5" fill="#d62728"/>
<circle cx="236.15" cy="242.89" r="3.5" fill="#d62728"/>
<circle cx="243.37" cy="243.59" r="3.5" fill="#d62728"/>
<circle cx="250.58" cy="244.28" r="3.5" fill="#d62728"/>
<circle cx="257.80" cy="244.94" r="3.5" fill="#d62728"/>
<circle cx="265.02" cy="245.58" r="3.5" fill="#d62728"/>
<circle cx="272.23" cy="246.20" r="3.5" fill="#d62728"/>
<circle cx="279.45" cy="246.80" r="3.5" fill="#d62728"/>
<circle cx="286.66" cy="247.39" r="3.5" fill="#d62728"/>
<circle cx="293.88" cy="247.97" r="3.5" fill="#d62728"/>
<circle cx="301.09" cy="248.53" r="3.5" fill="#d62728"/>
<circle cx="308.31" cy="249.08" r="3.5" fill="#d62728"/>
<circle cx="315.52" cy="249.62" r="3.5" fill="#d62728"/>
<circle cx="322.74" cy="250.15" r="3.5" fill="#d62728"/>
<circle cx="329.95" cy="250.68" r="3.5" fill="#d62728"/>
<circle cx="337.17" cy="251.20" r="3.5" fill="#d62728"/>
<circle cx="344.38" cy="251.72" r="3.5" fill="#d62728"/>
<circle cx="351.60" cy="252.23" r="3.5" fill="#d62728"/>
<rect x="154.50" y="163.20" width="209.00" height="117.80" fill="none" stroke="#000" stroke-width="1.3" />
<line x1="164.00" y1="281.00" x2="164.00" y2="274.20" stroke="#000" stroke-width="1.4" />
<line x1="164.00" y1="163.20" x2="164.00" y2="170.00" stroke="#000" stroke-width="1.4" />
<line x1="212.70" y1="281.00" x2="212.70" y2="274.20" stroke="#000" stroke-width="1.4" />
<line x1="212.70" y1="163.20" x2="212.70" y2="170.00" stroke="#000" stroke-width="1.4" />
<line x1="261.40" y1="281.00" x2="261.40" y2="274.20" stroke="#000" stroke-width="1.4" />
<line x1="261.40" y1="163.20" x2="261.40" y2="170.00" stroke="#000" stroke-width="1.4" />
<line x1="310.10" y1="281.00" x2="310.10" y2="274.20" stroke="#000" stroke-width="1.4" />
<line x1="310.10" y1="163.20" x2="310.10" y2="170.00" stroke="#000" stroke-width="1.4" />
<line x1="358.80" y1="281.00" x2="358.80" y2="274.20" stroke="#000" stroke-width="1.4" />
<line x1="358.80" y1="163.20" x2="358.80" y2="170.00" stroke="#000" stroke-width="1.4" />
<line x1="173.74" y1="281.00" x2="173.74" y2="276.50" stroke="#000" stroke-width="1.1" />
<line x1="173.74" y1="163.20" x2="173.74" y2="167.70" stroke="#000" stroke-width="1.1" />
<line x1="183.48" y1="281.00" x2="183.48" y2="276.50" stroke="#000" stroke-width="1.1" />
<line x1="183.48" y1="163.20" x2="183.48" y2="167.70" stroke="#000" stroke-width="1.1" />
<line x1="193.22" y1="281.00" x2="193.22" y2="276.50" stroke="#000" stroke-width="1.1" />
<line x1="193.22" y1="163.20" x2="193.22" y2="167.70" stroke="#000" stroke-width="1.1" />
<line x1="202.96" y1="281.00" x2="202.96" y2="276.50" stroke="#000" stroke-width="1.1" />
<line x1="202.96" y1="163.20" x2="202.96" y2="167.70" stroke="#000" stroke-width="1.1" />
<line x1="222.44" y1="281.00" x2="222.44" y2="276.50" stroke="#000" stroke-width="1.1" />
<line x1="222.44" y1="163.20" x2="222.44" y2="167.70" stroke="#000" stroke-width="1.1" />
<line x1="232.18" y1="281.00" x2="232.18" y2="276.50" stroke="#000" stroke-width="1.1" />
<line x1="232.18" y1="163.20" x2="232.18" y2="167.70" stroke="#000" stroke-width="1.1" />
<line x1="241.92" y1="281.00" x2="241.92" y2="276.50" stroke="#000" stroke-width="1.1" />
<line x1="241.92" y1="163.20" x2="241.92" y2="167.70" stroke="#000" stroke-width="1.1" />
<line x1="251.66" y1="281.00" x2="251.66" y2="276.50" stroke="#000" stroke-width="1.1" />
<line x1="251.66" y1="163.20" x2="251.66" y2="167.70" stroke="#000" stroke-width="1.1" />
<line x1="271.14" y1="281.00" x2="271.14" y2="276.50" stroke="#000" stroke-width="1.1" />
<line x1="271.14" y1="163.20" x2="271.14" y2="167.70" stroke="#000" stroke-width="1.1" />
<line x1="280.88" y1="281.00" x2="280.88" y2="276.50" stroke="#000" stroke-width="1.1" />
<line x1="280.88" y1="163.20" x2="280.88" y2="167.70" stroke="#000" stroke-width="1.1" />
<line x1="290.62" y1="281.00" x2="290.62" y2="276.50" stroke="#000" stroke-width="1.1" />
<line x1="290.62" y1="163.20" x2="290.62" y2="167.70" stroke="#000" stroke-width="1.1" />
<line x1="300.36" y1="281.00" x2="300.36" y2="276.50" stroke="#000" stroke-width="1.1" />
<line x1="300.36" y1="163.20" x2="300.36" y2="167.70" stroke="#000" stroke-width="1.1" />
<line x1="319.84" y1="281.00" x2="319.84" y2="276.50" stroke="#000" stroke-width="1.1" />
<line x1="319.84" y1="163.20" x2="319.84" y2="167.70" stroke="#000" stroke-width="1.1" />
<line x1="329.58" y1="281.00" x2="329.58" y2="276.50" stroke="#000" stroke-width="1.1" />
<line x1="329.58" y1="163.20" x2="329.58" y2="167.70" stroke="#000" stroke-width="1.1" />
<line x1="339.32" y1="281.00" x2="339.32" y2="276.50" stroke="#000" stroke-width="1.1" />
<line x1="339.32" y1="163.20" x2="339.32" y2="167.70" stroke="#000" stroke-width="1.1" />
<line x1="349.06" y1="281.00" x2="349.06" y2="276.50" stroke="#000" stroke-width="1.1" />
<line x1="349.06" y1="163.20" x2="349.06" y2="167.70" stroke="#000" stroke-width="1.1" />
<line x1="154.50" y1="277.40" x2="161.30" y2="277.40" stroke="#000" stroke-width="1.4" />
<line x1="363.50" y1="277.40" x2="356.70" y2="277.40" stroke="#000" stroke-width="1.4" />
<line x1="154.50" y1="240.10" x2="161.30" y2="240.10" stroke="#000" stroke-width="1.4" />
<line x1="363.50" y1="240.10" x2="356.70" y2="240.10" stroke="#000" stroke-width="1.4" />
<line x1="154.50" y1="202.80" x2="161.30" y2="202.80" stroke="#000" stroke-width="1.4" />
<line x1="363.50" y1="202.80" x2="356.70" y2="202.80" stroke="#000" stroke-width="1.4" />
<line x1="154.50" y1="165.50" x2="161.30" y2="165.50" stroke="#000" stroke-width="1.4" />
<line x1="363.50" y1="165.50" x2="356.70" y2="165.50" stroke="#000" stroke-width="1.4" />
<text x="149.00" y="282.00" font-size="12.19" fill="#000" text-anchor="end" textLength="7.32" lengthAdjust="spacingAndGlyphs" >0</text>
<text x="149.00" y="244.70" font-size="12.19" fill="#000" text-anchor="end" textLength="21.95" lengthAdjust="spacingAndGlyphs" >100</text>
<text x="149.00" y="207.40" font-size="12.19" fill="#000" text-anchor="end" textLength="21.95" lengthAdjust="spacingAndGlyphs" >200</text>
<text x="149.00" y="170.10" font-size="12.19" fill="#000" text-anchor="end" textLength="21.95" lengthAdjust="spacingAndGlyphs" >300</text>
<text x="176.50" y="177.00" font-size="12.19" fill="#2ca02c" textLength="61.22" lengthAdjust="spacingAndGlyphs" >chimera, a</text>
<text x="272.50" y="189.60" font-size="12.19" fill="#1f77b4" textLength="47.12" lengthAdjust="spacingAndGlyphs" >radial, b</text>
<text x="311.30" y="271.30" font-size="12.19" fill="#d62728" text-anchor="middle" textLength="6.32" lengthAdjust="spacingAndGlyphs" >c</text>
<line x1="218.70" y1="183.30" x2="223.20" y2="187.80" stroke="#000" stroke-width="1.0" />
<line x1="311.50" y1="197.10" x2="317.80" y2="200.90" stroke="#000" stroke-width="1.0" />
<line x1="315.80" y1="257.80" x2="319.30" y2="252.30" stroke="#000" stroke-width="1.0" />
<text x="0.00" y="0.00" font-size="12.19" fill="#000" text-anchor="middle" textLength="121.10" lengthAdjust="spacingAndGlyphs" transform="translate(119.0,222.6) rotate(-90)">energy barrier (meV)</text>
<rect x="154.50" y="163.20" width="15.90" height="20.10" fill="#fff" stroke="#000" stroke-width="1.3" />
<text x="162.50" y="178.30" font-size="15.16" fill="#000" text-anchor="middle" font-weight="bold" textLength="9.70" lengthAdjust="spacingAndGlyphs" >e</text>
<path d="M164.00,315.29 L168.82,315.86 L173.64,316.44 L178.46,317.01 L183.28,317.59 L188.10,318.16 L192.92,318.74 L197.74,319.31 L202.56,319.88 L207.38,320.46 L212.21,321.03 L217.03,321.61 L221.85,322.18 L226.67,322.76 L231.49,323.33 L236.31,323.91 L241.13,324.48 L245.95,325.06 L250.77,325.63 L255.59,326.21 L260.41,326.78 L265.23,327.36 L270.05,327.93 L274.87,328.51 L279.69,329.08 L284.51,329.66 L289.33,330.23 L294.15,330.81 L298.97,331.38 L303.79,331.96 L308.62,332.53 L313.44,333.11 L318.26,333.68 L323.08,334.26 L327.90,334.83 L332.72,335.41 L337.54,335.98 L342.36,336.56 L347.18,337.13 L352.00,337.71" fill="none" stroke="#1f77b4" stroke-width="2.2" stroke-dasharray="7.6,3.5" />
<path d="M164.00,382.27 L167.33,382.70 L170.67,383.09 L174.00,383.47 L177.33,383.83 L180.67,384.17 L184.00,384.49 L187.33,384.81 L190.67,385.12 L194.00,385.42 L197.33,385.73 L200.67,386.03 L204.00,386.34 L207.33,386.66 L210.67,386.99 L214.00,387.33 L217.33,387.69 L220.67,388.07 L224.00,388.46 L227.33,388.89 L230.67,389.34 L234.00,389.83 L237.33,390.34 L240.67,390.90 L244.00,391.49 L247.33,392.13 L250.67,392.82 L254.00,393.55 L257.33,394.33 L260.67,395.17 L264.00,396.07 L267.33,397.03 L270.67,398.05 L274.00,399.14 L277.33,400.29 L280.67,401.52 L284.00,402.83 L287.33,404.21 L290.67,405.68 L294.00,407.23" fill="none" stroke="#d62728" stroke-width="2.2" stroke-dasharray="7.6,3.5" />
<path d="M273.57,298.40 L280.88,310.20 L288.19,315.80 L295.49,318.90 L302.80,321.70 L310.10,323.70 L317.40,325.30 L324.71,326.70 L332.01,328.10 L339.32,329.30 L346.62,330.40 L353.93,331.80" fill="none" stroke="#1f77b4" stroke-width="2.0" />
<path d="M164.00,383.00 L171.22,379.30 L178.43,376.70 L185.65,375.00 L192.86,373.80 L200.08,373.00 L207.29,372.50 L214.51,372.10 L221.72,371.70 L228.94,371.50 L236.15,371.40 L243.37,371.30 L250.58,371.20 L257.80,371.20 L265.02,371.20 L272.23,371.20 L279.45,371.20 L286.66,371.20 L293.88,371.20 L301.09,371.20 L308.31,371.20 L315.52,371.20 L322.74,371.20 L329.95,371.20 L337.17,371.20 L344.38,371.20 L351.60,371.20" fill="none" stroke="#d62728" stroke-width="2.0" />
<circle cx="273.57" cy="298.40" r="3.5" fill="#1f77b4"/>
<circle cx="280.88" cy="310.20" r="3.5" fill="#1f77b4"/>
<circle cx="288.19" cy="315.80" r="3.5" fill="#1f77b4"/>
<circle cx="295.49" cy="318.90" r="3.5" fill="#1f77b4"/>
<circle cx="302.80" cy="321.70" r="3.5" fill="#1f77b4"/>
<circle cx="310.10" cy="323.70" r="3.5" fill="#1f77b4"/>
<circle cx="317.40" cy="325.30" r="3.5" fill="#1f77b4"/>
<circle cx="324.71" cy="326.70" r="3.5" fill="#1f77b4"/>
<circle cx="332.01" cy="328.10" r="3.5" fill="#1f77b4"/>
<circle cx="339.32" cy="329.30" r="3.5" fill="#1f77b4"/>
<circle cx="346.62" cy="330.40" r="3.5" fill="#1f77b4"/>
<circle cx="353.93" cy="331.80" r="3.5" fill="#1f77b4"/>
<circle cx="164.00" cy="383.00" r="3.5" fill="#d62728"/>
<circle cx="171.22" cy="379.30" r="3.5" fill="#d62728"/>
<circle cx="178.43" cy="376.70" r="3.5" fill="#d62728"/>
<circle cx="185.65" cy="375.00" r="3.5" fill="#d62728"/>
<circle cx="192.86" cy="373.80" r="3.5" fill="#d62728"/>
<circle cx="200.08" cy="373.00" r="3.5" fill="#d62728"/>
<circle cx="207.29" cy="372.50" r="3.5" fill="#d62728"/>
<circle cx="214.51" cy="372.10" r="3.5" fill="#d62728"/>
<circle cx="221.72" cy="371.70" r="3.5" fill="#d62728"/>
<circle cx="228.94" cy="371.50" r="3.5" fill="#d62728"/>
<circle cx="236.15" cy="371.40" r="3.5" fill="#d62728"/>
<circle cx="243.37" cy="371.30" r="3.5" fill="#d62728"/>
<circle cx="250.58" cy="371.20" r="3.5" fill="#d62728"/>
<circle cx="257.80" cy="371.20" r="3.5" fill="#d62728"/>
<circle cx="265.02" cy="371.20" r="3.5" fill="#d62728"/>
<circle cx="272.23" cy="371.20" r="3.5" fill="#d62728"/>
<circle cx="279.45" cy="371.20" r="3.5" fill="#d62728"/>
<circle cx="286.66" cy="371.20" r="3.5" fill="#d62728"/>
<circle cx="293.88" cy="371.20" r="3.5" fill="#d62728"/>
<circle cx="301.09" cy="371.20" r="3.5" fill="#d62728"/>
<circle cx="308.31" cy="371.20" r="3.5" fill="#d62728"/>
<circle cx="315.52" cy="371.20" r="3.5" fill="#d62728"/>
<circle cx="322.74" cy="371.20" r="3.5" fill="#d62728"/>
<circle cx="329.95" cy="371.20" r="3.5" fill="#d62728"/>
<circle cx="337.17" cy="371.20" r="3.5" fill="#d62728"/>
<circle cx="344.38" cy="371.20" r="3.5" fill="#d62728"/>
<circle cx="351.60" cy="371.20" r="3.5" fill="#d62728"/>
<rect x="154.50" y="293.10" width="209.00" height="118.50" fill="none" stroke="#000" stroke-width="1.3" />
<line x1="164.00" y1="411.60" x2="164.00" y2="404.80" stroke="#000" stroke-width="1.4" />
<line x1="164.00" y1="293.10" x2="164.00" y2="299.90" stroke="#000" stroke-width="1.4" />
<line x1="212.70" y1="411.60" x2="212.70" y2="404.80" stroke="#000" stroke-width="1.4" />
<line x1="212.70" y1="293.10" x2="212.70" y2="299.90" stroke="#000" stroke-width="1.4" />
<line x1="261.40" y1="411.60" x2="261.40" y2="404.80" stroke="#000" stroke-width="1.4" />
<line x1="261.40" y1="293.10" x2="261.40" y2="299.90" stroke="#000" stroke-width="1.4" />
<line x1="310.10" y1="411.60" x2="310.10" y2="404.80" stroke="#000" stroke-width="1.4" />
<line x1="310.10" y1="293.10" x2="310.10" y2="299.90" stroke="#000" stroke-width="1.4" />
<line x1="358.80" y1="411.60" x2="358.80" y2="404.80" stroke="#000" stroke-width="1.4" />
<line x1="358.80" y1="293.10" x2="358.80" y2="299.90" stroke="#000" stroke-width="1.4" />
<line x1="173.74" y1="411.60" x2="173.74" y2="407.10" stroke="#000" stroke-width="1.1" />
<line x1="173.74" y1="293.10" x2="173.74" y2="297.60" stroke="#000" stroke-width="1.1" />
<line x1="183.48" y1="411.60" x2="183.48" y2="407.10" stroke="#000" stroke-width="1.1" />
<line x1="183.48" y1="293.10" x2="183.48" y2="297.60" stroke="#000" stroke-width="1.1" />
<line x1="193.22" y1="411.60" x2="193.22" y2="407.10" stroke="#000" stroke-width="1.1" />
<line x1="193.22" y1="293.10" x2="193.22" y2="297.60" stroke="#000" stroke-width="1.1" />
<line x1="202.96" y1="411.60" x2="202.96" y2="407.10" stroke="#000" stroke-width="1.1" />
<line x1="202.96" y1="293.10" x2="202.96" y2="297.60" stroke="#000" stroke-width="1.1" />
<line x1="222.44" y1="411.60" x2="222.44" y2="407.10" stroke="#000" stroke-width="1.1" />
<line x1="222.44" y1="293.10" x2="222.44" y2="297.60" stroke="#000" stroke-width="1.1" />
<line x1="232.18" y1="411.60" x2="232.18" y2="407.10" stroke="#000" stroke-width="1.1" />
<line x1="232.18" y1="293.10" x2="232.18" y2="297.60" stroke="#000" stroke-width="1.1" />
<line x1="241.92" y1="411.60" x2="241.92" y2="407.10" stroke="#000" stroke-width="1.1" />
<line x1="241.92" y1="293.10" x2="241.92" y2="297.60" stroke="#000" stroke-width="1.1" />
<line x1="251.66" y1="411.60" x2="251.66" y2="407.10" stroke="#000" stroke-width="1.1" />
<line x1="251.66" y1="293.10" x2="251.66" y2="297.60" stroke="#000" stroke-width="1.1" />
<line x1="271.14" y1="411.60" x2="271.14" y2="407.10" stroke="#000" stroke-width="1.1" />
<line x1="271.14" y1="293.10" x2="271.14" y2="297.60" stroke="#000" stroke-width="1.1" />
<line x1="280.88" y1="411.60" x2="280.88" y2="407.10" stroke="#000" stroke-width="1.1" />
<line x1="280.88" y1="293.10" x2="280.88" y2="297.60" stroke="#000" stroke-width="1.1" />
<line x1="290.62" y1="411.60" x2="290.62" y2="407.10" stroke="#000" stroke-width="1.1" />
<line x1="290.62" y1="293.10" x2="290.62" y2="297.60" stroke="#000" stroke-width="1.1" />
<line x1="300.36" y1="411.60" x2="300.36" y2="407.10" stroke="#000" stroke-width="1.1" />
<line x1="300.36" y1="293.10" x2="300.36" y2="297.60" stroke="#000" stroke-width="1.1" />
<line x1="319.84" y1="411.60" x2="319.84" y2="407.10" stroke="#000" stroke-width="1.1" />
<line x1="319.84" y1="293.10" x2="319.84" y2="297.60" stroke="#000" stroke-width="1.1" />
<line x1="329.58" y1="411.60" x2="329.58" y2="407.10" stroke="#000" stroke-width="1.1" />
<line x1="329.58" y1="293.10" x2="329.58" y2="297.60" stroke="#000" stroke-width="1.1" />
<line x1="339.32" y1="411.60" x2="339.32" y2="407.10" stroke="#000" stroke-width="1.1" />
<line x1="339.32" y1="293.10" x2="339.32" y2="297.60" stroke="#000" stroke-width="1.1" />
<line x1="349.06" y1="411.60" x2="349.06" y2="407.10" stroke="#000" stroke-width="1.1" />
<line x1="349.06" y1="293.10" x2="349.06" y2="297.60" stroke="#000" stroke-width="1.1" />
<line x1="154.50" y1="404.80" x2="161.30" y2="404.80" stroke="#000" stroke-width="1.4" />
<line x1="363.50" y1="404.80" x2="356.70" y2="404.80" stroke="#000" stroke-width="1.4" />
<line x1="154.50" y1="372.20" x2="161.30" y2="372.20" stroke="#000" stroke-width="1.4" />
<line x1="363.50" y1="372.20" x2="356.70" y2="372.20" stroke="#000" stroke-width="1.4" />
<line x1="154.50" y1="339.60" x2="161.30" y2="339.60" stroke="#000" stroke-width="1.4" />
<line x1="363.50" y1="339.60" x2="356.70" y2="339.60" stroke="#000" stroke-width="1.4" />
<line x1="154.50" y1="307.00" x2="161.30" y2="307.00" stroke="#000" stroke-width="1.4" />
<line x1="363.50" y1="307.00" x2="356.70" y2="307.00" stroke="#000" stroke-width="1.4" />
<line x1="154.50" y1="409.85" x2="159.00" y2="409.85" stroke="#000" stroke-width="1.1" />
<line x1="363.50" y1="409.85" x2="359.00" y2="409.85" stroke="#000" stroke-width="1.1" />
<line x1="154.50" y1="407.96" x2="159.00" y2="407.96" stroke="#000" stroke-width="1.1" />
<line x1="363.50" y1="407.96" x2="359.00" y2="407.96" stroke="#000" stroke-width="1.1" />
<line x1="154.50" y1="406.29" x2="159.00" y2="406.29" stroke="#000" stroke-width="1.1" />
<line x1="363.50" y1="406.29" x2="359.00" y2="406.29" stroke="#000" stroke-width="1.1" />
<line x1="154.50" y1="394.99" x2="159.00" y2="394.99" stroke="#000" stroke-width="1.1" />
<line x1="363.50" y1="394.99" x2="359.00" y2="394.99" stroke="#000" stroke-width="1.1" />
<line x1="154.50" y1="389.25" x2="159.00" y2="389.25" stroke="#000" stroke-width="1.1" />
<line x1="363.50" y1="389.25" x2="359.00" y2="389.25" stroke="#000" stroke-width="1.1" />
<line x1="154.50" y1="385.17" x2="159.00" y2="385.17" stroke="#000" stroke-width="1.1" />
<line x1="363.50" y1="385.17" x2="359.00" y2="385.17" stroke="#000" stroke-width="1.1" />
<line x1="154.50" y1="382.01" x2="159.00" y2="382.01" stroke="#000" stroke-width="1.1" />
<line x1="363.50" y1="382.01" x2="359.00" y2="382.01" stroke="#000" stroke-width="1.1" />
<line x1="154.50" y1="379.43" x2="159.00" y2="379.43" stroke="#000" stroke-width="1.1" />
<line x1="363.50" y1="379.43" x2="359.00" y2="379.43" stroke="#000" stroke-width="1.1" />
<line x1="154.50" y1="377.25" x2="159.00" y2="377.25" stroke="#000" stroke-width="1.1" />
<line x1="363.50" y1="377.25" x2="359.00" y2="377.25" stroke="#000" stroke-width="1.1" />
<line x1="154.50" y1="375.36" x2="159.00" y2="375.36" stroke="#000" stroke-width="1.1" />
<line x1="363.50" y1="375.36" x2="359.00" y2="375.36" stroke="#000" stroke-width="1.1" />
<line x1="154.50" y1="373.69" x2="159.00" y2="373.69" stroke="#000" stroke-width="1.1" />
<line x1="363.50" y1="373.69" x2="359.00" y2="373.69" stroke="#000" stroke-width="1.1" />
<line x1="154.50" y1="362.39" x2="159.00" y2="362.39" stroke="#000" stroke-width="1.1" />
<line x1="363.50" y1="362.39" x2="359.00" y2="362.39" stroke="#000" stroke-width="1.1" />
<line x1="154.50" y1="356.65" x2="159.00" y2="356.65" stroke="#000" stroke-width="1.1" />
<line x1="363.50" y1="356.65" x2="359.00" y2="356.65" stroke="#000" stroke-width="1.1" />
<line x1="154.50" y1="352.57" x2="159.00" y2="352.57" stroke="#000" stroke-width="1.1" />
<line x1="363.50" y1="352.57" x2="359.00" y2="352.57" stroke="#000" stroke-width="1.1" />
<line x1="154.50" y1="349.41" x2="159.00" y2="349.41" stroke="#000" stroke-width="1.1" />
<line x1="363.50" y1="349.41" x2="359.00" y2="349.41" stroke="#000" stroke-width="1.1" />
<line x1="154.50" y1="346.83" x2="159.00" y2="346.83" stroke="#000" stroke-width="1.1" />
<line x1="363.50" y1="346.83" x2="359.00" y2="346.83" stroke="#000" stroke-width="1.1" />
<line x1="154.50" y1="344.65" x2="159.00" y2="344.65" stroke="#000" stroke-width="1.1" />
<line x1="363.50" y1="344.65" x2="359.00" y2="344.65" stroke="#000" stroke-width="1.1" />
<line x1="154.50" y1="342.76" x2="159.00" y2="342.76" stroke="#000" stroke-width="1.1" />
<line x1="363.50" y1="342.76" x2="359.00" y2="342.76" stroke="#000" stroke-width="1.1" />
<line x1="154.50" y1="341.09" x2="159.00" y2="341.09" stroke="#000" stroke-width="1.1" />
<line x1="363.50" y1="341.09" x2="359.00" y2="341.09" stroke="#000" stroke-width="1.1" />
<line x1="154.50" y1="329.79" x2="159.00" y2="329.79" stroke="#000" stroke-width="1.1" />
<line x1="363.50" y1="329.79" x2="359.00" y2="329.79" stroke="#000" stroke-width="1.1" />
<line x1="154.50" y1="324.05" x2="159.00" y2="324.05" stroke="#000" stroke-width="1.1" />
<line x1="363.50" y1="324.05" x2="359.00" y2="324.05" stroke="#000" stroke-width="1.1" />
<line x1="154.50" y1="319.97" x2="159.00" y2="319.97" stroke="#000" stroke-width="1.1" />
<line x1="363.50" y1="319.97" x2="359.00" y2="319.97" stroke="#000" stroke-width="1.1" />
<line x1="154.50" y1="316.81" x2="159.00" y2="316.81" stroke="#000" stroke-width="1.1" />
<line x1="363.50" y1="316.81" x2="359.00" y2="316.81" stroke="#000" stroke-width="1.1" />
<line x1="154.50" y1="314.23" x2="159.00" y2="314.23" stroke="#000" stroke-width="1.1" />
<line x1="363.50" y1="314.23" x2="359.00" y2="314.23" stroke="#000" stroke-width="1.1" />
<line x1="154.50" y1="312.05" x2="159.00" y2="312.05" stroke="#000" stroke-width="1.1" />
<line x1="363.50" y1="312.05" x2="359.00" y2="312.05" stroke="#000" stroke-width="1.1" />
<line x1="154.50" y1="310.16" x2="159.00" y2="310.16" stroke="#000" stroke-width="1.1" />
<line x1="363.50" y1="310.16" x2="359.00" y2="310.16" stroke="#000" stroke-width="1.1" />
<line x1="154.50" y1="308.49" x2="159.00" y2="308.49" stroke="#000" stroke-width="1.1" />
<line x1="363.50" y1="308.49" x2="359.00" y2="308.49" stroke="#000" stroke-width="1.1" />
<line x1="154.50" y1="297.19" x2="159.00" y2="297.19" stroke="#000" stroke-width="1.1" />
<line x1="363.50" y1="297.19" x2="359.00" y2="297.19" stroke="#000" stroke-width="1.1" />
<text x="137.4" y="410.00" font-size="12.19" text-anchor="end" textLength="14.63" lengthAdjust="spacingAndGlyphs">10</text>
<text x="137.9" y="404.20" font-size="8.53" textLength="10.24" lengthAdjust="spacingAndGlyphs">11</text>
<text x="137.4" y="377.40" font-size="12.19" text-anchor="end" textLength="14.63" lengthAdjust="spacingAndGlyphs">10</text>
<text x="137.9" y="371.60" font-size="8.53" textLength="10.24" lengthAdjust="spacingAndGlyphs">12</text>
<text x="137.4" y="344.80" font-size="12.19" text-anchor="end" textLength="14.63" lengthAdjust="spacingAndGlyphs">10</text>
<text x="137.9" y="339.00" font-size="8.53" textLength="10.24" lengthAdjust="spacingAndGlyphs">13</text>
<text x="137.4" y="312.20" font-size="12.19" text-anchor="end" textLength="14.63" lengthAdjust="spacingAndGlyphs">10</text>
<text x="137.9" y="306.40" font-size="8.53" textLength="10.24" lengthAdjust="spacingAndGlyphs">14</text>
<text x="164.00" y="426.00" font-size="12.19" fill="#000" text-anchor="middle" textLength="7.32" lengthAdjust="spacingAndGlyphs" >0</text>
<text x="212.70" y="426.00" font-size="12.19" fill="#000" text-anchor="middle" textLength="7.32" lengthAdjust="spacingAndGlyphs" >1</text>
<text x="261.40" y="426.00" font-size="12.19" fill="#000" text-anchor="middle" textLength="7.32" lengthAdjust="spacingAndGlyphs" >2</text>
<text x="310.10" y="426.00" font-size="12.19" fill="#000" text-anchor="middle" textLength="7.32" lengthAdjust="spacingAndGlyphs" >3</text>
<text x="358.80" y="426.00" font-size="12.19" fill="#000" text-anchor="middle" textLength="7.32" lengthAdjust="spacingAndGlyphs" >4</text>
<text x="258.40" y="443.00" font-size="12.19" text-anchor="middle" textLength="64.80" lengthAdjust="spacingAndGlyphs" ><tspan font-style="italic">B</tspan><tspan font-size="8.53" dx="1.2" dy="2.6">⊥</tspan><tspan dy="-2.6"> − </tspan><tspan font-style="italic">B</tspan><tspan font-size="8.53" font-style="italic" dy="2.2">C</tspan><tspan dy="-2.2"> (T)</tspan></text>
<text x="0" y="0" font-size="12.19" text-anchor="middle" textLength="76.5" lengthAdjust="spacingAndGlyphs" transform="translate(114.0,352.2) rotate(-90)"><tspan font-style="italic">ν</tspan><tspan font-size="8.53" dy="2.2">0</tspan><tspan dy="-2.2">/</tspan><tspan font-style="italic">T</tspan><tspan> (s</tspan><tspan font-size="8.53" dy="-4">−1</tspan><tspan dy="4"> K</tspan><tspan font-size="8.53" dy="-4">−1</tspan><tspan dy="4">)</tspan></text>
<rect x="154.50" y="293.10" width="15.50" height="20.10" fill="#fff" stroke="#000" stroke-width="1.3" />
<text x="162.30" y="308.30" font-size="15.16" fill="#000" text-anchor="middle" font-weight="bold" textLength="6.22" lengthAdjust="spacingAndGlyphs" >f</text>
<path d="M488.49,32.80 L489.02,37.52 L489.55,42.24 L490.10,46.96 L490.65,51.68 L491.20,56.40 L491.75,61.12 L492.31,65.84 L492.87,70.56 L493.44,75.28 L494.00,80.01 L494.56,84.73 L495.12,89.45 L495.69,94.17 L496.24,98.89 L496.80,103.61 L497.35,108.33 L497.90,113.05 L498.44,117.77 L498.98,122.49 L499.51,127.21 L500.04,131.93 L500.55,136.65 L501.06,141.37 L501.56,146.09 L502.05,150.81 L502.53,155.53 L503.00,160.25 L503.45,164.97 L503.89,169.69 L504.32,174.42 L504.74,179.14 L505.14,183.86 L505.52,188.58 L505.89,193.30 L506.24,198.02 L506.57,202.74 L506.89,207.46 L507.18,212.18 L507.46,216.90" fill="none" stroke="#000" stroke-width="2.2" />
<path d="M525.98,32.80 L526.50,37.52 L527.05,42.24 L527.62,46.96 L528.21,51.68 L528.81,56.40 L529.43,61.12 L530.07,65.84 L530.72,70.56 L531.37,75.28 L532.04,80.01 L532.71,84.73 L533.39,89.45 L534.08,94.17 L534.76,98.89 L535.44,103.61 L536.12,108.33 L536.80,113.05 L537.47,117.77 L538.13,122.49 L538.79,127.21 L539.43,131.93 L540.06,136.65 L540.68,141.37 L541.27,146.09 L541.85,150.81 L542.41,155.53 L542.95,160.25 L543.47,164.97 L543.95,169.69 L544.41,174.42 L544.84,179.14 L545.24,183.86 L545.61,188.58 L545.94,193.30 L546.24,198.02 L546.50,202.74 L546.71,207.46 L546.89,212.18 L547.02,216.90" fill="none" stroke="#000" stroke-width="2.2" />
<path d="M550.18,32.80 L550.64,37.52 L551.14,42.24 L551.67,46.96 L552.24,51.68 L552.85,56.40 L553.48,61.12 L554.13,65.84 L554.81,70.56 L555.51,75.28 L556.23,80.01 L556.97,84.73 L557.71,89.45 L558.47,94.17 L559.23,98.89 L560.00,103.61 L560.77,108.33 L561.54,113.05 L562.30,117.77 L563.06,122.49 L563.81,127.21 L564.54,131.93 L565.26,136.65 L565.97,141.37 L566.65,146.09 L567.31,150.81 L567.95,155.53 L568.55,160.25 L569.13,164.97 L569.67,169.69 L570.17,174.42 L570.64,179.14 L571.06,183.86 L571.44,188.58 L571.77,193.30 L572.05,198.02 L572.28,202.74 L572.45,207.46 L572.57,212.18 L572.62,216.90" fill="none" stroke="#000" stroke-width="2.2" />
<path d="M428.43,32.80 L429.38,39.15 L430.34,45.50 L431.32,51.84 L432.31,58.19 L433.30,64.54 L434.31,70.89 L435.33,77.24 L436.36,83.59 L437.40,89.93 L438.46,96.28 L439.52,102.63 L440.60,108.98 L441.68,115.33 L442.78,121.68 L443.89,128.02 L445.01,134.37 L446.14,140.72 L447.28,147.07 L448.43,153.42 L449.60,159.77 L450.77,166.11 L451.96,172.46 L453.16,178.81 L454.36,185.16 L455.58,191.51 L456.81,197.86 L458.05,204.20 L459.31,210.55 L460.57,216.90" fill="none" stroke="#000" stroke-width="2.0" stroke-dasharray="7.4,3.6" stroke-dashoffset="9.5"/>
<line x1="454.80" y1="131.50" x2="445.20" y2="137.00" stroke="#000" stroke-width="1.0" />
<line x1="513.60" y1="187.70" x2="505.00" y2="192.70" stroke="#000" stroke-width="1.0" />
<line x1="545.40" y1="132.30" x2="536.70" y2="137.40" stroke="#000" stroke-width="1.0" />
<line x1="563.40" y1="77.00" x2="554.80" y2="81.20" stroke="#000" stroke-width="1.0" />
<rect x="457.20" y="87.50" width="58.50" height="47.20" fill="rgba(255,255,255,0.7)" stroke="rgba(0,0,0,0.72)" stroke-width="1.4" />
<text x="463.00" y="101.50" font-size="12.19" fill="#000" textLength="14.61" lengthAdjust="spacingAndGlyphs" >1h</text>
<text x="463.00" y="114.50" font-size="12.19" fill="#000" textLength="47.72" lengthAdjust="spacingAndGlyphs" >(without</text>
<text x="463.00" y="127.50" font-size="12.19" fill="#000" textLength="25.58" lengthAdjust="spacingAndGlyphs" >HOI)</text>
<rect x="516.80" y="156.80" width="41.10" height="33.30" fill="rgba(255,255,255,0.7)" stroke="rgba(0,0,0,0.72)" stroke-width="1.4" />
<text x="521.70" y="170.60" font-size="12.19" fill="#000" textLength="29.27" lengthAdjust="spacingAndGlyphs" >1000</text>
<text x="521.70" y="183.40" font-size="12.19" fill="#000" textLength="31.65" lengthAdjust="spacingAndGlyphs" >years</text>
<rect x="548.50" y="101.30" width="39.60" height="33.30" fill="rgba(255,255,255,0.7)" stroke="rgba(0,0,0,0.72)" stroke-width="1.4" />
<text x="553.30" y="115.20" font-size="12.19" fill="#000" textLength="7.32" lengthAdjust="spacingAndGlyphs" >1</text>
<text x="553.30" y="128.00" font-size="12.19" fill="#000" textLength="30.22" lengthAdjust="spacingAndGlyphs" >week</text>
<rect x="566.20" y="58.30" width="28.00" height="20.40" fill="rgba(255,255,255,0.7)" stroke="rgba(0,0,0,0.72)" stroke-width="1.4" />
<text x="571.60" y="72.00" font-size="12.19" fill="#000" textLength="18.26" lengthAdjust="spacingAndGlyphs" >1 h</text>
<rect x="421.00" y="32.80" width="194.50" height="184.10" fill="none" stroke="#000" stroke-width="1.3" />
<line x1="457.90" y1="216.90" x2="457.90" y2="210.10" stroke="#000" stroke-width="1.4" />
<line x1="457.90" y1="32.80" x2="457.90" y2="39.60" stroke="#000" stroke-width="1.4" />
<line x1="502.90" y1="216.90" x2="502.90" y2="210.10" stroke="#000" stroke-width="1.4" />
<line x1="502.90" y1="32.80" x2="502.90" y2="39.60" stroke="#000" stroke-width="1.4" />
<line x1="547.90" y1="216.90" x2="547.90" y2="210.10" stroke="#000" stroke-width="1.4" />
<line x1="547.90" y1="32.80" x2="547.90" y2="39.60" stroke="#000" stroke-width="1.4" />
<line x1="592.90" y1="216.90" x2="592.90" y2="210.10" stroke="#000" stroke-width="1.4" />
<line x1="592.90" y1="32.80" x2="592.90" y2="39.60" stroke="#000" stroke-width="1.4" />
<line x1="421.90" y1="216.90" x2="421.90" y2="212.40" stroke="#000" stroke-width="1.1" />
<line x1="421.90" y1="32.80" x2="421.90" y2="37.30" stroke="#000" stroke-width="1.1" />
<line x1="430.90" y1="216.90" x2="430.90" y2="212.40" stroke="#000" stroke-width="1.1" />
<line x1="430.90" y1="32.80" x2="430.90" y2="37.30" stroke="#000" stroke-width="1.1" />
<line x1="439.90" y1="216.90" x2="439.90" y2="212.40" stroke="#000" stroke-width="1.1" />
<line x1="439.90" y1="32.80" x2="439.90" y2="37.30" stroke="#000" stroke-width="1.1" />
<line x1="448.90" y1="216.90" x2="448.90" y2="212.40" stroke="#000" stroke-width="1.1" />
<line x1="448.90" y1="32.80" x2="448.90" y2="37.30" stroke="#000" stroke-width="1.1" />
<line x1="466.90" y1="216.90" x2="466.90" y2="212.40" stroke="#000" stroke-width="1.1" />
<line x1="466.90" y1="32.80" x2="466.90" y2="37.30" stroke="#000" stroke-width="1.1" />
<line x1="475.90" y1="216.90" x2="475.90" y2="212.40" stroke="#000" stroke-width="1.1" />
<line x1="475.90" y1="32.80" x2="475.90" y2="37.30" stroke="#000" stroke-width="1.1" />
<line x1="484.90" y1="216.90" x2="484.90" y2="212.40" stroke="#000" stroke-width="1.1" />
<line x1="484.90" y1="32.80" x2="484.90" y2="37.30" stroke="#000" stroke-width="1.1" />
<line x1="493.90" y1="216.90" x2="493.90" y2="212.40" stroke="#000" stroke-width="1.1" />
<line x1="493.90" y1="32.80" x2="493.90" y2="37.30" stroke="#000" stroke-width="1.1" />
<line x1="511.90" y1="216.90" x2="511.90" y2="212.40" stroke="#000" stroke-width="1.1" />
<line x1="511.90" y1="32.80" x2="511.90" y2="37.30" stroke="#000" stroke-width="1.1" />
<line x1="520.90" y1="216.90" x2="520.90" y2="212.40" stroke="#000" stroke-width="1.1" />
<line x1="520.90" y1="32.80" x2="520.90" y2="37.30" stroke="#000" stroke-width="1.1" />
<line x1="529.90" y1="216.90" x2="529.90" y2="212.40" stroke="#000" stroke-width="1.1" />
<line x1="529.90" y1="32.80" x2="529.90" y2="37.30" stroke="#000" stroke-width="1.1" />
<line x1="538.90" y1="216.90" x2="538.90" y2="212.40" stroke="#000" stroke-width="1.1" />
<line x1="538.90" y1="32.80" x2="538.90" y2="37.30" stroke="#000" stroke-width="1.1" />
<line x1="556.90" y1="216.90" x2="556.90" y2="212.40" stroke="#000" stroke-width="1.1" />
<line x1="556.90" y1="32.80" x2="556.90" y2="37.30" stroke="#000" stroke-width="1.1" />
<line x1="565.90" y1="216.90" x2="565.90" y2="212.40" stroke="#000" stroke-width="1.1" />
<line x1="565.90" y1="32.80" x2="565.90" y2="37.30" stroke="#000" stroke-width="1.1" />
<line x1="574.90" y1="216.90" x2="574.90" y2="212.40" stroke="#000" stroke-width="1.1" />
<line x1="574.90" y1="32.80" x2="574.90" y2="37.30" stroke="#000" stroke-width="1.1" />
<line x1="583.90" y1="216.90" x2="583.90" y2="212.40" stroke="#000" stroke-width="1.1" />
<line x1="583.90" y1="32.80" x2="583.90" y2="37.30" stroke="#000" stroke-width="1.1" />
<line x1="601.90" y1="216.90" x2="601.90" y2="212.40" stroke="#000" stroke-width="1.1" />
<line x1="601.90" y1="32.80" x2="601.90" y2="37.30" stroke="#000" stroke-width="1.1" />
<line x1="610.90" y1="216.90" x2="610.90" y2="212.40" stroke="#000" stroke-width="1.1" />
<line x1="610.90" y1="32.80" x2="610.90" y2="37.30" stroke="#000" stroke-width="1.1" />
<line x1="421.00" y1="194.60" x2="427.80" y2="194.60" stroke="#000" stroke-width="1.4" />
<line x1="615.50" y1="194.60" x2="608.70" y2="194.60" stroke="#000" stroke-width="1.4" />
<line x1="421.00" y1="139.00" x2="427.80" y2="139.00" stroke="#000" stroke-width="1.4" />
<line x1="615.50" y1="139.00" x2="608.70" y2="139.00" stroke="#000" stroke-width="1.4" />
<line x1="421.00" y1="83.40" x2="427.80" y2="83.40" stroke="#000" stroke-width="1.4" />
<line x1="615.50" y1="83.40" x2="608.70" y2="83.40" stroke="#000" stroke-width="1.4" />
<line x1="421.00" y1="216.84" x2="425.50" y2="216.84" stroke="#000" stroke-width="1.1" />
<line x1="615.50" y1="216.84" x2="611.00" y2="216.84" stroke="#000" stroke-width="1.1" />
<line x1="421.00" y1="205.72" x2="425.50" y2="205.72" stroke="#000" stroke-width="1.1" />
<line x1="615.50" y1="205.72" x2="611.00" y2="205.72" stroke="#000" stroke-width="1.1" />
<line x1="421.00" y1="183.48" x2="425.50" y2="183.48" stroke="#000" stroke-width="1.1" />
<line x1="615.50" y1="183.48" x2="611.00" y2="183.48" stroke="#000" stroke-width="1.1" />
<line x1="421.00" y1="172.36" x2="425.50" y2="172.36" stroke="#000" stroke-width="1.1" />
<line x1="615.50" y1="172.36" x2="611.00" y2="172.36" stroke="#000" stroke-width="1.1" />
<line x1="421.00" y1="161.24" x2="425.50" y2="161.24" stroke="#000" stroke-width="1.1" />
<line x1="615.50" y1="161.24" x2="611.00" y2="161.24" stroke="#000" stroke-width="1.1" />
<line x1="421.00" y1="150.12" x2="425.50" y2="150.12" stroke="#000" stroke-width="1.1" />
<line x1="615.50" y1="150.12" x2="611.00" y2="150.12" stroke="#000" stroke-width="1.1" />
<line x1="421.00" y1="127.88" x2="425.50" y2="127.88" stroke="#000" stroke-width="1.1" />
<line x1="615.50" y1="127.88" x2="611.00" y2="127.88" stroke="#000" stroke-width="1.1" />
<line x1="421.00" y1="116.76" x2="425.50" y2="116.76" stroke="#000" stroke-width="1.1" />
<line x1="615.50" y1="116.76" x2="611.00" y2="116.76" stroke="#000" stroke-width="1.1" />
<line x1="421.00" y1="105.64" x2="425.50" y2="105.64" stroke="#000" stroke-width="1.1" />
<line x1="615.50" y1="105.64" x2="611.00" y2="105.64" stroke="#000" stroke-width="1.1" />
<line x1="421.00" y1="94.52" x2="425.50" y2="94.52" stroke="#000" stroke-width="1.1" />
<line x1="615.50" y1="94.52" x2="611.00" y2="94.52" stroke="#000" stroke-width="1.1" />
<line x1="421.00" y1="72.28" x2="425.50" y2="72.28" stroke="#000" stroke-width="1.1" />
<line x1="615.50" y1="72.28" x2="611.00" y2="72.28" stroke="#000" stroke-width="1.1" />
<line x1="421.00" y1="61.16" x2="425.50" y2="61.16" stroke="#000" stroke-width="1.1" />
<line x1="615.50" y1="61.16" x2="611.00" y2="61.16" stroke="#000" stroke-width="1.1" />
<line x1="421.00" y1="50.04" x2="425.50" y2="50.04" stroke="#000" stroke-width="1.1" />
<line x1="615.50" y1="50.04" x2="611.00" y2="50.04" stroke="#000" stroke-width="1.1" />
<line x1="421.00" y1="38.92" x2="425.50" y2="38.92" stroke="#000" stroke-width="1.1" />
<line x1="615.50" y1="38.92" x2="611.00" y2="38.92" stroke="#000" stroke-width="1.1" />
<text x="457.90" y="25.00" font-size="12.19" fill="#000" text-anchor="middle" textLength="14.63" lengthAdjust="spacingAndGlyphs" >30</text>
<text x="502.90" y="25.00" font-size="12.19" fill="#000" text-anchor="middle" textLength="14.63" lengthAdjust="spacingAndGlyphs" >40</text>
<text x="547.90" y="25.00" font-size="12.19" fill="#000" text-anchor="middle" textLength="14.63" lengthAdjust="spacingAndGlyphs" >50</text>
<text x="592.90" y="25.00" font-size="12.19" fill="#000" text-anchor="middle" textLength="14.63" lengthAdjust="spacingAndGlyphs" >60</text>
<text x="415.30" y="199.20" font-size="12.19" fill="#000" text-anchor="end" textLength="18.29" lengthAdjust="spacingAndGlyphs" >2.5</text>
<text x="415.30" y="143.60" font-size="12.19" fill="#000" text-anchor="end" textLength="18.29" lengthAdjust="spacingAndGlyphs" >3.0</text>
<text x="415.30" y="88.00" font-size="12.19" fill="#000" text-anchor="end" textLength="18.29" lengthAdjust="spacingAndGlyphs" >3.5</text>
<text x="518.20" y="9.80" font-size="12.19" text-anchor="middle" textLength="104.0" lengthAdjust="spacingAndGlyphs">temperature <tspan font-style="italic">T</tspan> (K)</text>
<text x="0.00" y="0.00" font-size="12.19" text-anchor="middle" textLength="64.80" lengthAdjust="spacingAndGlyphs" transform="translate(388.0,124.8) rotate(-90)"><tspan font-style="italic">B</tspan><tspan font-size="8.53" dx="1.2" dy="2.6">⊥</tspan><tspan dy="-2.6"> − </tspan><tspan font-style="italic">B</tspan><tspan font-size="8.53" font-style="italic" dy="2.2">C</tspan><tspan dy="-2.2"> (T)</tspan></text>
<rect x="541.40" y="32.80" width="74.10" height="20.20" fill="#fff" stroke="#000" stroke-width="1.3" />
<text x="544.90" y="47.60" font-size="15.16" fill="#1f77b4" textLength="65.03" lengthAdjust="spacingAndGlyphs" >skyrmion</text>
<rect x="421.00" y="32.80" width="16.50" height="20.80" fill="#fff" stroke="#000" stroke-width="1.3" />
<text x="429.20" y="47.50" font-size="15.16" fill="#000" text-anchor="middle" font-weight="bold" textLength="10.24" lengthAdjust="spacingAndGlyphs" >g</text>
<defs><linearGradient id="cbg" x1="0" y1="1" x2="0" y2="0"><stop offset="0.0000" stop-color="#9e0142"/><stop offset="0.1111" stop-color="#d53e4f"/><stop offset="0.2222" stop-color="#f46d43"/><stop offset="0.3333" stop-color="#fdae61"/><stop offset="0.4444" stop-color="#fee08b"/><stop offset="0.5556" stop-color="#ffffbf"/><stop offset="0.6667" stop-color="#e6f598"/><stop offset="0.7778" stop-color="#abdda4"/><stop offset="0.8889" stop-color="#66c2a5"/><stop offset="1.0000" stop-color="#3288bd"/></linearGradient></defs>
<rect x="620.50" y="32.60" width="10.30" height="184.30" fill="url(#cbg)" stroke="#000" stroke-width="1.0" />
<line x1="630.80" y1="195.70" x2="635.80" y2="195.70" stroke="#000" stroke-width="1.2" />
<text x="641.1" y="200.60" font-size="12.19" textLength="14.63" lengthAdjust="spacingAndGlyphs">10</text>
<text x="656.03" y="195.10" font-size="8.53" textLength="11.87" lengthAdjust="spacingAndGlyphs">−5</text>
<line x1="630.80" y1="175.31" x2="635.80" y2="175.31" stroke="#000" stroke-width="1.2" />
<text x="641.1" y="180.21" font-size="12.19" textLength="14.63" lengthAdjust="spacingAndGlyphs">10</text>
<text x="656.03" y="174.71" font-size="8.53" textLength="5.12" lengthAdjust="spacingAndGlyphs">0</text>
<line x1="630.80" y1="154.92" x2="635.80" y2="154.92" stroke="#000" stroke-width="1.2" />
<text x="641.1" y="159.82" font-size="12.19" textLength="14.63" lengthAdjust="spacingAndGlyphs">10</text>
<text x="656.03" y="154.32" font-size="8.53" textLength="5.12" lengthAdjust="spacingAndGlyphs">5</text>
<line x1="630.80" y1="134.54" x2="635.80" y2="134.54" stroke="#000" stroke-width="1.2" />
<text x="641.1" y="139.44" font-size="12.19" textLength="14.63" lengthAdjust="spacingAndGlyphs">10</text>
<text x="656.03" y="133.94" font-size="8.53" textLength="10.24" lengthAdjust="spacingAndGlyphs">10</text>
<line x1="630.80" y1="114.15" x2="635.80" y2="114.15" stroke="#000" stroke-width="1.2" />
<text x="641.1" y="119.05" font-size="12.19" textLength="14.63" lengthAdjust="spacingAndGlyphs">10</text>
<text x="656.03" y="113.55" font-size="8.53" textLength="10.24" lengthAdjust="spacingAndGlyphs">15</text>
<line x1="630.80" y1="93.76" x2="635.80" y2="93.76" stroke="#000" stroke-width="1.2" />
<text x="641.1" y="98.66" font-size="12.19" textLength="14.63" lengthAdjust="spacingAndGlyphs">10</text>
<text x="656.03" y="93.16" font-size="8.53" textLength="10.24" lengthAdjust="spacingAndGlyphs">20</text>
<line x1="630.80" y1="73.37" x2="635.80" y2="73.37" stroke="#000" stroke-width="1.2" />
<text x="641.1" y="78.27" font-size="12.19" textLength="14.63" lengthAdjust="spacingAndGlyphs">10</text>
<text x="656.03" y="72.77" font-size="8.53" textLength="10.24" lengthAdjust="spacingAndGlyphs">25</text>
<line x1="630.80" y1="52.99" x2="635.80" y2="52.99" stroke="#000" stroke-width="1.2" />
<text x="641.1" y="57.89" font-size="12.19" textLength="14.63" lengthAdjust="spacingAndGlyphs">10</text>
<text x="656.03" y="52.39" font-size="8.53" textLength="10.24" lengthAdjust="spacingAndGlyphs">30</text>
<text x="0" y="0" font-size="12.19" text-anchor="middle" textLength="25.54" lengthAdjust="spacingAndGlyphs" transform="translate(682.4,124.75) rotate(-90)"><tspan font-style="italic">τ</tspan> (s)</text>
<path d="M430.44,228.00 L432.18,232.70 L433.88,237.40 L435.52,242.10 L437.13,246.80 L438.70,251.50 L440.24,256.20 L441.75,260.90 L443.25,265.60 L444.73,270.30 L446.19,275.00 L447.66,279.70 L449.12,284.40 L450.59,289.10 L452.06,293.80 L453.55,298.50 L455.06,303.20 L456.60,307.90 L458.17,312.60 L459.77,317.30 L461.41,322.00 L463.09,326.70 L464.82,331.40 L466.61,336.10 L468.46,340.80 L470.38,345.50 L472.36,350.20 L474.42,354.90 L476.56,359.60 L478.79,364.30 L481.10,369.00 L483.51,373.70 L486.02,378.40 L488.64,383.10 L491.37,387.80 L494.21,392.50 L497.17,397.20 L500.26,401.90 L503.47,406.60 L506.83,411.30" fill="none" stroke="#000" stroke-width="2.2" />
<path d="M456.63,228.00 L458.31,232.70 L460.00,237.40 L461.70,242.10 L463.40,246.80 L465.12,251.50 L466.86,256.20 L468.61,260.90 L470.39,265.60 L472.19,270.30 L474.01,275.00 L475.86,279.70 L477.74,284.40 L479.65,289.10 L481.60,293.80 L483.58,298.50 L485.60,303.20 L487.67,307.90 L489.78,312.60 L491.93,317.30 L494.13,322.00 L496.39,326.70 L498.70,331.40 L501.06,336.10 L503.48,340.80 L505.96,345.50 L508.51,350.20 L511.12,354.90 L513.80,359.60 L516.54,364.30 L519.36,369.00 L522.26,373.70 L525.23,378.40 L528.28,383.10 L531.41,387.80 L534.63,392.50 L537.93,397.20 L541.32,401.90 L544.81,406.60 L548.38,411.30" fill="none" stroke="#000" stroke-width="2.2" />
<path d="M472.58,228.00 L474.73,232.70 L476.83,237.40 L478.90,242.10 L480.94,246.80 L482.96,251.50 L484.95,256.20 L486.93,260.90 L488.91,265.60 L490.88,270.30 L492.86,275.00 L494.85,279.70 L496.86,284.40 L498.89,289.10 L500.94,293.80 L503.03,298.50 L505.16,303.20 L507.34,307.90 L509.56,312.60 L511.85,317.30 L514.20,322.00 L516.61,326.70 L519.10,331.40 L521.68,336.10 L524.33,340.80 L527.09,345.50 L529.94,350.20 L532.89,354.90 L535.95,359.60 L539.13,364.30 L542.43,369.00 L545.86,373.70 L549.43,378.40 L553.13,383.10 L556.98,387.80 L560.98,392.50 L565.13,397.20 L569.45,401.90 L573.94,406.60 L578.60,411.30" fill="none" stroke="#000" stroke-width="2.2" />
<line x1="511.00" y1="289.80" x2="501.20" y2="294.00" stroke="#000" stroke-width="1.0" />
<line x1="514.90" y1="335.00" x2="503.20" y2="340.60" stroke="#000" stroke-width="1.0" />
<line x1="504.40" y1="381.90" x2="492.00" y2="387.80" stroke="#000" stroke-width="1.0" />
<rect x="514.20" y="273.20" width="27.80" height="19.70" fill="rgba(255,255,255,0.7)" stroke="rgba(0,0,0,0.72)" stroke-width="1.4" />
<text x="519.60" y="286.80" font-size="12.19" fill="#000" textLength="18.26" lengthAdjust="spacingAndGlyphs" >1 h</text>
<rect x="517.80" y="306.50" width="40.40" height="33.10" fill="rgba(255,255,255,0.7)" stroke="rgba(0,0,0,0.72)" stroke-width="1.4" />
<text x="522.60" y="320.40" font-size="12.19" fill="#000" textLength="7.32" lengthAdjust="spacingAndGlyphs" >1</text>
<text x="522.60" y="333.20" font-size="12.19" fill="#000" textLength="30.22" lengthAdjust="spacingAndGlyphs" >week</text>
<rect x="507.50" y="353.00" width="41.00" height="33.00" fill="rgba(255,255,255,0.7)" stroke="rgba(0,0,0,0.72)" stroke-width="1.4" />
<text x="512.40" y="366.80" font-size="12.19" fill="#000" textLength="29.27" lengthAdjust="spacingAndGlyphs" >1000</text>
<text x="512.40" y="379.60" font-size="12.19" fill="#000" textLength="31.65" lengthAdjust="spacingAndGlyphs" >years</text>
<rect x="421.00" y="228.00" width="194.50" height="183.30" fill="none" stroke="#000" stroke-width="1.3" />
<line x1="435.90" y1="411.30" x2="435.90" y2="404.50" stroke="#000" stroke-width="1.4" />
<line x1="435.90" y1="228.00" x2="435.90" y2="234.80" stroke="#000" stroke-width="1.4" />
<line x1="471.90" y1="411.30" x2="471.90" y2="404.50" stroke="#000" stroke-width="1.4" />
<line x1="471.90" y1="228.00" x2="471.90" y2="234.80" stroke="#000" stroke-width="1.4" />
<line x1="507.90" y1="411.30" x2="507.90" y2="404.50" stroke="#000" stroke-width="1.4" />
<line x1="507.90" y1="228.00" x2="507.90" y2="234.80" stroke="#000" stroke-width="1.4" />
<line x1="543.90" y1="411.30" x2="543.90" y2="404.50" stroke="#000" stroke-width="1.4" />
<line x1="543.90" y1="228.00" x2="543.90" y2="234.80" stroke="#000" stroke-width="1.4" />
<line x1="579.90" y1="411.30" x2="579.90" y2="404.50" stroke="#000" stroke-width="1.4" />
<line x1="579.90" y1="228.00" x2="579.90" y2="234.80" stroke="#000" stroke-width="1.4" />
<line x1="421.50" y1="411.30" x2="421.50" y2="406.80" stroke="#000" stroke-width="1.1" />
<line x1="421.50" y1="228.00" x2="421.50" y2="232.50" stroke="#000" stroke-width="1.1" />
<line x1="428.70" y1="411.30" x2="428.70" y2="406.80" stroke="#000" stroke-width="1.1" />
<line x1="428.70" y1="228.00" x2="428.70" y2="232.50" stroke="#000" stroke-width="1.1" />
<line x1="443.10" y1="411.30" x2="443.10" y2="406.80" stroke="#000" stroke-width="1.1" />
<line x1="443.10" y1="228.00" x2="443.10" y2="232.50" stroke="#000" stroke-width="1.1" />
<line x1="450.30" y1="411.30" x2="450.30" y2="406.80" stroke="#000" stroke-width="1.1" />
<line x1="450.30" y1="228.00" x2="450.30" y2="232.50" stroke="#000" stroke-width="1.1" />
<line x1="457.50" y1="411.30" x2="457.50" y2="406.80" stroke="#000" stroke-width="1.1" />
<line x1="457.50" y1="228.00" x2="457.50" y2="232.50" stroke="#000" stroke-width="1.1" />
<line x1="464.70" y1="411.30" x2="464.70" y2="406.80" stroke="#000" stroke-width="1.1" />
<line x1="464.70" y1="228.00" x2="464.70" y2="232.50" stroke="#000" stroke-width="1.1" />
<line x1="479.10" y1="411.30" x2="479.10" y2="406.80" stroke="#000" stroke-width="1.1" />
<line x1="479.10" y1="228.00" x2="479.10" y2="232.50" stroke="#000" stroke-width="1.1" />
<line x1="486.30" y1="411.30" x2="486.30" y2="406.80" stroke="#000" stroke-width="1.1" />
<line x1="486.30" y1="228.00" x2="486.30" y2="232.50" stroke="#000" stroke-width="1.1" />
<line x1="493.50" y1="411.30" x2="493.50" y2="406.80" stroke="#000" stroke-width="1.1" />
<line x1="493.50" y1="228.00" x2="493.50" y2="232.50" stroke="#000" stroke-width="1.1" />
<line x1="500.70" y1="411.30" x2="500.70" y2="406.80" stroke="#000" stroke-width="1.1" />
<line x1="500.70" y1="228.00" x2="500.70" y2="232.50" stroke="#000" stroke-width="1.1" />
<line x1="515.10" y1="411.30" x2="515.10" y2="406.80" stroke="#000" stroke-width="1.1" />
<line x1="515.10" y1="228.00" x2="515.10" y2="232.50" stroke="#000" stroke-width="1.1" />
<line x1="522.30" y1="411.30" x2="522.30" y2="406.80" stroke="#000" stroke-width="1.1" />
<line x1="522.30" y1="228.00" x2="522.30" y2="232.50" stroke="#000" stroke-width="1.1" />
<line x1="529.50" y1="411.30" x2="529.50" y2="406.80" stroke="#000" stroke-width="1.1" />
<line x1="529.50" y1="228.00" x2="529.50" y2="232.50" stroke="#000" stroke-width="1.1" />
<line x1="536.70" y1="411.30" x2="536.70" y2="406.80" stroke="#000" stroke-width="1.1" />
<line x1="536.70" y1="228.00" x2="536.70" y2="232.50" stroke="#000" stroke-width="1.1" />
<line x1="551.10" y1="411.30" x2="551.10" y2="406.80" stroke="#000" stroke-width="1.1" />
<line x1="551.10" y1="228.00" x2="551.10" y2="232.50" stroke="#000" stroke-width="1.1" />
<line x1="558.30" y1="411.30" x2="558.30" y2="406.80" stroke="#000" stroke-width="1.1" />
<line x1="558.30" y1="228.00" x2="558.30" y2="232.50" stroke="#000" stroke-width="1.1" />
<line x1="565.50" y1="411.30" x2="565.50" y2="406.80" stroke="#000" stroke-width="1.1" />
<line x1="565.50" y1="228.00" x2="565.50" y2="232.50" stroke="#000" stroke-width="1.1" />
<line x1="572.70" y1="411.30" x2="572.70" y2="406.80" stroke="#000" stroke-width="1.1" />
<line x1="572.70" y1="228.00" x2="572.70" y2="232.50" stroke="#000" stroke-width="1.1" />
<line x1="587.10" y1="411.30" x2="587.10" y2="406.80" stroke="#000" stroke-width="1.1" />
<line x1="587.10" y1="228.00" x2="587.10" y2="232.50" stroke="#000" stroke-width="1.1" />
<line x1="594.30" y1="411.30" x2="594.30" y2="406.80" stroke="#000" stroke-width="1.1" />
<line x1="594.30" y1="228.00" x2="594.30" y2="232.50" stroke="#000" stroke-width="1.1" />
<line x1="601.50" y1="411.30" x2="601.50" y2="406.80" stroke="#000" stroke-width="1.1" />
<line x1="601.50" y1="228.00" x2="601.50" y2="232.50" stroke="#000" stroke-width="1.1" />
<line x1="608.70" y1="411.30" x2="608.70" y2="406.80" stroke="#000" stroke-width="1.1" />
<line x1="608.70" y1="228.00" x2="608.70" y2="232.50" stroke="#000" stroke-width="1.1" />
<line x1="421.00" y1="411.30" x2="427.80" y2="411.30" stroke="#000" stroke-width="1.4" />
<line x1="615.50" y1="411.30" x2="608.70" y2="411.30" stroke="#000" stroke-width="1.4" />
<line x1="421.00" y1="365.10" x2="427.80" y2="365.10" stroke="#000" stroke-width="1.4" />
<line x1="615.50" y1="365.10" x2="608.70" y2="365.10" stroke="#000" stroke-width="1.4" />
<line x1="421.00" y1="318.90" x2="427.80" y2="318.90" stroke="#000" stroke-width="1.4" />
<line x1="615.50" y1="318.90" x2="608.70" y2="318.90" stroke="#000" stroke-width="1.4" />
<line x1="421.00" y1="272.70" x2="427.80" y2="272.70" stroke="#000" stroke-width="1.4" />
<line x1="615.50" y1="272.70" x2="608.70" y2="272.70" stroke="#000" stroke-width="1.4" />
<line x1="421.00" y1="402.06" x2="425.50" y2="402.06" stroke="#000" stroke-width="1.1" />
<line x1="615.50" y1="402.06" x2="611.00" y2="402.06" stroke="#000" stroke-width="1.1" />
<line x1="421.00" y1="392.82" x2="425.50" y2="392.82" stroke="#000" stroke-width="1.1" />
<line x1="615.50" y1="392.82" x2="611.00" y2="392.82" stroke="#000" stroke-width="1.1" />
<line x1="421.00" y1="383.58" x2="425.50" y2="383.58" stroke="#000" stroke-width="1.1" />
<line x1="615.50" y1="383.58" x2="611.00" y2="383.58" stroke="#000" stroke-width="1.1" />
<line x1="421.00" y1="374.34" x2="425.50" y2="374.34" stroke="#000" stroke-width="1.1" />
<line x1="615.50" y1="374.34" x2="611.00" y2="374.34" stroke="#000" stroke-width="1.1" />
<line x1="421.00" y1="355.86" x2="425.50" y2="355.86" stroke="#000" stroke-width="1.1" />
<line x1="615.50" y1="355.86" x2="611.00" y2="355.86" stroke="#000" stroke-width="1.1" />
<line x1="421.00" y1="346.62" x2="425.50" y2="346.62" stroke="#000" stroke-width="1.1" />
<line x1="615.50" y1="346.62" x2="611.00" y2="346.62" stroke="#000" stroke-width="1.1" />
<line x1="421.00" y1="337.38" x2="425.50" y2="337.38" stroke="#000" stroke-width="1.1" />
<line x1="615.50" y1="337.38" x2="611.00" y2="337.38" stroke="#000" stroke-width="1.1" />
<line x1="421.00" y1="328.14" x2="425.50" y2="328.14" stroke="#000" stroke-width="1.1" />
<line x1="615.50" y1="328.14" x2="611.00" y2="328.14" stroke="#000" stroke-width="1.1" />
<line x1="421.00" y1="309.66" x2="425.50" y2="309.66" stroke="#000" stroke-width="1.1" />
<line x1="615.50" y1="309.66" x2="611.00" y2="309.66" stroke="#000" stroke-width="1.1" />
<line x1="421.00" y1="300.42" x2="425.50" y2="300.42" stroke="#000" stroke-width="1.1" />
<line x1="615.50" y1="300.42" x2="611.00" y2="300.42" stroke="#000" stroke-width="1.1" />
<line x1="421.00" y1="291.18" x2="425.50" y2="291.18" stroke="#000" stroke-width="1.1" />
<line x1="615.50" y1="291.18" x2="611.00" y2="291.18" stroke="#000" stroke-width="1.1" />
<line x1="421.00" y1="281.94" x2="425.50" y2="281.94" stroke="#000" stroke-width="1.1" />
<line x1="615.50" y1="281.94" x2="611.00" y2="281.94" stroke="#000" stroke-width="1.1" />
<line x1="421.00" y1="263.46" x2="425.50" y2="263.46" stroke="#000" stroke-width="1.1" />
<line x1="615.50" y1="263.46" x2="611.00" y2="263.46" stroke="#000" stroke-width="1.1" />
<line x1="421.00" y1="254.22" x2="425.50" y2="254.22" stroke="#000" stroke-width="1.1" />
<line x1="615.50" y1="254.22" x2="611.00" y2="254.22" stroke="#000" stroke-width="1.1" />
<line x1="421.00" y1="244.98" x2="425.50" y2="244.98" stroke="#000" stroke-width="1.1" />
<line x1="615.50" y1="244.98" x2="611.00" y2="244.98" stroke="#000" stroke-width="1.1" />
<line x1="421.00" y1="235.74" x2="425.50" y2="235.74" stroke="#000" stroke-width="1.1" />
<line x1="615.50" y1="235.74" x2="611.00" y2="235.74" stroke="#000" stroke-width="1.1" />
<text x="435.90" y="426.30" font-size="12.19" fill="#000" text-anchor="middle" textLength="14.63" lengthAdjust="spacingAndGlyphs" >15</text>
<text x="471.90" y="426.30" font-size="12.19" fill="#000" text-anchor="middle" textLength="14.63" lengthAdjust="spacingAndGlyphs" >20</text>
<text x="507.90" y="426.30" font-size="12.19" fill="#000" text-anchor="middle" textLength="14.63" lengthAdjust="spacingAndGlyphs" >25</text>
<text x="543.90" y="426.30" font-size="12.19" fill="#000" text-anchor="middle" textLength="14.63" lengthAdjust="spacingAndGlyphs" >30</text>
<text x="579.90" y="426.30" font-size="12.19" fill="#000" text-anchor="middle" textLength="14.63" lengthAdjust="spacingAndGlyphs" >35</text>
<text x="415.50" y="415.90" font-size="12.19" fill="#000" text-anchor="end" textLength="7.32" lengthAdjust="spacingAndGlyphs" >0</text>
<text x="415.50" y="369.70" font-size="12.19" fill="#000" text-anchor="end" textLength="7.32" lengthAdjust="spacingAndGlyphs" >1</text>
<text x="415.50" y="323.50" font-size="12.19" fill="#000" text-anchor="end" textLength="7.32" lengthAdjust="spacingAndGlyphs" >2</text>
<text x="415.50" y="277.30" font-size="12.19" fill="#000" text-anchor="end" textLength="7.32" lengthAdjust="spacingAndGlyphs" >3</text>
<text x="518.00" y="443.00" font-size="12.19" text-anchor="middle" textLength="104.0" lengthAdjust="spacingAndGlyphs">temperature <tspan font-style="italic">T</tspan> (K)</text>
<text x="0.00" y="0.00" font-size="12.19" text-anchor="middle" textLength="64.80" lengthAdjust="spacingAndGlyphs" transform="translate(398.7,319.0) rotate(-90)"><tspan font-style="italic">B</tspan><tspan font-size="8.53" dx="1.2" dy="2.6">⊥</tspan><tspan dy="-2.6"> − </tspan><tspan font-style="italic">B</tspan><tspan font-size="8.53" font-style="italic" dy="2.2">C</tspan><tspan dy="-2.2"> (T)</tspan></text>
<rect x="513.80" y="228.00" width="101.70" height="20.60" fill="#fff" stroke="#000" stroke-width="1.3" />
<text x="517.50" y="243.00" font-size="15.16" fill="#d62728" textLength="92.44" lengthAdjust="spacingAndGlyphs" >antiskyrmion</text>
<rect x="421.00" y="228.00" width="16.60" height="20.50" fill="#fff" stroke="#000" stroke-width="1.3" />
<text x="429.20" y="242.80" font-size="15.16" fill="#000" text-anchor="middle" font-weight="bold" textLength="10.18" lengthAdjust="spacingAndGlyphs" >h</text>
<defs><linearGradient id="cbh" x1="0" y1="1" x2="0" y2="0"><stop offset="0.0000" stop-color="#9e0142"/><stop offset="0.1111" stop-color="#d53e4f"/><stop offset="0.2222" stop-color="#f46d43"/><stop offset="0.3333" stop-color="#fdae61"/><stop offset="0.4444" stop-color="#fee08b"/><stop offset="0.5556" stop-color="#ffffbf"/><stop offset="0.6667" stop-color="#e6f598"/><stop offset="0.7778" stop-color="#abdda4"/><stop offset="0.8889" stop-color="#66c2a5"/><stop offset="1.0000" stop-color="#3288bd"/></linearGradient></defs>
<rect x="620.50" y="228.00" width="10.30" height="183.50" fill="url(#cbh)" stroke="#000" stroke-width="1.0" />
<line x1="630.80" y1="390.39" x2="635.80" y2="390.39" stroke="#000" stroke-width="1.2" />
<text x="641.1" y="395.29" font-size="12.19" textLength="14.63" lengthAdjust="spacingAndGlyphs">10</text>
<text x="656.03" y="389.79" font-size="8.53" textLength="11.87" lengthAdjust="spacingAndGlyphs">−5</text>
<line x1="630.80" y1="370.09" x2="635.80" y2="370.09" stroke="#000" stroke-width="1.2" />
<text x="641.1" y="374.99" font-size="12.19" textLength="14.63" lengthAdjust="spacingAndGlyphs">10</text>
<text x="656.03" y="369.49" font-size="8.53" textLength="5.12" lengthAdjust="spacingAndGlyphs">0</text>
<line x1="630.80" y1="349.79" x2="635.80" y2="349.79" stroke="#000" stroke-width="1.2" />
<text x="641.1" y="354.69" font-size="12.19" textLength="14.63" lengthAdjust="spacingAndGlyphs">10</text>
<text x="656.03" y="349.19" font-size="8.53" textLength="5.12" lengthAdjust="spacingAndGlyphs">5</text>
<line x1="630.80" y1="329.49" x2="635.80" y2="329.49" stroke="#000" stroke-width="1.2" />
<text x="641.1" y="334.39" font-size="12.19" textLength="14.63" lengthAdjust="spacingAndGlyphs">10</text>
<text x="656.03" y="328.89" font-size="8.53" textLength="10.24" lengthAdjust="spacingAndGlyphs">10</text>
<line x1="630.80" y1="309.19" x2="635.80" y2="309.19" stroke="#000" stroke-width="1.2" />
<text x="641.1" y="314.09" font-size="12.19" textLength="14.63" lengthAdjust="spacingAndGlyphs">10</text>
<text x="656.03" y="308.59" font-size="8.53" textLength="10.24" lengthAdjust="spacingAndGlyphs">15</text>
<line x1="630.80" y1="288.90" x2="635.80" y2="288.90" stroke="#000" stroke-width="1.2" />
<text x="641.1" y="293.80" font-size="12.19" textLength="14.63" lengthAdjust="spacingAndGlyphs">10</text>
<text x="656.03" y="288.30" font-size="8.53" textLength="10.24" lengthAdjust="spacingAndGlyphs">20</text>
<line x1="630.80" y1="268.60" x2="635.80" y2="268.60" stroke="#000" stroke-width="1.2" />
<text x="641.1" y="273.50" font-size="12.19" textLength="14.63" lengthAdjust="spacingAndGlyphs">10</text>
<text x="656.03" y="268.00" font-size="8.53" textLength="10.24" lengthAdjust="spacingAndGlyphs">25</text>
<line x1="630.80" y1="248.30" x2="635.80" y2="248.30" stroke="#000" stroke-width="1.2" />
<text x="641.1" y="253.20" font-size="12.19" textLength="14.63" lengthAdjust="spacingAndGlyphs">10</text>
<text x="656.03" y="247.70" font-size="8.53" textLength="10.24" lengthAdjust="spacingAndGlyphs">30</text>
<text x="0" y="0" font-size="12.19" text-anchor="middle" textLength="25.54" lengthAdjust="spacingAndGlyphs" transform="translate(682.4,319.75) rotate(-90)"><tspan font-style="italic">τ</tspan> (s)</text>
</svg></div></body></html>
